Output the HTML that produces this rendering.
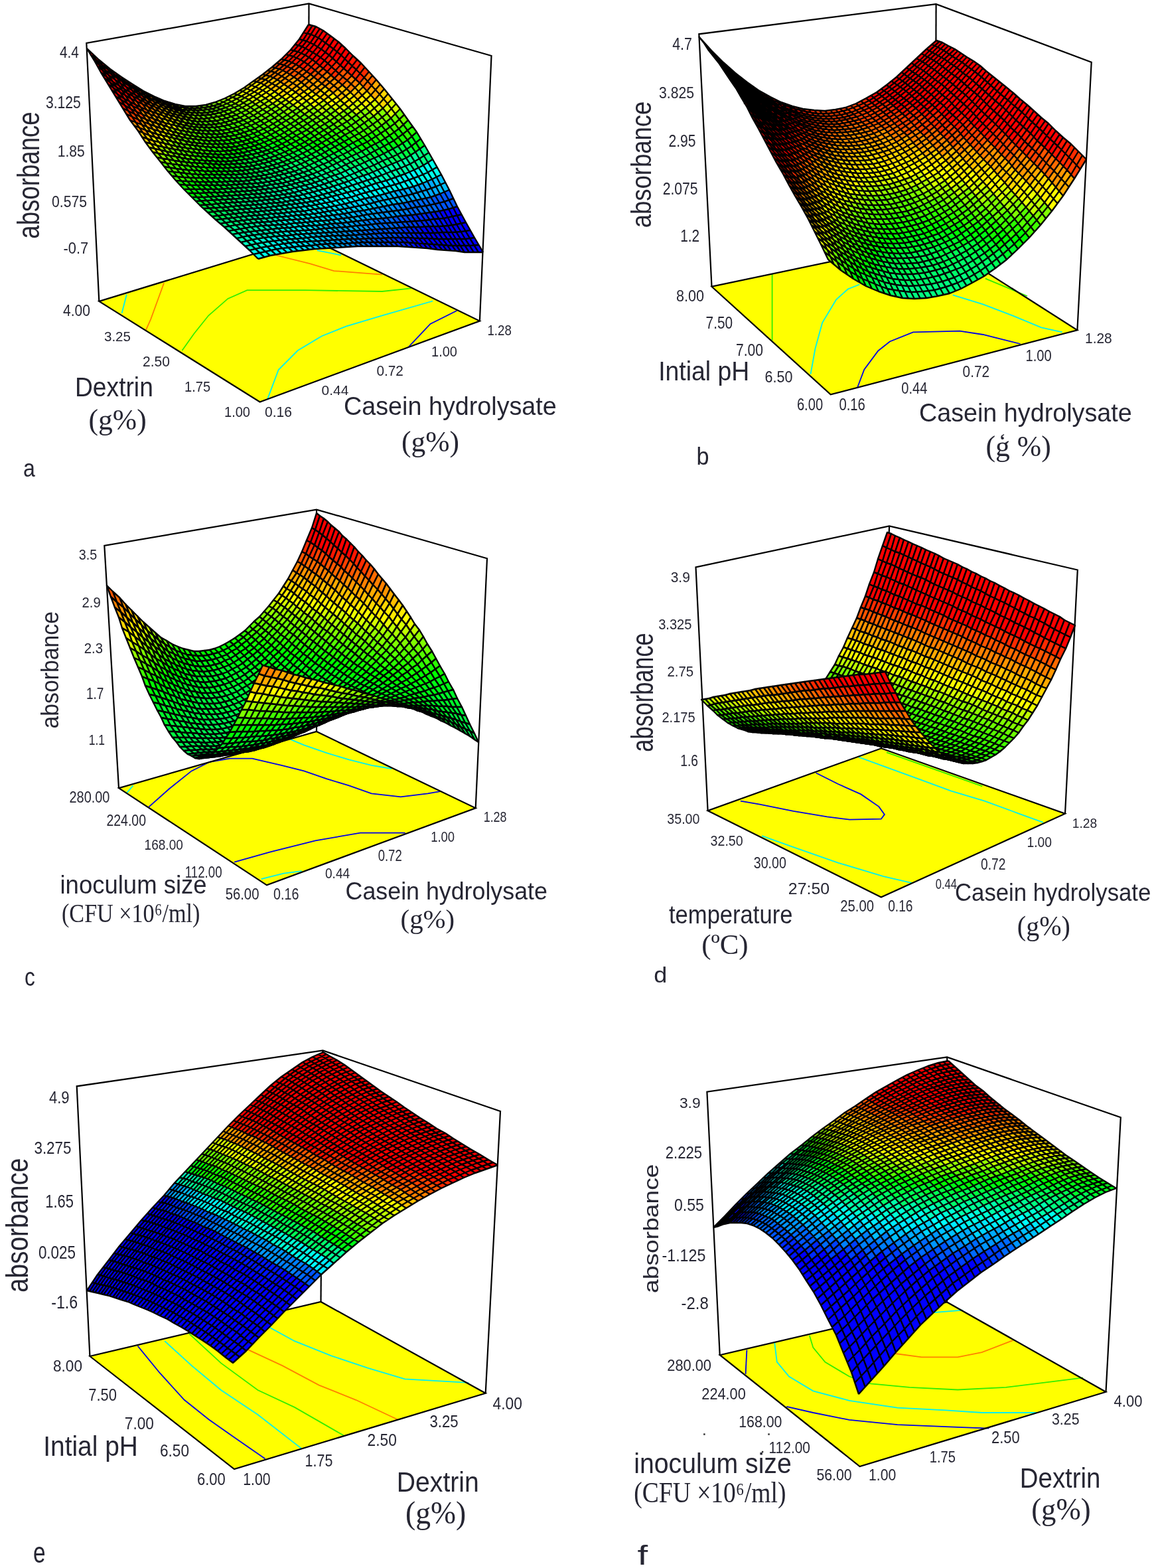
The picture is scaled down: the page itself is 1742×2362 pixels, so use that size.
<!DOCTYPE html>
<html><head><meta charset="utf-8"><title>Response surface plots</title>
<style>
html,body{margin:0;padding:0;background:#fff;}
body{width:1742px;height:2362px;overflow:hidden;}
svg{display:block;}
.ts{font-family:"Liberation Sans",Arial,sans-serif;fill:#262633;}
.tr{font-family:"Liberation Serif","Times New Roman",serif;fill:#262633;}
</style></head><body>
<svg xmlns="http://www.w3.org/2000/svg" width="1742" height="2362" viewBox="0 0 1742 2362">
<g id="pa">
<polyline fill="none" stroke="#000" stroke-width="2.2" points="149.3,453.9 130.3,65 465.5,5.5 740.5,84 722.9,483.5"/>
<line stroke="#000" stroke-width="2.2" x1="465.5" y1="5.5" x2="464.5" y2="357.5"/>
<polygon fill="#ff0" stroke="none" points="149.3,453.9 391.6,605.5 722.9,483.5 464.5,357.5"/>
<polyline fill="none" stroke="#00f0f0" stroke-width="1.8" points="190.8,443.7 183.6,471.7"/>
<polyline fill="none" stroke="#ff8000" stroke-width="1.8" points="247.1,426.3 227.2,480.8 219.9,497.1"/>
<polyline fill="none" stroke="#33ee00" stroke-width="1.8" points="274.4,528 292.5,502.5 314.3,475.3 343.4,449.9 372.4,437.2 459.6,437.2 575.8,439 619.4,434.3"/>
<polyline fill="none" stroke="#00f0f0" stroke-width="1.8" points="403.3,600.6 419.7,557 448.7,528 485,506.2 521.4,491.6 575.8,475.3 652.1,453.5"/>
<polyline fill="none" stroke="#0000e6" stroke-width="1.8" points="615.8,522.5 648.5,488 688.4,468"/>
<polyline fill="none" stroke="#ff8000" stroke-width="1.8" points="416,384.5 466.9,397.2 503.2,408.1 575.8,413.6"/>
<polyline fill="none" stroke="#00f0f0" stroke-width="1.8" points="477.8,377.2 514.1,384.5"/>
<polygon fill="none" stroke="#000" stroke-width="2.2" stroke-linejoin="miter" points="149.3,453.9 391.6,605.5 722.9,483.5 464.5,357.5"/>
<g stroke="none">
<path fill="#00ffea" d="M389 390l18 -5 -14 -12 -17 4zM407 385l17 -3 -13 -12 -18 3zM411 370l17 -3 -13 -11 -17 2zM428 367l17 -2 -14 -10 -16 1zM431 355l17 -2 -13 -10 -16 1zM435 343l17 -2 -13 -10 -17 1zM439 331l16 -1 -13 -11 -16 2zM455 330l16 -2 -13 -10 -16 1zM458 318l16 -3 -13 -10 -15 2zM474 315l16 -2 -13 -11 -16 3zM637 276l14 -6 -13 -21 -14 7zM651 270l14 -7 -13 -23 -14 9z"/>
<path fill="#00ffbf" d="M376 377l17 -4 -13 -12 -17 4zM380 361l18 -3 -13 -10 -17 2zM398 358l17 -2 -13 -10 -17 2zM402 346l17 -2 -13 -10 -17 1zM406 334l16 -2 -12 -10 -17 2zM410 322l16 -1 -12 -10 -17 2zM426 321l16 -2 -12 -10 -16 2zM430 309l16 -2 -13 -10 -16 3zM449 295l16 -4 -13 -10 -15 4zM465 291l15 -4 -12 -10 -16 4zM480 287l15 -4 -12 -11 -15 5zM567 276l15 -4 -13 -16 -14 6zM582 272l14 -5 -13 -17 -14 6z"/>
<path fill="#0fa" d="M363 365l17 -4 -12 -11 -18 3zM385 348l17 -2 -13 -11 -17 2zM389 335l17 -1 -13 -10 -16 1zM393 324l17 -2 -13 -9 -16 1zM397 313l17 -2 -13 -10 -16 2zM414 311l16 -2 -13 -9 -16 1zM417 300l16 -3 -12 -9 -16 2zM433 297l16 -2 -12 -10 -16 3zM495 283l15 -5 -12 -12 -15 6zM510 278l15 -5 -12 -12 -15 5zM525 273l15 -6 -12 -13 -15 7zM596 267l14 -5 -12 -18 -15 6zM610 262l14 -6 -12 -18 -14 6z"/>
<path fill="#00ff95" d="M350 353l18 -3 -13 -11 -17 3zM368 350l17 -2 -13 -11 -17 2zM372 337l17 -2 -12 -10 -17 2zM377 325l16 -1 -12 -10 -17 1zM381 314l16 -1 -12 -10 -16 1zM401 301l16 -1 -12 -10 -16 2zM405 290l16 -2 -12 -10 -16 3zM421 288l16 -3 -12 -9 -16 2zM437 285l15 -4 -12 -9 -15 4zM452 281l16 -4 -12 -10 -16 5zM468 277l15 -5 -12 -10 -15 5zM483 272l15 -6 -12 -10 -15 6zM540 267l15 -5 -13 -14 -14 6zM624 256l14 -7 -12 -20 -14 9z"/>
<path fill="#00ff80" d="M338 342l17 -3 -12 -10 -18 2zM355 339l17 -2 -12 -10 -17 2zM360 327l17 -2 -13 -10 -17 2zM364 315l17 -1 -12 -10 -17 1zM369 304l16 -1 -12 -10 -16 1zM385 303l16 -2 -12 -9 -16 1zM389 292l16 -2 -12 -9 -16 1zM393 281l16 -3 -12 -9 -16 2zM409 278l16 -2 -12 -10 -16 3zM425 276l15 -4 -12 -10 -15 4zM440 272l16 -5 -12 -9 -16 4zM456 267l15 -5 -12 -10 -15 6zM498 266l15 -5 -12 -12 -15 7zM513 261l15 -7 -13 -12 -14 7zM555 262l14 -6 -12 -15 -15 7zM569 256l14 -6 -12 -15 -14 6zM638 249l14 -9 -12 -21 -14 10z"/>
<path fill="#0f5" d="M325 331l18 -2 -13 -11 -17 2zM330 318l17 -1 -12 -11 -17 2zM335 306l17 -1 -12 -10 -17 1zM357 294l16 -1 -12 -10 -16 1zM361 283l16 -1 -12 -9 -16 0zM365 273l16 -2 -11 -9 -16 1zM381 271l16 -2 -12 -9 -15 2zM385 260l16 -3 -12 -9 -15 3zM401 257l15 -4 -11 -9 -16 4zM416 253l16 -5 -12 -9 -15 5zM459 252l15 -7 -12 -9 -15 6zM501 249l14 -7 -12 -11 -14 7zM542 248l15 -7 -12 -13 -15 7zM598 244l14 -6 -12 -18 -15 8z"/>
<path fill="#00ff40" d="M313 320l17 -2 -12 -10 -17 1zM318 308l17 -2 -12 -10 -17 1zM340 295l17 -1 -12 -10 -17 1zM345 284l16 -1 -12 -10 -16 1zM349 273l16 0 -11 -10 -17 0zM370 262l15 -2 -11 -9 -16 1zM374 251l15 -3 -11 -9 -16 2zM389 248l16 -4 -12 -9 -15 4zM405 244l15 -5 -12 -9 -15 5zM432 248l15 -6 -12 -9 -15 6zM447 242l15 -6 -12 -10 -15 7zM474 245l15 -7 -12 -10 -15 8zM515 242l15 -7 -12 -12 -15 8zM557 241l14 -6 -12 -15 -14 8zM612 238l14 -9 -12 -18 -14 9z"/>
<path fill="#00ff2b" d="M301 309l17 -1 -12 -11 -17 0zM323 296l17 -1 -12 -10 -17 0zM328 285l17 -1 -12 -10 -17 0zM333 274l16 -1 -12 -10 -16 0zM354 263l16 -1 -12 -10 -16 1zM358 252l16 -1 -12 -10 -16 2zM378 239l15 -4 -11 -9 -16 4zM393 235l15 -5 -11 -8 -15 4zM420 239l15 -6 -12 -9 -15 6zM462 236l15 -8 -12 -10 -15 8zM489 238l14 -7 -12 -11 -14 8zM530 235l15 -7 -13 -13 -14 8zM571 235l14 -7 -12 -15 -14 7z"/>
<path fill="#0f0" d="M289 297l17 0 -12 -12 -17 0zM294 285l17 0 -12 -11 -17 -1zM321 263l16 0 -11 -10 -17 -1zM326 253l16 0 -12 -10 -16 -1zM330 243l16 0 -11 -10 -16 -1zM351 232l15 -2 -11 -9 -16 1zM366 230l16 -4 -12 -9 -15 4zM382 226l15 -4 -12 -9 -15 4zM397 222l15 -7 -12 -8 -15 6zM423 224l15 -7 -11 -9 -15 7zM450 226l15 -8 -12 -9 -15 8zM477 228l14 -8 -12 -10 -14 8zM518 223l14 -8 -12 -12 -14 9zM545 228l14 -8 -12 -13 -15 8z"/>
<path fill="#15ff00" d="M277 285l17 0 -12 -12 -17 -1zM299 274l17 0 -12 -11 -16 -1zM304 263l17 0 -12 -11 -16 -1zM309 252l17 1 -12 -11 -16 -1zM314 242l16 1 -11 -11 -16 -1zM319 232l16 1 -11 -11 -16 -1zM335 233l16 -1 -12 -10 -15 0zM339 222l16 -1 -11 -10 -16 1zM355 221l15 -4 -11 -9 -15 3zM370 217l15 -4 -11 -9 -15 4zM385 213l15 -6 -11 -9 -15 6zM412 215l15 -7 -12 -9 -15 8zM438 217l15 -8 -12 -9 -14 8zM465 218l14 -8 -11 -10 -15 9zM491 220l15 -8 -12 -11 -15 9zM559 220l14 -7 -12 -14 -14 8zM600 220l14 -9 -13 -17 -14 10z"/>
<path fill="#40ff00" d="M265 272l17 1 -11 -13 -18 -2zM271 260l17 2 -12 -13 -17 -2zM276 249l17 2 -12 -12 -16 -3zM303 231l16 1 -11 -11 -16 -2zM308 221l16 1 -11 -10 -16 -2zM313 212l15 0 -11 -10 -15 -1zM317 202l16 0 -11 -10 -16 0zM333 202l15 -3 -11 -9 -15 2zM348 199l15 -4 -11 -9 -15 4zM363 195l15 -6 -11 -8 -15 5zM389 198l15 -7 -11 -9 -15 7zM415 199l15 -8 -11 -9 -15 9zM441 200l15 -9 -11 -9 -15 9zM468 200l14 -9 -11 -10 -15 10zM494 201l14 -9 -11 -10 -15 9zM520 203l15 -8 -12 -12 -15 9zM547 207l14 -8 -12 -14 -14 10zM587 204l14 -10 -12 -16 -14 11z"/>
<path fill="#5f0" d="M253 258l18 2 -12 -13 -17 -3zM281 239l17 2 -11 -12 -17 -3zM287 229l16 2 -11 -12 -17 -2zM292 219l16 2 -11 -11 -16 -2zM297 210l16 2 -11 -11 -16 -2zM302 201l15 1 -11 -10 -15 -1zM306 192l16 0 -11 -9 -15 0zM322 192l15 -2 -11 -8 -15 1zM337 190l15 -4 -11 -8 -15 4zM352 186l15 -5 -11 -8 -15 5zM378 189l15 -7 -11 -8 -15 7zM404 191l15 -9 -11 -9 -15 9zM430 191l15 -9 -12 -9 -14 9zM456 191l15 -10 -12 -9 -14 10zM535 195l14 -10 -12 -12 -14 10zM561 199l14 -10 -12 -14 -14 10z"/>
<path fill="#95ff00" d="M242 244l17 3 -11 -14 -18 -4zM248 233l17 3 -12 -13 -17 -4zM285 173l15 1 -10 -8 -16 -1zM290 166l15 0 -10 -6 -16 0zM335 159l14 -6 -10 -5 -15 6zM371 166l14 -9 -10 -7 -15 9zM433 173l15 -10 -12 -9 -14 10z"/>
<path fill="#eaff00" d="M230 229l18 4 -12 -14 -17 -5zM236 219l17 4 -11 -14 -17 -5zM264 176l16 4 -11 -10 -16 -5zM375 150l14 -9 -11 -5 -14 9zM364 145l14 -9 -10 -4 -15 9zM411 156l14 -10 -11 -8 -14 10zM448 163l14 -11 -11 -9 -15 11z"/>
<path fill="#ffd500" d="M219 214l17 5 -11 -15 -17 -7zM225 204l17 5 -11 -14 -17 -7zM242 178l17 5 -11 -12 -16 -6zM248 171l16 5 -11 -11 -16 -6zM425 146l15 -11 -12 -8 -14 11zM488 151l14 -11 -12 -10 -14 12zM577 163l14 -14 -12 -15 -14 16z"/>
<path fill="#ff9500" d="M208 197l17 7 -11 -16 -18 -7zM214 188l17 7 -11 -15 -17 -8zM220 180l17 6 -11 -14 -17 -8zM226 172l16 6 -10 -13 -17 -8zM232 165l16 6 -11 -12 -16 -7zM428 127l15 -11 -11 -7 -14 11zM465 133l14 -12 -11 -9 -14 12zM502 140l14 -12 -12 -10 -14 12z"/>
<path fill="#ff4000" d="M196 181l18 7 -11 -16 -18 -9zM203 172l17 8 -11 -16 -17 -8zM210 139l17 9 -11 -11 -16 -10zM432 109l14 -12 -11 -5 -14 12zM421 104l14 -12 -11 -3 -14 12z"/>
<path fill="#ff1500" d="M185 163l18 9 -11 -16 -18 -11zM192 156l17 8 -11 -15 -17 -10zM198 149l17 8 -11 -14 -17 -9zM204 143l17 9 -11 -13 -16 -10zM457 104l14 -14 -11 -7 -14 14zM446 97l14 -14 -11 -5 -14 14zM435 92l14 -14 -11 -3 -14 14zM493 108l14 -15 -11 -10 -14 16zM530 114l14 -19 -12 -11 -14 19z"/>
<path fill="#f00" d="M174 145l18 11 -11 -17 -18 -12zM163 127l18 12 -11 -16 -18 -14zM152 109l18 14 -11 -17 -17 -15zM142 91l17 15 -10 -16 -18 -17zM181 139l17 10 -11 -15 -17 -11zM170 123l17 11 -10 -16 -18 -12zM159 106l18 12 -11 -14 -17 -14zM187 134l17 9 -10 -14 -17 -11zM177 118l17 11 -11 -13 -17 -12zM194 129l16 10 -10 -12 -17 -11zM482 99l14 -16 -12 -9 -13 16zM471 90l13 -16 -11 -7 -13 16zM460 83l13 -16 -11 -5 -13 16zM449 78l13 -16 -11 -3 -13 16zM518 103l14 -19 -11 -11 -14 20zM507 93l14 -20 -11 -10 -14 20zM496 83l14 -20 -12 -9 -14 20zM484 74l14 -20 -11 -8 -14 21zM473 67l14 -21 -11 -6 -14 22zM462 62l14 -22 -11 -3 -14 22z"/>
<path fill="#00ffd4" d="M393 373l18 -3 -13 -12 -18 3zM415 356l16 -1 -12 -11 -17 2zM419 344l16 -1 -13 -11 -16 2zM422 332l17 -1 -13 -10 -16 1zM442 319l16 -1 -12 -11 -16 2zM446 307l15 -2 -12 -10 -16 2zM461 305l16 -3 -12 -11 -16 4zM477 302l15 -4 -12 -11 -15 4zM492 298l16 -4 -13 -11 -15 4zM508 294l15 -4 -13 -12 -15 5zM523 290l15 -4 -13 -13 -15 5zM538 286l14 -5 -12 -14 -15 6zM552 281l15 -5 -12 -14 -15 5z"/>
<path fill="#00ff6a" d="M343 329l17 -2 -13 -10 -17 1zM347 317l17 -2 -12 -10 -17 1zM352 305l17 -1 -12 -10 -17 1zM373 293l16 -1 -12 -10 -16 1zM377 282l16 -1 -12 -10 -16 2zM397 269l16 -3 -12 -9 -16 3zM413 266l15 -4 -12 -9 -15 4zM428 262l16 -4 -12 -10 -16 5zM444 258l15 -6 -12 -10 -15 6zM471 262l15 -6 -12 -11 -15 7zM486 256l15 -7 -12 -11 -15 7zM528 254l14 -6 -12 -13 -15 7zM583 250l15 -6 -13 -16 -14 7z"/>
<path fill="#00ff15" d="M306 297l17 -1 -12 -11 -17 0zM311 285l17 0 -12 -11 -17 0zM316 274l17 0 -12 -11 -17 0zM337 263l17 0 -12 -10 -16 0zM342 253l16 -1 -12 -9 -16 0zM346 243l16 -2 -11 -9 -16 1zM362 241l16 -2 -12 -9 -15 2zM408 230l15 -6 -11 -9 -15 7zM435 233l15 -7 -12 -9 -15 7zM503 231l15 -8 -12 -11 -15 8zM585 228l15 -8 -13 -16 -14 9zM626 229l14 -10 -12 -20 -14 12z"/>
<path fill="#2aff00" d="M282 273l17 1 -11 -12 -17 -2zM288 262l16 1 -11 -12 -17 -2zM293 251l16 1 -11 -11 -17 -2zM298 241l16 1 -11 -11 -16 -2zM324 222l15 0 -11 -10 -15 0zM328 212l16 -1 -11 -9 -16 0zM344 211l15 -3 -11 -9 -15 3zM359 208l15 -4 -11 -9 -15 4zM374 204l15 -6 -11 -9 -15 6zM400 207l15 -8 -11 -8 -15 7zM427 208l14 -8 -11 -9 -15 8zM453 209l15 -9 -12 -9 -15 9zM479 210l15 -9 -12 -10 -14 9zM506 212l14 -9 -12 -11 -14 9zM532 215l15 -8 -12 -12 -15 8zM573 213l14 -9 -12 -15 -14 10zM614 211l14 -12 -13 -18 -14 13z"/>
<path fill="#6aff00" d="M259 247l17 2 -11 -13 -17 -3zM265 236l16 3 -11 -13 -17 -3zM270 226l17 3 -12 -12 -16 -4zM275 217l17 2 -11 -11 -17 -4zM281 208l16 2 -11 -11 -16 -3zM286 199l16 2 -11 -10 -16 -3zM291 191l15 1 -10 -9 -16 -3zM311 183l15 -1 -10 -9 -16 1zM326 182l15 -4 -10 -8 -15 3zM316 173l15 -3 -11 -6 -15 2zM341 178l15 -5 -11 -8 -14 5zM331 170l14 -5 -10 -6 -15 5zM367 181l15 -7 -11 -8 -15 7zM356 173l15 -7 -11 -7 -15 6zM393 182l15 -9 -12 -8 -14 9zM419 182l14 -9 -11 -9 -14 9zM445 182l14 -10 -11 -9 -15 10zM482 191l15 -9 -12 -10 -14 9zM508 192l15 -9 -12 -11 -14 10zM601 194l14 -13 -12 -17 -14 14z"/>
<path fill="#0ff" d="M424 382l17 -3 -13 -12 -17 3zM445 365l16 -1 -13 -11 -17 2zM448 353l16 -1 -12 -11 -17 2zM452 341l16 -1 -13 -10 -16 1zM471 328l16 -2 -13 -11 -16 3zM490 313l15 -3 -13 -12 -15 4zM505 310l15 -3 -12 -13 -16 4zM520 307l15 -4 -12 -13 -15 4zM535 303l15 -4 -12 -13 -15 4zM550 299l15 -3 -13 -15 -14 5zM565 296l15 -4 -13 -16 -15 5zM580 292l14 -4 -12 -16 -15 4zM594 288l14 -3 -12 -18 -14 5zM608 285l15 -4 -13 -19 -14 5zM623 281l14 -5 -13 -20 -14 6z"/>
<path fill="#af0" d="M253 223l17 3 -11 -13 -17 -4zM259 213l16 4 -11 -13 -16 -4zM264 204l17 4 -11 -12 -17 -5zM270 196l16 3 -11 -11 -16 -5zM275 188l16 3 -11 -11 -16 -4zM280 180l16 3 -11 -10 -16 -3zM360 159l15 -9 -11 -5 -15 8zM396 165l15 -9 -11 -8 -15 9zM459 172l14 -10 -11 -10 -14 11z"/>
<path fill="#ff0" d="M242 209l17 4 -11 -13 -17 -5zM248 200l16 4 -11 -13 -16 -5zM253 191l17 5 -11 -13 -17 -5zM259 183l16 5 -11 -12 -16 -5zM259 161l15 4 -10 -8 -16 -5zM400 148l14 -10 -11 -7 -14 10zM436 154l15 -11 -11 -8 -15 11zM473 162l15 -11 -12 -9 -14 10zM499 161l14 -10 -11 -11 -14 11z"/>
<path fill="#ffbf00" d="M231 195l17 5 -11 -14 -17 -6zM237 186l16 5 -11 -13 -16 -6zM243 155l16 6 -11 -9 -16 -7zM414 138l14 -11 -10 -7 -15 11zM403 131l15 -11 -11 -5 -14 10zM451 143l14 -10 -11 -9 -14 11zM513 151l15 -12 -12 -11 -14 12zM539 150l14 -13 -11 -12 -14 14z"/>
<path fill="#f50" d="M209 164l17 8 -11 -15 -17 -8zM215 157l17 8 -11 -13 -17 -9zM443 116l14 -12 -11 -7 -14 12zM479 121l14 -13 -11 -9 -14 13zM516 128l14 -14 -12 -11 -14 15z"/>
<path fill="#00eaff" d="M441 379l17 -2 -13 -12 -17 2zM458 377l16 -2 -13 -11 -16 1zM461 364l17 -1 -14 -11 -16 1zM464 352l17 -1 -13 -11 -16 1zM468 340l16 -1 -13 -11 -16 2zM484 339l15 -2 -12 -11 -16 2zM487 326l15 -2 -12 -11 -16 2zM502 324l16 -2 -13 -12 -15 3z"/>
<path fill="#ff6a00" d="M221 152l16 7 -10 -11 -17 -9zM454 124l14 -12 -11 -8 -14 12zM553 137l14 -17 -11 -12 -14 17z"/>
<path fill="#00d4ff" d="M474 375l17 -1 -13 -11 -17 1zM478 363l16 -1 -13 -11 -17 1zM481 351l16 -1 -13 -11 -16 1zM499 337l16 -1 -13 -12 -15 2zM518 322l15 -3 -13 -12 -15 3zM533 319l15 -2 -13 -14 -15 4zM548 317l15 -3 -13 -15 -15 4z"/>
<path fill="#fa0" d="M237 159l16 6 -10 -10 -16 -7zM393 125l14 -10 -11 -3 -14 10zM440 135l14 -11 -11 -8 -15 11zM476 142l14 -12 -11 -9 -14 12zM565 150l14 -16 -12 -14 -14 17z"/>
<path fill="#ff8000" d="M227 148l16 7 -11 -10 -16 -8zM418 120l14 -11 -11 -5 -14 11zM407 115l14 -11 -11 -3 -14 11zM490 130l14 -12 -11 -10 -14 13zM528 139l14 -14 -12 -11 -14 14z"/>
<path fill="#00bfff" d="M491 374l16 -1 -13 -11 -16 1zM494 362l16 -1 -13 -11 -16 1zM497 350l15 -1 -13 -12 -15 2zM515 336l16 -2 -13 -12 -16 2zM531 334l15 -2 -13 -13 -15 3zM563 314l15 -3 -13 -15 -15 3zM578 311l14 -3 -12 -16 -15 4zM592 308l15 -2 -13 -18 -14 4zM663 292l14 -6 -12 -23 -14 7z"/>
<path fill="#ffea00" d="M253 165l16 5 -10 -9 -16 -6zM389 141l14 -10 -10 -6 -15 11zM378 136l15 -11 -11 -3 -14 10zM462 152l14 -10 -11 -9 -14 10zM525 162l14 -12 -11 -11 -15 12zM551 162l14 -12 -12 -13 -14 13z"/>
<path fill="#0af" d="M507 373l16 -1 -13 -11 -16 1zM510 361l16 -1 -14 -11 -15 1zM512 349l16 -1 -13 -12 -16 1zM528 348l16 -1 -13 -13 -16 2zM546 332l15 -2 -13 -13 -15 2zM561 330l15 -1 -13 -15 -15 3zM607 306l14 -3 -13 -18 -14 3zM621 303l14 -3 -12 -19 -15 4zM635 300l14 -3 -12 -21 -14 5zM649 297l14 -5 -12 -22 -14 6z"/>
<path fill="#d5ff00" d="M269 170l16 3 -11 -8 -15 -4zM385 157l15 -9 -11 -7 -14 9zM511 172l14 -10 -12 -11 -14 10zM537 173l14 -11 -12 -12 -14 12zM563 175l14 -12 -12 -13 -14 12zM589 178l14 -14 -12 -15 -14 14z"/>
<path fill="#0095ff" d="M523 372l16 -1 -13 -11 -16 1zM526 360l15 0 -13 -12 -16 1zM544 347l15 -1 -13 -14 -15 2zM576 329l15 -2 -13 -16 -15 3zM591 327l14 -2 -13 -17 -14 3z"/>
<path fill="#80ff00" d="M296 183l15 0 -11 -9 -15 -1zM300 174l16 -1 -11 -7 -15 0zM305 166l15 -2 -10 -6 -15 2zM320 164l15 -5 -11 -5 -14 4zM345 165l15 -6 -11 -6 -14 6zM382 174l14 -9 -11 -8 -14 9zM408 173l14 -9 -11 -8 -15 9zM471 181l14 -9 -12 -10 -14 10zM497 182l14 -10 -12 -11 -14 11zM523 183l14 -10 -12 -11 -14 10zM549 185l14 -10 -12 -13 -14 11zM575 189l14 -11 -12 -15 -14 12z"/>
<path fill="#bfff00" d="M274 165l16 1 -11 -6 -15 -3zM349 153l15 -8 -11 -4 -14 7zM422 164l14 -10 -11 -8 -14 10zM485 172l14 -11 -11 -10 -15 11z"/>
<path fill="#0080ff" d="M539 371l16 0 -14 -11 -15 0zM541 360l16 -1 -13 -12 -16 1zM559 346l15 -1 -13 -15 -15 2zM605 325l15 -1 -13 -18 -15 2z"/>
<path fill="#006aff" d="M555 371l15 0 -13 -12 -16 1zM557 359l15 0 -13 -13 -15 1zM574 345l15 -1 -13 -15 -15 1zM589 344l14 -1 -12 -16 -15 2zM620 324l14 -2 -13 -19 -14 3zM634 322l14 -2 -13 -20 -14 3zM648 320l14 -2 -13 -21 -14 3z"/>
<path fill="#05f" d="M570 371l15 0 -13 -12 -15 0zM572 359l15 -1 -13 -13 -15 1zM587 358l15 0 -13 -14 -15 1zM603 343l15 -1 -13 -17 -14 2zM662 318l14 -3 -13 -23 -14 5zM676 315l13 -4 -12 -25 -14 6z"/>
<path fill="#0040ff" d="M585 371l15 0 -13 -13 -15 1zM602 358l15 0 -14 -15 -14 1zM618 342l14 0 -12 -18 -15 1z"/>
<path fill="#002aff" d="M600 371l15 1 -13 -14 -15 0zM617 358l14 1 -13 -17 -15 1zM632 342l15 -1 -13 -19 -14 2zM647 341l14 0 -13 -21 -14 2z"/>
<path fill="#0015ff" d="M615 372l15 1 -13 -15 -15 0zM631 359l14 0 -13 -17 -14 0zM661 341l14 -1 -13 -22 -14 2z"/>
<path fill="#00f" d="M630 373l14 1 -13 -15 -14 -1zM644 374l15 2 -14 -17 -14 0zM659 376l14 1 -13 -17 -15 -1zM645 359l15 1 -13 -19 -15 1zM673 377l14 1 -13 -18 -14 0zM660 360l14 0 -13 -19 -14 0zM687 378l13 2 -13 -20 -13 0zM674 360l13 0 -12 -20 -14 1zM700 380l14 0 -13 -20 -14 0zM687 360l14 0 -13 -22 -13 2zM675 340l13 -2 -12 -23 -14 3zM714 380l14 0 -13 -22 -14 2zM701 360l14 -2 -13 -23 -14 3zM688 338l14 -3 -13 -24 -13 4z"/>
<path fill="#ff2a00" d="M468 112l14 -13 -11 -9 -14 14zM504 118l14 -15 -11 -10 -14 15zM542 125l14 -17 -12 -13 -14 19z"/>
</g>
<path fill="none" stroke="#000" stroke-width="2.40" stroke-linejoin="round" d="M389 390 376 377 363 365 350 353 338 342 325 331 313 320 301 309 289 297 277 285 265 272 253 258 242 244 230 229 219 214 208 197 196 181 185 163 174 145 163 127 152 109 142 91 131 73M398 387 385 375 372 363 359 351 346 341 334 330 322 319 309 308 297 297 286 285 274 273 262 260 251 246 239 232 228 217 216 201 205 185 194 168 183 151 172 134 161 116 150 99 140 82M407 385 393 373 380 361 368 350 355 339 343 329 330 318 318 308 306 297 294 285 282 273 271 260 259 247 248 233 236 219 225 204 214 188 203 172 192 156 181 139 170 123 159 106 149 90M415 383 402 371 389 360 376 349 364 338 351 328 339 317 327 307 315 296 303 285 291 273 279 261 268 248 256 235 245 221 234 207 222 192 211 176 200 160 189 144 179 128 168 112 157 97M424 382 411 370 398 358 385 348 372 337 360 327 347 317 335 306 323 296 311 285 299 274 288 262 276 249 265 236 253 223 242 209 231 195 220 180 209 164 198 149 187 134 177 118 166 104M432 380 419 368 406 357 393 347 381 336 368 326 356 316 344 306 331 295 320 285 308 274 296 262 285 250 273 238 262 225 250 211 239 197 228 183 217 168 206 153 196 139 185 124 175 110M441 379 428 367 415 356 402 346 389 335 377 325 364 315 352 305 340 295 328 285 316 274 304 263 293 251 281 239 270 226 259 213 248 200 237 186 226 172 215 157 204 143 194 129 183 116M449 378 436 366 423 355 410 345 397 335 385 324 373 315 360 305 348 295 336 284 324 274 313 263 301 252 290 240 278 228 267 215 256 202 245 189 234 175 223 161 213 148 202 134 191 122M458 377 445 365 431 355 419 344 406 334 393 324 381 314 369 304 357 294 345 284 333 274 321 263 309 252 298 241 287 229 275 217 264 204 253 191 242 178 232 165 221 152 210 139 200 127M466 376 453 365 440 354 427 343 414 333 402 323 389 313 377 303 365 294 353 284 341 274 329 263 318 252 306 241 295 230 284 218 272 206 261 193 251 181 240 168 229 156 218 143 208 132M474 375 461 364 448 353 435 343 422 332 410 322 397 313 385 303 373 293 361 283 349 273 337 263 326 253 314 242 303 231 292 219 281 208 270 196 259 183 248 171 237 159 227 148 216 137M483 374 469 363 456 353 443 342 431 332 418 322 406 312 393 302 381 292 369 283 357 273 346 263 334 253 322 242 311 232 300 221 289 209 278 197 267 186 256 174 245 162 235 151 224 141M491 374 478 363 464 352 452 341 439 331 426 321 414 311 401 301 389 292 377 282 365 273 354 263 342 253 330 243 319 232 308 221 297 210 286 199 275 188 264 176 253 165 243 155 232 145M499 373 486 362 473 352 460 341 447 330 434 320 422 310 409 301 397 291 385 282 373 272 362 262 350 253 338 243 327 233 316 222 305 211 294 200 283 189 272 179 261 168 251 158 240 149M507 373 494 362 481 351 468 340 455 330 442 319 430 309 417 300 405 290 393 281 381 271 370 262 358 252 346 243 335 233 324 222 313 212 302 201 291 191 280 180 269 170 259 161 248 152M515 372 502 361 489 350 476 340 463 329 450 318 438 308 425 299 413 289 401 280 389 270 377 261 366 252 354 242 343 232 332 222 321 212 309 202 299 192 288 182 277 172 267 163 256 155M523 372 510 361 497 350 484 339 471 328 458 318 446 307 433 297 421 288 409 278 397 269 385 260 374 251 362 241 351 232 339 222 328 212 317 202 306 192 296 183 285 173 274 165 264 157M531 372 518 361 505 349 492 338 479 327 466 316 454 306 441 296 429 287 417 277 405 268 393 259 381 250 370 240 359 231 347 222 336 212 325 202 314 193 303 183 293 174 282 166 272 159M539 371 526 360 512 349 499 337 487 326 474 315 461 305 449 295 437 285 425 276 413 266 401 257 389 248 378 239 366 230 355 221 344 211 333 202 322 192 311 183 300 174 290 166 279 160M547 371 533 360 520 348 507 337 494 325 482 314 469 303 457 293 445 283 432 274 420 264 409 255 397 246 385 237 374 228 363 219 351 210 340 201 329 192 319 183 308 174 297 167 287 160M555 371 541 360 528 348 515 336 502 324 490 313 477 302 465 291 452 281 440 272 428 262 416 253 405 244 393 235 382 226 370 217 359 208 348 199 337 190 326 182 316 173 305 166 295 160M562 371 549 359 536 347 523 335 510 323 497 311 485 300 472 289 460 279 448 270 436 260 424 251 412 242 401 233 389 224 378 215 367 206 356 197 345 189 334 180 323 172 313 165 302 160M570 371 557 359 544 347 531 334 518 322 505 310 492 298 480 287 468 277 456 267 444 258 432 248 420 239 408 230 397 222 385 213 374 204 363 195 352 186 341 178 331 170 320 164 310 158M578 371 564 359 551 346 538 333 525 321 513 308 500 296 488 285 475 275 463 264 451 255 439 245 427 236 416 228 404 219 393 210 382 201 371 192 360 184 349 176 338 168 327 162 317 157M585 371 572 359 559 346 546 332 533 319 520 307 508 294 495 283 483 272 471 262 459 252 447 242 435 233 423 224 412 215 400 207 389 198 378 189 367 181 356 173 345 165 335 159 324 154M593 371 579 358 566 345 553 331 541 318 528 305 515 292 503 281 490 269 478 259 466 249 454 239 442 230 431 221 419 212 408 203 397 194 385 186 374 177 364 170 353 162 342 156 332 152M600 371 587 358 574 345 561 330 548 317 535 303 523 290 510 278 498 266 486 256 474 245 462 236 450 226 438 217 427 208 415 199 404 191 393 182 382 174 371 166 360 159 349 153 339 148M608 372 594 358 581 344 568 330 556 315 543 301 530 288 518 275 505 264 493 252 481 242 469 232 457 222 446 213 434 204 423 195 411 186 400 178 389 170 378 162 367 155 357 149 346 145M615 372 602 358 589 344 576 329 563 314 550 299 538 286 525 273 513 261 501 249 489 238 477 228 465 218 453 209 441 200 430 191 419 182 408 173 396 165 385 157 375 150 364 145 353 141M623 373 609 358 596 343 583 328 570 312 558 298 545 283 533 270 520 257 508 246 496 235 484 224 472 214 460 205 449 195 437 186 426 178 415 169 404 161 393 153 382 146 371 140 361 136M630 373 617 358 603 343 591 327 578 311 565 296 552 281 540 267 528 254 515 242 503 231 491 220 479 210 468 200 456 191 445 182 433 173 422 164 411 156 400 148 389 141 378 136 368 132M637 374 624 359 611 342 598 326 585 310 572 294 560 279 547 264 535 251 523 239 511 227 499 216 487 206 475 196 463 186 452 177 441 168 429 159 418 151 407 143 396 136 385 131 375 127M644 374 631 359 618 342 605 325 592 308 580 292 567 276 555 262 542 248 530 235 518 223 506 212 494 201 482 191 471 181 459 172 448 163 436 154 425 146 414 138 403 131 393 125 382 122M651 375 638 359 625 342 612 324 600 307 587 290 574 274 562 259 550 245 537 231 525 219 513 208 501 197 489 186 478 177 466 167 455 158 444 149 432 140 421 132 410 126 400 120 389 117M659 376 645 359 632 342 620 324 607 306 594 288 582 272 569 256 557 241 545 228 532 215 520 203 508 192 497 182 485 172 473 162 462 152 451 143 440 135 428 127 418 120 407 115 396 112M666 376 653 360 640 341 627 323 614 304 601 286 589 269 576 253 564 238 552 224 540 211 528 199 516 188 504 177 492 167 481 157 469 147 458 138 447 129 436 122 425 115 414 109 403 106M673 377 660 360 647 341 634 322 621 303 608 285 596 267 583 250 571 235 559 220 547 207 535 195 523 183 511 172 499 161 488 151 476 142 465 133 454 124 443 116 432 109 421 104 410 101M680 378 667 360 654 341 641 321 628 302 616 283 603 264 591 247 578 231 566 217 554 203 542 190 530 178 518 167 506 156 495 146 483 136 472 127 461 118 450 110 439 103 428 98 417 95M687 378 674 360 661 341 648 320 635 300 623 281 610 262 598 244 585 228 573 213 561 199 549 185 537 173 525 162 513 151 502 140 490 130 479 121 468 112 457 104 446 97 435 92 424 89M694 379 681 360 668 340 655 319 642 299 630 278 617 259 605 241 592 224 580 208 568 194 556 181 544 168 532 156 521 145 509 134 497 124 486 115 475 106 464 97 453 90 442 85 431 82M700 380 687 360 675 340 662 318 649 297 637 276 624 256 612 238 600 220 587 204 575 189 563 175 551 162 539 150 528 139 516 128 504 118 493 108 482 99 471 90 460 83 449 78 438 75M707 380 694 360 681 339 669 317 656 295 644 273 631 253 619 234 607 216 594 199 582 184 570 170 558 156 546 144 535 132 523 121 511 111 500 101 489 91 478 83 466 76 455 70 445 67M714 380 701 360 688 338 676 315 663 292 651 270 638 249 626 229 614 211 601 194 589 178 577 163 565 150 553 137 542 125 530 114 518 103 507 93 496 83 484 74 473 67 462 62 451 59M721 380 708 359 695 337 683 313 670 290 658 267 645 245 633 225 621 206 608 188 596 172 584 156 572 142 560 129 549 117 537 105 525 94 514 83 503 74 491 65 480 57 469 52 458 49M728 380 715 358 702 335 689 311 677 286 665 263 652 240 640 219 628 199 615 181 603 164 591 149 579 134 567 120 556 108 544 95 532 84 521 73 510 63 498 54 487 46 476 40 465 37M389 390 407 385 424 382 441 379 458 377 474 375 491 374 507 373 523 372 539 371 555 371 570 371 585 371 600 371 615 372 630 373 644 374 659 376 673 377 687 378 700 380 714 380 728 380M382 383 400 379 417 375 434 373 451 371 468 370 484 368 500 367 516 367 532 366 548 365 563 365 579 365 594 365 609 365 623 366 638 367 652 368 666 369 680 370 694 370 708 370 721 369M376 377 393 373 411 370 428 367 445 365 461 364 478 363 494 362 510 361 526 360 541 360 557 359 572 359 587 358 602 358 617 358 631 359 645 359 660 360 674 360 687 360 701 360 715 358M369 371 387 367 404 364 421 362 438 360 455 359 471 357 487 356 503 355 519 355 535 354 550 353 565 352 580 351 595 351 610 351 625 351 639 351 653 351 667 350 681 350 695 349 708 347M363 365 380 361 398 358 415 356 431 355 448 353 464 352 481 351 497 350 512 349 528 348 544 347 559 346 574 345 589 344 603 343 618 342 632 342 647 341 661 341 675 340 688 338 702 335M357 359 374 355 391 353 408 351 425 349 442 348 458 347 474 346 490 344 506 343 522 342 537 340 552 339 567 337 582 336 597 335 612 334 626 333 640 332 654 330 668 329 682 326 696 323M350 353 368 350 385 348 402 346 419 344 435 343 452 341 468 340 484 339 499 337 515 336 531 334 546 332 561 330 576 329 591 327 605 325 620 324 634 322 648 320 662 318 676 315 689 311M344 348 361 345 378 342 395 340 412 339 429 338 445 336 461 335 477 333 493 332 509 330 524 328 539 326 554 323 569 321 584 319 599 317 613 315 627 312 642 310 656 307 669 304 683 299M338 342 355 339 372 337 389 335 406 334 422 332 439 331 455 330 471 328 487 326 502 324 518 322 533 319 548 317 563 314 578 311 592 308 607 306 621 303 635 300 649 297 663 292 677 286M331 337 349 334 366 332 383 330 400 329 416 327 432 326 449 324 465 323 480 321 496 318 511 316 527 313 542 310 557 307 571 303 586 300 600 297 615 294 629 290 643 286 657 281 671 275M325 331 343 329 360 327 377 325 393 324 410 322 426 321 442 319 458 318 474 315 490 313 505 310 520 307 535 303 550 299 565 296 580 292 594 288 608 285 623 281 637 276 651 270 665 263M319 326 336 324 353 322 370 320 387 319 404 317 420 316 436 314 452 312 468 310 483 307 499 304 514 300 529 297 544 292 559 288 573 284 588 280 602 276 616 271 630 266 644 260 658 252M313 320 330 318 347 317 364 315 381 314 397 313 414 311 430 309 446 307 461 305 477 302 492 298 508 294 523 290 538 286 552 281 567 276 582 272 596 267 610 262 624 256 638 249 652 240M307 314 324 313 341 312 358 310 375 309 391 308 407 306 424 305 439 302 455 300 471 297 486 293 501 289 516 284 531 279 546 274 561 269 575 264 590 258 604 253 618 247 632 239 646 230M301 309 318 308 335 306 352 305 369 304 385 303 401 301 417 300 433 297 449 295 465 291 480 287 495 283 510 278 525 273 540 267 555 262 569 256 583 250 598 244 612 238 626 229 640 219M295 303 312 302 329 301 346 300 363 299 379 298 395 297 411 295 427 293 443 290 458 286 474 282 489 277 504 272 519 267 534 261 548 255 563 249 577 242 592 236 606 229 620 220 634 209M289 297 306 297 323 296 340 295 357 294 373 293 389 292 405 290 421 288 437 285 452 281 468 277 483 272 498 266 513 261 528 254 542 248 557 241 571 235 585 228 600 220 614 211 628 199M283 291 300 291 317 290 334 290 351 289 367 288 383 287 399 285 415 283 431 280 446 276 462 272 477 267 492 261 507 255 521 248 536 241 551 235 565 227 579 220 593 212 607 202 622 190M277 285 294 285 311 285 328 285 345 284 361 283 377 282 393 281 409 278 425 276 440 272 456 267 471 262 486 256 501 249 515 242 530 235 545 228 559 220 573 213 587 204 601 194 615 181M271 278 288 279 305 279 322 279 339 279 355 278 371 277 387 276 403 274 419 271 434 267 450 262 465 257 480 250 495 244 509 236 524 229 538 221 553 214 567 205 581 196 595 186 609 173M265 272 282 273 299 274 316 274 333 274 349 273 365 273 381 271 397 269 413 266 428 262 444 258 459 252 474 245 489 238 503 231 518 223 532 215 547 207 561 199 575 189 589 178 603 164M259 265 276 267 293 268 310 268 327 268 343 268 359 268 375 267 391 265 407 262 422 258 438 253 453 247 468 240 483 233 497 225 512 217 526 209 541 201 555 192 569 182 583 171 597 156M253 258 271 260 288 262 304 263 321 263 337 263 354 263 370 262 385 260 401 257 416 253 432 248 447 242 462 236 477 228 491 220 506 212 520 203 535 195 549 185 563 175 577 163 591 149M248 251 265 254 282 256 299 257 315 258 332 258 348 258 364 257 379 255 395 253 410 249 426 244 441 238 456 231 471 223 485 215 500 206 514 198 529 189 543 179 557 169 571 157 585 141M242 244 259 247 276 249 293 251 309 252 326 253 342 253 358 252 374 251 389 248 405 244 420 239 435 233 450 226 465 218 479 210 494 201 508 192 523 183 537 173 551 162 565 150 579 134M236 237 253 240 270 243 287 245 304 246 320 247 336 248 352 247 368 246 383 244 399 240 414 235 429 229 444 222 459 214 474 205 488 196 503 187 517 177 531 167 545 156 559 143 573 127M230 229 248 233 265 236 281 239 298 241 314 242 330 243 346 243 362 241 378 239 393 235 408 230 423 224 438 217 453 209 468 200 482 191 497 182 511 172 525 162 539 150 553 137 567 120M225 222 242 226 259 230 276 233 292 235 309 236 325 237 341 238 356 237 372 234 387 231 403 226 418 220 432 213 447 204 462 196 476 186 491 177 505 167 519 156 533 145 547 131 561 114M219 214 236 219 253 223 270 226 287 229 303 231 319 232 335 233 351 232 366 230 382 226 397 222 412 215 427 208 441 200 456 191 471 181 485 172 499 161 513 151 528 139 542 125 556 108M213 206 231 212 248 216 264 220 281 223 297 225 313 227 329 228 345 227 361 225 376 222 391 217 406 211 421 204 436 195 450 186 465 177 479 167 493 156 508 146 522 134 536 119 550 101M208 197 225 204 242 209 259 213 275 217 292 219 308 221 324 222 339 222 355 221 370 217 385 213 400 207 415 199 430 191 445 182 459 172 473 162 488 151 502 140 516 128 530 114 544 95M202 189 219 196 236 202 253 206 270 210 286 214 302 216 318 217 334 217 349 216 365 213 380 208 395 202 410 195 424 186 439 177 453 167 468 157 482 147 496 135 510 123 524 108 538 90M196 181 214 188 231 195 248 200 264 204 281 208 297 210 313 212 328 212 344 211 359 208 374 204 389 198 404 191 419 182 433 173 448 163 462 152 476 142 490 130 504 118 518 103 532 84M191 172 208 180 225 187 242 193 259 198 275 202 291 205 307 207 323 207 338 206 354 204 369 199 384 194 398 186 413 178 428 168 442 158 456 148 471 137 485 126 499 113 513 98 527 78M185 163 203 172 220 180 237 186 253 191 270 196 286 199 302 201 317 202 333 202 348 199 363 195 378 189 393 182 408 173 422 164 436 154 451 143 465 133 479 121 493 108 507 93 521 73M180 154 197 164 214 172 231 179 248 185 264 189 280 193 296 196 312 197 327 197 343 195 358 191 373 185 387 178 402 169 416 160 431 150 445 139 459 128 473 116 487 103 501 88 515 68M174 145 192 156 209 164 226 172 242 178 259 183 275 188 291 191 306 192 322 192 337 190 352 186 367 181 382 174 396 165 411 156 425 146 440 135 454 124 468 112 482 99 496 83 510 63M169 136 186 148 203 157 220 165 237 171 253 177 269 182 285 186 301 188 316 188 332 186 347 182 362 177 376 170 391 161 405 152 420 142 434 131 448 120 462 108 476 94 490 79 504 58M163 127 181 139 198 149 215 157 232 165 248 171 264 176 280 180 296 183 311 183 326 182 341 178 356 173 371 166 385 157 400 148 414 138 428 127 443 116 457 104 471 90 484 74 498 54M158 118 175 131 193 141 210 150 226 158 243 165 259 171 275 175 290 178 306 179 321 177 336 174 351 169 365 162 380 154 394 144 409 134 423 123 437 112 451 100 465 87 479 70 493 50M152 109 170 123 187 134 204 143 221 152 237 159 253 165 269 170 285 173 300 174 316 173 331 170 345 165 360 159 375 150 389 141 403 131 418 120 432 109 446 97 460 83 473 67 487 46M147 100 165 114 182 126 199 136 216 145 232 153 248 160 264 165 280 169 295 170 310 170 325 167 340 162 355 156 369 147 384 138 398 128 412 117 426 106 440 94 454 80 468 64 482 43M142 91 159 106 177 118 194 129 210 139 227 148 243 155 259 161 274 165 290 166 305 166 320 164 335 159 349 153 364 145 378 136 393 125 407 115 421 104 435 92 449 78 462 62 476 40M136 82 154 98 171 111 188 123 205 133 221 142 238 150 253 156 269 161 285 163 300 163 315 161 330 157 344 150 359 142 373 133 387 123 401 113 415 102 429 90 443 76 457 60 471 38M131 73 149 90 166 104 183 116 200 127 216 137 232 145 248 152 264 157 279 160 295 160 310 158 324 154 339 148 353 141 368 132 382 122 396 112 410 101 424 89 438 75 451 59 465 37"/>
</g>
<g id="pb">
<polyline fill="none" stroke="#000" stroke-width="2.2" points="1072.5,431.7 1053.3,51.3 1410.6,6.1 1644.7,93.7 1623.4,497.2"/>
<line stroke="#000" stroke-width="2.2" x1="1410.6" y1="6.1" x2="1409.5" y2="361"/>
<polygon fill="#ff0" stroke="none" points="1072.5,431.7 1251.7,594.4 1623.4,497.2 1409.5,361"/>
<polyline fill="none" stroke="#33ee00" stroke-width="1.8" points="1163.6,412.7 1163.6,512.7"/>
<polyline fill="none" stroke="#00f0f0" stroke-width="1.8" points="1221.5,563.7 1228.5,525 1239.1,486.4 1260.1,451.3 1277.7,435.5 1295.3,428.5"/>
<polyline fill="none" stroke="#00f0f0" stroke-width="1.8" points="1435.7,444.3 1481.3,458.3 1527,475.9 1569.1,493.4 1600.7,500.4"/>
<polyline fill="none" stroke="#0000e6" stroke-width="1.8" points="1291.7,584.7 1302.3,556.6 1323.3,528.5 1340.9,514.5 1376,500.4 1446.2,498.7 1481.3,504 1537.5,518"/>
<polyline fill="none" stroke="#33ee00" stroke-width="1.8" points="1484.9,419.7 1548,446"/>
<polygon fill="none" stroke="#000" stroke-width="2.2" stroke-linejoin="miter" points="1072.5,431.7 1251.7,594.4 1623.4,497.2 1409.5,361"/>
<g stroke="none">
<path fill="#95ff00" d="M1248 391l19 16 -10 -22 -20 -17zM1256 361l19 12 -10 -17 -18 -12zM1264 334l19 8 -10 -16 -18 -8zM1273 326l18 6 -10 -15 -17 -6zM1281 317l18 4 -9 -15 -18 -4zM1331 294l17 -3 -9 -13 -17 2z"/>
<path fill="#eaff00" d="M1237 368l20 17 -10 -20 -20 -17zM1246 324l18 10 -9 -16 -18 -10zM1280 292l17 2 -9 -14 -17 -3zM1355 273l17 -6 -10 -13 -16 7zM1433 284l17 -13 -10 -12 -16 13zM1546 312l17 -20 -11 -13 -17 20z"/>
<path fill="#ffea00" d="M1227 348l20 17 -10 -18 -19 -17zM1237 308l18 10 -9 -16 -19 -10zM1246 302l18 9 -10 -16 -18 -8zM1271 277l17 3 -9 -14 -17 -3zM1279 266l17 2 -9 -13 -17 -2zM1304 255l16 -2 -9 -12 -16 1zM1320 253l17 -4 -9 -12 -17 4zM1346 261l16 -7 -9 -11 -16 6zM1362 254l16 -8 -9 -11 -16 8zM1388 258l16 -10 -9 -12 -17 10zM1414 260l16 -13 -10 -11 -16 12zM1450 271l16 -15 -10 -11 -16 14zM1487 280l16 -17 -10 -12 -17 17zM1535 299l17 -20 -11 -12 -17 20zM1574 305l17 -23 -11 -13 -17 23z"/>
<path fill="#ffbf00" d="M1218 330l19 17 -10 -17 -19 -18zM1218 313l19 15 -10 -17 -19 -15zM1227 292l19 10 -10 -15 -18 -11zM1245 257l17 6 -9 -14 -17 -6zM1253 249l17 4 -9 -13 -17 -4zM1278 242l17 0 -9 -11 -17 -1zM1302 229l16 -3 -8 -10 -17 3zM1328 237l16 -6 -9 -10 -17 5zM1344 231l16 -7 -9 -10 -16 7zM1369 235l16 -10 -9 -10 -16 9zM1430 247l16 -14 -10 -11 -16 14zM1466 256l16 -16 -10 -11 -16 16zM1514 275l16 -19 -10 -12 -17 19z"/>
<path fill="#ff9500" d="M1208 312l19 18 -9 -17 -20 -18zM1208 296l19 15 -9 -16 -19 -15zM1218 276l18 11 -9 -16 -18 -11zM1227 250l18 7 -9 -14 -18 -8zM1236 243l17 6 -9 -13 -17 -6zM1244 236l17 4 -9 -12 -17 -5zM1252 228l17 2 -9 -11 -16 -3zM1260 219l17 1 -9 -10 -16 -1zM1277 220l16 -1 -8 -10 -17 1zM1293 219l17 -3 -9 -10 -16 3zM1285 209l16 -3 -9 -9 -16 2zM1310 216l16 -5 -9 -10 -16 5zM1326 211l16 -7 -9 -10 -16 7zM1385 225l16 -11 -9 -10 -16 11zM1420 236l16 -14 -9 -11 -16 14zM1493 251l16 -18 -10 -11 -17 18zM1541 267l17 -21 -11 -11 -17 21zM1591 282l17 -26 -11 -11 -17 24z"/>
<path fill="#f50" d="M1198 295l20 18 -10 -17 -19 -17zM1199 280l19 15 -9 -16 -19 -16zM1200 262l18 14 -9 -16 -19 -14zM1218 235l18 8 -9 -13 -18 -8zM1227 212l17 4 -9 -10 -17 -5zM1235 206l17 3 -9 -10 -16 -3zM1243 199l17 1 -9 -9 -16 -1zM1251 191l17 0 -9 -8 -16 0zM1268 191l16 -3 -9 -8 -16 3zM1284 188l15 -4 -8 -8 -16 4zM1308 192l16 -6 -9 -8 -16 6zM1333 194l15 -8 -8 -9 -16 9zM1367 204l15 -10 -9 -10 -16 11zM1436 222l16 -15 -9 -11 -16 15zM1472 229l16 -18 -10 -11 -16 18zM1520 244l16 -20 -11 -11 -16 20zM1569 257l16 -24 -11 -11 -16 24z"/>
<path fill="#ff4000" d="M1189 279l19 17 -9 -16 -19 -18zM1200 244l18 11 -9 -15 -18 -12zM1209 240l18 10 -9 -15 -18 -10zM1209 222l18 8 -9 -13 -17 -8zM1218 217l17 6 -8 -11 -17 -7zM1218 201l17 5 -8 -10 -17 -6zM1227 196l16 3 -8 -9 -17 -4zM1235 190l16 1 -8 -8 -16 -2zM1227 181l16 2 -8 -8 -16 -2zM1243 183l16 0 -8 -8 -16 0zM1235 175l16 0 -8 -8 -16 -1zM1259 183l16 -3 -8 -7 -16 2zM1251 175l16 -2 -8 -8 -16 2zM1275 180l16 -4 -8 -7 -16 4zM1267 173l16 -4 -9 -7 -15 3zM1299 184l16 -6 -8 -8 -16 6zM1291 176l16 -6 -9 -7 -15 6zM1283 169l15 -6 -8 -7 -16 6zM1324 186l16 -9 -9 -8 -16 9zM1315 178l16 -9 -9 -7 -15 8zM1357 195l16 -11 -9 -9 -16 11zM1348 186l16 -11 -9 -8 -15 10zM1392 204l16 -13 -10 -10 -16 13zM1382 194l16 -13 -9 -9 -16 12zM1427 211l16 -15 -10 -10 -16 15zM1462 218l16 -18 -10 -10 -16 17zM1509 233l16 -20 -10 -11 -16 20zM1558 246l16 -24 -11 -10 -16 23zM1619 269l18 -29 -12 -12 -17 28z"/>
<path fill="#ff1500" d="M1180 262l19 18 -9 -17 -20 -18zM1181 247l19 15 -10 -16 -18 -16zM1191 228l18 12 -9 -15 -18 -12zM1192 211l17 11 -8 -13 -18 -11zM1201 194l17 7 -8 -11 -17 -7zM1202 181l16 5 -8 -9 -17 -5zM1202 169l17 4 -9 -9 -16 -4zM1322 162l16 -10 -9 -7 -15 10zM1364 175l16 -12 -9 -8 -16 12zM1398 181l16 -14 -9 -9 -16 14zM1443 196l16 -16 -10 -10 -16 16zM1488 211l17 -19 -10 -10 -17 18zM1536 224l17 -23 -11 -10 -17 22zM1597 245l17 -28 -12 -10 -17 26z"/>
<path fill="#f00" d="M1170 245l20 18 -9 -16 -20 -19zM1161 228l20 19 -9 -17 -20 -19zM1152 211l20 19 -9 -17 -20 -19zM1143 194l20 19 -9 -16 -20 -19zM1134 178l20 19 -9 -15 -19 -20zM1126 162l19 20 -9 -15 -19 -20zM1117 147l19 20 -8 -14 -19 -20zM1109 133l19 20 -9 -13 -19 -20zM1100 120l19 20 -8 -12 -19 -20zM1092 108l19 20 -8 -11 -19 -21zM1084 96l19 21 -8 -11 -19 -20zM1076 86l19 20 -8 -10 -19 -20zM1068 76l19 20 -7 -10 -19 -21zM1061 65l19 21 -8 -10 -19 -21zM1172 230l18 16 -9 -16 -18 -17zM1163 213l18 17 -8 -16 -19 -17zM1154 197l19 17 -9 -15 -19 -17zM1145 182l19 17 -9 -15 -19 -17zM1136 167l19 17 -8 -13 -19 -18zM1128 153l19 18 -9 -13 -19 -18zM1119 140l19 18 -8 -12 -19 -18zM1111 128l19 18 -8 -11 -19 -18zM1103 117l19 18 -8 -11 -19 -18zM1095 106l19 18 -8 -9 -19 -19zM1087 96l19 19 -8 -10 -18 -19zM1080 86l18 19 -8 -11 -18 -18zM1181 230l19 14 -9 -16 -18 -14zM1173 214l18 14 -9 -15 -18 -14zM1164 199l18 14 -8 -14 -19 -15zM1155 184l19 15 -9 -14 -18 -14zM1147 171l18 14 -8 -12 -19 -15zM1138 158l19 15 -9 -12 -18 -15zM1130 146l18 15 -8 -11 -18 -15zM1122 135l18 15 -8 -10 -18 -16zM1114 124l18 16 -8 -10 -18 -15zM1106 115l18 15 -8 -10 -18 -15zM1098 105l18 15 -8 -10 -18 -16zM1182 213l18 12 -8 -14 -18 -12zM1174 199l18 12 -9 -13 -18 -13zM1165 185l18 13 -8 -12 -18 -13zM1157 173l18 13 -9 -12 -18 -13zM1148 161l18 13 -8 -11 -18 -13zM1140 150l18 13 -8 -10 -18 -13zM1132 140l18 13 -8 -9 -18 -14zM1124 130l18 14 -8 -10 -18 -14zM1116 120l18 14 -8 -10 -18 -14zM1183 198l18 11 -9 -13 -17 -10zM1175 186l17 10 -8 -11 -18 -11zM1166 174l18 11 -8 -11 -18 -11zM1158 163l18 11 -9 -10 -17 -11zM1150 153l17 11 -8 -9 -17 -11zM1142 144l17 11 -8 -9 -17 -12zM1134 134l17 12 -8 -10 -17 -12zM1192 196l18 9 -9 -11 -17 -9zM1184 185l17 9 -8 -11 -17 -9zM1176 174l17 9 -8 -9 -18 -10zM1167 164l18 10 -8 -10 -18 -9zM1159 155l18 9 -9 -9 -17 -9zM1151 146l17 9 -7 -9 -18 -10zM1193 183l17 7 -8 -9 -17 -7zM1185 174l17 7 -9 -9 -16 -8zM1177 164l16 8 -8 -9 -17 -8zM1168 155l17 8 -8 -9 -16 -8zM1193 172l17 5 -8 -8 -17 -6zM1185 163l17 6 -8 -9 -17 -6zM1314 155l15 -10 -8 -6 -16 9zM1355 167l16 -12 -9 -7 -16 11zM1346 159l16 -11 -9 -7 -15 11zM1338 152l15 -11 -9 -7 -15 11zM1329 145l15 -11 -8 -6 -15 11zM1389 172l16 -14 -10 -8 -15 13zM1380 163l15 -13 -9 -8 -15 13zM1371 155l15 -13 -9 -7 -15 13zM1362 148l15 -13 -9 -7 -15 13zM1353 141l15 -13 -8 -6 -16 12zM1344 134l16 -12 -9 -6 -15 12zM1433 186l16 -16 -10 -9 -16 15zM1423 176l16 -15 -9 -10 -16 16zM1414 167l16 -16 -10 -8 -15 15zM1405 158l15 -15 -9 -8 -16 15zM1395 150l16 -15 -9 -8 -16 15zM1386 142l16 -15 -9 -7 -16 15zM1377 135l16 -15 -9 -6 -16 14zM1368 128l16 -14 -9 -6 -15 14zM1360 122l15 -14 -9 -6 -15 14zM1478 200l17 -18 -11 -10 -16 18zM1468 190l16 -18 -10 -10 -15 18zM1459 180l15 -18 -9 -9 -16 17zM1449 170l16 -17 -10 -10 -16 18zM1439 161l16 -18 -10 -8 -15 16zM1430 151l15 -16 -9 -8 -16 16zM1420 143l16 -16 -10 -8 -15 16zM1411 135l15 -16 -9 -7 -15 15zM1402 127l15 -15 -9 -7 -15 15zM1393 120l15 -15 -9 -6 -15 15zM1384 114l15 -15 -9 -6 -15 15zM1375 108l15 -15 -9 -5 -15 14zM1525 213l17 -22 -11 -10 -16 21zM1515 202l16 -21 -10 -10 -16 21zM1505 192l16 -21 -10 -10 -16 21zM1495 182l16 -21 -11 -9 -16 20zM1484 172l16 -20 -10 -9 -16 19zM1474 162l16 -19 -10 -9 -15 19zM1465 153l15 -19 -9 -8 -16 17zM1455 143l16 -17 -10 -9 -16 18zM1445 135l16 -18 -10 -7 -15 17zM1436 127l15 -17 -9 -8 -16 17zM1426 119l16 -17 -9 -6 -16 16zM1417 112l16 -16 -10 -7 -15 16zM1408 105l15 -16 -9 -5 -15 15zM1399 99l15 -15 -9 -5 -15 14zM1390 93l15 -14 -9 -5 -15 14zM1585 233l17 -26 -11 -10 -17 25zM1574 222l17 -25 -11 -11 -17 26zM1563 212l17 -26 -11 -9 -16 24zM1553 201l16 -24 -11 -10 -16 24zM1542 191l16 -24 -10 -9 -17 23zM1531 181l17 -23 -11 -9 -16 22zM1521 171l16 -22 -10 -9 -16 21zM1511 161l16 -21 -11 -9 -16 21zM1500 152l16 -21 -10 -8 -16 20zM1490 143l16 -20 -10 -8 -16 19zM1480 134l16 -19 -10 -8 -15 19zM1471 126l15 -19 -9 -8 -16 18zM1461 117l16 -18 -10 -7 -16 18zM1451 110l16 -18 -10 -6 -15 16zM1442 102l15 -16 -9 -6 -15 16zM1433 96l15 -16 -9 -6 -16 15zM1423 89l16 -15 -10 -5 -15 15zM1414 84l15 -15 -9 -5 -15 15zM1405 79l15 -15 -9 -3 -15 13z"/>
<path fill="#40ff00" d="M1267 407l19 13 -10 -22 -19 -13zM1284 366l18 7 -10 -16 -18 -7zM1292 357l18 6 -10 -16 -17 -5zM1300 347l18 4 -10 -15 -17 -4zM1326 338l17 -1 -10 -14 -17 0zM1377 331l17 -6 -10 -13 -17 6zM1394 325l16 -8 -10 -13 -16 8zM1420 330l17 -10 -10 -12 -17 9zM1447 333l17 -12 -10 -12 -17 11zM1512 346l17 -16 -11 -13 -17 16zM1551 358l17 -19 -11 -14 -17 19z"/>
<path fill="#6aff00" d="M1257 385l19 13 -10 -19 -19 -14zM1266 379l19 11 -10 -17 -19 -12zM1274 350l18 7 -9 -15 -19 -8zM1283 342l17 5 -9 -15 -18 -6zM1291 332l17 4 -9 -15 -18 -4zM1299 321l17 2 -9 -14 -17 -3zM1324 309l17 -1 -10 -14 -17 1zM1341 308l17 -4 -10 -13 -17 3zM1358 304l16 -5 -9 -13 -17 5zM1384 312l16 -8 -9 -12 -17 7zM1464 321l16 -13 -10 -13 -16 14zM1501 333l17 -16 -11 -13 -16 16z"/>
<path fill="#bfff00" d="M1247 365l19 14 -10 -18 -19 -14zM1297 294l17 1 -9 -14 -17 -1zM1365 286l16 -7 -9 -12 -17 6zM1443 296l17 -13 -10 -12 -17 13zM1557 325l17 -20 -11 -13 -17 20z"/>
<path fill="#ff0" d="M1237 347l19 14 -9 -17 -20 -14zM1237 328l19 12 -10 -16 -19 -13zM1254 295l18 7 -9 -15 -18 -7zM1263 287l17 5 -9 -15 -17 -5zM1288 280l17 1 -9 -13 -17 -2zM1296 268l17 -1 -9 -12 -17 0zM1313 267l16 -2 -9 -12 -16 2zM1329 265l17 -4 -9 -12 -17 4zM1372 267l16 -9 -10 -12 -16 8zM1397 270l17 -10 -10 -12 -16 10zM1424 272l16 -13 -10 -12 -16 13zM1460 283l16 -15 -10 -12 -16 15zM1497 292l17 -17 -11 -12 -16 17zM1585 318l17 -23 -11 -13 -17 23z"/>
<path fill="#ffd500" d="M1227 330l20 14 -10 -16 -19 -15zM1227 311l19 13 -9 -16 -19 -13zM1236 287l18 8 -9 -15 -18 -9zM1245 280l18 7 -9 -15 -18 -7zM1254 272l17 5 -9 -14 -17 -6zM1262 263l17 3 -9 -13 -17 -4zM1270 253l17 2 -9 -13 -17 -2zM1287 255l17 0 -9 -13 -17 0zM1295 242l16 -1 -9 -12 -16 2zM1311 241l17 -4 -10 -11 -16 3zM1337 249l16 -6 -9 -12 -16 6zM1353 243l16 -8 -9 -11 -16 7zM1378 246l17 -10 -10 -11 -16 10zM1404 248l16 -12 -9 -11 -16 11zM1440 259l16 -14 -10 -12 -16 14zM1476 268l17 -17 -11 -11 -16 16zM1524 287l17 -20 -11 -11 -16 19zM1563 292l17 -23 -11 -12 -17 22z"/>
<path fill="#ff2a00" d="M1190 263l19 16 -9 -17 -19 -15zM1190 246l19 14 -9 -16 -19 -14zM1200 225l18 10 -9 -13 -17 -11zM1201 209l17 8 -8 -12 -18 -9zM1210 205l17 7 -9 -11 -17 -7zM1210 190l17 6 -9 -10 -16 -5zM1218 186l17 4 -8 -9 -17 -4zM1210 177l17 4 -8 -8 -17 -4zM1219 173l16 2 -8 -9 -17 -2zM1307 170l15 -8 -8 -7 -16 8zM1298 163l16 -8 -9 -7 -15 8zM1340 177l15 -10 -9 -8 -15 10zM1331 169l15 -10 -8 -7 -16 10zM1373 184l16 -12 -9 -9 -16 12zM1417 201l16 -15 -10 -10 -15 15zM1408 191l15 -15 -9 -9 -16 14zM1452 207l16 -17 -9 -10 -16 16zM1499 222l16 -20 -10 -10 -17 19zM1547 235l16 -23 -10 -11 -17 23zM1608 256l17 -28 -11 -11 -17 28z"/>
<path fill="#0f0" d="M1286 420l19 11 -10 -21 -19 -12zM1295 410l19 8 -11 -18 -18 -10zM1303 400l19 6 -10 -17 -18 -7zM1312 389l18 5 -10 -16 -18 -5zM1320 378l18 3 -10 -15 -18 -3zM1328 366l17 1 -10 -15 -17 -1zM1345 367l18 -1 -10 -14 -18 0zM1397 358l17 -6 -10 -14 -17 7zM1414 352l16 -9 -10 -13 -16 8zM1441 357l16 -11 -10 -13 -17 10zM1468 360l17 -13 -11 -13 -17 12zM1506 375l17 -15 -11 -14 -17 15zM1534 375l17 -17 -11 -14 -17 16z"/>
<path fill="#2aff00" d="M1276 398l19 12 -10 -20 -19 -11zM1285 390l18 10 -9 -18 -19 -9zM1294 382l18 7 -10 -16 -18 -7zM1310 363l18 3 -10 -15 -18 -4zM1318 351l17 1 -9 -14 -18 -2zM1343 337l17 -2 -10 -14 -17 2zM1360 335l17 -4 -10 -13 -17 3zM1404 338l16 -8 -10 -13 -16 8zM1430 343l17 -10 -10 -13 -17 10zM1457 346l17 -12 -10 -13 -17 12zM1485 347l16 -14 -10 -13 -17 14zM1523 360l17 -16 -11 -14 -17 16z"/>
<path fill="#d5ff00" d="M1247 344l18 12 -9 -16 -19 -12zM1255 318l18 8 -9 -15 -18 -9zM1264 311l17 6 -9 -15 -18 -7zM1272 302l18 4 -10 -14 -17 -5zM1305 281l17 -1 -9 -13 -17 1zM1322 280l17 -2 -10 -13 -16 2zM1339 278l16 -5 -9 -12 -17 4zM1381 279l16 -9 -9 -12 -16 9zM1407 283l17 -11 -10 -12 -17 10zM1470 295l17 -15 -11 -12 -16 15zM1507 304l17 -17 -10 -12 -17 17z"/>
<path fill="#fa0" d="M1218 295l19 13 -10 -16 -18 -13zM1227 271l18 9 -9 -15 -18 -10zM1236 265l18 7 -9 -15 -18 -7zM1261 240l17 2 -9 -12 -17 -2zM1269 230l17 1 -9 -11 -17 -1zM1286 231l16 -2 -9 -10 -16 1zM1318 226l17 -5 -9 -10 -16 5zM1335 221l16 -7 -9 -10 -16 7zM1360 224l16 -9 -9 -11 -16 10zM1395 236l16 -11 -10 -11 -16 11zM1456 245l16 -16 -10 -11 -16 15zM1503 263l17 -19 -11 -11 -16 18zM1552 279l17 -22 -11 -11 -17 21zM1602 295l17 -26 -11 -13 -17 26z"/>
<path fill="#ff8000" d="M1209 279l18 13 -9 -16 -18 -14zM1218 255l18 10 -9 -15 -18 -10zM1268 210l17 -1 -9 -10 -16 1zM1301 206l16 -5 -9 -9 -16 5zM1351 214l16 -10 -10 -9 -15 9zM1376 215l16 -11 -10 -10 -15 10zM1411 225l16 -14 -10 -10 -16 13zM1446 233l16 -15 -10 -11 -16 15zM1482 240l17 -18 -11 -11 -16 18zM1530 256l17 -21 -11 -11 -16 20z"/>
<path fill="#00ff2b" d="M1305 431l19 8 -10 -21 -19 -8zM1314 418l18 7 -10 -19 -19 -6zM1322 406l18 5 -10 -17 -18 -5zM1330 394l18 3 -10 -16 -18 -3zM1355 382l17 -1 -9 -15 -18 1zM1372 381l18 -4 -10 -14 -17 3zM1390 377l17 -5 -10 -14 -17 5zM1407 372l17 -7 -10 -13 -17 6zM1434 379l17 -9 -10 -13 -17 8zM1489 388l17 -13 -11 -14 -17 13zM1517 391l17 -16 -11 -15 -17 15z"/>
<path fill="#5f0" d="M1275 373l19 9 -10 -16 -19 -10zM1308 336l18 2 -10 -15 -17 -2zM1316 323l17 0 -9 -14 -17 0zM1333 323l17 -2 -9 -13 -17 1zM1350 321l17 -3 -9 -14 -17 4zM1367 318l17 -6 -10 -13 -16 5zM1410 317l17 -9 -10 -13 -17 9zM1437 320l17 -11 -11 -13 -16 12zM1474 334l17 -14 -11 -12 -16 13zM1540 344l17 -19 -11 -13 -17 18z"/>
<path fill="#80ff00" d="M1265 356l19 10 -10 -16 -18 -10zM1307 309l17 0 -10 -14 -17 -1zM1374 299l17 -7 -10 -13 -16 7zM1400 304l17 -9 -10 -12 -16 9zM1427 308l16 -12 -10 -12 -16 11zM1454 309l16 -14 -10 -12 -17 13zM1491 320l16 -16 -10 -12 -17 16zM1529 330l17 -18 -11 -13 -17 18zM1568 339l17 -21 -11 -13 -17 20z"/>
<path fill="#af0" d="M1256 340l18 10 -10 -16 -18 -10zM1290 306l17 3 -10 -15 -17 -2zM1314 295l17 -1 -9 -14 -17 1zM1348 291l17 -5 -10 -13 -16 5zM1391 292l16 -9 -10 -13 -16 9zM1417 295l16 -11 -9 -12 -17 11zM1480 308l17 -16 -10 -12 -17 15zM1518 317l17 -18 -11 -12 -17 17z"/>
<path fill="#ff6a00" d="M1209 260l18 11 -9 -16 -18 -11zM1227 230l17 6 -9 -13 -17 -6zM1235 223l17 5 -8 -12 -17 -4zM1244 216l16 3 -8 -10 -17 -3zM1252 209l16 1 -8 -10 -17 -1zM1260 200l16 -1 -8 -8 -17 0zM1276 199l16 -2 -8 -9 -16 3zM1292 197l16 -5 -9 -8 -15 4zM1317 201l16 -7 -9 -8 -16 6zM1342 204l15 -9 -9 -9 -15 8zM1401 214l16 -13 -9 -10 -16 13zM1580 269l17 -24 -12 -12 -16 24z"/>
<path fill="#0f5" d="M1324 439l18 6 -10 -20 -18 -7zM1332 425l18 4 -10 -18 -18 -5zM1340 411l18 2 -10 -16 -18 -3zM1358 413l17 0 -10 -16 -17 0zM1375 413l18 -2 -10 -15 -18 1zM1365 397l18 -1 -11 -15 -17 1zM1383 396l17 -4 -10 -15 -18 4zM1410 407l17 -5 -10 -15 -17 5zM1400 392l17 -5 -10 -15 -17 5zM1427 402l17 -8 -10 -15 -17 8zM1444 394l17 -9 -10 -15 -17 9zM1472 400l17 -12 -11 -14 -17 11zM1500 404l17 -13 -11 -16 -17 13z"/>
<path fill="#00ff6a" d="M1342 445l18 4 -10 -20 -18 -4zM1350 429l18 2 -10 -18 -18 -2zM1368 431l17 -1 -10 -17 -17 0zM1385 430l18 -2 -10 -17 -18 2zM1403 428l17 -4 -10 -17 -17 4zM1393 411l17 -4 -10 -15 -17 4zM1420 424l18 -6 -11 -16 -17 5zM1438 418l17 -8 -11 -16 -17 8zM1465 426l18 -10 -11 -16 -17 10zM1455 410l17 -10 -11 -15 -17 9zM1483 416l17 -12 -11 -16 -17 12z"/>
<path fill="#15ff00" d="M1302 373l18 5 -10 -15 -18 -6zM1335 352l18 0 -10 -15 -17 1zM1353 352l17 -3 -10 -14 -17 2zM1370 349l17 -4 -10 -14 -17 4zM1387 345l17 -7 -10 -13 -17 6zM1495 361l17 -15 -11 -13 -16 14z"/>
<path fill="#00ff80" d="M1360 449l18 1 -10 -19 -18 -2zM1378 450l18 -1 -11 -19 -17 1zM1396 449l17 -3 -10 -18 -18 2zM1413 446l18 -4 -11 -18 -17 4zM1431 442l17 -7 -10 -17 -18 6zM1448 435l17 -9 -10 -16 -17 8z"/>
<path fill="#00ff40" d="M1348 397l17 0 -10 -15 -17 -1zM1417 387l17 -8 -10 -14 -17 7zM1461 385l17 -11 -10 -14 -17 10z"/>
<path fill="#00ff15" d="M1338 381l17 1 -10 -15 -17 -1zM1363 366l17 -3 -10 -14 -17 3zM1380 363l17 -5 -10 -13 -17 4zM1424 365l17 -8 -11 -14 -16 9zM1451 370l17 -10 -11 -14 -16 11zM1478 374l17 -13 -10 -14 -17 13z"/>
</g>
<path fill="none" stroke="#000" stroke-width="2.40" stroke-linejoin="round" d="M1248 391 1237 368 1227 348 1218 330 1208 312 1198 295 1189 279 1180 262 1170 245 1161 228 1152 211 1143 194 1134 178 1126 162 1117 147 1109 133 1100 120 1092 108 1084 96 1076 86 1068 76 1061 65 1053 55M1257 399 1247 377 1237 357 1227 339 1218 321 1208 304 1199 288 1189 271 1180 254 1171 238 1162 221 1153 204 1144 188 1135 172 1127 157 1118 143 1110 130 1102 118 1094 107 1086 96 1078 86 1070 76 1062 66M1267 407 1257 385 1247 365 1237 347 1227 330 1218 313 1208 296 1199 280 1190 263 1181 247 1172 230 1163 213 1154 197 1145 182 1136 167 1128 153 1119 140 1111 128 1103 117 1095 106 1087 96 1080 86 1072 76M1277 414 1267 392 1257 372 1247 354 1237 337 1227 321 1218 304 1209 288 1199 271 1190 255 1181 238 1172 222 1163 206 1154 191 1146 176 1137 162 1129 149 1121 137 1113 126 1105 116 1097 106 1089 96 1081 85M1286 420 1276 398 1266 379 1256 361 1247 344 1237 328 1227 311 1218 295 1209 279 1200 262 1190 246 1181 230 1173 214 1164 199 1155 184 1147 171 1138 158 1130 146 1122 135 1114 124 1106 115 1098 105 1090 94M1296 426 1286 404 1276 385 1266 367 1256 350 1246 334 1237 318 1227 302 1218 286 1209 269 1200 253 1191 237 1182 221 1173 206 1164 192 1156 178 1147 166 1139 154 1131 143 1123 132 1115 123 1107 113 1099 103M1305 431 1295 410 1285 390 1275 373 1265 356 1256 340 1246 324 1237 308 1227 292 1218 276 1209 260 1200 244 1191 228 1182 213 1174 199 1165 185 1157 173 1148 161 1140 150 1132 140 1124 130 1116 120 1108 110M1314 435 1304 414 1294 395 1284 378 1275 361 1265 345 1255 329 1246 313 1236 297 1227 281 1218 266 1209 250 1200 234 1191 220 1183 205 1174 192 1166 179 1157 168 1149 157 1141 147 1133 137 1125 128 1117 117M1324 439 1314 418 1303 400 1294 382 1284 366 1274 350 1264 334 1255 318 1246 302 1236 287 1227 271 1218 255 1209 240 1200 225 1192 211 1183 198 1175 186 1166 174 1158 163 1150 153 1142 144 1134 134 1126 124M1333 442 1323 422 1313 403 1303 386 1293 370 1283 354 1274 338 1264 323 1255 307 1245 291 1236 276 1227 260 1218 245 1209 231 1201 217 1192 204 1183 191 1175 180 1167 169 1159 159 1151 150 1143 140 1135 130M1342 445 1332 425 1322 406 1312 389 1302 373 1292 357 1283 342 1273 326 1264 311 1254 295 1245 280 1236 265 1227 250 1218 235 1209 222 1201 209 1192 196 1184 185 1176 174 1167 164 1159 155 1151 146 1143 136M1351 447 1341 427 1331 409 1321 392 1311 376 1301 360 1291 345 1282 330 1273 314 1263 299 1254 284 1245 269 1236 254 1227 240 1218 226 1210 213 1201 201 1193 190 1184 179 1176 169 1168 160 1160 151 1152 141M1360 449 1350 429 1340 411 1330 394 1320 378 1310 363 1300 347 1291 332 1281 317 1272 302 1263 287 1254 272 1245 257 1236 243 1227 230 1218 217 1210 205 1201 194 1193 183 1185 174 1177 164 1168 155 1161 146M1369 450 1359 430 1349 412 1339 396 1329 380 1319 365 1309 349 1300 334 1290 319 1281 304 1272 289 1262 275 1253 260 1244 246 1236 233 1227 220 1218 209 1210 197 1201 187 1193 178 1185 168 1177 159 1169 150M1378 450 1368 431 1358 413 1348 397 1338 381 1328 366 1318 351 1308 336 1299 321 1290 306 1280 292 1271 277 1262 263 1253 249 1244 236 1235 223 1227 212 1218 201 1210 190 1202 181 1193 172 1185 163 1177 154M1387 450 1377 431 1366 413 1356 397 1346 382 1336 367 1327 352 1317 337 1308 322 1298 308 1289 293 1280 279 1271 265 1262 251 1253 238 1244 226 1235 214 1227 203 1218 193 1210 184 1202 175 1194 166 1186 157M1396 449 1385 430 1375 413 1365 397 1355 382 1345 367 1335 352 1326 338 1316 323 1307 309 1297 294 1288 280 1279 266 1270 253 1261 240 1252 228 1244 216 1235 206 1227 196 1218 186 1210 177 1202 169 1194 160M1405 448 1394 429 1384 412 1374 397 1364 382 1354 367 1344 352 1334 338 1325 323 1315 309 1306 295 1297 281 1288 267 1279 254 1270 241 1261 229 1252 218 1244 207 1235 197 1227 188 1218 179 1210 171 1202 162M1413 446 1403 428 1393 411 1383 396 1372 381 1363 366 1353 352 1343 337 1333 323 1324 309 1314 295 1305 281 1296 268 1287 255 1278 242 1269 230 1260 219 1252 209 1243 199 1235 190 1227 181 1219 173 1210 164M1422 444 1412 426 1401 410 1391 394 1381 379 1371 365 1361 351 1351 337 1342 323 1332 309 1323 295 1314 281 1304 268 1295 255 1286 242 1278 231 1269 220 1260 209 1252 200 1243 191 1235 182 1227 174 1219 166M1431 442 1420 424 1410 407 1400 392 1390 377 1380 363 1370 349 1360 335 1350 321 1341 308 1331 294 1322 280 1313 267 1304 255 1295 242 1286 231 1277 220 1268 210 1260 200 1251 191 1243 183 1235 175 1227 166M1440 438 1429 421 1419 405 1408 390 1398 375 1388 361 1378 347 1368 333 1359 320 1349 306 1340 293 1330 279 1321 266 1312 254 1303 242 1294 230 1285 220 1277 209 1268 200 1259 191 1251 183 1243 175 1235 167M1448 435 1438 418 1427 402 1417 387 1407 372 1397 358 1387 345 1377 331 1367 318 1358 304 1348 291 1339 278 1329 265 1320 253 1311 241 1302 229 1293 219 1285 209 1276 199 1268 191 1259 183 1251 175 1243 167M1457 431 1446 414 1436 398 1425 383 1415 369 1405 355 1395 342 1385 328 1376 315 1366 302 1356 289 1347 276 1338 263 1328 251 1319 239 1310 228 1302 217 1293 208 1284 198 1276 190 1267 182 1259 174 1251 166M1465 426 1455 410 1444 394 1434 379 1424 365 1414 352 1404 338 1394 325 1384 312 1374 299 1365 286 1355 273 1346 261 1337 249 1328 237 1318 226 1310 216 1301 206 1292 197 1284 188 1275 180 1267 173 1259 165M1474 422 1463 405 1453 390 1442 375 1432 361 1422 348 1412 335 1402 321 1392 308 1382 295 1373 283 1363 270 1354 258 1345 246 1336 234 1327 224 1318 213 1309 204 1300 195 1292 186 1283 179 1275 171 1266 164M1483 416 1472 400 1461 385 1451 370 1441 357 1430 343 1420 330 1410 317 1400 304 1391 292 1381 279 1372 267 1362 254 1353 243 1344 231 1335 221 1326 211 1317 201 1308 192 1299 184 1291 176 1283 169 1274 162M1491 411 1480 394 1470 379 1459 365 1449 352 1439 339 1429 326 1419 313 1409 300 1399 287 1389 275 1380 263 1370 251 1361 239 1352 228 1343 217 1334 207 1325 198 1316 189 1307 181 1299 173 1290 166 1282 159M1500 404 1489 388 1478 374 1468 360 1457 346 1447 333 1437 320 1427 308 1417 295 1407 283 1397 270 1388 258 1378 246 1369 235 1360 224 1351 214 1342 204 1333 194 1324 186 1315 178 1307 170 1298 163 1290 156M1508 398 1497 382 1487 368 1476 354 1466 340 1455 327 1445 315 1435 302 1425 290 1415 277 1406 265 1396 253 1386 242 1377 230 1368 220 1359 209 1350 199 1341 190 1332 182 1323 174 1314 166 1306 159 1297 152M1517 391 1506 375 1495 361 1485 347 1474 334 1464 321 1454 309 1443 296 1433 284 1424 272 1414 260 1404 248 1395 236 1385 225 1376 215 1367 204 1357 195 1348 186 1340 177 1331 169 1322 162 1314 155 1305 148M1525 383 1514 368 1504 354 1493 340 1482 327 1472 315 1462 302 1452 290 1442 278 1432 266 1422 254 1412 242 1403 231 1393 220 1384 209 1375 199 1365 190 1356 181 1347 172 1339 165 1330 157 1321 151 1313 144M1534 375 1523 360 1512 346 1501 333 1491 320 1480 308 1470 295 1460 283 1450 271 1440 259 1430 247 1420 236 1411 225 1401 214 1392 204 1382 194 1373 184 1364 175 1355 167 1346 159 1338 152 1329 145 1321 139M1542 367 1531 352 1521 338 1510 325 1499 312 1489 300 1478 288 1468 276 1458 264 1448 252 1438 241 1428 229 1419 218 1409 208 1400 197 1390 188 1381 178 1372 170 1363 161 1354 154 1345 147 1337 140 1328 134M1551 358 1540 344 1529 330 1518 317 1507 304 1497 292 1487 280 1476 268 1466 256 1456 245 1446 233 1436 222 1427 211 1417 201 1408 191 1398 181 1389 172 1380 163 1371 155 1362 148 1353 141 1344 134 1336 128M1559 349 1548 335 1537 321 1527 308 1516 296 1505 284 1495 272 1484 260 1474 248 1464 237 1454 226 1444 215 1435 204 1425 194 1416 184 1406 174 1397 165 1388 157 1379 149 1370 141 1361 134 1352 128 1343 122M1568 339 1557 325 1546 312 1535 299 1524 287 1514 275 1503 263 1493 251 1482 240 1472 229 1462 218 1452 207 1443 196 1433 186 1423 176 1414 167 1405 158 1395 150 1386 142 1377 135 1368 128 1360 122 1351 116M1576 329 1565 315 1554 302 1543 289 1532 277 1522 265 1511 254 1501 242 1491 231 1480 220 1470 209 1460 199 1451 188 1441 178 1431 169 1422 159 1412 151 1403 142 1394 135 1385 127 1376 121 1367 115 1359 109M1585 318 1574 305 1563 292 1552 279 1541 267 1530 256 1520 244 1509 233 1499 222 1488 211 1478 200 1468 190 1459 180 1449 170 1439 161 1430 151 1420 143 1411 135 1402 127 1393 120 1384 114 1375 108 1366 102M1594 307 1582 293 1571 281 1560 269 1549 257 1538 245 1528 234 1517 223 1507 212 1497 202 1486 191 1476 181 1467 171 1457 161 1447 152 1437 143 1428 135 1419 127 1409 120 1400 113 1391 106 1382 101 1374 95M1602 295 1591 282 1580 269 1569 257 1558 246 1547 235 1536 224 1525 213 1515 202 1505 192 1495 182 1484 172 1474 162 1465 153 1455 143 1445 135 1436 127 1426 119 1417 112 1408 105 1399 99 1390 93 1381 88M1611 282 1599 269 1588 257 1577 246 1566 234 1555 223 1544 213 1534 202 1523 192 1513 181 1503 172 1492 162 1482 152 1473 143 1463 135 1453 126 1444 118 1434 111 1425 104 1416 97 1407 91 1398 86 1389 81M1619 269 1608 256 1597 245 1585 233 1574 222 1563 212 1553 201 1542 191 1531 181 1521 171 1511 161 1500 152 1490 143 1480 134 1471 126 1461 117 1451 110 1442 102 1433 96 1423 89 1414 84 1405 79 1396 74M1628 255 1617 243 1605 231 1594 220 1583 210 1572 199 1561 189 1550 179 1540 169 1529 160 1519 151 1508 142 1498 133 1488 124 1479 116 1469 108 1459 101 1450 94 1440 88 1431 82 1422 76 1413 71 1404 67M1637 240 1625 228 1614 217 1602 207 1591 197 1580 186 1569 177 1558 167 1548 158 1537 149 1527 140 1516 131 1506 123 1496 115 1486 107 1477 99 1467 92 1457 86 1448 80 1439 74 1429 69 1420 64 1411 61M1248 391 1267 407 1286 420 1305 431 1324 439 1342 445 1360 449 1378 450 1396 449 1413 446 1431 442 1448 435 1465 426 1483 416 1500 404 1517 391 1534 375 1551 358 1568 339 1585 318 1602 295 1619 269 1637 240M1242 379 1262 395 1281 409 1300 420 1319 428 1337 435 1355 438 1373 440 1391 439 1408 437 1426 432 1443 426 1460 418 1477 408 1494 396 1511 383 1528 368 1545 351 1562 332 1579 311 1596 288 1614 263 1631 234M1237 368 1257 385 1276 398 1295 410 1314 418 1332 425 1350 429 1368 431 1385 430 1403 428 1420 424 1438 418 1455 410 1472 400 1489 388 1506 375 1523 360 1540 344 1557 325 1574 305 1591 282 1608 256 1625 228M1232 358 1252 374 1271 388 1290 400 1308 409 1327 415 1345 420 1363 422 1380 422 1398 419 1415 415 1432 409 1450 402 1467 392 1484 381 1501 368 1517 353 1534 337 1551 318 1568 298 1585 276 1602 251 1619 223M1227 348 1247 365 1266 379 1285 390 1303 400 1322 406 1340 411 1358 413 1375 413 1393 411 1410 407 1427 402 1444 394 1461 385 1478 374 1495 361 1512 346 1529 330 1546 312 1563 292 1580 269 1597 245 1614 217M1223 339 1242 356 1261 370 1280 382 1298 391 1317 398 1335 402 1353 405 1370 405 1388 403 1405 400 1422 394 1439 387 1456 378 1473 367 1490 354 1507 340 1524 323 1540 305 1557 285 1574 263 1591 239 1608 212M1218 330 1237 347 1256 361 1275 373 1294 382 1312 389 1330 394 1348 397 1365 397 1383 396 1400 392 1417 387 1434 379 1451 370 1468 360 1485 347 1501 333 1518 317 1535 299 1552 279 1569 257 1585 233 1602 207M1213 321 1232 338 1251 352 1270 364 1289 374 1307 381 1325 386 1343 389 1360 389 1377 388 1395 385 1412 379 1429 372 1446 364 1463 353 1479 341 1496 326 1513 311 1530 293 1546 273 1563 252 1580 228 1597 202M1208 312 1227 330 1247 344 1265 356 1284 366 1302 373 1320 378 1338 381 1355 382 1372 381 1390 377 1407 372 1424 365 1441 357 1457 346 1474 334 1491 320 1507 304 1524 287 1541 267 1558 246 1574 222 1591 197M1203 304 1223 321 1242 336 1260 348 1279 358 1297 365 1315 370 1333 373 1350 374 1367 373 1385 370 1402 365 1419 359 1435 350 1452 340 1469 328 1486 314 1502 298 1519 281 1535 261 1552 240 1569 217 1586 191M1198 295 1218 313 1237 328 1256 340 1274 350 1292 357 1310 363 1328 366 1345 367 1363 366 1380 363 1397 358 1414 352 1430 343 1447 333 1464 321 1480 308 1497 292 1514 275 1530 256 1547 235 1563 212 1580 186M1194 287 1213 305 1232 319 1251 332 1269 342 1287 350 1305 355 1323 358 1340 360 1358 359 1375 356 1392 352 1409 345 1425 337 1442 327 1459 315 1475 301 1492 286 1508 269 1525 250 1541 229 1558 206 1575 182M1189 279 1208 296 1227 311 1246 324 1264 334 1283 342 1300 347 1318 351 1335 352 1353 352 1370 349 1387 345 1404 338 1420 330 1437 320 1454 309 1470 295 1487 280 1503 263 1520 244 1536 224 1553 201 1569 177M1184 270 1204 288 1223 303 1241 316 1260 326 1278 334 1296 340 1313 344 1331 345 1348 345 1365 342 1382 338 1399 332 1415 324 1432 314 1448 302 1465 289 1481 274 1498 257 1514 239 1531 218 1547 196 1564 172M1180 262 1199 280 1218 295 1237 308 1255 318 1273 326 1291 332 1308 336 1326 338 1343 337 1360 335 1377 331 1394 325 1410 317 1427 308 1443 296 1460 283 1476 268 1493 251 1509 233 1525 213 1542 191 1558 167M1175 253 1194 271 1213 287 1232 300 1250 310 1268 319 1286 325 1304 329 1321 330 1338 330 1355 328 1372 324 1389 318 1405 311 1422 301 1438 290 1455 277 1471 262 1488 246 1504 227 1520 207 1537 186 1553 162M1170 245 1190 263 1209 279 1227 292 1246 302 1264 311 1281 317 1299 321 1316 323 1333 323 1350 321 1367 318 1384 312 1400 304 1417 295 1433 284 1450 271 1466 256 1482 240 1499 222 1515 202 1531 181 1548 158M1166 237 1185 255 1204 271 1223 284 1241 295 1259 303 1277 309 1294 314 1311 316 1329 316 1346 314 1362 311 1379 305 1396 298 1412 289 1428 278 1445 265 1461 250 1477 234 1494 216 1510 197 1526 176 1542 153M1161 228 1181 247 1200 262 1218 276 1236 287 1254 295 1272 302 1290 306 1307 309 1324 309 1341 308 1358 304 1374 299 1391 292 1407 283 1424 272 1440 259 1456 245 1472 229 1488 211 1505 192 1521 171 1537 149M1157 220 1176 238 1195 254 1214 268 1232 279 1250 288 1267 294 1285 299 1302 301 1319 302 1336 301 1353 297 1369 292 1386 285 1402 276 1419 266 1435 253 1451 239 1467 223 1483 206 1500 187 1516 166 1532 144M1152 211 1172 230 1190 246 1209 260 1227 271 1245 280 1263 287 1280 292 1297 294 1314 295 1331 294 1348 291 1365 286 1381 279 1397 270 1414 260 1430 247 1446 233 1462 218 1478 200 1495 182 1511 161 1527 140M1148 203 1167 222 1186 238 1204 252 1223 263 1241 272 1258 279 1276 284 1293 287 1310 288 1327 287 1343 284 1360 279 1376 273 1393 264 1409 254 1425 242 1441 228 1457 212 1473 195 1489 177 1506 157 1522 135M1143 194 1163 213 1181 230 1200 244 1218 255 1236 265 1254 272 1271 277 1288 280 1305 281 1322 280 1339 278 1355 273 1372 267 1388 258 1404 248 1420 236 1436 222 1452 207 1468 190 1484 172 1500 152 1516 131M1139 186 1158 205 1177 222 1195 236 1214 248 1232 257 1249 265 1267 270 1284 273 1301 274 1317 274 1334 271 1351 267 1367 260 1383 252 1399 242 1415 230 1431 217 1447 202 1463 185 1479 167 1495 147 1511 127M1134 178 1154 197 1173 214 1191 228 1209 240 1227 250 1245 257 1262 263 1279 266 1296 268 1313 267 1329 265 1346 261 1362 254 1378 246 1395 236 1411 225 1427 211 1443 196 1459 180 1474 162 1490 143 1506 123M1130 170 1149 190 1168 206 1187 221 1205 233 1223 242 1240 250 1257 256 1275 259 1292 261 1308 261 1325 259 1341 255 1358 248 1374 241 1390 231 1406 219 1422 206 1438 191 1454 175 1470 157 1485 138 1501 119M1126 162 1145 182 1164 199 1182 213 1200 225 1218 235 1236 243 1253 249 1270 253 1287 255 1304 255 1320 253 1337 249 1353 243 1369 235 1385 225 1401 214 1417 201 1433 186 1449 170 1465 153 1480 134 1496 115M1121 155 1141 174 1159 191 1178 206 1196 218 1214 228 1231 236 1249 242 1266 246 1283 248 1299 248 1316 247 1332 243 1348 237 1364 229 1380 220 1396 209 1412 196 1428 181 1444 165 1460 148 1476 130 1491 111M1117 147 1136 167 1155 184 1174 199 1192 211 1209 222 1227 230 1244 236 1261 240 1278 242 1295 242 1311 241 1328 237 1344 231 1360 224 1376 215 1392 204 1408 191 1423 176 1439 161 1455 143 1471 126 1486 107M1113 140 1132 160 1151 177 1169 192 1187 205 1205 215 1223 223 1240 229 1257 234 1274 236 1290 236 1307 235 1323 231 1339 226 1355 219 1371 209 1387 199 1403 186 1419 172 1434 156 1450 139 1466 121 1481 103M1109 133 1128 153 1147 171 1165 185 1183 198 1201 209 1218 217 1235 223 1252 228 1269 230 1286 231 1302 229 1318 226 1335 221 1351 214 1367 204 1382 194 1398 181 1414 167 1430 151 1445 135 1461 117 1477 99M1105 126 1124 146 1142 164 1161 179 1179 192 1196 202 1214 211 1231 217 1248 222 1265 225 1281 225 1298 224 1314 221 1330 216 1346 209 1362 200 1378 189 1394 176 1409 162 1425 147 1441 131 1456 113 1472 96M1100 120 1119 140 1138 158 1157 173 1175 186 1192 196 1210 205 1227 212 1244 216 1260 219 1277 220 1293 219 1310 216 1326 211 1342 204 1357 195 1373 184 1389 172 1405 158 1420 143 1436 127 1451 110 1467 92M1096 114 1115 134 1134 152 1152 167 1170 180 1188 191 1205 199 1223 206 1239 211 1256 214 1273 215 1289 214 1305 211 1321 206 1337 199 1353 190 1369 180 1384 168 1400 154 1416 139 1431 123 1447 106 1462 89M1092 108 1111 128 1130 146 1148 161 1166 174 1184 185 1201 194 1218 201 1235 206 1252 209 1268 210 1285 209 1301 206 1317 201 1333 194 1348 186 1364 175 1380 163 1395 150 1411 135 1426 119 1442 102 1457 86M1088 102 1107 122 1126 140 1144 156 1162 169 1180 180 1197 188 1214 195 1231 201 1248 204 1264 205 1280 204 1296 201 1312 197 1328 190 1344 181 1360 171 1375 159 1391 146 1406 131 1422 115 1437 99 1453 83M1084 96 1103 117 1122 135 1140 150 1158 163 1176 174 1193 183 1210 190 1227 196 1243 199 1260 200 1276 199 1292 197 1308 192 1324 186 1340 177 1355 167 1371 155 1386 142 1402 127 1417 112 1433 96 1448 80M1080 91 1099 112 1118 130 1136 145 1154 158 1171 169 1189 178 1206 186 1223 191 1239 194 1256 196 1272 195 1288 193 1304 188 1320 182 1335 173 1351 163 1366 151 1382 138 1397 124 1413 108 1428 92 1443 77M1076 86 1095 106 1114 124 1132 140 1150 153 1167 164 1185 174 1202 181 1218 186 1235 190 1251 191 1268 191 1284 188 1299 184 1315 178 1331 169 1346 159 1362 148 1377 135 1393 120 1408 105 1423 89 1439 74M1072 81 1091 101 1110 119 1128 135 1146 148 1163 160 1181 169 1198 176 1214 182 1231 185 1247 187 1263 187 1279 184 1295 180 1311 174 1326 166 1342 156 1357 144 1373 131 1388 117 1403 102 1419 86 1434 71M1068 76 1087 96 1106 115 1124 130 1142 144 1159 155 1177 164 1193 172 1210 177 1227 181 1243 183 1259 183 1275 180 1291 176 1307 170 1322 162 1338 152 1353 141 1368 128 1384 114 1399 99 1414 84 1429 69M1065 71 1083 91 1102 110 1120 125 1138 139 1155 150 1172 160 1189 167 1206 173 1223 177 1239 179 1255 179 1271 177 1287 172 1302 166 1318 159 1333 149 1349 137 1364 125 1379 111 1394 96 1410 81 1425 66M1061 65 1080 86 1098 105 1116 120 1134 134 1151 146 1168 155 1185 163 1202 169 1219 173 1235 175 1251 175 1267 173 1283 169 1298 163 1314 155 1329 145 1344 134 1360 122 1375 108 1390 93 1405 79 1420 64M1057 60 1076 81 1094 100 1112 115 1130 129 1147 141 1165 151 1181 158 1198 164 1214 168 1231 171 1247 171 1263 169 1278 165 1294 159 1309 152 1325 142 1340 131 1355 119 1370 105 1386 91 1401 76 1416 62M1053 55 1072 76 1090 94 1108 110 1126 124 1143 136 1161 146 1177 154 1194 160 1210 164 1227 166 1243 167 1259 165 1274 162 1290 156 1305 148 1321 139 1336 128 1351 116 1366 102 1381 88 1396 74 1411 61"/>
</g>
<g id="pc">
<polyline fill="none" stroke="#000" stroke-width="2.2" points="179,1187.1 157.3,821.9 477,767.6 734,841.2 716.7,1217.3"/>
<line stroke="#000" stroke-width="2.2" x1="477" y1="767.6" x2="477" y2="1102"/>
<polygon fill="#ff0" stroke="none" points="179,1187.1 402,1333.3 716.7,1217.3 477,1102"/>
<polyline fill="none" stroke="#00f0f0" stroke-width="1.8" points="200.5,1183.4 190.3,1195.3"/>
<polyline fill="none" stroke="#0000e6" stroke-width="1.8" points="224.2,1215.6 254.7,1188.5 288.6,1161.4 315.8,1147.8 346.3,1142.7 380.2,1142.7 424.2,1152.9 458.1,1161.4 492,1173.2 525.9,1183.4 559.8,1195.3 603.9,1200.3 644.6,1195.3 664.9,1191.9"/>
<polyline fill="none" stroke="#00f0f0" stroke-width="1.8" points="437.8,1113.9 458.1,1122.4 492,1134.2 525.9,1144.4 559.8,1152.9 590.3,1158"/>
<polyline fill="none" stroke="#0000e6" stroke-width="1.8" points="353.1,1298.6 407.3,1283.4 475.1,1266.4 542.9,1254.6 610.7,1254.6"/>
<polyline fill="none" stroke="#00f0f0" stroke-width="1.8" points="393.7,1324.1 427.6,1315.6 454.7,1312.2"/>
<polygon fill="none" stroke="#000" stroke-width="2.2" stroke-linejoin="miter" points="179,1187.1 402,1333.3 716.7,1217.3 477,1102"/>
<g stroke="#000" stroke-width="2.40" stroke-linejoin="round">
<path fill="#f50" d="M454 849l7 -15 -6 -3 -7 15z"/>
<path fill="#ff2a00" d="M461 834l7 -17 -6 -3 -7 17z"/>
<path fill="#ff8000" d="M447 863l7 -14 -6 -3 -7 13z"/>
<path fill="#f00" d="M468 817l7 -19 -5 -3 -8 19z"/>
<path fill="#fa0" d="M439 875l8 -12 -6 -4 -7 13z"/>
<path fill="#f00" d="M475 798l7 -21 -5 -4 -7 22z"/>
<path fill="#ffd500" d="M432 887l7 -12 -5 -3 -7 11z"/>
<path fill="#ffea00" d="M425 897l7 -10 -5 -4 -7 11z"/>
<path fill="#f50" d="M459 853l7 -15 -5 -4 -7 15z"/>
<path fill="#ff2a00" d="M466 838l8 -17 -6 -4 -7 17z"/>
<path fill="#ff8000" d="M452 866l7 -13 -5 -4 -7 14z"/>
<path fill="#eaff00" d="M418 907l7 -10 -5 -3 -8 10z"/>
<path fill="#f00" d="M474 821l7 -19 -6 -4 -7 19z"/>
<path fill="#fa0" d="M445 879l7 -13 -5 -3 -8 12z"/>
<path fill="#f00" d="M481 802l7 -21 -6 -4 -7 21z"/>
<path fill="#ffd500" d="M438 890l7 -11 -6 -4 -7 12z"/>
<path fill="#bfff00" d="M411 916l7 -9 -6 -3 -7 9z"/>
<path fill="#ffea00" d="M431 901l7 -11 -6 -3 -7 10z"/>
<path fill="#95ff00" d="M403 925l8 -9 -6 -3 -7 8z"/>
<path fill="#ff6a00" d="M465 857l7 -15 -6 -4 -7 15z"/>
<path fill="#ff2a00" d="M472 842l7 -17 -5 -4 -8 17z"/>
<path fill="#ff9500" d="M458 870l7 -13 -6 -4 -7 13z"/>
<path fill="#eaff00" d="M423 911l8 -10 -6 -4 -7 10z"/>
<path fill="#f00" d="M479 825l7 -19 -5 -4 -7 19z"/>
<path fill="#ffbf00" d="M450 883l8 -13 -6 -4 -7 13z"/>
<path fill="#f00" d="M486 806l8 -20 -6 -5 -7 21z"/>
<path fill="#80ff00" d="M396 933l7 -8 -5 -4 -7 8z"/>
<path fill="#ffd500" d="M443 894l7 -11 -5 -4 -7 11z"/>
<path fill="#bfff00" d="M416 920l7 -9 -5 -4 -7 9z"/>
<path fill="#ff0" d="M436 905l7 -11 -5 -4 -7 11z"/>
<path fill="#6aff00" d="M389 941l7 -8 -5 -4 -8 7z"/>
<path fill="#95ff00" d="M409 929l7 -9 -5 -4 -8 9z"/>
<path fill="#ff4000" d="M478 846l7 -17 -6 -4 -7 17z"/>
<path fill="#ff6a00" d="M470 861l8 -15 -6 -4 -7 15z"/>
<path fill="#ff9500" d="M463 874l7 -13 -5 -4 -7 13z"/>
<path fill="#f00" d="M485 829l7 -18 -6 -5 -7 19z"/>
<path fill="#d5ff00" d="M429 915l7 -10 -5 -4 -8 10z"/>
<path fill="#ffbf00" d="M456 887l7 -13 -5 -4 -8 13z"/>
<path fill="#f00" d="M492 811l7 -20 -5 -5 -8 20z"/>
<path fill="#80ff00" d="M401 937l8 -8 -6 -4 -7 8z"/>
<path fill="#5f0" d="M381 948l8 -7 -6 -5 -7 7z"/>
<path fill="#ffd500" d="M449 899l7 -12 -6 -4 -7 11z"/>
<path fill="#af0" d="M422 925l7 -10 -6 -4 -7 9z"/>
<path fill="#ff0" d="M442 909l7 -10 -6 -5 -7 11z"/>
<path fill="#6aff00" d="M394 945l7 -8 -5 -4 -7 8z"/>
<path fill="#80ff00" d="M414 933l8 -8 -6 -5 -7 9z"/>
<path fill="#ff4000" d="M483 850l8 -16 -6 -5 -7 17z"/>
<path fill="#ff6a00" d="M476 865l7 -15 -5 -4 -8 15z"/>
<path fill="#40ff00" d="M374 954l7 -6 -5 -5 -7 7z"/>
<path fill="#f00" d="M491 834l7 -18 -6 -5 -7 18z"/>
<path fill="#ff9500" d="M469 879l7 -14 -6 -4 -7 13z"/>
<path fill="#d5ff00" d="M434 919l8 -10 -6 -4 -7 10z"/>
<path fill="#ffbf00" d="M462 891l7 -12 -6 -5 -7 13z"/>
<path fill="#f00" d="M498 816l7 -20 -6 -5 -7 20z"/>
<path fill="#6aff00" d="M407 942l7 -9 -5 -4 -8 8z"/>
<path fill="#5f0" d="M387 952l7 -7 -5 -4 -8 7z"/>
<path fill="#ffea00" d="M454 903l8 -12 -6 -4 -7 12z"/>
<path fill="#af0" d="M427 929l7 -10 -5 -4 -7 10z"/>
<path fill="#2aff00" d="M367 960l7 -6 -5 -4 -8 6z"/>
<path fill="#ff0" d="M447 914l7 -11 -5 -4 -7 10z"/>
<path fill="#5f0" d="M400 950l7 -8 -6 -5 -7 8z"/>
<path fill="#ff4000" d="M489 855l7 -16 -5 -5 -8 16z"/>
<path fill="#80ff00" d="M420 938l7 -9 -5 -4 -8 8z"/>
<path fill="#ff8000" d="M482 870l7 -15 -6 -5 -7 15z"/>
<path fill="#40ff00" d="M379 959l8 -7 -6 -4 -7 6z"/>
<path fill="#ff1500" d="M496 839l7 -18 -5 -5 -7 18z"/>
<path fill="#fa0" d="M475 883l7 -13 -6 -5 -7 14z"/>
<path fill="#bfff00" d="M440 924l7 -10 -5 -5 -8 10z"/>
<path fill="#f00" d="M503 821l8 -20 -6 -5 -7 20z"/>
<path fill="#ffd500" d="M467 896l8 -13 -6 -4 -7 12z"/>
<path fill="#15ff00" d="M359 966l8 -6 -6 -4 -7 5z"/>
<path fill="#6aff00" d="M412 946l8 -8 -6 -5 -7 9z"/>
<path fill="#40ff00" d="M392 957l8 -7 -6 -5 -7 7z"/>
<path fill="#ffea00" d="M460 907l7 -11 -5 -5 -8 12z"/>
<path fill="#95ff00" d="M433 933l7 -9 -6 -5 -7 10z"/>
<path fill="#2aff00" d="M372 965l7 -6 -5 -5 -7 6z"/>
<path fill="#eaff00" d="M453 918l7 -11 -6 -4 -7 11z"/>
<path fill="#5f0" d="M405 954l7 -8 -5 -4 -7 8z"/>
<path fill="#f50" d="M495 860l7 -16 -6 -5 -7 16z"/>
<path fill="#ff8000" d="M487 874l8 -14 -6 -5 -7 15z"/>
<path fill="#80ff00" d="M425 942l8 -9 -6 -4 -7 9z"/>
<path fill="#15ff00" d="M352 971l7 -5 -5 -5 -8 5z"/>
<path fill="#ff1500" d="M502 844l7 -18 -6 -5 -7 18z"/>
<path fill="#2aff00" d="M385 964l7 -7 -5 -5 -8 7z"/>
<path fill="#fa0" d="M480 888l7 -14 -5 -4 -7 13z"/>
<path fill="#f00" d="M509 826l7 -19 -5 -6 -8 20z"/>
<path fill="#bfff00" d="M445 928l8 -10 -6 -4 -7 10z"/>
<path fill="#15ff00" d="M364 971l8 -6 -5 -5 -8 6z"/>
<path fill="#ffd500" d="M473 900l7 -12 -5 -5 -8 13z"/>
<path fill="#5f0" d="M418 951l7 -9 -5 -4 -8 8z"/>
<path fill="#40ff00" d="M398 962l7 -8 -5 -4 -8 7z"/>
<path fill="#ff0" d="M466 912l7 -12 -6 -4 -7 11z"/>
<path fill="#95ff00" d="M438 938l7 -10 -5 -4 -7 9z"/>
<path fill="#15ff00" d="M377 971l8 -7 -6 -5 -7 6z"/>
<path fill="#0f0" d="M344 976l8 -5 -6 -5 -7 4z"/>
<path fill="#d5ff00" d="M458 923l8 -11 -6 -5 -7 11z"/>
<path fill="#f50" d="M500 865l8 -16 -6 -5 -7 16z"/>
<path fill="#40ff00" d="M410 959l8 -8 -6 -5 -7 8z"/>
<path fill="#ff2a00" d="M508 849l7 -17 -6 -6 -7 18z"/>
<path fill="#ff9500" d="M493 879l7 -14 -5 -5 -8 14z"/>
<path fill="#0f0" d="M357 977l7 -6 -5 -5 -7 5z"/>
<path fill="#6aff00" d="M431 947l7 -9 -5 -5 -8 9z"/>
<path fill="#2aff00" d="M390 969l8 -7 -6 -5 -7 7z"/>
<path fill="#ffbf00" d="M486 893l7 -14 -6 -5 -7 14z"/>
<path fill="#f00" d="M515 832l7 -20 -6 -5 -7 19z"/>
<path fill="#af0" d="M451 933l7 -10 -5 -5 -8 10z"/>
<path fill="#0f0" d="M370 977l7 -6 -5 -6 -8 6z"/>
<path fill="#ffd500" d="M479 905l7 -12 -6 -5 -7 12z"/>
<path fill="#5f0" d="M423 956l8 -9 -6 -5 -7 9z"/>
<path fill="#2aff00" d="M403 967l7 -8 -5 -5 -7 8z"/>
<path fill="#0f0" d="M336 980l8 -4 -5 -6 -8 4z"/>
<path fill="#ff0" d="M471 917l8 -12 -6 -5 -7 12z"/>
<path fill="#80ff00" d="M444 943l7 -10 -6 -5 -7 10z"/>
<path fill="#15ff00" d="M383 976l7 -7 -5 -5 -8 7z"/>
<path fill="#0f0" d="M349 981l8 -4 -5 -6 -8 5z"/>
<path fill="#d5ff00" d="M464 927l7 -10 -5 -5 -8 11z"/>
<path fill="#ff6a00" d="M506 870l8 -16 -6 -5 -8 16z"/>
<path fill="#ff2a00" d="M514 854l7 -17 -6 -5 -7 17z"/>
<path fill="#ff9500" d="M499 884l7 -14 -6 -5 -7 14z"/>
<path fill="#0f0" d="M362 982l8 -5 -6 -6 -7 6z"/>
<path fill="#40ff00" d="M416 964l7 -8 -5 -5 -8 8z"/>
<path fill="#6aff00" d="M436 952l8 -9 -6 -5 -7 9z"/>
<path fill="#15ff00" d="M396 974l7 -7 -5 -5 -8 7z"/>
<path fill="#f00" d="M521 837l7 -19 -6 -6 -7 20z"/>
<path fill="#ffbf00" d="M492 898l7 -14 -6 -5 -7 14z"/>
<path fill="#95ff00" d="M457 938l7 -11 -6 -4 -7 10z"/>
<path fill="#0f0" d="M375 982l8 -6 -6 -5 -7 6z"/>
<path fill="#ffea00" d="M484 910l8 -12 -6 -5 -7 12z"/>
<path fill="#0f0" d="M329 983l7 -3 -5 -6 -8 3zM342 986l7 -5 -5 -5 -8 4z"/>
<path fill="#5f0" d="M429 960l7 -8 -5 -5 -8 9z"/>
<path fill="#2aff00" d="M409 972l7 -8 -6 -5 -7 8z"/>
<path fill="#eaff00" d="M477 921l7 -11 -5 -5 -8 12z"/>
<path fill="#80ff00" d="M449 947l8 -9 -6 -5 -7 10z"/>
<path fill="#0f0" d="M388 981l8 -7 -6 -5 -7 7zM355 987l7 -5 -5 -5 -8 4z"/>
<path fill="#ff6a00" d="M512 875l7 -15 -5 -6 -8 16z"/>
<path fill="#ff4000" d="M519 860l8 -17 -6 -6 -7 17z"/>
<path fill="#bfff00" d="M470 932l7 -11 -6 -4 -7 10z"/>
<path fill="#fa0" d="M505 889l7 -14 -6 -5 -7 14z"/>
<path fill="#0f0" d="M368 988l7 -6 -5 -5 -8 5z"/>
<path fill="#f00" d="M527 843l7 -19 -6 -6 -7 19z"/>
<path fill="#2aff00" d="M422 969l7 -9 -6 -4 -7 8z"/>
<path fill="#15ff00" d="M401 979l8 -7 -6 -5 -7 7z"/>
<path fill="#5f0" d="M442 956l7 -9 -5 -4 -8 9z"/>
<path fill="#ffbf00" d="M497 903l8 -14 -6 -5 -7 14z"/>
<path fill="#0f0" d="M321 985l8 -2 -6 -6 -7 2z"/>
<path fill="#95ff00" d="M462 942l8 -10 -6 -5 -7 11z"/>
<path fill="#0f0" d="M381 987l7 -6 -5 -5 -8 6z"/>
<path fill="#00ff15" d="M334 989l8 -3 -6 -6 -7 3z"/>
<path fill="#ffea00" d="M490 915l7 -12 -5 -5 -8 12z"/>
<path fill="#00ff15" d="M347 992l8 -5 -6 -6 -7 5z"/>
<path fill="#15ff00" d="M414 977l8 -8 -6 -5 -7 8z"/>
<path fill="#40ff00" d="M435 965l7 -9 -6 -4 -7 8z"/>
<path fill="#eaff00" d="M483 926l7 -11 -6 -5 -7 11z"/>
<path fill="#00ff15" d="M360 993l8 -5 -6 -6 -7 5z"/>
<path fill="#0f0" d="M394 986l7 -7 -5 -5 -8 7z"/>
<path fill="#6aff00" d="M455 952l7 -10 -5 -4 -8 9z"/>
<path fill="#f50" d="M525 865l8 -16 -6 -6 -8 17z"/>
<path fill="#ff8000" d="M518 881l7 -16 -6 -5 -7 15z"/>
<path fill="#af0" d="M475 937l8 -11 -6 -5 -7 11z"/>
<path fill="#ff1500" d="M533 849l7 -18 -6 -7 -7 19z"/>
<path fill="#fa0" d="M511 895l7 -14 -6 -6 -7 14z"/>
<path fill="#00ff15" d="M373 993l8 -6 -6 -5 -7 6z"/>
<path fill="#2aff00" d="M427 974l8 -9 -6 -5 -7 9z"/>
<path fill="#0f0" d="M407 984l7 -7 -5 -5 -8 7z"/>
<path fill="#ffd500" d="M503 908l8 -13 -6 -6 -8 14z"/>
<path fill="#5f0" d="M448 961l7 -9 -6 -5 -7 9z"/>
<path fill="#00ff15" d="M326 992l8 -3 -5 -6 -8 2z"/>
<path fill="#0f0" d="M313 987l8 -2 -5 -6 -8 1z"/>
<path fill="#00ff15" d="M339 995l8 -3 -5 -6 -8 3zM386 993l8 -7 -6 -5 -7 6z"/>
<path fill="#80ff00" d="M468 947l7 -10 -5 -5 -8 10z"/>
<path fill="#ff0" d="M496 920l7 -12 -6 -5 -7 12z"/>
<path fill="#00ff15" d="M352 998l8 -5 -5 -6 -8 5z"/>
<path fill="#15ff00" d="M420 982l7 -8 -5 -5 -8 8z"/>
<path fill="#40ff00" d="M440 970l8 -9 -6 -5 -7 9z"/>
<path fill="#d5ff00" d="M489 931l7 -11 -6 -5 -7 11z"/>
<path fill="#00ff15" d="M366 999l7 -6 -5 -5 -8 5z"/>
<path fill="#0f0" d="M399 992l8 -8 -6 -5 -7 7z"/>
<path fill="#6aff00" d="M461 957l7 -10 -6 -5 -7 10z"/>
<path fill="#f50" d="M531 871l7 -16 -5 -6 -8 16z"/>
<path fill="#ff9500" d="M524 886l7 -15 -6 -6 -7 16z"/>
<path fill="#ff2a00" d="M538 855l8 -18 -6 -6 -7 18z"/>
<path fill="#ffbf00" d="M516 900l8 -14 -6 -5 -7 14z"/>
<path fill="#00ff15" d="M379 999l7 -6 -5 -6 -8 6z"/>
<path fill="#af0" d="M481 942l8 -11 -6 -5 -8 11z"/>
<path fill="#15ff00" d="M433 979l7 -9 -5 -5 -8 9z"/>
<path fill="#00ff15" d="M319 994l7 -2 -5 -7 -8 2zM332 999l7 -4 -5 -6 -8 3z"/>
<path fill="#ffd500" d="M509 913l7 -13 -5 -5 -8 13z"/>
<path fill="#0f0" d="M412 989l8 -7 -6 -5 -7 7z"/>
<path fill="#5f0" d="M453 966l8 -9 -6 -5 -7 9z"/>
<path fill="#0f0" d="M305 988l8 -1 -5 -7 -8 1z"/>
<path fill="#00ff15" d="M345 1002l7 -4 -5 -6 -8 3zM392 998l7 -6 -5 -6 -8 7z"/>
<path fill="#80ff00" d="M474 952l7 -10 -6 -5 -7 10z"/>
<path fill="#ff0" d="M502 925l7 -12 -6 -5 -7 12z"/>
<path fill="#00ff15" d="M358 1004l8 -5 -6 -6 -8 5z"/>
<path fill="#0f0" d="M425 987l8 -8 -6 -5 -7 8z"/>
<path fill="#2aff00" d="M446 975l7 -9 -5 -5 -8 9z"/>
<path fill="#00ff15" d="M371 1005l8 -6 -6 -6 -7 6z"/>
<path fill="#bfff00" d="M494 936l8 -11 -6 -5 -7 11z"/>
<path fill="#00ff15" d="M405 997l7 -8 -5 -5 -8 8z"/>
<path fill="#ff6a00" d="M537 877l7 -16 -6 -6 -7 16z"/>
<path fill="#6aff00" d="M466 962l8 -10 -6 -5 -7 10z"/>
<path fill="#ff2a00" d="M544 861l8 -17 -6 -7 -8 18z"/>
<path fill="#ff9500" d="M530 892l7 -15 -6 -6 -7 15z"/>
<path fill="#ffbf00" d="M522 905l8 -13 -6 -6 -8 14z"/>
<path fill="#00ff15" d="M384 1005l8 -7 -6 -5 -7 6zM324 1001l8 -2 -6 -7 -7 2z"/>
<path fill="#95ff00" d="M487 947l7 -11 -5 -5 -8 11z"/>
<path fill="#00ff15" d="M337 1005l8 -3 -6 -7 -7 4zM311 995l8 -1 -6 -7 -8 1z"/>
<path fill="#ffea00" d="M515 918l7 -13 -6 -5 -7 13z"/>
<path fill="#15ff00" d="M438 984l8 -9 -6 -5 -7 9z"/>
<path fill="#0f0" d="M418 995l7 -8 -5 -5 -8 7z"/>
<path fill="#00ff15" d="M350 1008l8 -4 -6 -6 -7 4z"/>
<path fill="#40ff00" d="M459 971l7 -9 -5 -5 -8 9z"/>
<path fill="#0f0" d="M297 988l8 0 -5 -7 -8 0z"/>
<path fill="#00ff15" d="M397 1004l8 -7 -6 -5 -7 6zM363 1010l8 -5 -5 -6 -8 5z"/>
<path fill="#eaff00" d="M508 930l7 -12 -6 -5 -7 12z"/>
<path fill="#6aff00" d="M480 957l7 -10 -6 -5 -7 10z"/>
<path fill="#00ff15" d="M377 1010l7 -5 -5 -6 -8 6z"/>
<path fill="#0f0" d="M431 992l7 -8 -5 -5 -8 8z"/>
<path fill="#2aff00" d="M452 980l7 -9 -6 -5 -7 9z"/>
<path fill="#ff8000" d="M543 883l7 -15 -6 -7 -7 16z"/>
<path fill="#bfff00" d="M500 941l8 -11 -6 -5 -8 11z"/>
<path fill="#ff4000" d="M550 868l8 -18 -6 -6 -8 17z"/>
<path fill="#00ff15" d="M410 1002l8 -7 -6 -6 -7 8z"/>
<path fill="#fa0" d="M536 898l7 -15 -6 -6 -7 15z"/>
<path fill="#5f0" d="M472 966l8 -9 -6 -5 -8 10z"/>
<path fill="#ffd500" d="M528 911l8 -13 -6 -6 -8 13z"/>
<path fill="#00ff15" d="M329 1008l8 -3 -5 -6 -8 2zM316 1003l8 -2 -5 -7 -8 1zM390 1010l7 -6 -5 -6 -8 7z"/>
<path fill="#00ff2b" d="M343 1012l7 -4 -5 -6 -8 3z"/>
<path fill="#95ff00" d="M493 951l7 -10 -6 -5 -7 11z"/>
<path fill="#00ff15" d="M303 996l8 -1 -6 -7 -8 0z"/>
<path fill="#ffea00" d="M521 923l7 -12 -6 -6 -7 13z"/>
<path fill="#00ff2b" d="M356 1014l7 -4 -5 -6 -8 4z"/>
<path fill="#15ff00" d="M444 988l8 -8 -6 -5 -8 9z"/>
<path fill="#00ff15" d="M423 1000l8 -8 -6 -5 -7 8z"/>
<path fill="#40ff00" d="M465 976l7 -10 -6 -4 -7 9z"/>
<path fill="#0f0" d="M289 987l8 1 -5 -7 -8 -2z"/>
<path fill="#00ff15" d="M403 1009l7 -7 -5 -5 -8 7z"/>
<path fill="#00ff2b" d="M369 1016l8 -6 -6 -5 -8 5z"/>
<path fill="#d5ff00" d="M514 935l7 -12 -6 -5 -7 12z"/>
<path fill="#6aff00" d="M485 961l8 -10 -6 -4 -7 10z"/>
<path fill="#f50" d="M556 874l8 -17 -6 -7 -8 18z"/>
<path fill="#ff8000" d="M549 889l7 -15 -6 -6 -7 15z"/>
<path fill="#00ff2b" d="M382 1016l8 -6 -6 -5 -7 5z"/>
<path fill="#0f0" d="M437 997l7 -9 -6 -4 -7 8z"/>
<path fill="#af0" d="M506 946l8 -11 -6 -5 -8 11z"/>
<path fill="#fa0" d="M542 903l7 -14 -6 -6 -7 15z"/>
<path fill="#15ff00" d="M457 985l8 -9 -6 -5 -7 9z"/>
<path fill="#00ff15" d="M416 1007l7 -7 -5 -5 -8 7z"/>
<path fill="#5f0" d="M478 971l7 -10 -5 -4 -8 9z"/>
<path fill="#00ff2b" d="M335 1015l8 -3 -6 -7 -8 3z"/>
<path fill="#00ff15" d="M321 1010l8 -2 -5 -7 -8 2z"/>
<path fill="#ffd500" d="M534 916l8 -13 -6 -5 -8 13z"/>
<path fill="#00ff2b" d="M348 1018l8 -4 -6 -6 -7 4z"/>
<path fill="#00ff15" d="M308 1004l8 -1 -5 -8 -8 1z"/>
<path fill="#00ff2b" d="M395 1016l8 -7 -6 -5 -7 6z"/>
<path fill="#80ff00" d="M499 956l7 -10 -6 -5 -7 10z"/>
<path fill="#00ff2b" d="M361 1021l8 -5 -6 -6 -7 4z"/>
<path fill="#ff0" d="M527 929l7 -13 -6 -5 -7 12z"/>
<path fill="#0f0" d="M295 996l8 0 -6 -8 -8 -1zM450 993l7 -8 -5 -5 -8 8z"/>
<path fill="#00ff15" d="M429 1005l8 -8 -6 -5 -8 8z"/>
<path fill="#2aff00" d="M471 980l7 -9 -6 -5 -7 10z"/>
<path fill="#00ff2b" d="M374 1022l8 -6 -5 -6 -8 6z"/>
<path fill="#00ff15" d="M408 1014l8 -7 -6 -5 -7 7z"/>
<path fill="#d5ff00" d="M519 940l8 -11 -6 -6 -7 12z"/>
<path fill="#6aff00" d="M491 966l8 -10 -6 -5 -8 10z"/>
<path fill="#15ff00" d="M281 986l8 1 -5 -8 -8 -2z"/>
<path fill="#ff6a00" d="M562 881l8 -16 -6 -8 -8 17z"/>
<path fill="#ff9500" d="M555 896l7 -15 -6 -7 -7 15z"/>
<path fill="#00ff2b" d="M388 1022l7 -6 -5 -6 -8 6z"/>
<path fill="#ffbf00" d="M548 909l7 -13 -6 -7 -7 14z"/>
<path fill="#0f0" d="M442 1002l8 -9 -6 -5 -7 9z"/>
<path fill="#95ff00" d="M512 951l7 -11 -5 -5 -8 11z"/>
<path fill="#00ff2b" d="M327 1017l8 -2 -6 -7 -8 2z"/>
<path fill="#15ff00" d="M463 989l8 -9 -6 -4 -8 9z"/>
<path fill="#00ff2b" d="M340 1022l8 -4 -5 -6 -8 3z"/>
<path fill="#00ff15" d="M422 1012l7 -7 -6 -5 -7 7zM314 1011l7 -1 -5 -7 -8 1z"/>
<path fill="#ffea00" d="M540 922l8 -13 -6 -6 -8 13z"/>
<path fill="#00ff2b" d="M353 1025l8 -4 -5 -7 -8 4z"/>
<path fill="#40ff00" d="M484 976l7 -10 -6 -5 -7 10z"/>
<path fill="#00ff2b" d="M401 1021l7 -7 -5 -5 -8 7z"/>
<path fill="#00ff15" d="M300 1004l8 0 -5 -8 -8 0z"/>
<path fill="#00ff2b" d="M367 1027l7 -5 -5 -6 -8 5z"/>
<path fill="#eaff00" d="M533 934l7 -12 -6 -6 -7 13z"/>
<path fill="#80ff00" d="M505 961l7 -10 -6 -5 -7 10z"/>
<path fill="#0f0" d="M456 998l7 -9 -6 -4 -7 8z"/>
<path fill="#00ff15" d="M435 1010l7 -8 -5 -5 -8 8z"/>
<path fill="#0f0" d="M287 994l8 2 -6 -9 -8 -1z"/>
<path fill="#00ff2b" d="M380 1028l8 -6 -6 -6 -8 6z"/>
<path fill="#2aff00" d="M476 985l8 -9 -6 -5 -7 9z"/>
<path fill="#00ff2b" d="M414 1020l8 -8 -6 -5 -8 7z"/>
<path fill="#ff8000" d="M569 888l7 -16 -6 -7 -8 16z"/>
<path fill="#bfff00" d="M525 945l8 -11 -6 -5 -8 11z"/>
<path fill="#fa0" d="M561 902l8 -14 -7 -7 -7 15z"/>
<path fill="#5f0" d="M497 971l8 -10 -6 -5 -8 10z"/>
<path fill="#ffd500" d="M554 915l7 -13 -6 -6 -7 13z"/>
<path fill="#00ff2b" d="M393 1027l8 -6 -6 -5 -7 6zM332 1024l8 -2 -5 -7 -8 2z"/>
<path fill="#15ff00" d="M273 983l8 3 -5 -9 -8 -3z"/>
<path fill="#00ff2b" d="M346 1028l7 -3 -5 -7 -8 4zM319 1019l8 -2 -6 -7 -7 1z"/>
<path fill="#95ff00" d="M518 956l7 -11 -6 -5 -7 11z"/>
<path fill="#00ff15" d="M448 1006l8 -8 -6 -5 -8 9z"/>
<path fill="#ffea00" d="M546 928l8 -13 -6 -6 -8 13z"/>
<path fill="#15ff00" d="M469 994l7 -9 -5 -5 -8 9z"/>
<path fill="#00ff15" d="M427 1017l8 -7 -6 -5 -7 7z"/>
<path fill="#00ff2b" d="M359 1031l8 -4 -6 -6 -8 4z"/>
<path fill="#00ff15" d="M306 1012l8 -1 -6 -7 -8 0z"/>
<path fill="#40ff00" d="M490 981l7 -10 -6 -5 -7 10z"/>
<path fill="#00ff2b" d="M406 1026l8 -6 -6 -6 -7 7zM372 1033l8 -5 -6 -6 -7 5z"/>
<path fill="#eaff00" d="M539 939l7 -11 -6 -6 -7 12z"/>
<path fill="#00ff15" d="M292 1003l8 1 -5 -8 -8 -2z"/>
<path fill="#6aff00" d="M511 966l7 -10 -6 -5 -7 10z"/>
<path fill="#ff8000" d="M575 895l7 -16 -6 -7 -7 16z"/>
<path fill="#00ff2b" d="M386 1033l7 -6 -5 -5 -8 6z"/>
<path fill="#00ff15" d="M441 1014l7 -8 -6 -4 -7 8z"/>
<path fill="#0f0" d="M461 1003l8 -9 -6 -5 -7 9z"/>
<path fill="#fa0" d="M567 909l8 -14 -6 -7 -8 14z"/>
<path fill="#15ff00" d="M482 990l8 -9 -6 -5 -8 9z"/>
<path fill="#af0" d="M531 950l8 -11 -6 -5 -8 11z"/>
<path fill="#00ff2b" d="M420 1025l7 -8 -5 -5 -8 8z"/>
<path fill="#0f0" d="M278 992l9 2 -6 -8 -8 -3z"/>
<path fill="#ffd500" d="M560 922l7 -13 -6 -7 -7 13z"/>
<path fill="#5f0" d="M503 976l8 -10 -6 -5 -8 10z"/>
<path fill="#00ff2b" d="M338 1031l8 -3 -6 -6 -8 2zM324 1026l8 -2 -5 -7 -8 2zM399 1033l7 -7 -5 -5 -8 6zM351 1035l8 -4 -6 -6 -7 3zM311 1019l8 0 -5 -8 -8 1z"/>
<path fill="#80ff00" d="M524 961l7 -11 -6 -5 -7 11z"/>
<path fill="#ff0" d="M552 934l8 -12 -6 -7 -8 13z"/>
<path fill="#00ff2b" d="M365 1037l7 -4 -5 -6 -8 4z"/>
<path fill="#00ff15" d="M454 1011l7 -8 -5 -5 -8 8z"/>
<path fill="#00ff2b" d="M433 1022l8 -8 -6 -4 -8 7z"/>
<path fill="#0f0" d="M475 999l7 -9 -6 -5 -7 9z"/>
<path fill="#00ff15" d="M298 1011l8 1 -6 -8 -8 -1z"/>
<path fill="#2aff00" d="M265 980l8 3 -5 -9 -9 -4zM496 985l7 -9 -6 -5 -7 10z"/>
<path fill="#00ff2b" d="M378 1039l8 -6 -6 -5 -8 5zM412 1032l8 -7 -6 -5 -8 6z"/>
<path fill="#d5ff00" d="M545 945l7 -11 -6 -6 -7 11z"/>
<path fill="#ff9500" d="M581 902l7 -15 -6 -8 -7 16z"/>
<path fill="#6aff00" d="M517 971l7 -10 -6 -5 -7 10z"/>
<path fill="#ffbf00" d="M573 915l8 -13 -6 -7 -8 14z"/>
<path fill="#0f0" d="M284 1001l8 2 -5 -9 -9 -2z"/>
<path fill="#00ff2b" d="M391 1039l8 -6 -6 -6 -7 6z"/>
<path fill="#00ff15" d="M446 1019l8 -8 -6 -5 -7 8z"/>
<path fill="#0f0" d="M467 1007l8 -8 -6 -5 -8 9z"/>
<path fill="#95ff00" d="M537 956l8 -11 -6 -6 -8 11z"/>
<path fill="#00ff2b" d="M425 1030l8 -8 -6 -5 -7 8z"/>
<path fill="#15ff00" d="M488 994l8 -9 -6 -4 -8 9z"/>
<path fill="#ffea00" d="M566 928l7 -13 -6 -6 -7 13z"/>
<path fill="#00ff2b" d="M330 1033l8 -2 -6 -7 -8 2zM343 1038l8 -3 -5 -7 -8 3zM316 1027l8 -1 -5 -7 -8 0z"/>
<path fill="#00ff40" d="M357 1042l8 -5 -6 -6 -8 4z"/>
<path fill="#40ff00" d="M509 980l8 -9 -6 -5 -8 10z"/>
<path fill="#00ff2b" d="M404 1038l8 -6 -6 -6 -7 7z"/>
<path fill="#15ff00" d="M270 989l8 3 -5 -9 -8 -3z"/>
<path fill="#eaff00" d="M558 940l8 -12 -6 -6 -8 12z"/>
<path fill="#00ff40" d="M370 1044l8 -5 -6 -6 -7 4z"/>
<path fill="#00ff2b" d="M303 1019l8 0 -5 -7 -8 -1z"/>
<path fill="#80ff00" d="M530 966l7 -10 -6 -6 -7 11z"/>
<path fill="#00ff15" d="M460 1015l7 -8 -6 -4 -7 8z"/>
<path fill="#00ff2b" d="M439 1027l7 -8 -5 -5 -8 8z"/>
<path fill="#0f0" d="M481 1003l7 -9 -6 -4 -7 9z"/>
<path fill="#fa0" d="M587 909l7 -14 -6 -8 -7 15z"/>
<path fill="#00ff40" d="M383 1045l8 -6 -5 -6 -8 6z"/>
<path fill="#bfff00" d="M551 951l7 -11 -6 -6 -7 11z"/>
<path fill="#2aff00" d="M502 990l7 -10 -6 -4 -7 9z"/>
<path fill="#00ff2b" d="M418 1037l7 -7 -5 -5 -8 7z"/>
<path fill="#00ff15" d="M289 1010l9 1 -6 -8 -8 -2z"/>
<path fill="#ffd500" d="M579 922l8 -13 -6 -7 -8 13z"/>
<path fill="#5f0" d="M523 976l7 -10 -6 -5 -7 10z"/>
<path fill="#40ff00" d="M256 975l9 5 -6 -10 -8 -5z"/>
<path fill="#00ff40" d="M397 1044l7 -6 -5 -5 -8 6z"/>
<path fill="#ffea00" d="M572 934l7 -12 -6 -7 -7 13z"/>
<path fill="#00ff2b" d="M335 1041l8 -3 -5 -7 -8 2z"/>
<path fill="#95ff00" d="M544 961l7 -10 -6 -6 -8 11z"/>
<path fill="#00ff40" d="M349 1045l8 -3 -6 -7 -8 3z"/>
<path fill="#00ff15" d="M452 1024l8 -9 -6 -4 -8 8zM473 1012l8 -9 -6 -4 -8 8z"/>
<path fill="#00ff2b" d="M322 1035l8 -2 -6 -7 -8 1z"/>
<path fill="#0f0" d="M276 999l8 2 -6 -9 -8 -3z"/>
<path fill="#00ff2b" d="M431 1034l8 -7 -6 -5 -8 8z"/>
<path fill="#15ff00" d="M494 999l8 -9 -6 -5 -8 9z"/>
<path fill="#00ff40" d="M362 1048l8 -4 -5 -7 -8 5z"/>
<path fill="#00ff2b" d="M308 1028l8 -1 -5 -8 -8 0z"/>
<path fill="#40ff00" d="M515 985l8 -9 -6 -5 -8 9z"/>
<path fill="#d5ff00" d="M565 946l7 -12 -6 -6 -8 12z"/>
<path fill="#00ff2b" d="M410 1043l8 -6 -6 -5 -8 6z"/>
<path fill="#00ff40" d="M376 1050l7 -5 -5 -6 -8 5z"/>
<path fill="#ffbf00" d="M593 917l8 -13 -7 -9 -7 14z"/>
<path fill="#6aff00" d="M536 971l8 -10 -7 -5 -7 10z"/>
<path fill="#00ff15" d="M295 1019l8 0 -5 -8 -9 -1zM466 1020l7 -8 -6 -5 -7 8z"/>
<path fill="#00ff2b" d="M445 1031l7 -7 -6 -5 -7 8z"/>
<path fill="#00ff40" d="M389 1050l8 -6 -6 -5 -8 6z"/>
<path fill="#ffea00" d="M586 929l7 -12 -6 -8 -8 13z"/>
<path fill="#0f0" d="M487 1007l7 -8 -6 -5 -7 9z"/>
<path fill="#af0" d="M557 956l8 -10 -7 -6 -7 11z"/>
<path fill="#2aff00" d="M262 985l8 4 -5 -9 -9 -5zM508 994l7 -9 -6 -5 -7 10z"/>
<path fill="#00ff2b" d="M424 1041l7 -7 -6 -4 -7 7z"/>
<path fill="#5f0" d="M529 980l7 -9 -6 -5 -7 10z"/>
<path fill="#00ff15" d="M281 1008l8 2 -5 -9 -8 -2z"/>
<path fill="#ff0" d="M578 941l8 -12 -7 -7 -7 12z"/>
<path fill="#00ff40" d="M341 1048l8 -3 -6 -7 -8 3z"/>
<path fill="#00ff2b" d="M328 1043l7 -2 -5 -8 -8 2z"/>
<path fill="#00ff40" d="M402 1050l8 -7 -6 -5 -7 6zM354 1052l8 -4 -5 -6 -8 3z"/>
<path fill="#80ff00" d="M550 966l7 -10 -6 -5 -7 10z"/>
<path fill="#00ff2b" d="M314 1036l8 -1 -6 -8 -8 1z"/>
<path fill="#00ff40" d="M368 1054l8 -4 -6 -6 -8 4z"/>
<path fill="#00ff2b" d="M458 1028l8 -8 -6 -5 -8 9z"/>
<path fill="#00ff15" d="M479 1016l8 -9 -6 -4 -8 9z"/>
<path fill="#00ff2b" d="M437 1039l8 -8 -6 -4 -8 7z"/>
<path fill="#0f0" d="M500 1003l8 -9 -6 -4 -8 9z"/>
<path fill="#bfff00" d="M571 952l7 -11 -6 -7 -7 12z"/>
<path fill="#ffd500" d="M599 925l8 -13 -6 -8 -8 13z"/>
<path fill="#6aff00" d="M248 970l8 5 -5 -10 -9 -5z"/>
<path fill="#40ff00" d="M521 990l8 -10 -6 -4 -8 9z"/>
<path fill="#00ff2b" d="M300 1027l8 1 -5 -9 -8 0z"/>
<path fill="#00ff40" d="M416 1048l8 -7 -6 -4 -8 6zM381 1055l8 -5 -6 -5 -7 5z"/>
<path fill="#15ff00" d="M267 995l9 4 -6 -10 -8 -4z"/>
<path fill="#6aff00" d="M542 976l8 -10 -6 -5 -8 10z"/>
<path fill="#ffea00" d="M592 937l7 -12 -6 -8 -7 12z"/>
<path fill="#95ff00" d="M563 962l8 -10 -6 -6 -8 10z"/>
<path fill="#00ff40" d="M395 1055l7 -5 -5 -6 -8 6z"/>
<path fill="#00ff15" d="M287 1017l8 2 -6 -9 -8 -2zM471 1024l8 -8 -6 -4 -7 8z"/>
<path fill="#00ff2b" d="M450 1036l8 -8 -6 -4 -7 7z"/>
<path fill="#0f0" d="M493 1011l7 -8 -6 -4 -7 8z"/>
<path fill="#15ff00" d="M514 999l7 -9 -6 -5 -7 9z"/>
<path fill="#00ff2b" d="M429 1046l8 -7 -6 -5 -7 7z"/>
<path fill="#eaff00" d="M584 948l8 -11 -6 -8 -8 12z"/>
<path fill="#00ff40" d="M347 1055l7 -3 -5 -7 -8 3zM333 1050l8 -2 -6 -7 -7 2z"/>
<path fill="#40ff00" d="M535 985l7 -9 -6 -5 -7 9z"/>
<path fill="#00ff40" d="M360 1058l8 -4 -6 -6 -8 4z"/>
<path fill="#00ff2b" d="M319 1044l9 -1 -6 -8 -8 1z"/>
<path fill="#40ff00" d="M253 981l9 4 -6 -10 -8 -5z"/>
<path fill="#00ff40" d="M408 1055l8 -7 -6 -5 -8 7z"/>
<path fill="#80ff00" d="M556 972l7 -10 -6 -6 -7 10z"/>
<path fill="#ffea00" d="M605 933l8 -12 -6 -9 -8 13z"/>
<path fill="#00ff40" d="M374 1060l7 -5 -5 -5 -8 4z"/>
<path fill="#0f0" d="M273 1005l8 3 -5 -9 -9 -4z"/>
<path fill="#00ff2b" d="M306 1036l8 0 -6 -8 -8 -1z"/>
<path fill="#af0" d="M577 958l7 -10 -6 -7 -7 11z"/>
<path fill="#00ff2b" d="M464 1032l7 -8 -5 -4 -8 8z"/>
<path fill="#00ff15" d="M485 1020l8 -9 -6 -4 -8 9z"/>
<path fill="#00ff2b" d="M443 1043l7 -7 -5 -5 -8 8z"/>
<path fill="#0f0" d="M506 1007l8 -8 -6 -5 -8 9z"/>
<path fill="#ff0" d="M598 944l7 -11 -6 -8 -7 12z"/>
<path fill="#2aff00" d="M527 994l8 -9 -6 -5 -8 10z"/>
<path fill="#00ff40" d="M387 1061l8 -6 -6 -5 -8 5zM422 1053l7 -7 -5 -5 -8 7z"/>
<path fill="#5f0" d="M548 981l8 -9 -6 -6 -8 10z"/>
<path fill="#00ff2b" d="M292 1026l8 1 -5 -8 -8 -2z"/>
<path fill="#80ff00" d="M569 968l8 -10 -6 -6 -8 10z"/>
<path fill="#00ff40" d="M400 1061l8 -6 -6 -5 -7 5z"/>
<path fill="#bfff00" d="M591 955l7 -11 -6 -7 -8 11z"/>
<path fill="#2aff00" d="M259 991l8 4 -5 -10 -9 -4z"/>
<path fill="#80ff00" d="M239 964l9 6 -6 -10 -8 -7z"/>
<path fill="#00ff40" d="M339 1057l8 -2 -6 -7 -8 2z"/>
<path fill="#00ff15" d="M477 1028l8 -8 -6 -4 -8 8z"/>
<path fill="#00ff2b" d="M456 1040l8 -8 -6 -4 -8 8z"/>
<path fill="#00ff40" d="M352 1061l8 -3 -6 -6 -7 3z"/>
<path fill="#00ff15" d="M499 1016l7 -9 -6 -4 -7 8z"/>
<path fill="#00ff40" d="M325 1051l8 -1 -5 -7 -9 1z"/>
<path fill="#ff0" d="M612 941l7 -11 -6 -9 -8 12z"/>
<path fill="#15ff00" d="M520 1003l7 -9 -6 -4 -7 9z"/>
<path fill="#00ff40" d="M435 1050l8 -7 -6 -4 -8 7z"/>
<path fill="#00ff15" d="M278 1015l9 2 -6 -9 -8 -3z"/>
<path fill="#00ff40" d="M366 1064l8 -4 -6 -6 -8 4z"/>
<path fill="#40ff00" d="M541 990l7 -9 -6 -5 -7 9z"/>
<path fill="#00ff2b" d="M311 1044l8 0 -5 -8 -8 0z"/>
<path fill="#6aff00" d="M562 977l7 -9 -6 -6 -7 10z"/>
<path fill="#00ff40" d="M414 1059l8 -6 -6 -5 -8 7z"/>
<path fill="#95ff00" d="M583 965l8 -10 -7 -7 -7 10z"/>
<path fill="#00ff40" d="M379 1066l8 -5 -6 -6 -7 5z"/>
<path fill="#d5ff00" d="M604 952l8 -11 -7 -8 -7 11z"/>
<path fill="#00ff2b" d="M298 1035l8 1 -6 -9 -8 -1zM470 1036l7 -8 -6 -4 -7 8z"/>
<path fill="#00ff15" d="M491 1024l8 -8 -6 -5 -8 9z"/>
<path fill="#00ff2b" d="M449 1047l7 -7 -6 -4 -7 7z"/>
<path fill="#0f0" d="M512 1011l8 -8 -6 -4 -8 8z"/>
<path fill="#00ff40" d="M393 1066l7 -5 -5 -6 -8 6z"/>
<path fill="#6aff00" d="M245 975l8 6 -5 -11 -9 -6z"/>
<path fill="#15ff00" d="M264 1001l9 4 -6 -10 -8 -4z"/>
<path fill="#2aff00" d="M533 999l8 -9 -6 -5 -8 9z"/>
<path fill="#5f0" d="M554 986l8 -9 -6 -5 -8 9z"/>
<path fill="#00ff40" d="M427 1057l8 -7 -6 -4 -7 7z"/>
<path fill="#80ff00" d="M576 974l7 -9 -6 -7 -8 10z"/>
<path fill="#af0" d="M597 962l7 -10 -6 -8 -7 11z"/>
<path fill="#eaff00" d="M618 950l7 -10 -6 -10 -7 11z"/>
<path fill="#00ff15" d="M284 1024l8 2 -5 -9 -9 -2z"/>
<path fill="#00ff40" d="M344 1064l8 -3 -5 -6 -8 2zM331 1059l8 -2 -6 -7 -8 1zM406 1065l8 -6 -6 -4 -8 6zM358 1068l8 -4 -6 -6 -8 3zM317 1052l8 -1 -6 -7 -8 0z"/>
<path fill="#00ff2b" d="M483 1032l8 -8 -6 -4 -8 8zM462 1044l8 -8 -6 -4 -8 8z"/>
<path fill="#00ff40" d="M371 1070l8 -4 -5 -6 -8 4z"/>
<path fill="#00ff15" d="M505 1019l7 -8 -6 -4 -7 9z"/>
<path fill="#15ff00" d="M526 1007l7 -8 -6 -5 -7 9z"/>
<path fill="#40ff00" d="M547 995l7 -9 -6 -5 -7 9z"/>
<path fill="#00ff40" d="M441 1054l8 -7 -6 -4 -8 7z"/>
<path fill="#6aff00" d="M568 983l8 -9 -7 -6 -7 9z"/>
<path fill="#80ff00" d="M589 971l8 -9 -6 -7 -8 10z"/>
<path fill="#bfff00" d="M611 960l7 -10 -6 -9 -8 11z"/>
<path fill="#00ff2b" d="M303 1044l8 0 -5 -8 -8 -1z"/>
<path fill="#40ff00" d="M250 986l9 5 -6 -10 -8 -6z"/>
<path fill="#00ff40" d="M385 1071l8 -5 -6 -5 -8 5zM420 1064l7 -7 -5 -4 -8 6z"/>
<path fill="#0f0" d="M270 1011l8 4 -5 -10 -9 -4z"/>
<path fill="#af0" d="M231 957l8 7 -5 -11 -9 -8z"/>
<path fill="#bfff00" d="M624 959l8 -10 -7 -9 -7 10z"/>
<path fill="#00ff2b" d="M289 1033l9 2 -6 -9 -8 -2z"/>
<path fill="#95ff00" d="M603 969l8 -9 -7 -8 -7 10z"/>
<path fill="#00ff40" d="M398 1071l8 -6 -6 -4 -7 5z"/>
<path fill="#00ff2b" d="M476 1040l7 -8 -6 -4 -7 8z"/>
<path fill="#00ff15" d="M497 1027l8 -8 -6 -3 -8 8z"/>
<path fill="#0f0" d="M518 1015l8 -8 -6 -4 -8 8z"/>
<path fill="#6aff00" d="M582 980l7 -9 -6 -6 -7 9z"/>
<path fill="#00ff2b" d="M454 1051l8 -7 -6 -4 -7 7z"/>
<path fill="#15ff00" d="M539 1003l8 -8 -6 -5 -8 9z"/>
<path fill="#40ff00" d="M561 991l7 -8 -6 -6 -8 9z"/>
<path fill="#00ff40" d="M433 1061l8 -7 -6 -4 -8 7zM336 1066l8 -2 -5 -7 -8 2zM350 1071l8 -3 -6 -7 -8 3zM322 1060l9 -1 -6 -8 -8 1z"/>
<path fill="#0f5" d="M363 1074l8 -4 -5 -6 -8 4z"/>
<path fill="#2aff00" d="M256 997l8 4 -5 -10 -9 -5z"/>
<path fill="#00ff40" d="M412 1070l8 -6 -6 -5 -8 6z"/>
<path fill="#95ff00" d="M617 968l7 -9 -6 -9 -7 10z"/>
<path fill="#80ff00" d="M236 969l9 6 -6 -11 -8 -7z"/>
<path fill="#00ff15" d="M275 1021l9 3 -6 -9 -8 -4z"/>
<path fill="#00ff40" d="M309 1052l8 0 -6 -8 -8 0z"/>
<path fill="#0f5" d="M377 1076l8 -5 -6 -5 -8 4z"/>
<path fill="#80ff00" d="M596 978l7 -9 -6 -7 -8 9z"/>
<path fill="#5f0" d="M574 988l8 -8 -6 -6 -8 9z"/>
<path fill="#00ff2b" d="M489 1035l8 -8 -6 -3 -8 8z"/>
<path fill="#2aff00" d="M553 999l8 -8 -7 -5 -7 9z"/>
<path fill="#00ff15" d="M511 1023l7 -8 -6 -4 -7 8z"/>
<path fill="#0f0" d="M532 1011l7 -8 -6 -4 -7 8z"/>
<path fill="#00ff2b" d="M468 1047l8 -7 -6 -4 -8 8z"/>
<path fill="#00ff40" d="M447 1058l7 -7 -5 -4 -8 7z"/>
<path fill="#95ff00" d="M631 968l7 -9 -6 -10 -8 10z"/>
<path fill="#0f5" d="M391 1076l7 -5 -5 -5 -8 5z"/>
<path fill="#00ff2b" d="M295 1042l8 2 -5 -9 -9 -2z"/>
<path fill="#00ff40" d="M425 1068l8 -7 -6 -4 -7 7z"/>
<path fill="#80ff00" d="M609 977l8 -9 -6 -8 -8 9z"/>
<path fill="#5f0" d="M588 986l8 -8 -7 -7 -7 9z"/>
<path fill="#0f0" d="M261 1007l9 4 -6 -10 -8 -4z"/>
<path fill="#5f0" d="M242 980l8 6 -5 -11 -9 -6z"/>
<path fill="#40ff00" d="M567 996l7 -8 -6 -5 -7 8z"/>
<path fill="#00ff40" d="M404 1076l8 -6 -6 -5 -8 6zM342 1073l8 -2 -6 -7 -8 2z"/>
<path fill="#15ff00" d="M546 1007l7 -8 -6 -4 -8 8z"/>
<path fill="#0f0" d="M524 1019l8 -8 -6 -4 -8 8z"/>
<path fill="#00ff15" d="M503 1031l8 -8 -6 -4 -8 8z"/>
<path fill="#00ff2b" d="M482 1043l7 -8 -6 -3 -7 8z"/>
<path fill="#0f5" d="M355 1077l8 -3 -5 -6 -8 3z"/>
<path fill="#00ff40" d="M328 1068l8 -2 -5 -7 -9 1z"/>
<path fill="#80ff00" d="M623 977l8 -9 -7 -9 -7 9z"/>
<path fill="#00ff2b" d="M460 1054l8 -7 -6 -3 -8 7z"/>
<path fill="#00ff15" d="M281 1031l8 2 -5 -9 -9 -3z"/>
<path fill="#00ff40" d="M439 1065l8 -7 -6 -4 -8 7z"/>
<path fill="#0f5" d="M369 1080l8 -4 -6 -6 -8 4z"/>
<path fill="#00ff40" d="M314 1060l8 0 -5 -8 -8 0z"/>
<path fill="#d5ff00" d="M222 950l9 7 -6 -12 -9 -8z"/>
<path fill="#6aff00" d="M602 985l7 -8 -6 -8 -7 9z"/>
<path fill="#80ff00" d="M637 978l7 -8 -6 -11 -7 9z"/>
<path fill="#00ff40" d="M418 1074l7 -6 -5 -4 -8 6z"/>
<path fill="#0f5" d="M383 1081l8 -5 -6 -5 -8 5z"/>
<path fill="#40ff00" d="M581 994l7 -8 -6 -6 -8 8z"/>
<path fill="#00ff2b" d="M301 1051l8 1 -6 -8 -8 -2z"/>
<path fill="#2aff00" d="M559 1004l8 -8 -6 -5 -8 8z"/>
<path fill="#0f0" d="M538 1015l8 -8 -7 -4 -7 8z"/>
<path fill="#00ff15" d="M517 1027l7 -8 -6 -4 -7 8z"/>
<path fill="#6aff00" d="M616 984l7 -7 -6 -9 -8 9z"/>
<path fill="#00ff2b" d="M495 1039l8 -8 -6 -4 -8 8z"/>
<path fill="#40ff00" d="M247 992l9 5 -6 -11 -8 -6z"/>
<path fill="#0f0" d="M267 1018l8 3 -5 -10 -9 -4z"/>
<path fill="#00ff2b" d="M474 1050l8 -7 -6 -3 -8 7z"/>
<path fill="#00ff40" d="M453 1062l7 -8 -6 -3 -7 7z"/>
<path fill="#0f5" d="M396 1081l8 -5 -6 -5 -7 5z"/>
<path fill="#95ff00" d="M227 962l9 7 -5 -12 -9 -7z"/>
<path fill="#5f0" d="M595 992l7 -7 -6 -7 -8 8z"/>
<path fill="#00ff40" d="M431 1072l8 -7 -6 -4 -8 7z"/>
<path fill="#00ff2b" d="M287 1041l8 1 -6 -9 -8 -2z"/>
<path fill="#6aff00" d="M630 985l7 -7 -6 -10 -8 9z"/>
<path fill="#0f5" d="M347 1080l8 -3 -5 -6 -8 2z"/>
<path fill="#00ff40" d="M334 1075l8 -2 -6 -7 -8 2z"/>
<path fill="#2aff00" d="M573 1002l8 -8 -7 -6 -7 8z"/>
<path fill="#6aff00" d="M643 988l8 -7 -7 -11 -7 8z"/>
<path fill="#0f5" d="M361 1083l8 -3 -6 -6 -8 3zM410 1080l8 -6 -6 -4 -8 6z"/>
<path fill="#00ff40" d="M320 1068l8 0 -6 -8 -8 0z"/>
<path fill="#15ff00" d="M552 1012l7 -8 -6 -5 -7 8z"/>
<path fill="#0f0" d="M531 1023l7 -8 -6 -4 -8 8z"/>
<path fill="#5f0" d="M608 992l8 -8 -7 -7 -7 8z"/>
<path fill="#00ff15" d="M509 1034l8 -7 -6 -4 -8 8z"/>
<path fill="#00ff2b" d="M488 1046l7 -7 -6 -4 -7 8z"/>
<path fill="#0f5" d="M375 1085l8 -4 -6 -5 -8 4z"/>
<path fill="#00ff2b" d="M466 1058l8 -8 -6 -3 -8 7z"/>
<path fill="#15ff00" d="M253 1003l8 4 -5 -10 -9 -5z"/>
<path fill="#00ff40" d="M306 1060l8 0 -5 -8 -8 -1zM445 1068l8 -6 -6 -4 -8 7z"/>
<path fill="#00ff15" d="M273 1028l8 3 -6 -10 -8 -3z"/>
<path fill="#40ff00" d="M587 1000l8 -8 -7 -6 -7 8z"/>
<path fill="#80ff00" d="M233 974l9 6 -6 -11 -9 -7z"/>
<path fill="#5f0" d="M622 992l8 -7 -7 -8 -7 7z"/>
<path fill="#0f5" d="M388 1086l8 -5 -5 -5 -8 5z"/>
<path fill="#00ff40" d="M424 1078l7 -6 -6 -4 -7 6z"/>
<path fill="#15ff00" d="M566 1009l7 -7 -6 -6 -8 8z"/>
<path fill="#5f0" d="M636 994l7 -6 -6 -10 -7 7z"/>
<path fill="#00ff2b" d="M292 1050l9 1 -6 -9 -8 -1z"/>
<path fill="#0f0" d="M544 1019l8 -7 -6 -5 -8 8z"/>
<path fill="#40ff00" d="M650 998l7 -6 -6 -11 -8 7z"/>
<path fill="#00ff15" d="M523 1030l8 -7 -7 -4 -7 8z"/>
<path fill="#40ff00" d="M601 999l7 -7 -6 -7 -7 7z"/>
<path fill="#00ff2b" d="M502 1042l7 -8 -6 -3 -8 8zM480 1053l8 -7 -6 -3 -8 7z"/>
<path fill="#0f5" d="M402 1085l8 -5 -6 -4 -8 5z"/>
<path fill="#ff0" d="M213 941l9 9 -6 -13 -9 -9z"/>
<path fill="#00ff40" d="M459 1065l7 -7 -6 -4 -7 8z"/>
<path fill="#0f5" d="M339 1082l8 -2 -5 -7 -8 2zM353 1086l8 -3 -6 -6 -8 3z"/>
<path fill="#0f0" d="M258 1014l9 4 -6 -11 -8 -4z"/>
<path fill="#00ff40" d="M326 1076l8 -1 -6 -7 -8 0zM437 1075l8 -7 -6 -3 -8 7z"/>
<path fill="#2aff00" d="M580 1007l7 -7 -6 -6 -8 8z"/>
<path fill="#5f0" d="M239 986l8 6 -5 -12 -9 -6z"/>
<path fill="#0f5" d="M367 1089l8 -4 -6 -5 -8 3z"/>
<path fill="#40ff00" d="M615 999l7 -7 -6 -8 -8 8z"/>
<path fill="#00ff2b" d="M278 1038l9 3 -6 -10 -8 -3z"/>
<path fill="#00ff40" d="M312 1068l8 0 -6 -8 -8 0z"/>
<path fill="#0f0" d="M558 1016l8 -7 -7 -5 -7 8z"/>
<path fill="#0f5" d="M416 1084l8 -6 -6 -4 -8 6zM380 1090l8 -4 -5 -5 -8 4z"/>
<path fill="#40ff00" d="M629 1001l7 -7 -6 -9 -8 7z"/>
<path fill="#00ff15" d="M537 1026l7 -7 -6 -4 -7 8zM515 1037l8 -7 -6 -3 -8 7z"/>
<path fill="#d5ff00" d="M218 954l9 8 -5 -12 -9 -9z"/>
<path fill="#00ff2b" d="M494 1049l8 -7 -7 -3 -7 7z"/>
<path fill="#2aff00" d="M593 1006l8 -7 -6 -7 -8 8z"/>
<path fill="#40ff00" d="M642 1004l8 -6 -7 -10 -7 6z"/>
<path fill="#2aff00" d="M656 1008l7 -5 -6 -11 -7 6z"/>
<path fill="#00ff2b" d="M472 1060l8 -7 -6 -3 -8 8z"/>
<path fill="#00ff40" d="M298 1059l8 1 -5 -9 -9 -1zM451 1071l8 -6 -6 -3 -8 6z"/>
<path fill="#0f5" d="M394 1090l8 -5 -6 -4 -8 5z"/>
<path fill="#15ff00" d="M572 1014l8 -7 -7 -5 -7 7z"/>
<path fill="#00ff15" d="M264 1024l9 4 -6 -10 -9 -4z"/>
<path fill="#00ff40" d="M429 1081l8 -6 -6 -3 -7 6z"/>
<path fill="#40ff00" d="M244 997l9 6 -6 -11 -8 -6z"/>
<path fill="#2aff00" d="M607 1005l8 -6 -7 -7 -7 7z"/>
<path fill="#0f0" d="M551 1023l7 -7 -6 -4 -8 7z"/>
<path fill="#00ff2b" d="M284 1048l8 2 -5 -9 -9 -3z"/>
<path fill="#0f5" d="M345 1088l8 -2 -6 -6 -8 2z"/>
<path fill="#00ff15" d="M529 1033l8 -7 -6 -3 -8 7z"/>
<path fill="#0f5" d="M331 1083l8 -1 -5 -7 -8 1zM408 1089l8 -5 -6 -4 -8 5zM359 1092l8 -3 -6 -6 -8 3z"/>
<path fill="#2aff00" d="M621 1006l8 -5 -7 -9 -7 7z"/>
<path fill="#95ff00" d="M224 967l9 7 -6 -12 -9 -8z"/>
<path fill="#00ff2b" d="M508 1045l7 -8 -6 -3 -7 8zM486 1056l8 -7 -6 -3 -8 7z"/>
<path fill="#15ff00" d="M586 1012l7 -6 -6 -6 -7 7z"/>
<path fill="#00ff40" d="M317 1076l9 0 -6 -8 -8 0zM465 1067l7 -7 -6 -2 -7 7z"/>
<path fill="#15ff00" d="M663 1019l7 -4 -7 -12 -7 5z"/>
<path fill="#2aff00" d="M635 1009l7 -5 -6 -10 -7 7z"/>
<path fill="#0f5" d="M372 1094l8 -4 -5 -5 -8 4z"/>
<path fill="#15ff00" d="M649 1013l7 -5 -6 -10 -8 6z"/>
<path fill="#00ff40" d="M443 1078l8 -7 -6 -3 -8 7z"/>
<path fill="#0f0" d="M565 1020l7 -6 -6 -5 -8 7z"/>
<path fill="#00ff40" d="M303 1068l9 0 -6 -8 -8 -1z"/>
<path fill="#15ff00" d="M250 1009l8 5 -5 -11 -9 -6z"/>
<path fill="#0f5" d="M386 1095l8 -5 -6 -4 -8 4z"/>
<path fill="#2aff00" d="M600 1011l7 -6 -6 -6 -8 7z"/>
<path fill="#0f5" d="M422 1087l7 -6 -5 -3 -8 6z"/>
<path fill="#00ff15" d="M270 1035l8 3 -5 -10 -9 -4zM543 1030l8 -7 -7 -4 -7 7z"/>
<path fill="#ffd500" d="M204 933l9 8 -6 -13 -9 -9z"/>
<path fill="#00ff15" d="M521 1040l8 -7 -6 -3 -8 7z"/>
<path fill="#80ff00" d="M230 979l9 7 -6 -12 -9 -7z"/>
<path fill="#00ff2b" d="M500 1052l8 -7 -6 -3 -8 7z"/>
<path fill="#2aff00" d="M614 1012l7 -6 -6 -7 -8 6z"/>
<path fill="#00ff2b" d="M478 1063l8 -7 -6 -3 -8 7zM289 1057l9 2 -6 -9 -8 -2z"/>
<path fill="#0f0" d="M578 1018l8 -6 -6 -5 -8 7z"/>
<path fill="#0f5" d="M400 1094l8 -5 -6 -4 -8 5z"/>
<path fill="#00ff40" d="M457 1074l8 -7 -6 -2 -8 6z"/>
<path fill="#0f0" d="M669 1030l7 -3 -6 -12 -7 4z"/>
<path fill="#15ff00" d="M628 1014l7 -5 -6 -8 -8 5z"/>
<path fill="#0f5" d="M337 1090l8 -2 -6 -6 -8 1z"/>
<path fill="#00ff40" d="M435 1084l8 -6 -6 -3 -8 6z"/>
<path fill="#0f5" d="M351 1094l8 -2 -6 -6 -8 2z"/>
<path fill="#0f0" d="M655 1023l8 -4 -7 -11 -7 5z"/>
<path fill="#15ff00" d="M641 1018l8 -5 -7 -9 -7 5z"/>
<path fill="#0f0" d="M557 1027l8 -7 -7 -4 -7 7z"/>
<path fill="#0f5" d="M323 1084l8 -1 -5 -7 -9 0z"/>
<path fill="#ff0" d="M209 946l9 8 -5 -13 -9 -8z"/>
<path fill="#0f5" d="M364 1097l8 -3 -5 -5 -8 3z"/>
<path fill="#0f0" d="M255 1020l9 4 -6 -10 -8 -5z"/>
<path fill="#15ff00" d="M592 1017l8 -6 -7 -5 -7 6z"/>
<path fill="#00ff15" d="M535 1036l8 -6 -6 -4 -8 7z"/>
<path fill="#0f5" d="M414 1092l8 -5 -6 -3 -8 5z"/>
<path fill="#00ff2b" d="M275 1045l9 3 -6 -10 -8 -3z"/>
<path fill="#00ff40" d="M309 1076l8 0 -5 -8 -9 0z"/>
<path fill="#5f0" d="M235 992l9 5 -5 -11 -9 -7z"/>
<path fill="#00ff2b" d="M514 1047l7 -7 -6 -3 -7 8z"/>
<path fill="#0f5" d="M378 1099l8 -4 -6 -5 -8 4z"/>
<path fill="#00ff2b" d="M492 1058l8 -6 -6 -3 -8 7z"/>
<path fill="#00ff40" d="M471 1070l7 -7 -6 -3 -7 7z"/>
<path fill="#15ff00" d="M606 1017l8 -5 -7 -7 -7 6z"/>
<path fill="#0f0" d="M571 1024l7 -6 -6 -4 -7 6z"/>
<path fill="#00ff15" d="M675 1041l8 -2 -7 -12 -7 3z"/>
<path fill="#00ff40" d="M449 1080l8 -6 -6 -3 -8 7zM295 1067l8 1 -5 -9 -9 -2z"/>
<path fill="#d5ff00" d="M215 960l9 7 -6 -13 -9 -8z"/>
<path fill="#0f5" d="M392 1099l8 -5 -6 -4 -8 5z"/>
<path fill="#15ff00" d="M620 1019l8 -5 -7 -8 -7 6z"/>
<path fill="#0f5" d="M427 1090l8 -6 -6 -3 -7 6z"/>
<path fill="#00ff15" d="M549 1033l8 -6 -6 -4 -8 7zM662 1033l7 -3 -6 -11 -8 4z"/>
<path fill="#0f0" d="M634 1022l7 -4 -6 -9 -7 5zM648 1027l7 -4 -6 -10 -8 5z"/>
<path fill="#00ff15" d="M261 1031l9 4 -6 -11 -9 -4zM528 1043l7 -7 -6 -3 -8 7z"/>
<path fill="#0f0" d="M585 1023l7 -6 -6 -5 -8 6z"/>
<path fill="#2aff00" d="M241 1004l9 5 -6 -12 -9 -5z"/>
<path fill="#00ff2b" d="M506 1054l8 -7 -6 -2 -8 7z"/>
<path fill="#0f5" d="M343 1096l8 -2 -6 -6 -8 2zM406 1098l8 -6 -6 -3 -8 5z"/>
<path fill="#00ff2b" d="M281 1055l8 2 -5 -9 -9 -3z"/>
<path fill="#0f5" d="M329 1091l8 -1 -6 -7 -8 1z"/>
<path fill="#00ff2b" d="M484 1065l8 -7 -6 -2 -8 7z"/>
<path fill="#0f5" d="M356 1100l8 -3 -5 -5 -8 2z"/>
<path fill="#00ff40" d="M463 1076l8 -6 -6 -3 -8 7z"/>
<path fill="#00ff2b" d="M682 1053l7 -1 -6 -13 -8 2z"/>
<path fill="#00ff40" d="M315 1084l8 0 -6 -8 -8 0z"/>
<path fill="#0f0" d="M563 1030l8 -6 -6 -4 -8 7z"/>
<path fill="#95ff00" d="M221 973l9 6 -6 -12 -9 -7z"/>
<path fill="#ffbf00" d="M195 924l9 9 -6 -14 -9 -9z"/>
<path fill="#0f5" d="M370 1102l8 -3 -6 -5 -8 3z"/>
<path fill="#0f0" d="M599 1023l7 -6 -6 -6 -8 6z"/>
<path fill="#00ff40" d="M441 1086l8 -6 -6 -2 -8 6z"/>
<path fill="#00ff15" d="M542 1039l7 -6 -6 -3 -8 6z"/>
<path fill="#00ff40" d="M301 1075l8 1 -6 -8 -8 -1z"/>
<path fill="#00ff15" d="M668 1043l7 -2 -6 -11 -7 3z"/>
<path fill="#0f5" d="M420 1095l7 -5 -5 -3 -8 5z"/>
<path fill="#0f0" d="M613 1024l7 -5 -6 -7 -8 5z"/>
<path fill="#0f5" d="M384 1103l8 -4 -6 -4 -8 4z"/>
<path fill="#00ff2b" d="M520 1050l8 -7 -7 -3 -7 7z"/>
<path fill="#15ff00" d="M247 1016l8 4 -5 -11 -9 -5z"/>
<path fill="#00ff15" d="M267 1042l8 3 -5 -10 -9 -4z"/>
<path fill="#0f0" d="M577 1029l8 -6 -7 -5 -7 6z"/>
<path fill="#00ff2b" d="M498 1060l8 -6 -6 -2 -8 6z"/>
<path fill="#0f0" d="M627 1026l7 -4 -6 -8 -8 5z"/>
<path fill="#00ff15" d="M654 1036l8 -3 -7 -10 -7 4z"/>
<path fill="#0f0" d="M641 1030l7 -3 -7 -9 -7 4z"/>
<path fill="#00ff40" d="M477 1072l7 -7 -6 -2 -7 7z"/>
<path fill="#ffd500" d="M200 938l9 8 -5 -13 -9 -9z"/>
<path fill="#00ff2b" d="M688 1065l8 0 -7 -13 -7 1z"/>
<path fill="#6aff00" d="M227 986l8 6 -5 -13 -9 -6z"/>
<path fill="#00ff40" d="M455 1082l8 -6 -6 -2 -8 6z"/>
<path fill="#00ff2b" d="M287 1065l8 2 -6 -10 -8 -2z"/>
<path fill="#0f5" d="M398 1102l8 -4 -6 -4 -8 5z"/>
<path fill="#00ff15" d="M556 1036l7 -6 -6 -3 -8 6z"/>
<path fill="#0f5" d="M433 1092l8 -6 -6 -2 -8 6z"/>
<path fill="#0f0" d="M591 1028l8 -5 -7 -6 -7 6z"/>
<path fill="#0f5" d="M334 1098l9 -2 -6 -6 -8 1zM348 1102l8 -2 -5 -6 -8 2z"/>
<path fill="#00ff15" d="M534 1046l8 -7 -7 -3 -7 7z"/>
<path fill="#0f5" d="M320 1092l9 -1 -6 -7 -8 0zM362 1105l8 -3 -6 -5 -8 3z"/>
<path fill="#00ff2b" d="M675 1054l7 -1 -7 -12 -7 2zM512 1056l8 -6 -6 -3 -8 7z"/>
<path fill="#ff0" d="M206 952l9 8 -6 -14 -9 -8z"/>
<path fill="#0f0" d="M252 1027l9 4 -6 -11 -8 -4z"/>
<path fill="#0f5" d="M412 1100l8 -5 -6 -3 -8 6z"/>
<path fill="#0f0" d="M605 1028l8 -4 -7 -7 -7 6z"/>
<path fill="#00ff2b" d="M272 1053l9 2 -6 -10 -8 -3zM491 1067l7 -7 -6 -2 -8 7z"/>
<path fill="#00ff40" d="M306 1084l9 0 -6 -8 -8 -1z"/>
<path fill="#0f5" d="M376 1106l8 -3 -6 -4 -8 3z"/>
<path fill="#00ff15" d="M570 1034l7 -5 -6 -5 -8 6z"/>
<path fill="#00ff40" d="M695 1077l7 1 -6 -13 -8 0z"/>
<path fill="#5f0" d="M232 998l9 6 -6 -12 -8 -6z"/>
<path fill="#00ff40" d="M469 1078l8 -6 -6 -2 -8 6z"/>
<path fill="#00ff15" d="M661 1045l7 -2 -6 -10 -8 3z"/>
<path fill="#0f0" d="M619 1030l8 -4 -7 -7 -7 5z"/>
<path fill="#00ff40" d="M447 1088l8 -6 -6 -2 -8 6z"/>
<path fill="#00ff15" d="M647 1038l7 -2 -6 -9 -7 3z"/>
<path fill="#0f0" d="M633 1033l8 -3 -7 -8 -7 4z"/>
<path fill="#00ff15" d="M548 1042l8 -6 -7 -3 -7 6z"/>
<path fill="#00ff40" d="M292 1074l9 1 -6 -8 -8 -2z"/>
<path fill="#0f5" d="M390 1106l8 -4 -6 -3 -8 4zM425 1098l8 -6 -6 -2 -7 5z"/>
<path fill="#0f0" d="M584 1033l7 -5 -6 -5 -8 6z"/>
<path fill="#bfff00" d="M212 966l9 7 -6 -13 -9 -8z"/>
<path fill="#00ff2b" d="M526 1052l8 -6 -6 -3 -8 7zM681 1065l7 0 -6 -12 -7 1z"/>
<path fill="#ff9500" d="M186 915l9 9 -6 -14 -9 -10z"/>
<path fill="#00ff2b" d="M505 1062l7 -6 -6 -2 -8 6z"/>
<path fill="#00ff15" d="M258 1038l9 4 -6 -11 -9 -4z"/>
<path fill="#00ff40" d="M701 1089l7 2 -6 -13 -7 -1z"/>
<path fill="#2aff00" d="M238 1011l9 5 -6 -12 -9 -6z"/>
<path fill="#00ff40" d="M483 1073l8 -6 -7 -2 -7 7z"/>
<path fill="#0f5" d="M340 1104l8 -2 -5 -6 -9 2zM404 1105l8 -5 -6 -2 -8 4z"/>
<path fill="#0f0" d="M598 1033l7 -5 -6 -5 -8 5z"/>
<path fill="#0f5" d="M326 1099l8 -1 -5 -7 -9 1z"/>
<path fill="#00ff2b" d="M278 1063l9 2 -6 -10 -9 -2z"/>
<path fill="#0f5" d="M354 1108l8 -3 -6 -5 -8 2z"/>
<path fill="#00ff15" d="M562 1039l8 -5 -7 -4 -7 6z"/>
<path fill="#00ff40" d="M461 1084l8 -6 -6 -2 -8 6z"/>
<path fill="#00ff2b" d="M668 1055l7 -1 -7 -11 -7 2z"/>
<path fill="#0f5" d="M312 1092l8 0 -5 -8 -9 0zM439 1094l8 -6 -6 -2 -8 6zM368 1110l8 -4 -6 -4 -8 3z"/>
<path fill="#0f0" d="M612 1034l7 -4 -6 -6 -8 4z"/>
<path fill="#95ff00" d="M218 979l9 7 -6 -13 -9 -7z"/>
<path fill="#ffbf00" d="M191 930l9 8 -5 -14 -9 -9z"/>
<path fill="#00ff15" d="M540 1048l8 -6 -6 -3 -8 7zM654 1047l7 -2 -7 -9 -7 2zM626 1036l7 -3 -6 -7 -8 4zM640 1041l7 -3 -6 -8 -8 3z"/>
<path fill="#00ff40" d="M298 1083l8 1 -5 -9 -9 -1z"/>
<path fill="#0f5" d="M417 1103l8 -5 -5 -3 -8 5z"/>
<path fill="#00ff2b" d="M519 1058l7 -6 -6 -2 -8 6z"/>
<path fill="#00ff15" d="M576 1038l8 -5 -7 -4 -7 5z"/>
<path fill="#0f5" d="M382 1110l8 -4 -6 -3 -8 3z"/>
<path fill="#00ff40" d="M688 1075l7 2 -7 -12 -7 0z"/>
<path fill="#0f5" d="M708 1101l7 4 -7 -14 -7 -2z"/>
<path fill="#00ff2b" d="M497 1068l8 -6 -7 -2 -7 7zM264 1049l8 4 -5 -11 -9 -4z"/>
<path fill="#0f0" d="M244 1023l8 4 -5 -11 -9 -5z"/>
<path fill="#00ff40" d="M475 1079l8 -6 -6 -1 -8 6z"/>
<path fill="#ffea00" d="M197 945l9 7 -6 -14 -9 -8z"/>
<path fill="#00ff40" d="M453 1090l8 -6 -6 -2 -8 6z"/>
<path fill="#00ff15" d="M554 1045l8 -6 -6 -3 -8 6z"/>
<path fill="#6aff00" d="M223 992l9 6 -5 -12 -9 -7z"/>
<path fill="#00ff15" d="M590 1037l8 -4 -7 -5 -7 5z"/>
<path fill="#00ff40" d="M284 1072l8 2 -5 -9 -9 -2z"/>
<path fill="#0f5" d="M396 1109l8 -4 -6 -3 -8 4z"/>
<path fill="#00ff2b" d="M674 1064l7 1 -6 -11 -7 1z"/>
<path fill="#0f5" d="M431 1099l8 -5 -6 -2 -8 6zM332 1105l8 -1 -6 -6 -8 1z"/>
<path fill="#00ff2b" d="M533 1054l7 -6 -6 -2 -8 6z"/>
<path fill="#0f5" d="M346 1109l8 -1 -6 -6 -8 2z"/>
<path fill="#00ff15" d="M604 1037l8 -3 -7 -6 -7 5z"/>
<path fill="#0f5" d="M715 1114l6 4 -6 -13 -7 -4zM318 1099l8 0 -6 -7 -8 0zM360 1112l8 -2 -6 -5 -8 3z"/>
<path fill="#00ff40" d="M694 1087l7 2 -6 -12 -7 -2z"/>
<path fill="#00ff2b" d="M511 1064l8 -6 -7 -2 -7 6zM660 1055l8 0 -7 -10 -7 2z"/>
<path fill="#0f0" d="M249 1035l9 3 -6 -11 -8 -4z"/>
<path fill="#00ff15" d="M569 1043l7 -5 -6 -4 -8 5z"/>
<path fill="#0f5" d="M409 1107l8 -4 -5 -3 -8 5z"/>
<path fill="#ff0" d="M203 959l9 7 -6 -14 -9 -7z"/>
<path fill="#00ff15" d="M618 1039l8 -3 -7 -6 -7 4z"/>
<path fill="#00ff40" d="M489 1074l8 -6 -6 -1 -8 6z"/>
<path fill="#00ff2b" d="M269 1060l9 3 -6 -10 -8 -4z"/>
<path fill="#00ff40" d="M304 1091l8 1 -6 -8 -8 -1z"/>
<path fill="#00ff15" d="M646 1048l8 -1 -7 -9 -7 3zM632 1043l8 -2 -7 -8 -7 3z"/>
<path fill="#0f5" d="M374 1113l8 -3 -6 -4 -8 4z"/>
<path fill="#00ff40" d="M467 1085l8 -6 -6 -1 -8 6z"/>
<path fill="#40ff00" d="M229 1005l9 6 -6 -13 -9 -6z"/>
<path fill="#ff6a00" d="M176 907l10 8 -6 -15 -10 -9z"/>
<path fill="#0f5" d="M445 1095l8 -5 -6 -2 -8 6z"/>
<path fill="#00ff15" d="M547 1050l7 -5 -6 -3 -8 6zM583 1041l7 -4 -6 -4 -8 5z"/>
<path fill="#00ff40" d="M289 1081l9 2 -6 -9 -8 -2z"/>
<path fill="#00ff2b" d="M681 1074l7 1 -7 -10 -7 -1z"/>
<path fill="#0f5" d="M387 1113l9 -4 -6 -3 -8 4zM423 1105l8 -6 -6 -1 -8 5z"/>
<path fill="#00ff2b" d="M525 1059l8 -5 -7 -2 -7 6z"/>
<path fill="#bfff00" d="M209 973l9 6 -6 -13 -9 -7z"/>
<path fill="#0f5" d="M701 1098l7 3 -7 -12 -7 -2z"/>
<path fill="#00ff2b" d="M503 1069l8 -5 -6 -2 -8 6z"/>
<path fill="#ff9500" d="M182 922l9 8 -5 -15 -10 -8z"/>
<path fill="#00ff15" d="M255 1046l9 3 -6 -11 -9 -3zM597 1041l7 -4 -6 -4 -8 4z"/>
<path fill="#2aff00" d="M235 1018l9 5 -6 -12 -9 -6z"/>
<path fill="#00ff40" d="M481 1080l8 -6 -6 -1 -8 6z"/>
<path fill="#00ff2b" d="M667 1064l7 0 -6 -9 -8 0z"/>
<path fill="#00ff15" d="M561 1047l8 -4 -7 -4 -8 6z"/>
<path fill="#0f5" d="M337 1111l9 -2 -6 -5 -8 1z"/>
<path fill="#00ff2b" d="M275 1070l9 2 -6 -9 -9 -3z"/>
<path fill="#0f5" d="M401 1112l8 -5 -5 -2 -8 4zM323 1106l9 -1 -6 -6 -8 0z"/>
<path fill="#00ff40" d="M459 1091l8 -6 -6 -1 -8 6z"/>
<path fill="#0f5" d="M351 1114l9 -2 -6 -4 -8 1z"/>
<path fill="#00ff15" d="M611 1042l7 -3 -6 -5 -8 3z"/>
<path fill="#00ff2b" d="M653 1056l7 -1 -6 -8 -8 1z"/>
<path fill="#0f5" d="M309 1099l9 0 -6 -7 -8 -1zM437 1101l8 -6 -6 -1 -8 5z"/>
<path fill="#00ff15" d="M625 1045l7 -2 -6 -7 -8 3z"/>
<path fill="#80ff00" d="M214 987l9 5 -5 -13 -9 -6z"/>
<path fill="#00ff2b" d="M539 1055l8 -5 -7 -2 -7 6z"/>
<path fill="#0f5" d="M365 1116l9 -3 -6 -3 -8 2z"/>
<path fill="#00ff15" d="M639 1050l7 -2 -6 -7 -8 2z"/>
<path fill="#ffbf00" d="M188 937l9 8 -6 -15 -9 -8z"/>
<path fill="#00ff40" d="M687 1084l7 3 -6 -12 -7 -1z"/>
<path fill="#00ff15" d="M575 1045l8 -4 -7 -3 -7 5z"/>
<path fill="#0f5" d="M708 1109l7 5 -7 -13 -7 -3z"/>
<path fill="#00ff2b" d="M517 1065l8 -6 -6 -1 -8 6z"/>
<path fill="#00ff40" d="M295 1090l9 1 -6 -8 -9 -2z"/>
<path fill="#0f5" d="M415 1109l8 -4 -6 -2 -8 4zM379 1117l8 -4 -5 -3 -8 3z"/>
<path fill="#0f0" d="M240 1030l9 5 -5 -12 -9 -5z"/>
<path fill="#00ff2b" d="M261 1057l8 3 -5 -11 -9 -3z"/>
<path fill="#00ff40" d="M495 1075l8 -6 -6 -1 -8 6zM473 1086l8 -6 -6 -1 -8 6z"/>
<path fill="#00ff15" d="M589 1045l8 -4 -7 -4 -7 4z"/>
<path fill="#ffea00" d="M194 952l9 7 -6 -14 -9 -8z"/>
<path fill="#00ff15" d="M553 1052l8 -5 -7 -2 -7 5z"/>
<path fill="#00ff2b" d="M674 1073l7 1 -7 -10 -7 0z"/>
<path fill="#6aff00" d="M220 1000l9 5 -6 -13 -9 -5z"/>
<path fill="#00ff40" d="M281 1080l8 1 -5 -9 -9 -2zM451 1096l8 -5 -6 -1 -8 5z"/>
<path fill="#0f5" d="M393 1116l8 -4 -5 -3 -9 4z"/>
<path fill="#00ff15" d="M603 1045l8 -3 -7 -5 -7 4z"/>
<path fill="#00ff2b" d="M531 1060l8 -5 -6 -1 -8 5z"/>
<path fill="#0f5" d="M429 1106l8 -5 -6 -2 -8 6z"/>
<path fill="#f50" d="M167 899l9 8 -6 -16 -9 -9z"/>
<path fill="#00ff2b" d="M660 1064l7 0 -7 -9 -7 1z"/>
<path fill="#0f5" d="M329 1112l8 -1 -5 -6 -9 1z"/>
<path fill="#00ff40" d="M694 1095l7 3 -7 -11 -7 -3z"/>
<path fill="#0f5" d="M343 1116l8 -2 -5 -5 -9 2zM315 1106l8 0 -5 -7 -9 0z"/>
<path fill="#00ff15" d="M618 1047l7 -2 -7 -6 -7 3z"/>
<path fill="#00ff2b" d="M509 1070l8 -5 -6 -1 -8 5z"/>
<path fill="#00ff15" d="M246 1042l9 4 -6 -11 -9 -5zM567 1050l8 -5 -6 -2 -8 4z"/>
<path fill="#00ff2b" d="M646 1056l7 0 -7 -8 -7 2z"/>
<path fill="#eaff00" d="M199 967l10 6 -6 -14 -9 -7z"/>
<path fill="#0f5" d="M357 1119l8 -3 -5 -4 -9 2z"/>
<path fill="#00ff15" d="M632 1051l7 -1 -7 -7 -7 2z"/>
<path fill="#00ff2b" d="M266 1068l9 2 -6 -10 -8 -3z"/>
<path fill="#00ff40" d="M487 1081l8 -6 -6 -1 -8 6z"/>
<path fill="#0f5" d="M407 1113l8 -4 -6 -2 -8 5zM301 1098l8 1 -5 -8 -9 -1z"/>
<path fill="#40ff00" d="M226 1014l9 4 -6 -13 -9 -5z"/>
<path fill="#ff8000" d="M173 915l9 7 -6 -15 -9 -8z"/>
<path fill="#00ff40" d="M465 1091l8 -5 -6 -1 -8 6z"/>
<path fill="#00ff6a" d="M371 1120l8 -3 -5 -4 -9 3z"/>
<path fill="#00ff2b" d="M545 1057l8 -5 -6 -2 -8 5z"/>
<path fill="#00ff40" d="M680 1082l7 2 -6 -10 -7 -1z"/>
<path fill="#00ff15" d="M582 1048l7 -3 -6 -4 -8 4z"/>
<path fill="#0f5" d="M443 1101l8 -5 -6 -1 -8 6z"/>
<path fill="#00ff40" d="M286 1089l9 1 -6 -9 -8 -1z"/>
<path fill="#af0" d="M205 981l9 6 -5 -14 -10 -6z"/>
<path fill="#0f5" d="M385 1119l8 -3 -6 -3 -8 4z"/>
<path fill="#00ff2b" d="M523 1066l8 -6 -6 -1 -8 6z"/>
<path fill="#0f5" d="M701 1105l7 4 -7 -11 -7 -3z"/>
<path fill="#fa0" d="M179 930l9 7 -6 -15 -9 -7z"/>
<path fill="#0f5" d="M421 1110l8 -4 -6 -1 -8 4z"/>
<path fill="#00ff15" d="M252 1054l9 3 -6 -11 -9 -4zM596 1048l7 -3 -6 -4 -8 4z"/>
<path fill="#00ff2b" d="M666 1072l8 1 -7 -9 -7 0z"/>
<path fill="#15ff00" d="M232 1026l8 4 -5 -12 -9 -4z"/>
<path fill="#00ff2b" d="M501 1075l8 -5 -6 -1 -8 6z"/>
<path fill="#00ff15" d="M560 1054l7 -4 -6 -3 -8 5z"/>
<path fill="#00ff2b" d="M272 1078l9 2 -6 -10 -9 -2z"/>
<path fill="#00ff40" d="M479 1086l8 -5 -6 -1 -8 6z"/>
<path fill="#00ff15" d="M610 1050l8 -3 -7 -5 -8 3z"/>
<path fill="#0f5" d="M335 1117l8 -1 -6 -5 -8 1zM321 1112l8 0 -6 -6 -8 0z"/>
<path fill="#00ff2b" d="M652 1063l8 1 -7 -8 -7 0z"/>
<path fill="#0f5" d="M399 1117l8 -4 -6 -1 -8 4zM349 1120l8 -1 -6 -5 -8 2z"/>
<path fill="#00ff40" d="M457 1096l8 -5 -6 0 -8 5z"/>
<path fill="#80ff00" d="M211 995l9 5 -6 -13 -9 -6z"/>
<path fill="#00ff15" d="M624 1052l8 -1 -7 -6 -7 2z"/>
<path fill="#ffd500" d="M184 946l10 6 -6 -15 -9 -7z"/>
<path fill="#00ff15" d="M638 1057l8 -1 -7 -6 -7 1z"/>
<path fill="#0f5" d="M306 1106l9 0 -6 -7 -8 -1z"/>
<path fill="#00ff2b" d="M538 1061l7 -4 -6 -2 -8 5z"/>
<path fill="#00ff40" d="M687 1091l7 4 -7 -11 -7 -2z"/>
<path fill="#0f5" d="M435 1106l8 -5 -6 0 -8 5z"/>
<path fill="#00ff6a" d="M363 1122l8 -2 -6 -4 -8 3z"/>
<path fill="#00ff15" d="M574 1052l8 -4 -7 -3 -8 5z"/>
<path fill="#00ff40" d="M292 1097l9 1 -6 -8 -9 -1z"/>
<path fill="#0f0" d="M237 1039l9 3 -6 -12 -8 -4z"/>
<path fill="#00ff2b" d="M516 1070l7 -4 -6 -1 -8 5zM258 1065l8 3 -5 -11 -9 -3z"/>
<path fill="#0f5" d="M413 1115l8 -5 -6 -1 -8 4z"/>
<path fill="#ff0" d="M190 961l9 6 -5 -15 -10 -6z"/>
<path fill="#00ff6a" d="M377 1122l8 -3 -6 -2 -8 3z"/>
<path fill="#00ff40" d="M494 1081l7 -6 -6 0 -8 6z"/>
<path fill="#5f0" d="M217 1009l9 5 -6 -14 -9 -5z"/>
<path fill="#00ff2b" d="M673 1080l7 2 -6 -9 -8 -1z"/>
<path fill="#00ff15" d="M588 1051l8 -3 -7 -3 -7 3z"/>
<path fill="#00ff40" d="M472 1091l7 -5 -6 0 -8 5z"/>
<path fill="#00ff15" d="M552 1058l8 -4 -7 -2 -8 5z"/>
<path fill="#00ff40" d="M278 1087l8 2 -5 -9 -9 -2z"/>
<path fill="#0f5" d="M449 1101l8 -5 -6 0 -8 5z"/>
<path fill="#00ff15" d="M602 1052l8 -2 -7 -5 -7 3z"/>
<path fill="#0f5" d="M391 1121l8 -4 -6 -1 -8 3z"/>
<path fill="#00ff2b" d="M659 1071l7 1 -6 -8 -8 -1zM530 1066l8 -5 -7 -1 -8 6z"/>
<path fill="#d5ff00" d="M196 976l9 5 -6 -14 -9 -6z"/>
<path fill="#00ff40" d="M694 1101l7 4 -7 -10 -7 -4z"/>
<path fill="#0f5" d="M326 1118l9 -1 -6 -5 -8 0z"/>
<path fill="#00ff15" d="M243 1051l9 3 -6 -12 -9 -3z"/>
<path fill="#0f5" d="M427 1111l8 -5 -6 0 -8 4z"/>
<path fill="#00ff15" d="M617 1054l7 -2 -6 -5 -8 3z"/>
<path fill="#0f5" d="M341 1122l8 -2 -6 -4 -8 1zM312 1112l9 0 -6 -6 -9 0z"/>
<path fill="#00ff2b" d="M645 1063l7 0 -6 -7 -8 1z"/>
<path fill="#00ff15" d="M631 1058l7 -1 -6 -6 -8 1z"/>
<path fill="#2aff00" d="M223 1023l9 3 -6 -12 -9 -5z"/>
<path fill="#00ff15" d="M566 1056l8 -4 -7 -2 -7 4z"/>
<path fill="#00ff2b" d="M263 1076l9 2 -6 -10 -8 -3zM508 1075l8 -5 -7 0 -8 5z"/>
<path fill="#00ff6a" d="M355 1124l8 -2 -6 -3 -8 1z"/>
<path fill="#0f5" d="M298 1105l8 1 -5 -8 -9 -1z"/>
<path fill="#00ff40" d="M486 1086l8 -5 -7 0 -8 5z"/>
<path fill="#0f5" d="M405 1118l8 -3 -6 -2 -8 4z"/>
<path fill="#95ff00" d="M202 991l9 4 -6 -14 -9 -5z"/>
<path fill="#00ff40" d="M464 1096l8 -5 -7 0 -8 5z"/>
<path fill="#00ff6a" d="M369 1125l8 -3 -6 -2 -8 2z"/>
<path fill="#00ff40" d="M680 1088l7 3 -7 -9 -7 -2z"/>
<path fill="#00ff2b" d="M544 1062l8 -4 -7 -1 -7 4z"/>
<path fill="#00ff15" d="M581 1054l7 -3 -6 -3 -8 4z"/>
<path fill="#00ff40" d="M284 1096l8 1 -6 -8 -8 -2z"/>
<path fill="#0f5" d="M441 1106l8 -5 -6 0 -8 5z"/>
<path fill="#00ff2b" d="M249 1063l9 2 -6 -11 -9 -3z"/>
<path fill="#0f0" d="M228 1036l9 3 -5 -13 -9 -3z"/>
<path fill="#00ff2b" d="M522 1071l8 -5 -7 0 -7 4z"/>
<path fill="#0f5" d="M383 1124l8 -3 -6 -2 -8 3z"/>
<path fill="#00ff15" d="M595 1054l7 -2 -6 -4 -8 3z"/>
<path fill="#00ff2b" d="M666 1078l7 2 -7 -8 -7 -1z"/>
<path fill="#0f5" d="M419 1115l8 -4 -6 -1 -8 5z"/>
<path fill="#00ff40" d="M269 1086l9 1 -6 -9 -9 -2z"/>
<path fill="#6aff00" d="M208 1005l9 4 -6 -14 -9 -4z"/>
<path fill="#00ff2b" d="M500 1080l8 -5 -7 0 -7 6z"/>
<path fill="#00ff15" d="M558 1059l8 -3 -6 -2 -8 4zM609 1055l8 -1 -7 -4 -8 2z"/>
<path fill="#00ff2b" d="M652 1069l7 2 -7 -8 -7 0z"/>
<path fill="#0f5" d="M318 1118l8 0 -5 -6 -9 0z"/>
<path fill="#00ff40" d="M478 1090l8 -4 -7 0 -7 5z"/>
<path fill="#0f5" d="M332 1123l9 -1 -6 -5 -9 1z"/>
<path fill="#00ff15" d="M623 1058l8 0 -7 -6 -7 2z"/>
<path fill="#00ff2b" d="M638 1063l7 0 -7 -6 -7 1z"/>
<path fill="#0f5" d="M304 1112l8 0 -6 -6 -8 -1zM346 1126l9 -2 -6 -4 -8 2zM397 1122l8 -4 -6 -1 -8 4z"/>
<path fill="#00ff40" d="M456 1101l8 -5 -7 0 -8 5z"/>
<path fill="#00ff15" d="M234 1048l9 3 -6 -12 -9 -3z"/>
<path fill="#00ff40" d="M687 1097l7 4 -7 -10 -7 -3z"/>
<path fill="#00ff2b" d="M536 1066l8 -4 -6 -1 -8 5zM255 1074l8 2 -5 -11 -9 -2z"/>
<path fill="#00ff15" d="M573 1057l8 -3 -7 -2 -8 4z"/>
<path fill="#00ff40" d="M289 1104l9 1 -6 -8 -8 -1z"/>
<path fill="#00ff6a" d="M360 1127l9 -2 -6 -3 -8 2z"/>
<path fill="#0f5" d="M433 1110l8 -4 -6 0 -8 5z"/>
<path fill="#40ff00" d="M214 1019l9 4 -6 -14 -9 -4z"/>
<path fill="#00ff2b" d="M514 1075l8 -4 -6 -1 -8 5z"/>
<path fill="#0f5" d="M411 1119l8 -4 -6 0 -8 3z"/>
<path fill="#00ff40" d="M275 1095l9 1 -6 -9 -9 -1z"/>
<path fill="#0f5" d="M375 1127l8 -3 -6 -2 -8 3z"/>
<path fill="#00ff40" d="M673 1085l7 3 -7 -8 -7 -2zM492 1085l8 -5 -6 1 -8 5z"/>
<path fill="#00ff15" d="M587 1056l8 -2 -7 -3 -7 3zM551 1063l7 -4 -6 -1 -8 4z"/>
<path fill="#00ff40" d="M470 1095l8 -5 -6 1 -8 5z"/>
<path fill="#00ff15" d="M240 1060l9 3 -6 -12 -9 -3z"/>
<path fill="#15ff00" d="M219 1033l9 3 -5 -13 -9 -4z"/>
<path fill="#00ff15" d="M602 1057l7 -2 -7 -3 -7 2z"/>
<path fill="#00ff2b" d="M659 1076l7 2 -7 -7 -7 -2z"/>
<path fill="#00ff40" d="M447 1105l9 -4 -7 0 -8 5z"/>
<path fill="#0f5" d="M389 1125l8 -3 -6 -1 -8 3z"/>
<path fill="#00ff2b" d="M260 1084l9 2 -6 -10 -8 -2zM529 1070l7 -4 -6 0 -8 5z"/>
<path fill="#0f5" d="M324 1124l8 -1 -6 -5 -8 0z"/>
<path fill="#00ff15" d="M616 1059l7 -1 -6 -4 -8 1z"/>
<path fill="#0f5" d="M309 1119l9 -1 -6 -6 -8 0z"/>
<path fill="#00ff2b" d="M644 1068l8 1 -7 -6 -7 0z"/>
<path fill="#0f5" d="M338 1127l8 -1 -5 -4 -9 1z"/>
<path fill="#00ff15" d="M630 1063l8 0 -7 -5 -8 0z"/>
<path fill="#0f5" d="M425 1114l8 -4 -6 1 -8 4z"/>
<path fill="#00ff15" d="M565 1060l8 -3 -7 -1 -8 3z"/>
<path fill="#0f5" d="M295 1112l9 0 -6 -7 -9 -1z"/>
<path fill="#00ff2b" d="M506 1079l8 -4 -6 0 -8 5z"/>
<path fill="#0f5" d="M352 1129l8 -2 -5 -3 -9 2z"/>
<path fill="#00ff40" d="M484 1089l8 -4 -6 1 -8 4zM281 1104l8 0 -5 -8 -9 -1z"/>
<path fill="#0f0" d="M225 1046l9 2 -6 -12 -9 -3z"/>
<path fill="#0f5" d="M403 1122l8 -3 -6 -1 -8 4z"/>
<path fill="#00ff2b" d="M246 1072l9 2 -6 -11 -9 -3z"/>
<path fill="#00ff40" d="M679 1093l8 4 -7 -9 -7 -3z"/>
<path fill="#0f5" d="M366 1129l9 -2 -6 -2 -9 2z"/>
<path fill="#00ff15" d="M579 1059l8 -3 -6 -2 -8 3z"/>
<path fill="#00ff40" d="M462 1100l8 -5 -6 1 -8 5z"/>
<path fill="#00ff2b" d="M543 1066l8 -3 -7 -1 -8 4z"/>
<path fill="#0f5" d="M439 1109l8 -4 -6 1 -8 4z"/>
<path fill="#00ff40" d="M266 1094l9 1 -6 -9 -9 -2z"/>
<path fill="#00ff2b" d="M521 1074l8 -4 -7 1 -8 4z"/>
<path fill="#00ff15" d="M594 1058l8 -1 -7 -3 -8 2z"/>
<path fill="#00ff2b" d="M665 1082l8 3 -7 -7 -7 -2z"/>
<path fill="#0f5" d="M380 1128l9 -3 -6 -1 -8 3zM417 1118l8 -4 -6 1 -8 4z"/>
<path fill="#00ff15" d="M557 1063l8 -3 -7 -1 -7 4z"/>
<path fill="#00ff2b" d="M498 1084l8 -5 -6 1 -8 5z"/>
<path fill="#00ff15" d="M231 1058l9 2 -6 -12 -9 -2zM608 1060l8 -1 -7 -4 -7 2z"/>
<path fill="#00ff2b" d="M651 1074l8 2 -7 -7 -8 -1z"/>
<path fill="#0f5" d="M315 1124l9 0 -6 -6 -9 1zM329 1128l9 -1 -6 -4 -8 1zM301 1118l8 1 -5 -7 -9 0z"/>
<path fill="#00ff15" d="M623 1063l7 0 -7 -5 -7 1z"/>
<path fill="#00ff2b" d="M637 1067l7 1 -6 -5 -8 0zM252 1083l8 1 -5 -10 -9 -2z"/>
<path fill="#00ff40" d="M476 1094l8 -5 -6 1 -8 5z"/>
<path fill="#0f5" d="M344 1130l8 -1 -6 -3 -8 1zM286 1111l9 1 -6 -8 -8 0zM395 1125l8 -3 -6 0 -8 3z"/>
<path fill="#00ff40" d="M454 1104l8 -4 -6 1 -9 4z"/>
<path fill="#00ff2b" d="M535 1070l8 -4 -7 0 -7 4z"/>
<path fill="#00ff15" d="M572 1061l7 -2 -6 -2 -8 3z"/>
<path fill="#0f5" d="M358 1131l8 -2 -6 -2 -8 2zM431 1113l8 -4 -6 1 -8 4z"/>
<path fill="#00ff40" d="M272 1103l9 1 -6 -9 -9 -1z"/>
<path fill="#00ff2b" d="M513 1078l8 -4 -7 1 -8 4zM237 1070l9 2 -6 -12 -9 -2zM672 1089l7 4 -6 -8 -8 -3z"/>
<path fill="#00ff15" d="M586 1060l8 -2 -7 -2 -8 3z"/>
<path fill="#0f5" d="M372 1130l8 -2 -5 -1 -9 2zM409 1121l8 -3 -6 1 -8 3z"/>
<path fill="#00ff2b" d="M490 1088l8 -4 -6 1 -8 4z"/>
<path fill="#00ff15" d="M549 1066l8 -3 -6 0 -8 3z"/>
<path fill="#00ff40" d="M257 1093l9 1 -6 -10 -8 -1zM468 1098l8 -4 -6 1 -8 5z"/>
<path fill="#00ff15" d="M601 1061l7 -1 -6 -3 -8 1z"/>
<path fill="#00ff2b" d="M658 1080l7 2 -6 -6 -8 -2z"/>
<path fill="#0f5" d="M306 1124l9 0 -6 -5 -8 -1zM321 1129l8 -1 -5 -4 -9 0z"/>
<path fill="#00ff40" d="M445 1108l9 -4 -7 1 -8 4z"/>
<path fill="#00ff15" d="M615 1063l8 0 -7 -4 -8 1z"/>
<path fill="#00ff2b" d="M644 1072l7 2 -7 -6 -7 -1z"/>
<path fill="#0f5" d="M386 1128l9 -3 -6 0 -9 3z"/>
<path fill="#00ff2b" d="M527 1073l8 -3 -6 0 -8 4z"/>
<path fill="#0f5" d="M292 1118l9 0 -6 -6 -9 -1zM335 1131l9 -1 -6 -3 -9 1z"/>
<path fill="#00ff15" d="M629 1066l8 1 -7 -4 -7 0z"/>
<path fill="#00ff2b" d="M243 1081l9 2 -6 -11 -9 -2z"/>
<path fill="#00ff15" d="M564 1063l8 -2 -7 -1 -8 3z"/>
<path fill="#0f5" d="M423 1117l8 -4 -6 1 -8 4z"/>
<path fill="#00ff40" d="M278 1111l8 0 -5 -7 -9 -1z"/>
<path fill="#0f5" d="M349 1132l9 -1 -6 -2 -8 1z"/>
<path fill="#00ff2b" d="M505 1082l8 -4 -7 1 -8 5z"/>
<path fill="#00ff40" d="M482 1092l8 -4 -6 1 -8 5zM263 1102l9 1 -6 -9 -9 -1z"/>
<path fill="#0f5" d="M401 1125l8 -4 -6 1 -8 3z"/>
<path fill="#00ff15" d="M578 1062l8 -2 -7 -1 -7 2z"/>
<path fill="#0f5" d="M364 1132l8 -2 -6 -1 -8 2z"/>
<path fill="#00ff15" d="M542 1069l7 -3 -6 0 -8 4z"/>
<path fill="#00ff40" d="M460 1102l8 -4 -6 2 -8 4zM437 1111l8 -3 -6 1 -8 4z"/>
<path fill="#00ff15" d="M593 1061l8 0 -7 -3 -8 2z"/>
<path fill="#00ff2b" d="M665 1086l7 3 -7 -7 -7 -2zM248 1092l9 1 -5 -10 -9 -2zM519 1076l8 -3 -6 1 -8 4z"/>
<path fill="#0f5" d="M378 1130l8 -2 -6 0 -8 2zM312 1129l9 0 -6 -5 -9 0zM298 1124l8 0 -5 -6 -9 0z"/>
<path fill="#00ff15" d="M607 1063l8 0 -7 -3 -7 1z"/>
<path fill="#00ff2b" d="M651 1077l7 3 -7 -6 -7 -2z"/>
<path fill="#0f5" d="M415 1120l8 -3 -6 1 -8 3z"/>
<path fill="#00ff15" d="M556 1065l8 -2 -7 0 -8 3z"/>
<path fill="#0f5" d="M327 1132l8 -1 -6 -3 -8 1z"/>
<path fill="#00ff2b" d="M497 1085l8 -3 -7 2 -8 4z"/>
<path fill="#0f5" d="M283 1118l9 0 -6 -7 -8 0z"/>
<path fill="#00ff15" d="M622 1066l7 0 -6 -3 -8 0zM636 1070l8 2 -7 -5 -8 -1z"/>
<path fill="#0f5" d="M341 1134l8 -2 -5 -2 -9 1z"/>
<path fill="#00ff40" d="M474 1095l8 -3 -6 2 -8 4zM269 1111l9 0 -6 -8 -9 -1z"/>
<path fill="#0f5" d="M392 1127l9 -2 -6 0 -9 3z"/>
<path fill="#00ff2b" d="M534 1072l8 -3 -7 1 -8 3z"/>
<path fill="#00ff40" d="M452 1105l8 -3 -6 2 -9 4z"/>
<path fill="#00ff15" d="M571 1063l7 -1 -6 -1 -8 2z"/>
<path fill="#0f5" d="M355 1134l9 -2 -6 -1 -9 1z"/>
<path fill="#00ff40" d="M254 1102l9 0 -6 -9 -9 -1zM429 1115l8 -4 -6 2 -8 4z"/>
<path fill="#00ff2b" d="M511 1080l8 -4 -6 2 -8 4z"/>
<path fill="#00ff15" d="M585 1062l8 -1 -7 -1 -8 2z"/>
<path fill="#0f5" d="M370 1132l8 -2 -6 0 -8 2z"/>
<path fill="#00ff2b" d="M489 1089l8 -4 -7 3 -8 4z"/>
<path fill="#0f5" d="M407 1123l8 -3 -6 1 -8 4z"/>
<path fill="#00ff15" d="M548 1068l8 -3 -7 1 -7 3z"/>
<path fill="#0f5" d="M304 1129l8 0 -6 -5 -8 0z"/>
<path fill="#00ff15" d="M600 1063l7 0 -6 -2 -8 0z"/>
<path fill="#00ff2b" d="M658 1082l7 4 -7 -6 -7 -3z"/>
<path fill="#0f5" d="M289 1124l9 0 -6 -6 -9 0z"/>
<path fill="#00ff40" d="M466 1099l8 -4 -6 3 -8 4z"/>
<path fill="#0f5" d="M318 1133l9 -1 -6 -3 -9 0z"/>
<path fill="#00ff40" d="M275 1118l8 0 -5 -7 -9 0z"/>
<path fill="#00ff15" d="M614 1065l8 1 -7 -3 -8 0z"/>
<path fill="#00ff2b" d="M643 1074l8 3 -7 -5 -8 -2z"/>
<path fill="#0f5" d="M332 1135l9 -1 -6 -3 -8 1z"/>
<path fill="#00ff40" d="M443 1109l9 -4 -7 3 -8 3z"/>
<path fill="#00ff15" d="M629 1069l7 1 -7 -4 -7 0z"/>
<path fill="#00ff2b" d="M526 1074l8 -2 -7 1 -8 3z"/>
<path fill="#0f5" d="M384 1130l8 -3 -6 1 -8 2z"/>
<path fill="#00ff40" d="M260 1111l9 0 -6 -9 -9 0z"/>
<path fill="#00ff15" d="M563 1065l8 -2 -7 0 -8 2z"/>
<path fill="#0f5" d="M347 1135l8 -1 -6 -2 -8 2zM421 1118l8 -3 -6 2 -8 3z"/>
<path fill="#00ff2b" d="M503 1083l8 -3 -6 2 -8 3zM481 1092l8 -3 -7 3 -8 3z"/>
<path fill="#00ff15" d="M577 1063l8 -1 -7 0 -7 1z"/>
<path fill="#0f5" d="M398 1126l9 -3 -6 2 -9 2zM361 1134l9 -2 -6 0 -9 2z"/>
<path fill="#00ff15" d="M540 1070l8 -2 -6 1 -8 3z"/>
<path fill="#00ff40" d="M458 1102l8 -3 -6 3 -8 3z"/>
<path fill="#00ff15" d="M592 1063l8 0 -7 -2 -8 1z"/>
<path fill="#0f5" d="M295 1130l9 -1 -6 -5 -9 0zM309 1133l9 0 -6 -4 -8 0z"/>
<path fill="#00ff40" d="M435 1112l8 -3 -6 2 -8 4z"/>
<path fill="#0f5" d="M280 1125l9 -1 -6 -6 -8 0z"/>
<path fill="#00ff2b" d="M518 1077l8 -3 -7 2 -8 4z"/>
<path fill="#0f5" d="M375 1132l9 -2 -6 0 -8 2zM324 1136l8 -1 -5 -3 -9 1z"/>
<path fill="#00ff40" d="M266 1118l9 0 -6 -7 -9 0z"/>
<path fill="#00ff15" d="M607 1064l7 1 -7 -2 -7 0z"/>
<path fill="#00ff2b" d="M650 1079l8 3 -7 -5 -8 -3z"/>
<path fill="#00ff15" d="M555 1066l8 -1 -7 0 -8 3z"/>
<path fill="#0f5" d="M413 1121l8 -3 -6 2 -8 3z"/>
<path fill="#00ff15" d="M621 1067l8 2 -7 -3 -8 -1zM636 1072l7 2 -7 -4 -7 -1z"/>
<path fill="#00ff2b" d="M495 1086l8 -3 -6 2 -8 4z"/>
<path fill="#0f5" d="M338 1136l9 -1 -6 -1 -9 1z"/>
<path fill="#00ff2b" d="M472 1095l9 -3 -7 3 -8 4z"/>
<path fill="#0f5" d="M390 1128l8 -2 -6 1 -8 3z"/>
<path fill="#00ff15" d="M532 1072l8 -2 -6 2 -8 2zM570 1064l7 -1 -6 0 -8 2z"/>
<path fill="#0f5" d="M353 1136l8 -2 -6 0 -8 1z"/>
<path fill="#00ff40" d="M450 1105l8 -3 -6 3 -9 4zM427 1115l8 -3 -6 3 -8 3z"/>
<path fill="#00ff2b" d="M510 1080l8 -3 -7 3 -8 3z"/>
<path fill="#00ff15" d="M584 1063l8 0 -7 -1 -8 1z"/>
<path fill="#0f5" d="M286 1130l9 0 -6 -6 -9 1zM301 1134l8 -1 -5 -4 -9 1zM271 1125l9 0 -5 -7 -9 0zM367 1133l8 -1 -5 0 -9 2z"/>
<path fill="#00ff15" d="M547 1068l8 -2 -7 2 -8 2z"/>
<path fill="#0f5" d="M315 1136l9 0 -6 -3 -9 0z"/>
<path fill="#00ff2b" d="M487 1089l8 -3 -6 3 -8 3z"/>
<path fill="#0f5" d="M404 1123l9 -2 -6 2 -9 3z"/>
<path fill="#00ff15" d="M599 1064l8 0 -7 -1 -8 0z"/>
<path fill="#00ff2b" d="M464 1098l8 -3 -6 4 -8 3z"/>
<path fill="#0f5" d="M329 1137l9 -1 -6 -1 -8 1z"/>
<path fill="#00ff15" d="M614 1066l7 1 -7 -2 -7 -1zM643 1076l7 3 -7 -5 -7 -2zM628 1070l8 2 -7 -3 -8 -2zM524 1074l8 -2 -6 2 -8 3z"/>
<path fill="#0f5" d="M381 1130l9 -2 -6 2 -9 2z"/>
<path fill="#00ff40" d="M441 1108l9 -3 -7 4 -8 3z"/>
<path fill="#00ff15" d="M562 1065l8 -1 -7 1 -8 1z"/>
<path fill="#0f5" d="M344 1137l9 -1 -6 -1 -9 1z"/>
<path fill="#00ff40" d="M419 1117l8 -2 -6 3 -8 3z"/>
<path fill="#00ff2b" d="M502 1082l8 -2 -7 3 -8 3z"/>
<path fill="#0f0" d="M576 1063l8 0 -7 0 -7 1z"/>
<path fill="#0f5" d="M358 1135l9 -2 -6 1 -8 2z"/>
<path fill="#00ff2b" d="M479 1092l8 -3 -6 3 -9 3z"/>
<path fill="#0f5" d="M277 1131l9 -1 -6 -5 -9 0zM292 1135l9 -1 -6 -4 -9 0zM396 1125l8 -2 -6 3 -8 2z"/>
<path fill="#00ff15" d="M539 1070l8 -2 -7 2 -8 2z"/>
<path fill="#0f5" d="M306 1137l9 -1 -6 -3 -8 1z"/>
<path fill="#00ff2b" d="M456 1101l8 -3 -6 4 -8 3z"/>
<path fill="#0f0" d="M591 1063l8 1 -7 -1 -8 0z"/>
<path fill="#0f5" d="M321 1138l8 -1 -5 -1 -9 0z"/>
<path fill="#00ff40" d="M433 1111l8 -3 -6 4 -8 3z"/>
<path fill="#00ff15" d="M516 1076l8 -2 -6 3 -8 3z"/>
<path fill="#0f5" d="M373 1132l8 -2 -6 2 -8 1z"/>
<path fill="#0f0" d="M606 1064l8 2 -7 -2 -8 0z"/>
<path fill="#00ff15" d="M554 1066l8 -1 -7 1 -8 2zM621 1067l7 3 -7 -3 -7 -1zM635 1072l8 4 -7 -4 -8 -2z"/>
<path fill="#0f5" d="M335 1138l9 -1 -6 -1 -9 1z"/>
<path fill="#00ff40" d="M410 1120l9 -3 -6 4 -9 2z"/>
<path fill="#00ff2b" d="M493 1085l9 -3 -7 4 -8 3zM471 1094l8 -2 -7 3 -8 3z"/>
<path fill="#0f0" d="M569 1063l7 0 -6 1 -8 1z"/>
<path fill="#0f5" d="M350 1136l8 -1 -5 1 -9 1zM387 1127l9 -2 -6 3 -9 2z"/>
<path fill="#00ff15" d="M531 1071l8 -1 -7 2 -8 2z"/>
<path fill="#0f5" d="M283 1136l9 -1 -6 -5 -9 1z"/>
<path fill="#00ff40" d="M448 1104l8 -3 -6 4 -9 3z"/>
<path fill="#0f5" d="M297 1138l9 -1 -5 -3 -9 1z"/>
<path fill="#00ff40" d="M425 1113l8 -2 -6 4 -8 2z"/>
<path fill="#0f0" d="M583 1062l8 1 -7 0 -8 0z"/>
<path fill="#00ff15" d="M508 1078l8 -2 -6 4 -8 2z"/>
<path fill="#0f5" d="M312 1139l9 -1 -6 -2 -9 1zM364 1133l9 -1 -6 1 -9 2z"/>
<path fill="#0f0" d="M546 1067l8 -1 -7 2 -8 2z"/>
<path fill="#00ff40" d="M402 1122l8 -2 -6 3 -8 2z"/>
<path fill="#0f0" d="M598 1063l8 1 -7 0 -8 -1z"/>
<path fill="#00ff2b" d="M485 1087l8 -2 -6 4 -8 3z"/>
<path fill="#0f5" d="M327 1139l8 -1 -6 -1 -8 1z"/>
<path fill="#0f0" d="M613 1065l8 2 -7 -1 -8 -2z"/>
<path fill="#00ff15" d="M628 1069l7 3 -7 -2 -7 -3z"/>
<path fill="#00ff2b" d="M462 1097l9 -3 -7 4 -8 3z"/>
<path fill="#0f5" d="M379 1129l8 -2 -6 3 -8 2z"/>
<path fill="#00ff15" d="M523 1073l8 -2 -7 3 -8 2z"/>
<path fill="#0f5" d="M341 1137l9 -1 -6 1 -9 1z"/>
<path fill="#00ff40" d="M439 1106l9 -2 -7 4 -8 3z"/>
<path fill="#0f0" d="M561 1064l8 -1 -7 2 -8 1z"/>
<path fill="#0f5" d="M289 1139l8 -1 -5 -3 -9 1z"/>
<path fill="#00ff40" d="M416 1115l9 -2 -6 4 -9 3z"/>
<path fill="#00ff15" d="M500 1080l8 -2 -6 4 -9 3z"/>
<path fill="#0f5" d="M303 1140l9 -1 -6 -2 -9 1z"/>
<path fill="#0f0" d="M575 1062l8 0 -7 1 -7 0z"/>
<path fill="#0f5" d="M356 1135l8 -2 -6 2 -8 1z"/>
<path fill="#00ff2b" d="M477 1089l8 -2 -6 5 -8 2z"/>
<path fill="#0f0" d="M538 1068l8 -1 -7 3 -8 1z"/>
<path fill="#00ff40" d="M393 1124l9 -2 -6 3 -9 2z"/>
<path fill="#0f5" d="M318 1140l9 -1 -6 -1 -9 1z"/>
<path fill="#0f0" d="M590 1062l8 1 -7 0 -8 -1z"/>
<path fill="#00ff2b" d="M454 1099l8 -2 -6 4 -8 3z"/>
<path fill="#0f0" d="M605 1063l8 2 -7 -1 -8 -1z"/>
<path fill="#00ff15" d="M515 1074l8 -1 -7 3 -8 2z"/>
<path fill="#00ff40" d="M370 1130l9 -1 -6 3 -9 1zM431 1108l8 -2 -6 5 -8 2z"/>
<path fill="#0f5" d="M332 1139l9 -2 -6 1 -8 1z"/>
<path fill="#0f0" d="M620 1066l8 3 -7 -2 -8 -2zM553 1064l8 0 -7 2 -8 1z"/>
<path fill="#00ff40" d="M408 1117l8 -2 -6 5 -8 2z"/>
<path fill="#00ff15" d="M492 1082l8 -2 -7 5 -8 2z"/>
<path fill="#0f5" d="M294 1142l9 -2 -6 -2 -8 1zM347 1136l9 -1 -6 1 -9 1z"/>
<path fill="#00ff2b" d="M469 1091l8 -2 -6 5 -9 3z"/>
<path fill="#0f0" d="M567 1062l8 0 -6 1 -8 1z"/>
<path fill="#00ff40" d="M385 1125l8 -1 -6 3 -8 2z"/>
<path fill="#0f0" d="M530 1069l8 -1 -7 3 -8 2z"/>
<path fill="#00ff2b" d="M446 1101l8 -2 -6 5 -9 2z"/>
<path fill="#0f5" d="M309 1141l9 -1 -6 -1 -9 1z"/>
<path fill="#15ff00" d="M582 1061l8 1 -7 0 -8 0z"/>
<path fill="#00ff40" d="M422 1110l9 -2 -6 5 -9 2z"/>
<path fill="#00ff15" d="M507 1075l8 -1 -7 4 -8 2z"/>
<path fill="#00ff40" d="M361 1132l9 -2 -6 3 -8 2z"/>
<path fill="#0f5" d="M324 1140l8 -1 -5 0 -9 1z"/>
<path fill="#0f0" d="M545 1064l8 0 -7 3 -8 1z"/>
<path fill="#15ff00" d="M597 1061l8 2 -7 0 -8 -1z"/>
<path fill="#00ff40" d="M399 1119l9 -2 -6 5 -9 2z"/>
<path fill="#00ff15" d="M483 1084l9 -2 -7 5 -8 2z"/>
<path fill="#0f0" d="M612 1064l8 2 -7 -1 -8 -2z"/>
<path fill="#00ff2b" d="M460 1093l9 -2 -7 6 -8 2z"/>
<path fill="#0f5" d="M338 1137l9 -1 -6 1 -9 2z"/>
<path fill="#00ff40" d="M376 1127l9 -2 -6 4 -9 1z"/>
<path fill="#0f0" d="M521 1070l9 -1 -7 4 -8 1z"/>
<path fill="#15ff00" d="M559 1061l8 1 -6 2 -8 0z"/>
<path fill="#00ff2b" d="M437 1103l9 -2 -7 5 -8 2z"/>
<path fill="#0f5" d="M300 1143l9 -2 -6 -1 -9 2z"/>
<path fill="#00ff2b" d="M414 1112l8 -2 -6 5 -8 2z"/>
<path fill="#00ff15" d="M498 1077l9 -2 -7 5 -8 2z"/>
<path fill="#15ff00" d="M574 1059l8 2 -7 1 -8 0z"/>
<path fill="#00ff40" d="M353 1133l8 -1 -5 3 -9 1z"/>
<path fill="#0f5" d="M315 1141l9 -1 -6 0 -9 1z"/>
<path fill="#0f0" d="M536 1065l9 -1 -7 4 -8 1z"/>
<path fill="#00ff15" d="M475 1085l8 -1 -6 5 -8 2z"/>
<path fill="#00ff40" d="M391 1120l8 -1 -6 5 -8 1z"/>
<path fill="#15ff00" d="M589 1059l8 2 -7 1 -8 -1z"/>
<path fill="#00ff2b" d="M452 1095l8 -2 -6 6 -8 2z"/>
<path fill="#15ff00" d="M604 1061l8 3 -7 -1 -8 -2z"/>
<path fill="#0f5" d="M329 1138l9 -1 -6 2 -8 1z"/>
<path fill="#00ff40" d="M367 1128l9 -1 -6 3 -9 2z"/>
<path fill="#0f0" d="M513 1070l8 0 -6 4 -8 1z"/>
<path fill="#00ff2b" d="M429 1104l8 -1 -6 5 -9 2z"/>
<path fill="#15ff00" d="M551 1061l8 0 -6 3 -8 0z"/>
<path fill="#00ff2b" d="M405 1113l9 -1 -6 5 -9 2z"/>
<path fill="#00ff15" d="M490 1078l8 -1 -6 5 -9 2z"/>
<path fill="#00ff40" d="M344 1134l9 -1 -6 3 -9 1z"/>
<path fill="#0f5" d="M306 1142l9 -1 -6 0 -9 2z"/>
<path fill="#2aff00" d="M566 1058l8 1 -7 3 -8 -1z"/>
<path fill="#00ff15" d="M467 1087l8 -2 -6 6 -9 2z"/>
<path fill="#00ff40" d="M382 1122l9 -2 -6 5 -9 2z"/>
<path fill="#15ff00" d="M528 1065l8 0 -6 4 -9 1z"/>
<path fill="#00ff2b" d="M443 1096l9 -1 -6 6 -9 2z"/>
<path fill="#2aff00" d="M581 1057l8 2 -7 2 -8 -2z"/>
<path fill="#00ff40" d="M320 1139l9 -1 -5 2 -9 1zM359 1129l8 -1 -6 4 -8 1z"/>
<path fill="#0f0" d="M505 1071l8 -1 -6 5 -9 2z"/>
<path fill="#00ff2b" d="M420 1106l9 -2 -7 6 -8 2z"/>
<path fill="#2aff00" d="M596 1058l8 3 -7 0 -8 -2z"/>
<path fill="#15ff00" d="M543 1060l8 1 -6 3 -9 1z"/>
<path fill="#00ff2b" d="M397 1115l8 -2 -6 6 -8 1z"/>
<path fill="#00ff15" d="M482 1079l8 -1 -7 6 -8 1z"/>
<path fill="#00ff40" d="M335 1135l9 -1 -6 3 -9 1z"/>
<path fill="#00ff15" d="M458 1088l9 -1 -7 6 -8 2z"/>
<path fill="#00ff40" d="M373 1123l9 -1 -6 5 -9 1z"/>
<path fill="#2aff00" d="M558 1057l8 1 -7 3 -8 0z"/>
<path fill="#15ff00" d="M520 1065l8 0 -7 5 -8 0z"/>
<path fill="#00ff2b" d="M435 1098l8 -2 -6 7 -8 1z"/>
<path fill="#00ff40" d="M312 1141l8 -2 -5 2 -9 1zM350 1130l9 -1 -6 4 -9 1z"/>
<path fill="#40ff00" d="M573 1056l8 1 -7 2 -8 -1z"/>
<path fill="#00ff2b" d="M412 1107l8 -1 -6 6 -9 1z"/>
<path fill="#0f0" d="M497 1072l8 -1 -7 6 -8 1z"/>
<path fill="#2aff00" d="M535 1060l8 0 -7 5 -8 0z"/>
<path fill="#00ff2b" d="M388 1116l9 -1 -6 5 -9 2z"/>
<path fill="#0f0" d="M473 1080l9 -1 -7 6 -8 2z"/>
<path fill="#40ff00" d="M589 1056l7 2 -7 1 -8 -2z"/>
<path fill="#00ff40" d="M326 1136l9 -1 -6 3 -9 1z"/>
<path fill="#00ff15" d="M450 1089l8 -1 -6 7 -9 1z"/>
<path fill="#00ff40" d="M365 1124l8 -1 -6 5 -8 1z"/>
<path fill="#15ff00" d="M512 1065l8 0 -7 5 -8 1z"/>
<path fill="#40ff00" d="M550 1056l8 1 -7 4 -8 -1z"/>
<path fill="#00ff2b" d="M426 1099l9 -1 -6 6 -9 2zM403 1108l9 -1 -7 6 -8 2z"/>
<path fill="#00ff40" d="M341 1131l9 -1 -6 4 -9 1z"/>
<path fill="#0f0" d="M488 1072l9 0 -7 6 -8 1z"/>
<path fill="#40ff00" d="M565 1054l8 2 -7 2 -8 -1z"/>
<path fill="#2aff00" d="M527 1059l8 1 -7 5 -8 0z"/>
<path fill="#00ff2b" d="M379 1117l9 -1 -6 6 -9 1z"/>
<path fill="#0f0" d="M465 1081l8 -1 -6 7 -9 1z"/>
<path fill="#00ff40" d="M317 1138l9 -2 -6 3 -8 2z"/>
<path fill="#40ff00" d="M580 1053l9 3 -8 1 -8 -1z"/>
<path fill="#00ff15" d="M441 1090l9 -1 -7 7 -8 2z"/>
<path fill="#00ff40" d="M356 1125l9 -1 -6 5 -9 1z"/>
<path fill="#2aff00" d="M503 1065l9 0 -7 6 -8 1z"/>
<path fill="#00ff15" d="M418 1100l8 -1 -6 7 -8 1z"/>
<path fill="#40ff00" d="M542 1055l8 1 -7 4 -8 0z"/>
<path fill="#00ff2b" d="M394 1109l9 -1 -6 7 -9 1z"/>
<path fill="#00ff40" d="M332 1132l9 -1 -6 4 -9 1z"/>
<path fill="#15ff00" d="M480 1073l8 -1 -6 7 -9 1z"/>
<path fill="#5f0" d="M557 1052l8 2 -7 3 -8 -1z"/>
<path fill="#0f0" d="M456 1081l9 0 -7 7 -8 1z"/>
<path fill="#00ff2b" d="M371 1117l8 0 -6 6 -8 1z"/>
<path fill="#40ff00" d="M519 1059l8 0 -7 6 -8 0z"/>
<path fill="#00ff15" d="M433 1091l8 -1 -6 8 -9 1z"/>
<path fill="#00ff2b" d="M347 1125l9 0 -6 5 -9 1z"/>
<path fill="#5f0" d="M572 1051l8 2 -7 3 -8 -2z"/>
<path fill="#2aff00" d="M495 1065l8 0 -6 7 -9 0z"/>
<path fill="#00ff15" d="M409 1100l9 0 -6 7 -9 1z"/>
<path fill="#5f0" d="M534 1054l8 1 -7 5 -8 -1z"/>
<path fill="#00ff40" d="M323 1133l9 -1 -6 4 -9 2z"/>
<path fill="#00ff2b" d="M385 1109l9 0 -6 7 -9 1z"/>
<path fill="#15ff00" d="M471 1073l9 0 -7 7 -8 1z"/>
<path fill="#0f0" d="M448 1082l8 -1 -6 8 -9 1z"/>
<path fill="#00ff2b" d="M362 1118l9 -1 -6 7 -9 1z"/>
<path fill="#40ff00" d="M510 1058l9 1 -7 6 -9 0z"/>
<path fill="#5f0" d="M549 1050l8 2 -7 4 -8 -1z"/>
<path fill="#00ff15" d="M424 1091l9 0 -7 8 -8 1z"/>
<path fill="#00ff2b" d="M338 1126l9 -1 -6 6 -9 1z"/>
<path fill="#00ff15" d="M400 1101l9 -1 -6 8 -9 1z"/>
<path fill="#2aff00" d="M487 1065l8 0 -7 7 -8 1z"/>
<path fill="#6aff00" d="M564 1048l8 3 -7 3 -8 -2z"/>
<path fill="#5f0" d="M525 1053l9 1 -7 5 -8 0z"/>
<path fill="#00ff2b" d="M377 1110l8 -1 -6 8 -8 0z"/>
<path fill="#15ff00" d="M463 1073l8 0 -6 8 -9 0z"/>
<path fill="#0f0" d="M439 1082l9 0 -7 8 -8 1z"/>
<path fill="#00ff2b" d="M353 1119l9 -1 -6 7 -9 0z"/>
<path fill="#40ff00" d="M502 1058l8 0 -7 7 -8 0z"/>
<path fill="#6aff00" d="M541 1049l8 1 -7 5 -8 -1z"/>
<path fill="#00ff15" d="M415 1092l9 -1 -6 9 -9 0z"/>
<path fill="#00ff2b" d="M329 1127l9 -1 -6 6 -9 1z"/>
<path fill="#00ff15" d="M391 1101l9 0 -6 8 -9 0z"/>
<path fill="#40ff00" d="M478 1065l9 0 -7 8 -9 0z"/>
<path fill="#6aff00" d="M556 1046l8 2 -7 4 -8 -2z"/>
<path fill="#00ff2b" d="M368 1111l9 -1 -6 7 -9 1z"/>
<path fill="#6aff00" d="M517 1052l8 1 -6 6 -9 -1z"/>
<path fill="#15ff00" d="M454 1073l9 0 -7 8 -8 1z"/>
<path fill="#00ff2b" d="M344 1120l9 -1 -6 6 -9 1z"/>
<path fill="#0f0" d="M430 1083l9 -1 -6 9 -9 0z"/>
<path fill="#5f0" d="M493 1057l9 1 -7 7 -8 0z"/>
<path fill="#0f0" d="M407 1092l8 0 -6 8 -9 1z"/>
<path fill="#6aff00" d="M532 1047l9 2 -7 5 -9 -1z"/>
<path fill="#00ff15" d="M383 1102l8 -1 -6 8 -8 1z"/>
<path fill="#40ff00" d="M469 1065l9 0 -7 8 -8 0z"/>
<path fill="#00ff15" d="M359 1111l9 0 -6 7 -9 1z"/>
<path fill="#80ff00" d="M548 1044l8 2 -7 4 -8 -1z"/>
<path fill="#2aff00" d="M446 1073l8 0 -6 9 -9 0z"/>
<path fill="#6aff00" d="M509 1051l8 1 -7 6 -8 0z"/>
<path fill="#00ff2b" d="M335 1120l9 0 -6 6 -9 1z"/>
<path fill="#15ff00" d="M422 1083l8 0 -6 8 -9 1z"/>
<path fill="#5f0" d="M485 1057l8 0 -6 8 -9 0z"/>
<path fill="#0f0" d="M398 1092l9 0 -7 9 -9 0z"/>
<path fill="#80ff00" d="M524 1045l8 2 -7 6 -8 -1z"/>
<path fill="#00ff15" d="M374 1102l9 0 -6 8 -9 1z"/>
<path fill="#40ff00" d="M461 1064l8 1 -6 8 -9 0z"/>
<path fill="#00ff15" d="M350 1112l9 -1 -6 8 -9 1z"/>
<path fill="#2aff00" d="M437 1073l9 0 -7 9 -9 1z"/>
<path fill="#80ff00" d="M500 1049l9 2 -7 7 -9 -1z"/>
<path fill="#95ff00" d="M539 1041l9 3 -7 5 -9 -2z"/>
<path fill="#15ff00" d="M413 1083l9 0 -7 9 -8 0z"/>
<path fill="#0f0" d="M389 1092l9 0 -7 9 -8 1z"/>
<path fill="#6aff00" d="M476 1056l9 1 -7 8 -9 0z"/>
<path fill="#00ff15" d="M365 1102l9 0 -6 9 -9 0z"/>
<path fill="#95ff00" d="M516 1044l8 1 -7 7 -8 -1z"/>
<path fill="#5f0" d="M452 1064l9 0 -7 9 -8 0z"/>
<path fill="#00ff15" d="M340 1112l10 0 -6 8 -9 0z"/>
<path fill="#40ff00" d="M428 1073l9 0 -7 10 -8 0z"/>
<path fill="#80ff00" d="M492 1048l8 1 -7 8 -8 0z"/>
<path fill="#95ff00" d="M531 1039l8 2 -7 6 -8 -2z"/>
<path fill="#15ff00" d="M404 1082l9 1 -6 9 -9 0z"/>
<path fill="#0f0" d="M380 1092l9 0 -6 10 -9 0z"/>
<path fill="#6aff00" d="M467 1055l9 1 -7 9 -8 -1z"/>
<path fill="#00ff15" d="M356 1102l9 0 -6 9 -9 1z"/>
<path fill="#95ff00" d="M507 1042l9 2 -7 7 -9 -2z"/>
<path fill="#5f0" d="M443 1063l9 1 -6 9 -9 0z"/>
<path fill="#40ff00" d="M419 1072l9 1 -6 10 -9 0z"/>
<path fill="#95ff00" d="M483 1047l9 1 -7 9 -9 -1z"/>
<path fill="#2aff00" d="M395 1082l9 0 -6 10 -9 0z"/>
<path fill="#af0" d="M523 1037l8 2 -7 6 -8 -1z"/>
<path fill="#0f0" d="M371 1092l9 0 -6 10 -9 0z"/>
<path fill="#80ff00" d="M459 1054l8 1 -6 9 -9 0z"/>
<path fill="#0f0" d="M346 1103l10 -1 -6 10 -10 0z"/>
<path fill="#6aff00" d="M434 1063l9 0 -6 10 -9 0z"/>
<path fill="#af0" d="M498 1040l9 2 -7 7 -8 -1z"/>
<path fill="#40ff00" d="M410 1072l9 0 -6 11 -9 -1z"/>
<path fill="#95ff00" d="M474 1046l9 1 -7 9 -9 -1z"/>
<path fill="#2aff00" d="M386 1082l9 0 -6 10 -9 0z"/>
<path fill="#bfff00" d="M514 1034l9 3 -7 7 -9 -2z"/>
<path fill="#15ff00" d="M362 1092l9 0 -6 10 -9 0z"/>
<path fill="#80ff00" d="M450 1053l9 1 -7 10 -9 -1z"/>
<path fill="#6aff00" d="M426 1062l8 1 -6 10 -9 -1z"/>
<path fill="#bfff00" d="M490 1038l8 2 -6 8 -9 -1z"/>
<path fill="#5f0" d="M401 1071l9 1 -6 10 -9 0z"/>
<path fill="#40ff00" d="M377 1082l9 0 -6 10 -9 0z"/>
<path fill="#af0" d="M465 1044l9 2 -7 9 -8 -1z"/>
<path fill="#15ff00" d="M352 1092l10 0 -6 10 -10 1z"/>
<path fill="#d5ff00" d="M505 1032l9 2 -7 8 -9 -2z"/>
<path fill="#95ff00" d="M441 1052l9 1 -7 10 -9 0z"/>
<path fill="#80ff00" d="M417 1061l9 1 -7 10 -9 0z"/>
<path fill="#d5ff00" d="M481 1036l9 2 -7 9 -9 -1z"/>
<path fill="#5f0" d="M392 1071l9 0 -6 11 -9 0z"/>
<path fill="#40ff00" d="M368 1081l9 1 -6 10 -9 0z"/>
<path fill="#bfff00" d="M457 1043l8 1 -6 10 -9 -1z"/>
<path fill="#eaff00" d="M497 1030l8 2 -7 8 -8 -2z"/>
<path fill="#95ff00" d="M432 1051l9 1 -7 11 -8 -1z"/>
<path fill="#80ff00" d="M408 1060l9 1 -7 11 -9 -1z"/>
<path fill="#eaff00" d="M472 1035l9 1 -7 10 -9 -2z"/>
<path fill="#6aff00" d="M383 1070l9 1 -6 11 -9 0z"/>
<path fill="#40ff00" d="M358 1081l10 0 -6 11 -10 0z"/>
<path fill="#bfff00" d="M448 1041l9 2 -7 10 -9 -1z"/>
<path fill="#ff0" d="M488 1028l9 2 -7 8 -9 -2z"/>
<path fill="#af0" d="M423 1050l9 1 -6 11 -9 -1z"/>
<path fill="#80ff00" d="M398 1059l10 1 -7 11 -9 0z"/>
<path fill="#eaff00" d="M463 1033l9 2 -7 9 -8 -1z"/>
<path fill="#6aff00" d="M374 1069l9 1 -6 12 -9 -1z"/>
<path fill="#d5ff00" d="M439 1040l9 1 -7 11 -9 -1z"/>
<path fill="#bfff00" d="M414 1048l9 2 -6 11 -9 -1z"/>
<path fill="#ffea00" d="M479 1025l9 3 -7 8 -9 -1z"/>
<path fill="#95ff00" d="M389 1058l9 1 -6 12 -9 -1z"/>
<path fill="#80ff00" d="M364 1069l10 0 -6 12 -10 0z"/>
<path fill="#ff0" d="M454 1031l9 2 -6 10 -9 -2z"/>
<path fill="#eaff00" d="M430 1038l9 2 -7 11 -9 -1z"/>
<path fill="#bfff00" d="M405 1047l9 1 -6 12 -10 -1z"/>
<path fill="#ffea00" d="M470 1023l9 2 -7 10 -9 -2z"/>
<path fill="#af0" d="M380 1057l9 1 -6 12 -9 -1z"/>
<path fill="#ffea00" d="M445 1029l9 2 -6 10 -9 -1z"/>
<path fill="#ff0" d="M421 1036l9 2 -7 12 -9 -2z"/>
<path fill="#d5ff00" d="M396 1045l9 2 -7 12 -9 -1z"/>
<path fill="#ffd500" d="M461 1021l9 2 -7 10 -9 -2z"/>
<path fill="#af0" d="M371 1056l9 1 -6 12 -10 0z"/>
<path fill="#ffea00" d="M436 1027l9 2 -6 11 -9 -2z"/>
<path fill="#ff0" d="M411 1034l10 2 -7 12 -9 -1z"/>
<path fill="#eaff00" d="M386 1044l10 1 -7 13 -9 -1z"/>
<path fill="#ffd500" d="M452 1018l9 3 -7 10 -9 -2zM427 1024l9 3 -6 11 -9 -2z"/>
<path fill="#ffea00" d="M402 1033l9 1 -6 13 -9 -2z"/>
<path fill="#ff0" d="M377 1042l9 2 -6 13 -9 -1z"/>
<path fill="#ffbf00" d="M443 1016l9 2 -7 11 -9 -2z"/>
<path fill="#ffd500" d="M418 1022l9 2 -6 12 -10 -2zM393 1031l9 2 -6 12 -10 -1z"/>
<path fill="#fa0" d="M434 1013l9 3 -7 11 -9 -3z"/>
<path fill="#ffbf00" d="M409 1020l9 2 -7 12 -9 -1z"/>
<path fill="#ffd500" d="M383 1029l10 2 -7 13 -9 -2z"/>
<path fill="#fa0" d="M425 1010l9 3 -7 11 -9 -2zM399 1018l10 2 -7 13 -9 -2z"/>
<path fill="#ff9500" d="M415 1008l10 2 -7 12 -9 -2z"/>
<path fill="#fa0" d="M390 1015l9 3 -6 13 -10 -2z"/>
<path fill="#ff8000" d="M406 1005l9 3 -6 12 -10 -2zM396 1002l10 3 -7 13 -9 -3z"/>
</g>
</g>
<g id="pd">
<polyline fill="none" stroke="#000" stroke-width="2.2" points="1066.6,1221.2 1048.5,854.4 1340.1,792.5 1623.8,858.5 1605,1225.7"/>
<line stroke="#000" stroke-width="2.2" x1="1340.1" y1="792.5" x2="1328" y2="1127.3"/>
<polygon fill="#ff0" stroke="none" points="1066.6,1221.2 1327.8,1351.6 1605,1225.7 1328,1127.3"/>
<polyline fill="none" stroke="#0000e6" stroke-width="1.8" points="1115.9,1206.6 1144.7,1211.7 1195.6,1221.9 1246.4,1230.3 1280.3,1234.7 1327.8,1233.7 1332.9,1226.9 1324.4,1215.1 1297.3,1196.4 1263.4,1181.2 1229.5,1164.2"/>
<polyline fill="none" stroke="#00f0f0" stroke-width="1.8" points="1293.9,1140.5 1331.2,1154.1 1382,1172.7 1432.9,1191.4 1483.7,1206.6 1534.6,1225.3 1571.9,1238.8"/>
<polyline fill="none" stroke="#33ee00" stroke-width="1.8" points="1336,1133.3 1382,1149.6 1432.9,1167.7 1480.3,1184.4"/>
<polyline fill="none" stroke="#00f0f0" stroke-width="1.8" points="1148.1,1259.2 1195.6,1276.1 1263.4,1299.8 1331.2,1320.2 1375.3,1330.3"/>
<polygon fill="none" stroke="#000" stroke-width="2.2" stroke-linejoin="miter" points="1066.6,1221.2 1327.8,1351.6 1605,1225.7 1328,1127.3"/>
<g stroke="#000" stroke-width="2.40" stroke-linejoin="round">
<path fill="#ff2a00" d="M1303 917l7 -17 -6 -2 -7 17z"/>
<path fill="#f00" d="M1310 900l7 -17 -7 -3 -6 18z"/>
<path fill="#f50" d="M1297 933l6 -16 -6 -2 -6 16z"/>
<path fill="#f00" d="M1317 883l6 -19 -6 -2 -7 18z"/>
<path fill="#ff9500" d="M1290 948l7 -15 -6 -2 -7 15z"/>
<path fill="#f00" d="M1323 864l7 -19 -7 -3 -6 20z"/>
<path fill="#ffbf00" d="M1284 963l6 -15 -6 -2 -7 15z"/>
<path fill="#f00" d="M1330 845l6 -20 -6 -3 -7 20z"/>
<path fill="#ffea00" d="M1277 977l7 -14 -7 -2 -6 14z"/>
<path fill="#f00" d="M1336 825l7 -21 -6 -2 -7 20z"/>
<path fill="#ff0" d="M1270 990l7 -13 -6 -2 -7 13z"/>
<path fill="#bfff00" d="M1264 1003l6 -13 -6 -2 -6 13z"/>
<path fill="#ff2a00" d="M1310 919l6 -16 -6 -3 -7 17z"/>
<path fill="#f00" d="M1316 903l7 -18 -6 -2 -7 17z"/>
<path fill="#f50" d="M1303 935l7 -16 -7 -2 -6 16z"/>
<path fill="#f00" d="M1323 885l6 -18 -6 -3 -6 19z"/>
<path fill="#ff9500" d="M1296 951l7 -16 -6 -2 -7 15z"/>
<path fill="#80ff00" d="M1257 1014l7 -11 -6 -2 -7 11z"/>
<path fill="#f00" d="M1329 867l7 -19 -6 -3 -7 19z"/>
<path fill="#ffbf00" d="M1290 965l6 -14 -6 -3 -6 15z"/>
<path fill="#f00" d="M1336 848l7 -20 -7 -3 -6 20z"/>
<path fill="#ffea00" d="M1283 979l7 -14 -6 -2 -7 14z"/>
<path fill="#5f0" d="M1250 1025l7 -11 -6 -2 -7 11z"/>
<path fill="#f00" d="M1343 828l6 -21 -6 -3 -7 21z"/>
<path fill="#ff0" d="M1277 992l6 -13 -6 -2 -7 13z"/>
<path fill="#bfff00" d="M1270 1004l7 -12 -7 -2 -6 13z"/>
<path fill="#40ff00" d="M1244 1035l6 -10 -6 -2 -6 11z"/>
<path fill="#ff2a00" d="M1316 922l7 -17 -7 -2 -6 16z"/>
<path fill="#f00" d="M1323 905l6 -17 -6 -3 -7 18z"/>
<path fill="#f50" d="M1309 938l7 -16 -6 -3 -7 16z"/>
<path fill="#f00" d="M1329 888l7 -19 -7 -2 -6 18z"/>
<path fill="#ff9500" d="M1303 953l6 -15 -6 -3 -7 16z"/>
<path fill="#f00" d="M1336 869l7 -19 -7 -2 -7 19z"/>
<path fill="#80ff00" d="M1263 1016l7 -12 -6 -1 -7 11z"/>
<path fill="#ffbf00" d="M1296 967l7 -14 -7 -2 -6 14z"/>
<path fill="#f00" d="M1343 850l6 -19 -6 -3 -7 20z"/>
<path fill="#2aff00" d="M1237 1045l7 -10 -6 -1 -7 9z"/>
<path fill="#ffea00" d="M1289 981l7 -14 -6 -2 -7 14z"/>
<path fill="#f00" d="M1349 831l7 -21 -7 -3 -6 21z"/>
<path fill="#5f0" d="M1257 1027l6 -11 -6 -2 -7 11z"/>
<path fill="#ff0" d="M1283 994l6 -13 -6 -2 -6 13z"/>
<path fill="#15ff00" d="M1230 1054l7 -9 -6 -2 -7 9z"/>
<path fill="#bfff00" d="M1276 1006l7 -12 -6 -2 -7 12z"/>
<path fill="#40ff00" d="M1250 1037l7 -10 -7 -2 -6 10z"/>
<path fill="#f00" d="M1329 908l7 -18 -7 -2 -6 17z"/>
<path fill="#ff2a00" d="M1322 924l7 -16 -6 -3 -7 17z"/>
<path fill="#f00" d="M1336 890l6 -18 -6 -3 -7 19z"/>
<path fill="#f50" d="M1316 940l6 -16 -6 -2 -7 16z"/>
<path fill="#f00" d="M1342 872l7 -19 -6 -3 -7 19z"/>
<path fill="#ff9500" d="M1309 955l7 -15 -7 -2 -6 15z"/>
<path fill="#80ff00" d="M1269 1018l7 -12 -6 -2 -7 12z"/>
<path fill="#f00" d="M1349 853l7 -20 -7 -2 -6 19z"/>
<path fill="#ffbf00" d="M1302 970l7 -15 -6 -2 -7 14z"/>
<path fill="#15ff00" d="M1224 1062l6 -8 -6 -2 -6 9z"/>
<path fill="#2aff00" d="M1243 1047l7 -10 -6 -2 -7 10z"/>
<path fill="#f00" d="M1356 833l6 -20 -6 -3 -7 21z"/>
<path fill="#ffea00" d="M1296 983l6 -13 -6 -3 -7 14z"/>
<path fill="#5f0" d="M1263 1029l6 -11 -6 -2 -6 11z"/>
<path fill="#ff0" d="M1289 996l7 -13 -7 -2 -6 13z"/>
<path fill="#15ff00" d="M1237 1055l6 -8 -6 -2 -7 9z"/>
<path fill="#0f0" d="M1217 1069l7 -7 -6 -1 -7 7z"/>
<path fill="#bfff00" d="M1282 1008l7 -12 -6 -2 -7 12z"/>
<path fill="#f00" d="M1335 910l7 -17 -6 -3 -7 18z"/>
<path fill="#ff2a00" d="M1329 927l6 -17 -6 -2 -7 16z"/>
<path fill="#f00" d="M1342 893l7 -18 -7 -3 -6 18z"/>
<path fill="#40ff00" d="M1256 1039l7 -10 -6 -2 -7 10z"/>
<path fill="#ff6a00" d="M1322 943l7 -16 -7 -3 -6 16z"/>
<path fill="#f00" d="M1349 875l6 -19 -6 -3 -7 19z"/>
<path fill="#ff9500" d="M1315 958l7 -15 -6 -3 -7 15z"/>
<path fill="#f00" d="M1355 856l7 -20 -6 -3 -7 20z"/>
<path fill="#ffbf00" d="M1309 972l6 -14 -6 -3 -7 15z"/>
<path fill="#80ff00" d="M1276 1020l6 -12 -6 -2 -7 12z"/>
<path fill="#f00" d="M1362 836l7 -20 -7 -3 -6 20z"/>
<path fill="#15ff00" d="M1230 1063l7 -8 -7 -1 -6 8z"/>
<path fill="#2aff00" d="M1249 1048l7 -9 -6 -2 -7 10z"/>
<path fill="#ffea00" d="M1302 986l7 -14 -7 -2 -6 13z"/>
<path fill="#0f0" d="M1210 1076l7 -7 -6 -1 -7 7z"/>
<path fill="#5f0" d="M1269 1031l7 -11 -7 -2 -6 11z"/>
<path fill="#ff0" d="M1295 998l7 -12 -6 -3 -7 13z"/>
<path fill="#f00" d="M1342 913l6 -17 -6 -3 -7 17z"/>
<path fill="#ff2a00" d="M1335 929l7 -16 -7 -3 -6 17z"/>
<path fill="#2aff00" d="M1243 1057l6 -9 -6 -1 -6 8z"/>
<path fill="#f00" d="M1348 896l7 -18 -6 -3 -7 18z"/>
<path fill="#bfff00" d="M1289 1011l6 -13 -6 -2 -7 12z"/>
<path fill="#0f0" d="M1223 1071l7 -8 -6 -1 -7 7z"/>
<path fill="#ff6a00" d="M1328 945l7 -16 -6 -2 -7 16z"/>
<path fill="#f00" d="M1355 878l7 -19 -7 -3 -6 19z"/>
<path fill="#40ff00" d="M1262 1041l7 -10 -6 -2 -7 10z"/>
<path fill="#ff9500" d="M1322 960l6 -15 -6 -2 -7 15z"/>
<path fill="#f00" d="M1362 859l7 -20 -7 -3 -7 20z"/>
<path fill="#0f0" d="M1203 1082l7 -6 -6 -1 -7 6z"/>
<path fill="#ffbf00" d="M1315 974l7 -14 -7 -2 -6 14z"/>
<path fill="#80ff00" d="M1282 1022l7 -11 -7 -3 -6 12z"/>
<path fill="#f00" d="M1369 839l6 -20 -6 -3 -7 20z"/>
<path fill="#ffea00" d="M1308 988l7 -14 -6 -2 -7 14z"/>
<path fill="#15ff00" d="M1236 1065l7 -8 -6 -2 -7 8z"/>
<path fill="#2aff00" d="M1256 1050l6 -9 -6 -2 -7 9z"/>
<path fill="#0f0" d="M1216 1077l7 -6 -6 -2 -7 7z"/>
<path fill="#5f0" d="M1275 1033l7 -11 -6 -2 -7 11z"/>
<path fill="#ff0" d="M1302 1001l6 -13 -6 -2 -7 12z"/>
<path fill="#f00" d="M1348 916l7 -18 -7 -2 -6 17z"/>
<path fill="#0f0" d="M1197 1087l6 -5 -6 -1 -6 5z"/>
<path fill="#ff2a00" d="M1341 932l7 -16 -6 -3 -7 16z"/>
<path fill="#f00" d="M1355 898l7 -18 -7 -2 -7 18z"/>
<path fill="#ff6a00" d="M1335 948l6 -16 -6 -3 -7 16z"/>
<path fill="#bfff00" d="M1295 1013l7 -12 -7 -3 -6 13z"/>
<path fill="#f00" d="M1362 880l6 -18 -6 -3 -7 19z"/>
<path fill="#2aff00" d="M1249 1059l7 -9 -7 -2 -6 9z"/>
<path fill="#0f0" d="M1229 1072l7 -7 -6 -2 -7 8z"/>
<path fill="#40ff00" d="M1269 1043l6 -10 -6 -2 -7 10z"/>
<path fill="#ff9500" d="M1328 963l7 -15 -7 -3 -6 15z"/>
<path fill="#f00" d="M1368 862l7 -20 -6 -3 -7 20z"/>
<path fill="#ffbf00" d="M1321 977l7 -14 -6 -3 -7 14z"/>
<path fill="#f00" d="M1375 842l7 -20 -7 -3 -6 20z"/>
<path fill="#0f0" d="M1209 1083l7 -6 -6 -1 -7 6z"/>
<path fill="#80ff00" d="M1288 1024l7 -11 -6 -2 -7 11z"/>
<path fill="#ffea00" d="M1315 990l6 -13 -6 -3 -7 14z"/>
<path fill="#2aff00" d="M1262 1052l7 -9 -7 -2 -6 9z"/>
<path fill="#15ff00" d="M1242 1066l7 -7 -6 -2 -7 8z"/>
<path fill="#0f0" d="M1190 1092l7 -5 -6 -1 -7 5z"/>
<path fill="#5f0" d="M1282 1034l6 -10 -6 -2 -7 11z"/>
<path fill="#0f0" d="M1222 1079l7 -7 -6 -1 -7 6z"/>
<path fill="#ff0" d="M1308 1003l7 -13 -7 -2 -6 13z"/>
<path fill="#f00" d="M1355 918l6 -17 -6 -3 -7 18zM1361 901l7 -18 -6 -3 -7 18z"/>
<path fill="#ff4000" d="M1348 935l7 -17 -7 -2 -7 16z"/>
<path fill="#f00" d="M1368 883l7 -18 -7 -3 -6 18z"/>
<path fill="#ff6a00" d="M1341 950l7 -15 -7 -3 -6 16z"/>
<path fill="#bfff00" d="M1301 1015l7 -12 -6 -2 -7 12z"/>
<path fill="#0f0" d="M1203 1088l6 -5 -6 -1 -6 5z"/>
<path fill="#f00" d="M1375 865l7 -20 -7 -3 -7 20z"/>
<path fill="#2aff00" d="M1255 1060l7 -8 -6 -2 -7 9z"/>
<path fill="#ff9500" d="M1335 965l6 -15 -6 -2 -7 15z"/>
<path fill="#40ff00" d="M1275 1044l7 -10 -7 -1 -6 10z"/>
<path fill="#15ff00" d="M1235 1074l7 -8 -6 -1 -7 7z"/>
<path fill="#f00" d="M1382 845l7 -20 -7 -3 -7 20z"/>
<path fill="#ffbf00" d="M1328 979l7 -14 -7 -2 -7 14z"/>
<path fill="#80ff00" d="M1295 1026l6 -11 -6 -2 -7 11z"/>
<path fill="#0f0" d="M1216 1084l6 -5 -6 -2 -7 6z"/>
<path fill="#ffea00" d="M1321 992l7 -13 -7 -2 -6 13z"/>
<path fill="#0f0" d="M1183 1096l7 -4 -6 -1 -7 4z"/>
<path fill="#2aff00" d="M1268 1053l7 -9 -6 -1 -7 9z"/>
<path fill="#15ff00" d="M1248 1068l7 -8 -6 -1 -7 7z"/>
<path fill="#ff0" d="M1314 1005l7 -13 -6 -2 -7 13z"/>
<path fill="#5f0" d="M1288 1036l7 -10 -7 -2 -6 10z"/>
<path fill="#0f0" d="M1196 1093l7 -5 -6 -1 -7 5zM1229 1080l6 -6 -6 -2 -7 7z"/>
<path fill="#f00" d="M1361 921l7 -17 -7 -3 -6 17zM1368 904l7 -18 -7 -3 -7 18z"/>
<path fill="#ff4000" d="M1354 937l7 -16 -6 -3 -7 17z"/>
<path fill="#f00" d="M1375 886l7 -18 -7 -3 -7 18z"/>
<path fill="#ff6a00" d="M1348 953l6 -16 -6 -2 -7 15z"/>
<path fill="#f00" d="M1382 868l6 -20 -6 -3 -7 20z"/>
<path fill="#bfff00" d="M1308 1017l6 -12 -6 -2 -7 12z"/>
<path fill="#ff9500" d="M1341 967l7 -14 -7 -3 -6 15z"/>
<path fill="#0f0" d="M1209 1089l7 -5 -7 -1 -6 5z"/>
<path fill="#2aff00" d="M1261 1062l7 -9 -6 -1 -7 8z"/>
<path fill="#f00" d="M1388 848l7 -20 -6 -3 -7 20z"/>
<path fill="#40ff00" d="M1281 1046l7 -10 -6 -2 -7 10z"/>
<path fill="#15ff00" d="M1242 1075l6 -7 -6 -2 -7 8z"/>
<path fill="#ffbf00" d="M1334 981l7 -14 -6 -2 -7 14z"/>
<path fill="#0f0" d="M1176 1099l7 -3 -6 -1 -7 3z"/>
<path fill="#80ff00" d="M1301 1028l7 -11 -7 -2 -6 11z"/>
<path fill="#ffea00" d="M1328 995l6 -14 -6 -2 -7 13z"/>
<path fill="#0f0" d="M1222 1086l7 -6 -7 -1 -6 5zM1189 1097l7 -4 -6 -1 -7 4z"/>
<path fill="#2aff00" d="M1274 1055l7 -9 -6 -2 -7 9z"/>
<path fill="#15ff00" d="M1255 1070l6 -8 -6 -2 -7 8z"/>
<path fill="#ff0" d="M1321 1007l7 -12 -7 -3 -7 13z"/>
<path fill="#5f0" d="M1294 1038l7 -10 -6 -2 -7 10z"/>
<path fill="#f00" d="M1368 924l7 -17 -7 -3 -7 17zM1375 907l6 -18 -6 -3 -7 18z"/>
<path fill="#ff4000" d="M1361 940l7 -16 -7 -3 -7 16z"/>
<path fill="#f00" d="M1381 889l7 -19 -6 -2 -7 18z"/>
<path fill="#0f0" d="M1235 1081l7 -6 -7 -1 -6 6zM1202 1094l7 -5 -6 -1 -7 5z"/>
<path fill="#ff6a00" d="M1354 955l7 -15 -7 -3 -6 16z"/>
<path fill="#f00" d="M1388 870l7 -19 -7 -3 -6 20z"/>
<path fill="#bfff00" d="M1314 1019l7 -12 -7 -2 -6 12z"/>
<path fill="#ff9500" d="M1348 970l6 -15 -6 -2 -7 14z"/>
<path fill="#f00" d="M1395 851l7 -20 -7 -3 -7 20z"/>
<path fill="#2aff00" d="M1268 1064l6 -9 -6 -2 -7 9z"/>
<path fill="#0f0" d="M1215 1091l7 -5 -6 -2 -7 5z"/>
<path fill="#40ff00" d="M1288 1048l6 -10 -6 -2 -7 10z"/>
<path fill="#0f0" d="M1169 1101l7 -2 -6 -1 -7 2z"/>
<path fill="#ffbf00" d="M1341 984l7 -14 -7 -3 -7 14z"/>
<path fill="#15ff00" d="M1248 1076l7 -6 -7 -2 -6 7z"/>
<path fill="#80ff00" d="M1307 1030l7 -11 -6 -2 -7 11z"/>
<path fill="#0f0" d="M1182 1099l7 -2 -6 -1 -7 3z"/>
<path fill="#ffea00" d="M1334 997l7 -13 -7 -3 -6 14z"/>
<path fill="#0f0" d="M1228 1087l7 -6 -6 -1 -7 6zM1195 1097l7 -3 -6 -1 -7 4z"/>
<path fill="#2aff00" d="M1281 1057l7 -9 -7 -2 -7 9z"/>
<path fill="#eaff00" d="M1327 1010l7 -13 -6 -2 -7 12z"/>
<path fill="#15ff00" d="M1261 1071l7 -7 -7 -2 -6 8z"/>
<path fill="#f00" d="M1381 910l7 -18 -7 -3 -6 18zM1374 926l7 -16 -6 -3 -7 17zM1388 892l7 -19 -7 -3 -7 19z"/>
<path fill="#6aff00" d="M1301 1040l6 -10 -6 -2 -7 10z"/>
<path fill="#ff4000" d="M1368 943l6 -17 -6 -2 -7 16z"/>
<path fill="#f00" d="M1395 873l7 -19 -7 -3 -7 19z"/>
<path fill="#ff6a00" d="M1361 958l7 -15 -7 -3 -7 15z"/>
<path fill="#0f0" d="M1241 1083l7 -7 -6 -1 -7 6zM1208 1095l7 -4 -6 -2 -7 5z"/>
<path fill="#f00" d="M1402 854l7 -20 -7 -3 -7 20z"/>
<path fill="#ff9500" d="M1354 973l7 -15 -7 -3 -6 15z"/>
<path fill="#bfff00" d="M1321 1021l6 -11 -6 -3 -7 12z"/>
<path fill="#0f0" d="M1162 1103l7 -2 -6 -1 -7 2z"/>
<path fill="#2aff00" d="M1274 1065l7 -8 -7 -2 -6 9z"/>
<path fill="#ffbf00" d="M1347 986l7 -13 -6 -3 -7 14z"/>
<path fill="#40ff00" d="M1294 1050l7 -10 -7 -2 -6 10z"/>
<path fill="#0f0" d="M1221 1092l7 -5 -6 -1 -7 5zM1175 1102l7 -3 -6 0 -7 2z"/>
<path fill="#15ff00" d="M1254 1078l7 -7 -6 -1 -7 6z"/>
<path fill="#80ff00" d="M1314 1032l7 -11 -7 -2 -7 11z"/>
<path fill="#ffea00" d="M1341 1000l6 -14 -6 -2 -7 13z"/>
<path fill="#0f0" d="M1188 1100l7 -3 -6 0 -7 2zM1234 1088l7 -5 -6 -2 -7 6z"/>
<path fill="#f00" d="M1388 912l7 -17 -7 -3 -7 18zM1381 929l7 -17 -7 -2 -7 16z"/>
<path fill="#2aff00" d="M1287 1059l7 -9 -6 -2 -7 9z"/>
<path fill="#f00" d="M1395 895l7 -18 -7 -4 -7 19z"/>
<path fill="#eaff00" d="M1334 1012l7 -12 -7 -3 -7 13z"/>
<path fill="#ff4000" d="M1374 945l7 -16 -7 -3 -6 17z"/>
<path fill="#0f0" d="M1201 1098l7 -3 -6 -1 -7 3z"/>
<path fill="#15ff00" d="M1267 1073l7 -8 -6 -1 -7 7z"/>
<path fill="#f00" d="M1402 877l6 -20 -6 -3 -7 19z"/>
<path fill="#6aff00" d="M1307 1042l7 -10 -7 -2 -6 10z"/>
<path fill="#ff6a00" d="M1368 961l6 -16 -6 -2 -7 15z"/>
<path fill="#f00" d="M1408 857l7 -20 -6 -3 -7 20z"/>
<path fill="#0f0" d="M1247 1084l7 -6 -6 -2 -7 7z"/>
<path fill="#fa0" d="M1361 975l7 -14 -7 -3 -7 15z"/>
<path fill="#bfff00" d="M1327 1024l7 -12 -7 -2 -6 11z"/>
<path fill="#0f0" d="M1214 1096l7 -4 -6 -1 -7 4zM1155 1104l7 -1 -6 -1 -7 1z"/>
<path fill="#ffd500" d="M1354 989l7 -14 -7 -2 -7 13z"/>
<path fill="#2aff00" d="M1280 1067l7 -8 -6 -2 -7 8z"/>
<path fill="#0f0" d="M1168 1103l7 -1 -6 -1 -7 2z"/>
<path fill="#40ff00" d="M1300 1052l7 -10 -6 -2 -7 10z"/>
<path fill="#0f0" d="M1227 1093l7 -5 -6 -1 -7 5z"/>
<path fill="#15ff00" d="M1260 1079l7 -6 -6 -2 -7 7z"/>
<path fill="#80ff00" d="M1320 1034l7 -10 -6 -3 -7 11z"/>
<path fill="#0f0" d="M1181 1102l7 -2 -6 -1 -7 3z"/>
<path fill="#ffea00" d="M1347 1002l7 -13 -7 -3 -6 14z"/>
<path fill="#f00" d="M1395 915l6 -17 -6 -3 -7 17z"/>
<path fill="#0f0" d="M1194 1101l7 -3 -6 -1 -7 3z"/>
<path fill="#ff1500" d="M1388 932l7 -17 -7 -3 -7 17z"/>
<path fill="#f00" d="M1401 898l7 -18 -6 -3 -7 18z"/>
<path fill="#0f0" d="M1240 1089l7 -5 -6 -1 -7 5z"/>
<path fill="#ff4000" d="M1381 948l7 -16 -7 -3 -7 16z"/>
<path fill="#eaff00" d="M1340 1014l7 -12 -6 -2 -7 12z"/>
<path fill="#f00" d="M1408 880l7 -19 -7 -4 -6 20z"/>
<path fill="#2aff00" d="M1294 1061l6 -9 -6 -2 -7 9z"/>
<path fill="#6aff00" d="M1314 1045l6 -11 -6 -2 -7 10z"/>
<path fill="#ff8000" d="M1374 963l7 -15 -7 -3 -6 16z"/>
<path fill="#15ff00" d="M1274 1074l6 -7 -6 -2 -7 8z"/>
<path fill="#f00" d="M1415 861l7 -20 -7 -4 -7 20z"/>
<path fill="#0f0" d="M1207 1099l7 -3 -6 -1 -7 3z"/>
<path fill="#fa0" d="M1367 978l7 -15 -6 -2 -7 14z"/>
<path fill="#bfff00" d="M1334 1026l6 -12 -6 -2 -7 12z"/>
<path fill="#0f0" d="M1254 1086l6 -7 -6 -1 -7 6zM1147 1104l8 0 -6 -1 -8 0zM1220 1097l7 -4 -6 -1 -7 4z"/>
<path fill="#ffd500" d="M1361 991l6 -13 -6 -3 -7 14z"/>
<path fill="#0f0" d="M1161 1104l7 -1 -6 0 -7 1z"/>
<path fill="#40ff00" d="M1307 1054l7 -9 -7 -3 -7 10z"/>
<path fill="#2aff00" d="M1287 1069l7 -8 -7 -2 -7 8z"/>
<path fill="#0f0" d="M1174 1104l7 -2 -6 0 -7 1z"/>
<path fill="#80ff00" d="M1327 1037l7 -11 -7 -2 -7 10z"/>
<path fill="#ffea00" d="M1354 1004l7 -13 -7 -2 -7 13z"/>
<path fill="#0f0" d="M1233 1094l7 -5 -6 -1 -7 5z"/>
<path fill="#15ff00" d="M1267 1081l7 -7 -7 -1 -7 6z"/>
<path fill="#0f0" d="M1187 1103l7 -2 -6 -1 -7 2z"/>
<path fill="#f00" d="M1401 918l7 -17 -7 -3 -6 17zM1408 901l7 -18 -7 -3 -7 18z"/>
<path fill="#ff1500" d="M1395 935l6 -17 -6 -3 -7 17z"/>
<path fill="#f00" d="M1415 883l7 -19 -7 -3 -7 19z"/>
<path fill="#ff4000" d="M1388 951l7 -16 -7 -3 -7 16z"/>
<path fill="#eaff00" d="M1347 1017l7 -13 -7 -2 -7 12z"/>
<path fill="#0f0" d="M1200 1102l7 -3 -6 -1 -7 3zM1247 1091l7 -5 -7 -2 -7 5z"/>
<path fill="#f00" d="M1422 864l7 -20 -7 -3 -7 20z"/>
<path fill="#2aff00" d="M1300 1063l7 -9 -7 -2 -6 9z"/>
<path fill="#ff8000" d="M1381 966l7 -15 -7 -3 -7 15z"/>
<path fill="#6aff00" d="M1320 1047l7 -10 -7 -3 -6 11z"/>
<path fill="#15ff00" d="M1280 1076l7 -7 -7 -2 -6 7z"/>
<path fill="#fa0" d="M1374 980l7 -14 -7 -3 -7 15z"/>
<path fill="#0f0" d="M1213 1100l7 -3 -6 -1 -7 3z"/>
<path fill="#bfff00" d="M1340 1028l7 -11 -7 -3 -6 12z"/>
<path fill="#15ff00" d="M1260 1087l7 -6 -7 -2 -6 7z"/>
<path fill="#ffd500" d="M1367 994l7 -14 -7 -2 -6 13z"/>
<path fill="#0f0" d="M1140 1103l7 1 -6 -1 -7 0zM1227 1098l6 -4 -6 -1 -7 4zM1153 1104l8 0 -6 0 -8 0z"/>
<path fill="#40ff00" d="M1313 1056l7 -9 -6 -2 -7 9z"/>
<path fill="#2aff00" d="M1293 1071l7 -8 -6 -2 -7 8z"/>
<path fill="#0f0" d="M1167 1104l7 0 -6 -1 -7 1z"/>
<path fill="#ffea00" d="M1361 1007l6 -13 -6 -3 -7 13z"/>
<path fill="#80ff00" d="M1334 1039l6 -11 -6 -2 -7 11z"/>
<path fill="#0f0" d="M1180 1104l7 -1 -6 -1 -7 2z"/>
<path fill="#15ff00" d="M1273 1083l7 -7 -6 -2 -7 7z"/>
<path fill="#0f0" d="M1240 1095l7 -4 -7 -2 -7 5z"/>
<path fill="#f00" d="M1408 921l7 -17 -7 -3 -7 17zM1415 904l7 -18 -7 -3 -7 18z"/>
<path fill="#ff1500" d="M1401 938l7 -17 -7 -3 -6 17z"/>
<path fill="#f00" d="M1422 886l7 -19 -7 -3 -7 19z"/>
<path fill="#f50" d="M1394 954l7 -16 -6 -3 -7 16z"/>
<path fill="#0f0" d="M1193 1104l7 -2 -6 -1 -7 2z"/>
<path fill="#f00" d="M1429 867l7 -20 -7 -3 -7 20z"/>
<path fill="#eaff00" d="M1354 1019l7 -12 -7 -3 -7 13z"/>
<path fill="#ff8000" d="M1388 969l6 -15 -6 -3 -7 15z"/>
<path fill="#2aff00" d="M1307 1065l6 -9 -6 -2 -7 9z"/>
<path fill="#0f0" d="M1253 1092l7 -5 -6 -1 -7 5zM1206 1103l7 -3 -6 -1 -7 3z"/>
<path fill="#6aff00" d="M1327 1049l7 -10 -7 -2 -7 10z"/>
<path fill="#fa0" d="M1381 983l7 -14 -7 -3 -7 14z"/>
<path fill="#15ff00" d="M1286 1078l7 -7 -6 -2 -7 7z"/>
<path fill="#bfff00" d="M1347 1030l7 -11 -7 -2 -7 11z"/>
<path fill="#0f0" d="M1220 1101l7 -3 -7 -1 -7 3z"/>
<path fill="#ffd500" d="M1374 997l7 -14 -7 -3 -7 14z"/>
<path fill="#15ff00" d="M1266 1088l7 -5 -6 -2 -7 6z"/>
<path fill="#0f0" d="M1133 1102l7 1 -6 0 -7 -1zM1233 1099l7 -4 -7 -1 -6 4zM1146 1103l7 1 -6 0 -7 -1z"/>
<path fill="#40ff00" d="M1320 1058l7 -9 -7 -2 -7 9z"/>
<path fill="#2aff00" d="M1300 1072l7 -7 -7 -2 -7 8z"/>
<path fill="#0f0" d="M1159 1104l8 0 -6 0 -8 0z"/>
<path fill="#ffea00" d="M1367 1009l7 -12 -7 -3 -6 13z"/>
<path fill="#80ff00" d="M1340 1041l7 -11 -7 -2 -6 11z"/>
<path fill="#f00" d="M1415 924l7 -17 -7 -3 -7 17zM1422 907l7 -18 -7 -3 -7 18z"/>
<path fill="#0f0" d="M1173 1105l7 -1 -6 0 -7 0z"/>
<path fill="#ff1500" d="M1408 941l7 -17 -7 -3 -7 17z"/>
<path fill="#f00" d="M1429 889l7 -19 -7 -3 -7 19z"/>
<path fill="#15ff00" d="M1280 1084l6 -6 -6 -2 -7 7z"/>
<path fill="#f50" d="M1401 957l7 -16 -7 -3 -7 16z"/>
<path fill="#0f0" d="M1246 1097l7 -5 -6 -1 -7 4zM1186 1105l7 -1 -6 -1 -7 1z"/>
<path fill="#f00" d="M1436 870l7 -20 -7 -3 -7 20z"/>
<path fill="#eaff00" d="M1360 1021l7 -12 -6 -2 -7 12z"/>
<path fill="#ff8000" d="M1394 972l7 -15 -7 -3 -6 15z"/>
<path fill="#0f0" d="M1199 1105l7 -2 -6 -1 -7 2z"/>
<path fill="#40ff00" d="M1313 1066l7 -8 -7 -2 -6 9z"/>
<path fill="#6aff00" d="M1333 1051l7 -10 -6 -2 -7 10z"/>
<path fill="#fa0" d="M1388 986l6 -14 -6 -3 -7 14z"/>
<path fill="#0f0" d="M1259 1094l7 -6 -6 -1 -7 5zM1213 1104l7 -3 -7 -1 -7 3z"/>
<path fill="#15ff00" d="M1293 1079l7 -7 -7 -1 -7 7z"/>
<path fill="#af0" d="M1354 1033l6 -12 -6 -2 -7 11z"/>
<path fill="#ffd500" d="M1381 999l7 -13 -7 -3 -7 14z"/>
<path fill="#0f0" d="M1226 1102l7 -3 -6 -1 -7 3z"/>
<path fill="#15ff00" d="M1273 1090l7 -6 -7 -1 -7 5z"/>
<path fill="#40ff00" d="M1327 1060l6 -9 -6 -2 -7 9z"/>
<path fill="#ffea00" d="M1374 1012l7 -13 -7 -2 -7 12z"/>
<path fill="#f00" d="M1429 910l7 -18 -7 -3 -7 18z"/>
<path fill="#0f0" d="M1239 1100l7 -3 -6 -2 -7 4z"/>
<path fill="#f00" d="M1422 927l7 -17 -7 -3 -7 17z"/>
<path fill="#2aff00" d="M1306 1074l7 -8 -6 -1 -7 7z"/>
<path fill="#f00" d="M1436 892l7 -19 -7 -3 -7 19z"/>
<path fill="#0f0" d="M1139 1102l7 1 -6 0 -7 -1z"/>
<path fill="#80ff00" d="M1347 1043l7 -10 -7 -3 -7 11z"/>
<path fill="#ff2a00" d="M1415 944l7 -17 -7 -3 -7 17z"/>
<path fill="#0f0" d="M1125 1099l8 3 -6 0 -8 -3zM1152 1103l7 1 -6 0 -7 -1zM1165 1105l8 0 -6 -1 -8 0z"/>
<path fill="#f00" d="M1443 873l7 -19 -7 -4 -7 20z"/>
<path fill="#f50" d="M1408 960l7 -16 -7 -3 -7 16z"/>
<path fill="#0f0" d="M1179 1105l7 0 -6 -1 -7 1z"/>
<path fill="#15ff00" d="M1286 1086l7 -7 -7 -1 -6 6z"/>
<path fill="#0f0" d="M1252 1098l7 -4 -6 -2 -7 5z"/>
<path fill="#ff8000" d="M1401 975l7 -15 -7 -3 -7 15z"/>
<path fill="#eaff00" d="M1367 1024l7 -12 -7 -3 -7 12z"/>
<path fill="#0f0" d="M1192 1106l7 -1 -6 -1 -7 1z"/>
<path fill="#fa0" d="M1394 989l7 -14 -7 -3 -6 14z"/>
<path fill="#0f0" d="M1205 1105l8 -1 -7 -1 -7 2z"/>
<path fill="#40ff00" d="M1320 1068l7 -8 -7 -2 -7 8z"/>
<path fill="#6aff00" d="M1340 1053l7 -10 -7 -2 -7 10z"/>
<path fill="#0f0" d="M1266 1095l7 -5 -7 -2 -7 6z"/>
<path fill="#2aff00" d="M1300 1081l6 -7 -6 -2 -7 7z"/>
<path fill="#0f0" d="M1219 1105l7 -3 -6 -1 -7 3z"/>
<path fill="#af0" d="M1360 1035l7 -11 -7 -3 -6 12z"/>
<path fill="#ffd500" d="M1388 1002l6 -13 -6 -3 -7 13z"/>
<path fill="#0f0" d="M1232 1103l7 -3 -6 -1 -7 3z"/>
<path fill="#15ff00" d="M1279 1092l7 -6 -6 -2 -7 6z"/>
<path fill="#f00" d="M1436 913l7 -17 -7 -4 -7 18zM1429 931l7 -18 -7 -3 -7 17z"/>
<path fill="#ffea00" d="M1381 1015l7 -13 -7 -3 -7 13z"/>
<path fill="#f00" d="M1443 896l7 -19 -7 -4 -7 19z"/>
<path fill="#40ff00" d="M1333 1062l7 -9 -7 -2 -6 9z"/>
<path fill="#ff2a00" d="M1422 947l7 -16 -7 -4 -7 17z"/>
<path fill="#2aff00" d="M1313 1076l7 -8 -7 -2 -7 8z"/>
<path fill="#f00" d="M1450 877l7 -20 -7 -3 -7 19z"/>
<path fill="#80ff00" d="M1354 1046l6 -11 -6 -2 -7 10z"/>
<path fill="#0f0" d="M1246 1102l6 -4 -6 -1 -7 3z"/>
<path fill="#f50" d="M1415 963l7 -16 -7 -3 -7 16z"/>
<path fill="#0f0" d="M1145 1102l7 1 -6 0 -7 -1zM1131 1099l8 3 -6 0 -8 -3zM1158 1104l7 1 -6 -1 -7 -1z"/>
<path fill="#ff8000" d="M1408 977l7 -14 -7 -3 -7 15z"/>
<path fill="#0f0" d="M1118 1096l7 3 -6 0 -7 -2zM1172 1105l7 0 -6 0 -8 0z"/>
<path fill="#15ff00" d="M1293 1088l7 -7 -7 -2 -7 7z"/>
<path fill="#eaff00" d="M1374 1027l7 -12 -7 -3 -7 12z"/>
<path fill="#0f0" d="M1185 1106l7 0 -6 -1 -7 0zM1259 1099l7 -4 -7 -1 -7 4z"/>
<path fill="#fa0" d="M1401 991l7 -14 -7 -2 -7 14z"/>
<path fill="#0f0" d="M1198 1106l7 -1 -6 0 -7 1z"/>
<path fill="#6aff00" d="M1347 1055l7 -9 -7 -3 -7 10z"/>
<path fill="#40ff00" d="M1326 1070l7 -8 -6 -2 -7 8z"/>
<path fill="#0f0" d="M1212 1106l7 -1 -6 -1 -8 1z"/>
<path fill="#15ff00" d="M1272 1096l7 -4 -6 -2 -7 5z"/>
<path fill="#af0" d="M1367 1038l7 -11 -7 -3 -7 11z"/>
<path fill="#2aff00" d="M1306 1083l7 -7 -7 -2 -6 7z"/>
<path fill="#ffd500" d="M1394 1005l7 -14 -7 -2 -6 13z"/>
<path fill="#0f0" d="M1225 1106l7 -3 -6 -1 -7 3z"/>
<path fill="#f00" d="M1443 917l7 -18 -7 -3 -7 17zM1436 934l7 -17 -7 -4 -7 18zM1450 899l7 -19 -7 -3 -7 19z"/>
<path fill="#0f0" d="M1239 1104l7 -2 -7 -2 -7 3z"/>
<path fill="#ff2a00" d="M1429 950l7 -16 -7 -3 -7 16z"/>
<path fill="#ffea00" d="M1388 1017l6 -12 -6 -3 -7 13z"/>
<path fill="#15ff00" d="M1286 1093l7 -5 -7 -2 -7 6z"/>
<path fill="#f00" d="M1457 880l7 -19 -7 -4 -7 20z"/>
<path fill="#40ff00" d="M1340 1064l7 -9 -7 -2 -7 9z"/>
<path fill="#f50" d="M1422 966l7 -16 -7 -3 -7 16z"/>
<path fill="#80ff00" d="M1360 1048l7 -10 -7 -3 -6 11z"/>
<path fill="#2aff00" d="M1320 1078l6 -8 -6 -2 -7 8z"/>
<path fill="#0f0" d="M1252 1103l7 -4 -7 -1 -6 4z"/>
<path fill="#ff8000" d="M1415 980l7 -14 -7 -3 -7 14z"/>
<path fill="#eaff00" d="M1381 1029l7 -12 -7 -2 -7 12z"/>
<path fill="#15ff00" d="M1299 1089l7 -6 -6 -2 -7 7z"/>
<path fill="#0f0" d="M1151 1102l7 2 -6 -1 -7 -1zM1164 1104l8 1 -7 0 -7 -1zM1137 1099l8 3 -6 0 -8 -3zM1178 1105l7 1 -6 -1 -7 0z"/>
<path fill="#fa0" d="M1408 994l7 -14 -7 -3 -7 14z"/>
<path fill="#0f0" d="M1124 1096l7 3 -6 0 -7 -3zM1265 1101l7 -5 -6 -1 -7 4zM1191 1106l7 0 -6 0 -7 0z"/>
<path fill="#15ff00" d="M1110 1093l8 3 -6 1 -8 -4z"/>
<path fill="#6aff00" d="M1354 1058l6 -10 -6 -2 -7 9z"/>
<path fill="#40ff00" d="M1333 1073l7 -9 -7 -2 -7 8z"/>
<path fill="#0f0" d="M1205 1107l7 -1 -7 -1 -7 1z"/>
<path fill="#ffd500" d="M1401 1007l7 -13 -7 -3 -7 14z"/>
<path fill="#af0" d="M1374 1040l7 -11 -7 -2 -7 11z"/>
<path fill="#0f0" d="M1218 1107l7 -1 -6 -1 -7 1z"/>
<path fill="#2aff00" d="M1313 1085l7 -7 -7 -2 -7 7z"/>
<path fill="#15ff00" d="M1279 1098l7 -5 -7 -1 -7 4z"/>
<path fill="#f00" d="M1450 920l7 -18 -7 -3 -7 18zM1457 902l7 -18 -7 -4 -7 19zM1443 937l7 -17 -7 -3 -7 17z"/>
<path fill="#0f0" d="M1231 1106l8 -2 -7 -1 -7 3z"/>
<path fill="#f00" d="M1464 884l7 -20 -7 -3 -7 19z"/>
<path fill="#ff2a00" d="M1436 953l7 -16 -7 -3 -7 16z"/>
<path fill="#ffea00" d="M1394 1020l7 -13 -7 -2 -6 12z"/>
<path fill="#f50" d="M1429 969l7 -16 -7 -3 -7 16z"/>
<path fill="#40ff00" d="M1347 1066l7 -8 -7 -3 -7 9z"/>
<path fill="#15ff00" d="M1292 1095l7 -6 -6 -1 -7 5z"/>
<path fill="#0f0" d="M1245 1105l7 -2 -6 -1 -7 2z"/>
<path fill="#80ff00" d="M1367 1050l7 -10 -7 -2 -7 10z"/>
<path fill="#2aff00" d="M1326 1080l7 -7 -7 -3 -6 8z"/>
<path fill="#ff9500" d="M1422 983l7 -14 -7 -3 -7 14z"/>
<path fill="#0f0" d="M1258 1104l7 -3 -6 -2 -7 4z"/>
<path fill="#eaff00" d="M1388 1032l6 -12 -6 -3 -7 12z"/>
<path fill="#fa0" d="M1415 997l7 -14 -7 -3 -7 14z"/>
<path fill="#15ff00" d="M1306 1091l7 -6 -7 -2 -7 6z"/>
<path fill="#0f0" d="M1157 1102l7 2 -6 0 -7 -2zM1170 1104l8 1 -6 0 -8 -1zM1272 1102l7 -4 -7 -2 -7 5zM1143 1099l8 3 -6 0 -8 -3zM1184 1106l7 0 -6 0 -7 -1z"/>
<path fill="#6aff00" d="M1360 1060l7 -10 -7 -2 -6 10z"/>
<path fill="#40ff00" d="M1340 1075l7 -9 -7 -2 -7 9z"/>
<path fill="#15ff00" d="M1130 1096l7 3 -6 0 -7 -3z"/>
<path fill="#0f0" d="M1197 1107l8 0 -7 -1 -7 0z"/>
<path fill="#ffd500" d="M1408 1010l7 -13 -7 -3 -7 13z"/>
<path fill="#af0" d="M1381 1043l7 -11 -7 -3 -7 11z"/>
<path fill="#15ff00" d="M1116 1092l8 4 -6 0 -8 -3z"/>
<path fill="#0f0" d="M1211 1108l7 -1 -6 -1 -7 1z"/>
<path fill="#f00" d="M1457 923l7 -17 -7 -4 -7 18zM1464 906l7 -19 -7 -3 -7 18z"/>
<path fill="#2aff00" d="M1319 1087l7 -7 -6 -2 -7 7z"/>
<path fill="#f00" d="M1450 940l7 -17 -7 -3 -7 17z"/>
<path fill="#15ff00" d="M1285 1099l7 -4 -6 -2 -7 5zM1103 1088l7 5 -6 0 -7 -4z"/>
<path fill="#0f0" d="M1224 1108l7 -2 -6 0 -7 1z"/>
<path fill="#f00" d="M1471 887l7 -19 -7 -4 -7 20z"/>
<path fill="#ff2a00" d="M1443 956l7 -16 -7 -3 -7 16z"/>
<path fill="#ffea00" d="M1401 1023l7 -13 -7 -3 -7 13z"/>
<path fill="#0f0" d="M1238 1107l7 -2 -6 -1 -8 2z"/>
<path fill="#ff6a00" d="M1436 972l7 -16 -7 -3 -7 16z"/>
<path fill="#40ff00" d="M1353 1069l7 -9 -6 -2 -7 8z"/>
<path fill="#80ff00" d="M1374 1053l7 -10 -7 -3 -7 10z"/>
<path fill="#15ff00" d="M1299 1096l7 -5 -7 -2 -7 6z"/>
<path fill="#ff9500" d="M1429 986l7 -14 -7 -3 -7 14z"/>
<path fill="#0f0" d="M1251 1107l7 -3 -6 -1 -7 2z"/>
<path fill="#2aff00" d="M1333 1082l7 -7 -7 -2 -7 7z"/>
<path fill="#eaff00" d="M1395 1034l6 -11 -7 -3 -6 12z"/>
<path fill="#0f0" d="M1265 1105l7 -3 -7 -1 -7 3z"/>
<path fill="#ffbf00" d="M1422 1000l7 -14 -7 -3 -7 14z"/>
<path fill="#15ff00" d="M1313 1093l6 -6 -6 -2 -7 6z"/>
<path fill="#6aff00" d="M1367 1062l7 -9 -7 -3 -7 10z"/>
<path fill="#0f0" d="M1278 1103l7 -4 -6 -1 -7 4z"/>
<path fill="#40ff00" d="M1347 1077l6 -8 -6 -3 -7 9z"/>
<path fill="#ffd500" d="M1415 1013l7 -13 -7 -3 -7 13z"/>
<path fill="#0f0" d="M1177 1104l7 2 -6 -1 -8 -1zM1163 1102l7 2 -6 0 -7 -2z"/>
<path fill="#af0" d="M1388 1045l7 -11 -7 -2 -7 11z"/>
<path fill="#0f0" d="M1190 1106l7 1 -6 -1 -7 0z"/>
<path fill="#f00" d="M1464 927l7 -18 -7 -3 -7 17zM1471 909l7 -19 -7 -3 -7 19z"/>
<path fill="#15ff00" d="M1150 1099l7 3 -6 0 -8 -3z"/>
<path fill="#f00" d="M1457 943l7 -16 -7 -4 -7 17z"/>
<path fill="#0f0" d="M1204 1108l7 0 -6 -1 -8 0z"/>
<path fill="#f00" d="M1478 890l7 -19 -7 -3 -7 19z"/>
<path fill="#15ff00" d="M1136 1096l7 3 -6 0 -7 -3z"/>
<path fill="#ff4000" d="M1450 959l7 -16 -7 -3 -7 16z"/>
<path fill="#0f0" d="M1217 1108l7 0 -6 -1 -7 1z"/>
<path fill="#2aff00" d="M1326 1089l7 -7 -7 -2 -7 7z"/>
<path fill="#15ff00" d="M1122 1092l8 4 -6 0 -8 -4zM1292 1101l7 -5 -7 -1 -7 4z"/>
<path fill="#ff0" d="M1408 1025l7 -12 -7 -3 -7 13z"/>
<path fill="#0f0" d="M1231 1109l7 -2 -7 -1 -7 2z"/>
<path fill="#ff6a00" d="M1443 975l7 -16 -7 -3 -7 16z"/>
<path fill="#15ff00" d="M1109 1088l7 4 -6 1 -7 -5z"/>
<path fill="#0f0" d="M1244 1108l7 -1 -6 -2 -7 2z"/>
<path fill="#40ff00" d="M1360 1071l7 -9 -7 -2 -7 9z"/>
<path fill="#80ff00" d="M1381 1055l7 -10 -7 -2 -7 10z"/>
<path fill="#ff9500" d="M1436 989l7 -14 -7 -3 -7 14z"/>
<path fill="#2aff00" d="M1095 1083l8 5 -6 1 -8 -6z"/>
<path fill="#15ff00" d="M1306 1098l7 -5 -7 -2 -7 5z"/>
<path fill="#2aff00" d="M1340 1084l7 -7 -7 -2 -7 7z"/>
<path fill="#0f0" d="M1258 1108l7 -3 -7 -1 -7 3z"/>
<path fill="#d5ff00" d="M1401 1037l7 -12 -7 -2 -6 11z"/>
<path fill="#ffbf00" d="M1429 1003l7 -14 -7 -3 -7 14z"/>
<path fill="#0f0" d="M1271 1106l7 -3 -6 -1 -7 3z"/>
<path fill="#15ff00" d="M1319 1095l7 -6 -7 -2 -6 6z"/>
<path fill="#6aff00" d="M1374 1065l7 -10 -7 -2 -7 9z"/>
<path fill="#ffd500" d="M1422 1016l7 -13 -7 -3 -7 13z"/>
<path fill="#f00" d="M1478 912l7 -18 -7 -4 -7 19zM1471 930l7 -18 -7 -3 -7 18z"/>
<path fill="#40ff00" d="M1353 1079l7 -8 -7 -2 -6 8z"/>
<path fill="#f00" d="M1485 894l7 -19 -7 -4 -7 19zM1464 947l7 -17 -7 -3 -7 16z"/>
<path fill="#af0" d="M1395 1048l6 -11 -6 -3 -7 11z"/>
<path fill="#15ff00" d="M1285 1105l7 -4 -7 -2 -7 4z"/>
<path fill="#ff4000" d="M1457 963l7 -16 -7 -4 -7 16z"/>
<path fill="#0f0" d="M1183 1105l7 1 -6 0 -7 -2zM1196 1107l8 1 -7 -1 -7 -1z"/>
<path fill="#15ff00" d="M1169 1102l8 2 -7 0 -7 -2z"/>
<path fill="#0f0" d="M1210 1108l7 0 -6 0 -7 0z"/>
<path fill="#15ff00" d="M1156 1099l7 3 -6 0 -7 -3z"/>
<path fill="#2aff00" d="M1333 1091l7 -7 -7 -2 -7 7z"/>
<path fill="#ff6a00" d="M1450 978l7 -15 -7 -4 -7 16z"/>
<path fill="#ff0" d="M1415 1028l7 -12 -7 -3 -7 12z"/>
<path fill="#0f0" d="M1224 1109l7 0 -7 -1 -7 0z"/>
<path fill="#15ff00" d="M1142 1096l8 3 -7 0 -7 -3zM1299 1102l7 -4 -7 -2 -7 5z"/>
<path fill="#0f0" d="M1237 1110l7 -2 -6 -1 -7 2z"/>
<path fill="#15ff00" d="M1128 1092l8 4 -6 0 -8 -4z"/>
<path fill="#ff9500" d="M1443 992l7 -14 -7 -3 -7 14z"/>
<path fill="#40ff00" d="M1367 1073l7 -8 -7 -3 -7 9z"/>
<path fill="#80ff00" d="M1388 1058l7 -10 -7 -3 -7 10z"/>
<path fill="#0f0" d="M1251 1109l7 -1 -7 -1 -7 1z"/>
<path fill="#2aff00" d="M1115 1087l7 5 -6 0 -7 -4z"/>
<path fill="#15ff00" d="M1312 1100l7 -5 -6 -2 -7 5z"/>
<path fill="#2aff00" d="M1347 1086l6 -7 -6 -2 -7 7z"/>
<path fill="#d5ff00" d="M1408 1040l7 -12 -7 -3 -7 12z"/>
<path fill="#ffbf00" d="M1436 1006l7 -14 -7 -3 -7 14z"/>
<path fill="#0f0" d="M1264 1109l7 -3 -6 -1 -7 3z"/>
<path fill="#2aff00" d="M1101 1082l8 6 -6 0 -8 -5z"/>
<path fill="#0f0" d="M1278 1108l7 -3 -7 -2 -7 3z"/>
<path fill="#f00" d="M1485 916l7 -18 -7 -4 -7 18z"/>
<path fill="#40ff00" d="M1087 1077l8 6 -6 0 -8 -6z"/>
<path fill="#f00" d="M1478 933l7 -17 -7 -4 -7 18z"/>
<path fill="#15ff00" d="M1326 1096l7 -5 -7 -2 -7 6z"/>
<path fill="#ffd500" d="M1429 1019l7 -13 -7 -3 -7 13z"/>
<path fill="#f00" d="M1492 898l7 -20 -7 -3 -7 19z"/>
<path fill="#6aff00" d="M1381 1067l7 -9 -7 -3 -7 10z"/>
<path fill="#f00" d="M1471 950l7 -17 -7 -3 -7 17z"/>
<path fill="#af0" d="M1402 1050l6 -10 -7 -3 -6 11z"/>
<path fill="#40ff00" d="M1360 1081l7 -8 -7 -2 -7 8z"/>
<path fill="#ff4000" d="M1464 966l7 -16 -7 -3 -7 16z"/>
<path fill="#15ff00" d="M1292 1106l7 -4 -7 -1 -7 4z"/>
<path fill="#ff6a00" d="M1457 981l7 -15 -7 -3 -7 15z"/>
<path fill="#ff0" d="M1422 1031l7 -12 -7 -3 -7 12z"/>
<path fill="#2aff00" d="M1340 1092l7 -6 -7 -2 -7 7z"/>
<path fill="#15ff00" d="M1189 1105l7 2 -6 -1 -7 -1z"/>
<path fill="#0f0" d="M1203 1107l7 1 -6 0 -8 -1z"/>
<path fill="#15ff00" d="M1176 1102l7 3 -6 -1 -8 -2z"/>
<path fill="#0f0" d="M1216 1109l8 0 -7 -1 -7 0z"/>
<path fill="#15ff00" d="M1305 1104l7 -4 -6 -2 -7 4zM1162 1099l7 3 -6 0 -7 -3z"/>
<path fill="#ff9500" d="M1450 995l7 -14 -7 -3 -7 14z"/>
<path fill="#0f0" d="M1230 1110l7 0 -6 -1 -7 0z"/>
<path fill="#15ff00" d="M1148 1096l8 3 -6 0 -8 -3z"/>
<path fill="#80ff00" d="M1395 1060l7 -10 -7 -2 -7 10z"/>
<path fill="#40ff00" d="M1374 1075l7 -8 -7 -2 -7 8z"/>
<path fill="#0f0" d="M1244 1110l7 -1 -7 -1 -7 2z"/>
<path fill="#2aff00" d="M1134 1091l8 5 -6 0 -8 -4z"/>
<path fill="#d5ff00" d="M1415 1042l7 -11 -7 -3 -7 12z"/>
<path fill="#ffbf00" d="M1443 1009l7 -14 -7 -3 -7 14z"/>
<path fill="#0f0" d="M1257 1111l7 -2 -6 -1 -7 1z"/>
<path fill="#2aff00" d="M1353 1088l7 -7 -7 -2 -6 7z"/>
<path fill="#15ff00" d="M1319 1101l7 -5 -7 -1 -7 5z"/>
<path fill="#2aff00" d="M1121 1087l7 5 -6 0 -7 -5z"/>
<path fill="#0f0" d="M1271 1110l7 -2 -7 -2 -7 3z"/>
<path fill="#f00" d="M1492 919l7 -18 -7 -3 -7 18zM1485 937l7 -18 -7 -3 -7 17zM1499 901l7 -19 -7 -4 -7 20z"/>
<path fill="#ff1500" d="M1478 953l7 -16 -7 -4 -7 17z"/>
<path fill="#2aff00" d="M1107 1082l8 5 -6 1 -8 -6z"/>
<path fill="#ffd500" d="M1436 1022l7 -13 -7 -3 -7 13z"/>
<path fill="#15ff00" d="M1333 1098l7 -6 -7 -1 -7 5z"/>
<path fill="#6aff00" d="M1388 1069l7 -9 -7 -2 -7 9z"/>
<path fill="#15ff00" d="M1285 1109l7 -3 -7 -1 -7 3z"/>
<path fill="#ff4000" d="M1471 969l7 -16 -7 -3 -7 16z"/>
<path fill="#af0" d="M1409 1053l6 -11 -7 -2 -6 10z"/>
<path fill="#40ff00" d="M1367 1083l7 -8 -7 -2 -7 8zM1093 1076l8 6 -6 1 -8 -6z"/>
<path fill="#ff6a00" d="M1464 984l7 -15 -7 -3 -7 15z"/>
<path fill="#15ff00" d="M1298 1108l7 -4 -6 -2 -7 4z"/>
<path fill="#ff0" d="M1429 1034l7 -12 -7 -3 -7 12z"/>
<path fill="#2aff00" d="M1347 1094l6 -6 -6 -2 -7 6z"/>
<path fill="#5f0" d="M1079 1069l8 8 -6 0 -7 -7z"/>
<path fill="#ff9500" d="M1457 999l7 -15 -7 -3 -7 14z"/>
<path fill="#15ff00" d="M1312 1106l7 -5 -7 -1 -7 4zM1209 1108l7 1 -6 -1 -7 -1zM1196 1105l7 2 -7 0 -7 -2zM1223 1109l7 1 -6 -1 -8 0zM1182 1103l7 2 -6 0 -7 -3z"/>
<path fill="#80ff00" d="M1402 1063l7 -10 -7 -3 -7 10z"/>
<path fill="#40ff00" d="M1381 1078l7 -9 -7 -2 -7 8z"/>
<path fill="#0f0" d="M1237 1111l7 -1 -7 0 -7 0z"/>
<path fill="#15ff00" d="M1168 1099l8 3 -7 0 -7 -3z"/>
<path fill="#ffbf00" d="M1450 1012l7 -13 -7 -4 -7 14z"/>
<path fill="#d5ff00" d="M1423 1045l6 -11 -7 -3 -7 11z"/>
<path fill="#0f0" d="M1250 1111l7 0 -6 -2 -7 1z"/>
<path fill="#15ff00" d="M1154 1096l8 3 -6 0 -8 -3z"/>
<path fill="#2aff00" d="M1360 1090l7 -7 -7 -2 -7 7z"/>
<path fill="#15ff00" d="M1326 1103l7 -5 -7 -2 -7 5z"/>
<path fill="#0f0" d="M1264 1112l7 -2 -7 -1 -7 2z"/>
<path fill="#f00" d="M1500 923l7 -18 -8 -4 -7 18z"/>
<path fill="#2aff00" d="M1141 1091l7 5 -6 0 -8 -5z"/>
<path fill="#f00" d="M1492 940l8 -17 -8 -4 -7 18zM1507 905l7 -19 -8 -4 -7 19z"/>
<path fill="#ff1500" d="M1485 957l7 -17 -7 -3 -7 16z"/>
<path fill="#15ff00" d="M1278 1111l7 -2 -7 -1 -7 2z"/>
<path fill="#ffea00" d="M1443 1025l7 -13 -7 -3 -7 13z"/>
<path fill="#2aff00" d="M1127 1086l7 5 -6 1 -7 -5z"/>
<path fill="#ff4000" d="M1478 973l7 -16 -7 -4 -7 16z"/>
<path fill="#6aff00" d="M1395 1072l7 -9 -7 -3 -7 9z"/>
<path fill="#2aff00" d="M1340 1100l7 -6 -7 -2 -7 6z"/>
<path fill="#af0" d="M1416 1056l7 -11 -8 -3 -6 11z"/>
<path fill="#15ff00" d="M1291 1110l7 -2 -6 -2 -7 3z"/>
<path fill="#40ff00" d="M1113 1081l8 6 -6 0 -8 -5zM1374 1085l7 -7 -7 -3 -7 8z"/>
<path fill="#ff6a00" d="M1471 988l7 -15 -7 -4 -7 15z"/>
<path fill="#ff0" d="M1437 1037l6 -12 -7 -3 -7 12z"/>
<path fill="#15ff00" d="M1305 1109l7 -3 -7 -2 -7 4z"/>
<path fill="#40ff00" d="M1099 1075l8 7 -6 0 -8 -6z"/>
<path fill="#ff9500" d="M1464 1002l7 -14 -7 -4 -7 15z"/>
<path fill="#2aff00" d="M1353 1096l7 -6 -7 -2 -6 6z"/>
<path fill="#80ff00" d="M1409 1065l7 -9 -7 -3 -7 10z"/>
<path fill="#15ff00" d="M1319 1107l7 -4 -7 -2 -7 5z"/>
<path fill="#40ff00" d="M1388 1080l7 -8 -7 -3 -7 9z"/>
<path fill="#5f0" d="M1085 1069l8 7 -6 1 -8 -8z"/>
<path fill="#ffbf00" d="M1458 1015l6 -13 -7 -3 -7 13z"/>
<path fill="#15ff00" d="M1216 1108l7 1 -7 0 -7 -1zM1202 1106l7 2 -6 -1 -7 -2zM1229 1110l8 1 -7 -1 -7 -1z"/>
<path fill="#d5ff00" d="M1430 1048l7 -11 -8 -3 -6 11z"/>
<path fill="#15ff00" d="M1188 1103l8 2 -7 0 -7 -2zM1243 1112l7 -1 -6 -1 -7 1z"/>
<path fill="#f00" d="M1507 927l7 -19 -7 -3 -7 18zM1514 908l7 -18 -7 -4 -7 19z"/>
<path fill="#15ff00" d="M1174 1099l8 4 -6 -1 -8 -3z"/>
<path fill="#f00" d="M1500 944l7 -17 -7 -4 -8 17z"/>
<path fill="#15ff00" d="M1257 1112l7 0 -7 -1 -7 0z"/>
<path fill="#2aff00" d="M1367 1092l7 -7 -7 -2 -7 7z"/>
<path fill="#15ff00" d="M1333 1105l7 -5 -7 -2 -7 5z"/>
<path fill="#ff1500" d="M1493 960l7 -16 -8 -4 -7 17z"/>
<path fill="#2aff00" d="M1161 1095l7 4 -6 0 -8 -3z"/>
<path fill="#6aff00" d="M1071 1062l8 7 -5 1 -8 -7z"/>
<path fill="#15ff00" d="M1271 1113l7 -2 -7 -1 -7 2z"/>
<path fill="#ffea00" d="M1451 1028l7 -13 -8 -3 -7 13z"/>
<path fill="#f50" d="M1486 976l7 -16 -8 -3 -7 16z"/>
<path fill="#2aff00" d="M1147 1091l7 5 -6 0 -7 -5z"/>
<path fill="#15ff00" d="M1284 1113l7 -3 -6 -1 -7 2z"/>
<path fill="#6aff00" d="M1402 1074l7 -9 -7 -2 -7 9z"/>
<path fill="#af0" d="M1423 1058l7 -10 -7 -3 -7 11z"/>
<path fill="#ff8000" d="M1479 991l7 -15 -8 -3 -7 15z"/>
<path fill="#2aff00" d="M1346 1102l7 -6 -6 -2 -7 6zM1133 1086l8 5 -7 0 -7 -5z"/>
<path fill="#40ff00" d="M1381 1088l7 -8 -7 -2 -7 7z"/>
<path fill="#15ff00" d="M1298 1112l7 -3 -7 -1 -7 2z"/>
<path fill="#ff0" d="M1444 1040l7 -12 -8 -3 -6 12z"/>
<path fill="#fa0" d="M1472 1005l7 -14 -8 -3 -7 14z"/>
<path fill="#40ff00" d="M1119 1080l8 6 -6 1 -8 -6z"/>
<path fill="#15ff00" d="M1312 1111l7 -4 -7 -1 -7 3z"/>
<path fill="#2aff00" d="M1360 1099l7 -7 -7 -2 -7 6z"/>
<path fill="#80ff00" d="M1416 1068l7 -10 -7 -2 -7 9z"/>
<path fill="#5f0" d="M1105 1074l8 7 -6 1 -8 -7z"/>
<path fill="#ffbf00" d="M1465 1018l7 -13 -8 -3 -6 13z"/>
<path fill="#40ff00" d="M1395 1083l7 -9 -7 -2 -7 8z"/>
<path fill="#15ff00" d="M1326 1109l7 -4 -7 -2 -7 4z"/>
<path fill="#d5ff00" d="M1437 1051l7 -11 -7 -3 -7 11z"/>
<path fill="#f00" d="M1514 930l7 -18 -7 -4 -7 19zM1521 912l7 -19 -7 -3 -7 18zM1507 947l7 -17 -7 -3 -7 17z"/>
<path fill="#15ff00" d="M1222 1109l7 1 -6 -1 -7 -1z"/>
<path fill="#ff2a00" d="M1500 964l7 -17 -7 -3 -7 16z"/>
<path fill="#15ff00" d="M1236 1111l7 1 -6 -1 -8 -1zM1208 1106l8 2 -7 0 -7 -2z"/>
<path fill="#6aff00" d="M1091 1068l8 7 -6 1 -8 -7z"/>
<path fill="#2aff00" d="M1374 1095l7 -7 -7 -3 -7 7z"/>
<path fill="#15ff00" d="M1250 1112l7 0 -7 -1 -7 1zM1195 1103l7 3 -6 -1 -8 -2z"/>
<path fill="#ffea00" d="M1458 1031l7 -13 -7 -3 -7 13z"/>
<path fill="#15ff00" d="M1264 1113l7 0 -7 -1 -7 0zM1340 1107l6 -5 -6 -2 -7 5z"/>
<path fill="#f50" d="M1493 979l7 -15 -7 -4 -7 16z"/>
<path fill="#2aff00" d="M1181 1100l7 3 -6 0 -8 -4z"/>
<path fill="#15ff00" d="M1277 1114l7 -1 -6 -2 -7 2z"/>
<path fill="#2aff00" d="M1167 1095l7 4 -6 0 -7 -4z"/>
<path fill="#5f0" d="M1409 1077l7 -9 -7 -3 -7 9z"/>
<path fill="#ff8000" d="M1486 994l7 -15 -7 -3 -7 15z"/>
<path fill="#af0" d="M1430 1061l7 -10 -7 -3 -7 10z"/>
<path fill="#80ff00" d="M1077 1060l8 9 -6 0 -8 -7z"/>
<path fill="#15ff00" d="M1291 1114l7 -2 -7 -2 -7 3z"/>
<path fill="#2aff00" d="M1153 1091l8 4 -7 1 -7 -5zM1353 1104l7 -5 -7 -3 -7 6z"/>
<path fill="#40ff00" d="M1388 1090l7 -7 -7 -3 -7 8z"/>
<path fill="#ff0" d="M1451 1043l7 -12 -7 -3 -7 12z"/>
<path fill="#15ff00" d="M1305 1113l7 -2 -7 -2 -7 3z"/>
<path fill="#fa0" d="M1479 1008l7 -14 -7 -3 -7 14z"/>
<path fill="#40ff00" d="M1139 1086l8 5 -6 0 -8 -5z"/>
<path fill="#af0" d="M1063 1053l8 9 -5 1 -9 -9z"/>
<path fill="#15ff00" d="M1319 1112l7 -3 -7 -2 -7 4z"/>
<path fill="#2aff00" d="M1367 1101l7 -6 -7 -3 -7 7z"/>
<path fill="#40ff00" d="M1125 1080l8 6 -6 0 -8 -6z"/>
<path fill="#80ff00" d="M1423 1071l7 -10 -7 -3 -7 10z"/>
<path fill="#ffd500" d="M1472 1021l7 -13 -7 -3 -7 13z"/>
<path fill="#f00" d="M1522 934l7 -18 -8 -4 -7 18zM1529 916l7 -19 -8 -4 -7 19zM1514 951l8 -17 -8 -4 -7 17z"/>
<path fill="#40ff00" d="M1402 1085l7 -8 -7 -3 -7 9z"/>
<path fill="#d5ff00" d="M1444 1054l7 -11 -7 -3 -7 11z"/>
<path fill="#15ff00" d="M1333 1111l7 -4 -7 -2 -7 4z"/>
<path fill="#ff2a00" d="M1507 967l7 -16 -7 -4 -7 17z"/>
<path fill="#5f0" d="M1111 1074l8 6 -6 1 -8 -7z"/>
<path fill="#f50" d="M1500 983l7 -16 -7 -3 -7 15z"/>
<path fill="#2aff00" d="M1381 1097l7 -7 -7 -2 -7 7z"/>
<path fill="#ffea00" d="M1465 1034l7 -13 -7 -3 -7 13z"/>
<path fill="#15ff00" d="M1229 1109l7 2 -7 -1 -7 -1zM1243 1112l7 0 -7 0 -7 -1zM1215 1107l7 2 -6 -1 -8 -2zM1256 1113l8 0 -7 -1 -7 0zM1346 1109l7 -5 -7 -2 -6 5z"/>
<path fill="#2aff00" d="M1201 1103l7 3 -6 0 -7 -3z"/>
<path fill="#15ff00" d="M1270 1114l7 0 -6 -1 -7 0z"/>
<path fill="#ff8000" d="M1493 998l7 -15 -7 -4 -7 15z"/>
<path fill="#6aff00" d="M1097 1067l8 7 -6 1 -8 -7z"/>
<path fill="#95ff00" d="M1437 1064l7 -10 -7 -3 -7 10z"/>
<path fill="#2aff00" d="M1187 1100l8 3 -7 0 -7 -3z"/>
<path fill="#5f0" d="M1416 1079l7 -8 -7 -3 -7 9z"/>
<path fill="#15ff00" d="M1284 1115l7 -1 -7 -1 -7 1z"/>
<path fill="#2aff00" d="M1173 1095l8 5 -7 -1 -7 -4z"/>
<path fill="#15ff00" d="M1298 1115l7 -2 -7 -1 -7 2z"/>
<path fill="#ff0" d="M1458 1046l7 -12 -7 -3 -7 12z"/>
<path fill="#2aff00" d="M1360 1106l7 -5 -7 -2 -7 5z"/>
<path fill="#40ff00" d="M1395 1092l7 -7 -7 -2 -7 7z"/>
<path fill="#fa0" d="M1486 1012l7 -14 -7 -4 -7 14z"/>
<path fill="#95ff00" d="M1083 1059l8 9 -6 1 -8 -9z"/>
<path fill="#2aff00" d="M1159 1090l8 5 -6 0 -8 -4z"/>
<path fill="#15ff00" d="M1312 1115l7 -3 -7 -1 -7 2z"/>
<path fill="#f00" d="M1536 920l7 -19 -7 -4 -7 19zM1529 938l7 -18 -7 -4 -7 18z"/>
<path fill="#40ff00" d="M1145 1085l8 6 -6 0 -8 -5z"/>
<path fill="#ffd500" d="M1479 1025l7 -13 -7 -4 -7 13z"/>
<path fill="#2aff00" d="M1374 1103l7 -6 -7 -2 -7 6z"/>
<path fill="#f00" d="M1522 955l7 -17 -7 -4 -8 17z"/>
<path fill="#15ff00" d="M1326 1114l7 -3 -7 -2 -7 3z"/>
<path fill="#80ff00" d="M1430 1073l7 -9 -7 -3 -7 10z"/>
<path fill="#bfff00" d="M1451 1057l7 -11 -7 -3 -7 11zM1069 1052l8 8 -6 2 -8 -9z"/>
<path fill="#ff2a00" d="M1515 971l7 -16 -8 -4 -7 16z"/>
<path fill="#40ff00" d="M1409 1088l7 -9 -7 -2 -7 8z"/>
<path fill="#5f0" d="M1131 1079l8 7 -6 0 -8 -6z"/>
<path fill="#15ff00" d="M1340 1112l6 -3 -6 -2 -7 4z"/>
<path fill="#f50" d="M1508 986l7 -15 -8 -4 -7 16z"/>
<path fill="#ffea00" d="M1472 1037l7 -12 -7 -4 -7 13z"/>
<path fill="#2aff00" d="M1388 1099l7 -7 -7 -2 -7 7z"/>
<path fill="#6aff00" d="M1117 1073l8 7 -6 0 -8 -6z"/>
<path fill="#ff8000" d="M1501 1001l7 -15 -8 -3 -7 15z"/>
<path fill="#15ff00" d="M1353 1110l7 -4 -7 -2 -7 5zM1249 1112l7 1 -6 -1 -7 0zM1235 1110l8 2 -7 -1 -7 -2zM1263 1114l7 0 -6 -1 -8 0zM1221 1107l8 2 -7 0 -7 -2z"/>
<path fill="#95ff00" d="M1444 1067l7 -10 -7 -3 -7 10z"/>
<path fill="#5f0" d="M1423 1082l7 -9 -7 -2 -7 8z"/>
<path fill="#15ff00" d="M1277 1115l7 0 -7 -1 -7 0z"/>
<path fill="#2aff00" d="M1207 1104l8 3 -7 -1 -7 -3z"/>
<path fill="#15ff00" d="M1291 1116l7 -1 -7 -1 -7 1z"/>
<path fill="#ff0" d="M1465 1049l7 -12 -7 -3 -7 12z"/>
<path fill="#fa0" d="M1494 1015l7 -14 -8 -3 -7 14z"/>
<path fill="#2aff00" d="M1194 1100l7 3 -6 0 -8 -3z"/>
<path fill="#80ff00" d="M1103 1066l8 8 -6 0 -8 -7z"/>
<path fill="#40ff00" d="M1402 1095l7 -7 -7 -3 -7 7z"/>
<path fill="#2aff00" d="M1367 1108l7 -5 -7 -2 -7 5z"/>
<path fill="#15ff00" d="M1305 1117l7 -2 -7 -2 -7 2z"/>
<path fill="#2aff00" d="M1180 1095l7 5 -6 0 -8 -5z"/>
<path fill="#f00" d="M1544 924l7 -19 -8 -4 -7 19zM1536 941l8 -17 -8 -4 -7 18z"/>
<path fill="#15ff00" d="M1319 1116l7 -2 -7 -2 -7 3z"/>
<path fill="#f00" d="M1529 958l7 -17 -7 -3 -7 17z"/>
<path fill="#ffd500" d="M1487 1028l7 -13 -8 -3 -7 13z"/>
<path fill="#40ff00" d="M1166 1090l7 5 -6 0 -8 -5z"/>
<path fill="#af0" d="M1089 1058l8 9 -6 1 -8 -9z"/>
<path fill="#80ff00" d="M1437 1076l7 -9 -7 -3 -7 9z"/>
<path fill="#ff2a00" d="M1522 975l7 -17 -7 -3 -7 16z"/>
<path fill="#2aff00" d="M1381 1105l7 -6 -7 -2 -7 6z"/>
<path fill="#bfff00" d="M1459 1059l6 -10 -7 -3 -7 11z"/>
<path fill="#15ff00" d="M1333 1115l7 -3 -7 -1 -7 3z"/>
<path fill="#40ff00" d="M1416 1090l7 -8 -7 -3 -7 9zM1152 1085l7 5 -6 1 -8 -6z"/>
<path fill="#f50" d="M1515 990l7 -15 -7 -4 -7 15z"/>
<path fill="#ffea00" d="M1480 1040l7 -12 -8 -3 -7 12z"/>
<path fill="#15ff00" d="M1347 1114l6 -4 -7 -1 -6 3z"/>
<path fill="#d5ff00" d="M1075 1050l8 9 -6 1 -8 -8z"/>
<path fill="#5f0" d="M1138 1079l7 6 -6 1 -8 -7z"/>
<path fill="#ff8000" d="M1508 1004l7 -14 -7 -4 -7 15z"/>
<path fill="#2aff00" d="M1395 1101l7 -6 -7 -3 -7 7z"/>
<path fill="#95ff00" d="M1452 1070l7 -11 -8 -2 -7 10z"/>
<path fill="#15ff00" d="M1360 1112l7 -4 -7 -2 -7 4z"/>
<path fill="#5f0" d="M1431 1085l6 -9 -7 -3 -7 9z"/>
<path fill="#15ff00" d="M1256 1113l7 1 -7 -1 -7 -1z"/>
<path fill="#fa0" d="M1501 1018l7 -14 -7 -3 -7 14z"/>
<path fill="#6aff00" d="M1124 1072l7 7 -6 1 -8 -7z"/>
<path fill="#15ff00" d="M1242 1111l7 1 -6 0 -8 -2zM1270 1115l7 0 -7 -1 -7 0z"/>
<path fill="#eaff00" d="M1473 1052l7 -12 -8 -3 -7 12z"/>
<path fill="#2aff00" d="M1228 1108l7 2 -6 -1 -8 -2z"/>
<path fill="#15ff00" d="M1284 1117l7 -1 -7 -1 -7 0z"/>
<path fill="#2aff00" d="M1214 1104l7 3 -6 0 -8 -3z"/>
<path fill="#40ff00" d="M1410 1097l6 -7 -7 -2 -7 7z"/>
<path fill="#15ff00" d="M1298 1117l7 0 -7 -2 -7 1z"/>
<path fill="#f00" d="M1551 928l7 -19 -7 -4 -7 19z"/>
<path fill="#2aff00" d="M1374 1110l7 -5 -7 -2 -7 5z"/>
<path fill="#f00" d="M1544 945l7 -17 -7 -4 -8 17z"/>
<path fill="#2aff00" d="M1200 1100l7 4 -6 -1 -7 -3z"/>
<path fill="#15ff00" d="M1312 1118l7 -2 -7 -1 -7 2z"/>
<path fill="#f00" d="M1537 962l7 -17 -8 -4 -7 17z"/>
<path fill="#95ff00" d="M1110 1065l7 8 -6 1 -8 -8z"/>
<path fill="#ffd500" d="M1494 1031l7 -13 -7 -3 -7 13z"/>
<path fill="#ff2a00" d="M1530 978l7 -16 -8 -4 -7 17z"/>
<path fill="#40ff00" d="M1186 1095l8 5 -7 0 -7 -5z"/>
<path fill="#15ff00" d="M1326 1118l7 -3 -7 -1 -7 2z"/>
<path fill="#80ff00" d="M1445 1079l7 -9 -8 -3 -7 9z"/>
<path fill="#bfff00" d="M1466 1062l7 -10 -8 -3 -6 10z"/>
<path fill="#2aff00" d="M1389 1107l6 -6 -7 -2 -7 6z"/>
<path fill="#ff6a00" d="M1523 993l7 -15 -8 -3 -7 15z"/>
<path fill="#40ff00" d="M1424 1093l7 -8 -8 -3 -7 8zM1172 1090l8 5 -7 0 -7 -5z"/>
<path fill="#15ff00" d="M1340 1117l7 -3 -7 -2 -7 3z"/>
<path fill="#bfff00" d="M1095 1057l8 9 -6 1 -8 -9z"/>
<path fill="#ffea00" d="M1487 1043l7 -12 -7 -3 -7 12z"/>
<path fill="#ff9500" d="M1516 1008l7 -15 -8 -3 -7 14z"/>
<path fill="#5f0" d="M1158 1084l8 6 -7 0 -7 -5z"/>
<path fill="#15ff00" d="M1354 1116l6 -4 -7 -2 -6 4z"/>
<path fill="#2aff00" d="M1403 1104l7 -7 -8 -2 -7 6z"/>
<path fill="#95ff00" d="M1459 1072l7 -10 -7 -3 -7 11z"/>
<path fill="#eaff00" d="M1081 1049l8 9 -6 1 -8 -9z"/>
<path fill="#6aff00" d="M1144 1078l8 7 -7 0 -7 -6z"/>
<path fill="#5f0" d="M1438 1087l7 -8 -8 -3 -6 9z"/>
<path fill="#ffbf00" d="M1509 1022l7 -14 -8 -4 -7 14z"/>
<path fill="#2aff00" d="M1368 1114l6 -4 -7 -2 -7 4z"/>
<path fill="#eaff00" d="M1480 1055l7 -12 -7 -3 -7 12z"/>
<path fill="#f00" d="M1559 931l7 -18 -8 -4 -7 19zM1552 949l7 -18 -8 -3 -7 17z"/>
<path fill="#15ff00" d="M1263 1114l7 1 -7 -1 -7 -1zM1277 1116l7 1 -7 -2 -7 0z"/>
<path fill="#2aff00" d="M1249 1111l7 2 -7 -1 -7 -1z"/>
<path fill="#40ff00" d="M1417 1100l7 -7 -8 -3 -6 7z"/>
<path fill="#15ff00" d="M1290 1118l8 -1 -7 -1 -7 1z"/>
<path fill="#f00" d="M1544 966l8 -17 -8 -4 -7 17z"/>
<path fill="#2aff00" d="M1235 1108l7 3 -7 -1 -7 -2z"/>
<path fill="#80ff00" d="M1130 1071l8 8 -7 0 -7 -7z"/>
<path fill="#2aff00" d="M1382 1112l7 -5 -8 -2 -7 5z"/>
<path fill="#15ff00" d="M1304 1119l8 -1 -7 -1 -7 0z"/>
<path fill="#ffd500" d="M1502 1035l7 -13 -8 -4 -7 13z"/>
<path fill="#2aff00" d="M1221 1104l7 4 -7 -1 -7 -3z"/>
<path fill="#ff4000" d="M1537 982l7 -16 -7 -4 -7 16z"/>
<path fill="#15ff00" d="M1318 1119l8 -1 -7 -2 -7 2z"/>
<path fill="#2aff00" d="M1207 1100l7 4 -7 0 -7 -4z"/>
<path fill="#80ff00" d="M1452 1082l7 -10 -7 -2 -7 9z"/>
<path fill="#bfff00" d="M1473 1065l7 -10 -7 -3 -7 10z"/>
<path fill="#ff6a00" d="M1530 997l7 -15 -7 -4 -7 15z"/>
<path fill="#15ff00" d="M1332 1119l8 -2 -7 -2 -7 3z"/>
<path fill="#af0" d="M1116 1064l8 8 -7 1 -7 -8z"/>
<path fill="#2aff00" d="M1396 1109l7 -5 -8 -3 -6 6z"/>
<path fill="#40ff00" d="M1192 1095l8 5 -6 0 -8 -5zM1431 1095l7 -8 -7 -2 -7 8z"/>
<path fill="#ffea00" d="M1495 1047l7 -12 -8 -4 -7 12z"/>
<path fill="#15ff00" d="M1347 1119l7 -3 -7 -2 -7 3z"/>
<path fill="#ff9500" d="M1523 1011l7 -14 -7 -4 -7 15z"/>
<path fill="#40ff00" d="M1178 1090l8 5 -6 0 -8 -5z"/>
<path fill="#bfff00" d="M1101 1056l9 9 -7 1 -8 -9z"/>
<path fill="#15ff00" d="M1361 1118l7 -4 -8 -2 -6 4z"/>
<path fill="#2aff00" d="M1410 1106l7 -6 -7 -3 -7 7z"/>
<path fill="#95ff00" d="M1466 1075l7 -10 -7 -3 -7 10z"/>
<path fill="#5f0" d="M1164 1084l8 6 -6 0 -8 -6z"/>
<path fill="#ffbf00" d="M1516 1025l7 -14 -7 -3 -7 14z"/>
<path fill="#5f0" d="M1445 1090l7 -8 -7 -3 -7 8z"/>
<path fill="#eaff00" d="M1488 1058l7 -11 -8 -4 -7 12z"/>
<path fill="#f00" d="M1566 935l8 -18 -8 -4 -7 18zM1559 953l7 -18 -7 -4 -7 18z"/>
<path fill="#2aff00" d="M1375 1116l7 -4 -8 -2 -6 4z"/>
<path fill="#f00" d="M1552 970l7 -17 -7 -4 -8 17z"/>
<path fill="#6aff00" d="M1150 1078l8 6 -6 1 -8 -7z"/>
<path fill="#eaff00" d="M1087 1048l8 9 -6 1 -8 -9z"/>
<path fill="#40ff00" d="M1424 1102l7 -7 -7 -2 -7 7z"/>
<path fill="#ffd500" d="M1509 1038l7 -13 -7 -3 -7 13z"/>
<path fill="#ff4000" d="M1545 986l7 -16 -8 -4 -7 16z"/>
<path fill="#15ff00" d="M1283 1117l7 1 -6 -1 -7 -1z"/>
<path fill="#2aff00" d="M1269 1115l8 1 -7 -1 -7 -1z"/>
<path fill="#15ff00" d="M1297 1119l7 0 -6 -2 -8 1z"/>
<path fill="#2aff00" d="M1255 1112l8 2 -7 -1 -7 -2zM1389 1114l7 -5 -7 -2 -7 5z"/>
<path fill="#15ff00" d="M1311 1120l7 -1 -6 -1 -8 1z"/>
<path fill="#2aff00" d="M1241 1109l8 2 -7 0 -7 -3z"/>
<path fill="#ff6a00" d="M1538 1001l7 -15 -8 -4 -7 15z"/>
<path fill="#95ff00" d="M1136 1071l8 7 -6 1 -8 -8z"/>
<path fill="#80ff00" d="M1459 1084l7 -9 -7 -3 -7 10z"/>
<path fill="#bfff00" d="M1481 1069l7 -11 -8 -3 -7 10z"/>
<path fill="#15ff00" d="M1325 1121l7 -2 -6 -1 -8 1z"/>
<path fill="#2aff00" d="M1227 1105l8 3 -7 0 -7 -4z"/>
<path fill="#15ff00" d="M1340 1121l7 -2 -7 -2 -8 2z"/>
<path fill="#40ff00" d="M1213 1100l8 4 -7 0 -7 -4z"/>
<path fill="#2aff00" d="M1403 1111l7 -5 -7 -2 -7 5z"/>
<path fill="#40ff00" d="M1438 1098l7 -8 -7 -3 -7 8z"/>
<path fill="#ffea00" d="M1502 1050l7 -12 -7 -3 -7 12z"/>
<path fill="#ff9500" d="M1531 1015l7 -14 -8 -4 -7 14z"/>
<path fill="#15ff00" d="M1354 1120l7 -2 -7 -2 -7 3z"/>
<path fill="#40ff00" d="M1199 1095l8 5 -7 0 -8 -5z"/>
<path fill="#af0" d="M1122 1063l8 8 -6 1 -8 -8z"/>
<path fill="#2aff00" d="M1417 1108l7 -6 -7 -2 -7 6z"/>
<path fill="#15ff00" d="M1368 1120l7 -4 -7 -2 -7 4z"/>
<path fill="#ffbf00" d="M1524 1029l7 -14 -8 -4 -7 14z"/>
<path fill="#5f0" d="M1185 1090l7 5 -6 0 -8 -5z"/>
<path fill="#95ff00" d="M1474 1078l7 -9 -8 -4 -7 10z"/>
<path fill="#f00" d="M1574 939l7 -18 -7 -4 -8 18zM1567 957l7 -18 -8 -4 -7 18z"/>
<path fill="#eaff00" d="M1495 1061l7 -11 -7 -3 -7 11z"/>
<path fill="#5f0" d="M1453 1093l6 -9 -7 -2 -7 8z"/>
<path fill="#d5ff00" d="M1108 1055l8 9 -6 1 -9 -9z"/>
<path fill="#ff1500" d="M1560 974l7 -17 -8 -4 -7 17z"/>
<path fill="#2aff00" d="M1382 1118l7 -4 -7 -2 -7 4z"/>
<path fill="#6aff00" d="M1171 1084l7 6 -6 0 -8 -6z"/>
<path fill="#ff4000" d="M1552 989l8 -15 -8 -4 -7 16z"/>
<path fill="#ffd500" d="M1517 1041l7 -12 -8 -4 -7 13z"/>
<path fill="#40ff00" d="M1431 1105l7 -7 -7 -3 -7 7z"/>
<path fill="#2aff00" d="M1396 1116l7 -5 -7 -2 -7 5z"/>
<path fill="#80ff00" d="M1157 1077l7 7 -6 0 -8 -6z"/>
<path fill="#ff6a00" d="M1545 1004l7 -15 -7 -3 -7 15z"/>
<path fill="#2aff00" d="M1290 1118l7 1 -7 -1 -7 -1zM1276 1116l7 1 -6 -1 -8 -1z"/>
<path fill="#15ff00" d="M1304 1120l7 0 -7 -1 -7 0z"/>
<path fill="#ff0" d="M1093 1047l8 9 -6 1 -8 -9z"/>
<path fill="#bfff00" d="M1488 1072l7 -11 -7 -3 -7 11z"/>
<path fill="#2aff00" d="M1262 1113l7 2 -6 -1 -8 -2z"/>
<path fill="#6aff00" d="M1467 1087l7 -9 -8 -3 -7 9z"/>
<path fill="#15ff00" d="M1318 1121l7 0 -7 -2 -7 1z"/>
<path fill="#2aff00" d="M1248 1109l7 3 -6 -1 -8 -2z"/>
<path fill="#15ff00" d="M1332 1122l8 -1 -8 -2 -7 2z"/>
<path fill="#ff0" d="M1510 1053l7 -12 -8 -3 -7 12z"/>
<path fill="#ff9500" d="M1538 1019l7 -15 -7 -3 -7 14z"/>
<path fill="#2aff00" d="M1234 1105l7 4 -6 -1 -8 -3z"/>
<path fill="#40ff00" d="M1446 1100l7 -7 -8 -3 -7 8z"/>
<path fill="#2aff00" d="M1410 1114l7 -6 -7 -2 -7 5z"/>
<path fill="#95ff00" d="M1142 1070l8 8 -6 0 -8 -7z"/>
<path fill="#15ff00" d="M1347 1122l7 -2 -7 -1 -7 2z"/>
<path fill="#40ff00" d="M1220 1100l7 5 -6 -1 -8 -4z"/>
<path fill="#15ff00" d="M1361 1122l7 -2 -7 -2 -7 2z"/>
<path fill="#f00" d="M1582 944l7 -19 -8 -4 -7 18z"/>
<path fill="#ffbf00" d="M1531 1032l7 -13 -7 -4 -7 14z"/>
<path fill="#f00" d="M1574 961l8 -17 -8 -5 -7 18z"/>
<path fill="#40ff00" d="M1206 1095l7 5 -6 0 -8 -5z"/>
<path fill="#95ff00" d="M1481 1081l7 -9 -7 -3 -7 9z"/>
<path fill="#2aff00" d="M1424 1111l7 -6 -7 -3 -7 6z"/>
<path fill="#bfff00" d="M1128 1062l8 9 -6 0 -8 -8z"/>
<path fill="#eaff00" d="M1503 1064l7 -11 -8 -3 -7 11z"/>
<path fill="#2aff00" d="M1375 1121l7 -3 -7 -2 -7 4z"/>
<path fill="#ff1500" d="M1567 977l7 -16 -7 -4 -7 17z"/>
<path fill="#5f0" d="M1460 1096l7 -9 -8 -3 -6 9zM1191 1090l8 5 -7 0 -7 -5z"/>
<path fill="#ff4000" d="M1560 993l7 -16 -7 -3 -8 15z"/>
<path fill="#2aff00" d="M1389 1120l7 -4 -7 -2 -7 4z"/>
<path fill="#ffd500" d="M1524 1045l7 -13 -7 -3 -7 12z"/>
<path fill="#40ff00" d="M1439 1107l7 -7 -8 -2 -7 7z"/>
<path fill="#eaff00" d="M1114 1054l8 9 -6 1 -8 -9z"/>
<path fill="#6aff00" d="M1177 1083l8 7 -7 0 -7 -6z"/>
<path fill="#ff8000" d="M1553 1008l7 -15 -8 -4 -7 15z"/>
<path fill="#2aff00" d="M1403 1118l7 -4 -7 -3 -7 5z"/>
<path fill="#af0" d="M1496 1075l7 -11 -8 -3 -7 11z"/>
<path fill="#6aff00" d="M1474 1090l7 -9 -7 -3 -7 9z"/>
<path fill="#2aff00" d="M1297 1119l7 1 -7 -1 -7 -1zM1311 1121l7 0 -7 -1 -7 0zM1283 1116l7 2 -7 -1 -7 -1z"/>
<path fill="#fa0" d="M1546 1022l7 -14 -8 -4 -7 15z"/>
<path fill="#ff0" d="M1517 1057l7 -12 -7 -4 -7 12z"/>
<path fill="#95ff00" d="M1163 1077l8 7 -7 0 -7 -7z"/>
<path fill="#15ff00" d="M1325 1123l7 -1 -7 -1 -7 0z"/>
<path fill="#2aff00" d="M1269 1113l7 3 -7 -1 -7 -2z"/>
<path fill="#40ff00" d="M1453 1103l7 -7 -7 -3 -7 7z"/>
<path fill="#15ff00" d="M1340 1124l7 -2 -7 -1 -8 1z"/>
<path fill="#ffea00" d="M1100 1045l8 10 -7 1 -8 -9z"/>
<path fill="#2aff00" d="M1255 1110l7 3 -7 -1 -7 -3zM1417 1116l7 -5 -7 -3 -7 6z"/>
<path fill="#15ff00" d="M1354 1124l7 -2 -7 -2 -7 2z"/>
<path fill="#f00" d="M1589 948l8 -19 -8 -4 -7 19z"/>
<path fill="#40ff00" d="M1241 1105l7 4 -7 0 -7 -4z"/>
<path fill="#f00" d="M1582 965l7 -17 -7 -4 -8 17z"/>
<path fill="#ffbf00" d="M1539 1036l7 -14 -8 -3 -7 13z"/>
<path fill="#af0" d="M1149 1069l8 8 -7 1 -8 -8z"/>
<path fill="#15ff00" d="M1368 1124l7 -3 -7 -1 -7 2z"/>
<path fill="#40ff00" d="M1226 1101l8 4 -7 0 -7 -5z"/>
<path fill="#ff2a00" d="M1575 981l7 -16 -8 -4 -7 16z"/>
<path fill="#95ff00" d="M1489 1084l7 -9 -8 -3 -7 9z"/>
<path fill="#d5ff00" d="M1510 1068l7 -11 -7 -4 -7 11z"/>
<path fill="#2aff00" d="M1432 1113l7 -6 -8 -2 -7 6z"/>
<path fill="#5f0" d="M1467 1098l7 -8 -7 -3 -7 9z"/>
<path fill="#2aff00" d="M1382 1123l7 -3 -7 -2 -7 3z"/>
<path fill="#f50" d="M1568 997l7 -16 -8 -4 -7 16z"/>
<path fill="#5f0" d="M1212 1095l8 5 -7 0 -7 -5z"/>
<path fill="#ffea00" d="M1532 1048l7 -12 -8 -4 -7 13z"/>
<path fill="#d5ff00" d="M1134 1062l8 8 -6 1 -8 -9z"/>
<path fill="#2aff00" d="M1396 1122l7 -4 -7 -2 -7 4z"/>
<path fill="#ff8000" d="M1561 1012l7 -15 -8 -4 -7 15z"/>
<path fill="#6aff00" d="M1198 1090l8 5 -7 0 -8 -5z"/>
<path fill="#40ff00" d="M1446 1110l7 -7 -7 -3 -7 7z"/>
<path fill="#af0" d="M1503 1078l7 -10 -7 -4 -7 11z"/>
<path fill="#6aff00" d="M1482 1093l7 -9 -8 -3 -7 9z"/>
<path fill="#2aff00" d="M1411 1121l6 -5 -7 -2 -7 4z"/>
<path fill="#80ff00" d="M1184 1083l7 7 -6 0 -8 -7z"/>
<path fill="#fa0" d="M1554 1026l7 -14 -8 -4 -7 14z"/>
<path fill="#ff0" d="M1120 1053l8 9 -6 1 -8 -9zM1525 1060l7 -12 -8 -3 -7 12z"/>
<path fill="#2aff00" d="M1304 1120l7 1 -7 -1 -7 -1zM1318 1122l7 1 -7 -2 -7 0zM1290 1117l7 2 -7 -1 -7 -2z"/>
<path fill="#40ff00" d="M1460 1106l7 -8 -7 -2 -7 7z"/>
<path fill="#2aff00" d="M1332 1124l8 0 -8 -2 -7 1z"/>
<path fill="#f00" d="M1597 952l7 -18 -7 -5 -8 19z"/>
<path fill="#2aff00" d="M1276 1114l7 2 -7 0 -7 -3zM1425 1118l7 -5 -8 -2 -7 5zM1347 1125l7 -1 -7 -2 -7 2z"/>
<path fill="#f00" d="M1590 969l7 -17 -8 -4 -7 17z"/>
<path fill="#95ff00" d="M1169 1076l8 7 -6 1 -8 -7z"/>
<path fill="#ffbf00" d="M1547 1039l7 -13 -8 -4 -7 14z"/>
<path fill="#2aff00" d="M1262 1110l7 3 -7 0 -7 -3zM1361 1126l7 -2 -7 -2 -7 2z"/>
<path fill="#ff2a00" d="M1583 985l7 -16 -8 -4 -7 16z"/>
<path fill="#ffea00" d="M1106 1044l8 10 -6 1 -8 -10z"/>
<path fill="#40ff00" d="M1247 1106l8 4 -7 -1 -7 -4z"/>
<path fill="#95ff00" d="M1496 1087l7 -9 -7 -3 -7 9z"/>
<path fill="#d5ff00" d="M1518 1071l7 -11 -8 -3 -7 11z"/>
<path fill="#2aff00" d="M1375 1126l7 -3 -7 -2 -7 3z"/>
<path fill="#f50" d="M1576 1001l7 -16 -8 -4 -7 16z"/>
<path fill="#2aff00" d="M1439 1116l7 -6 -7 -3 -7 6z"/>
<path fill="#5f0" d="M1475 1101l7 -8 -8 -3 -7 8z"/>
<path fill="#bfff00" d="M1155 1069l8 8 -6 0 -8 -8z"/>
<path fill="#40ff00" d="M1233 1101l8 4 -7 0 -8 -4z"/>
<path fill="#2aff00" d="M1389 1125l7 -3 -7 -2 -7 3z"/>
<path fill="#ffea00" d="M1540 1052l7 -13 -8 -3 -7 12z"/>
<path fill="#ff8000" d="M1568 1016l8 -15 -8 -4 -7 15z"/>
<path fill="#5f0" d="M1219 1095l7 6 -6 -1 -8 -5z"/>
<path fill="#2aff00" d="M1404 1124l7 -3 -8 -3 -7 4z"/>
<path fill="#40ff00" d="M1454 1112l6 -6 -7 -3 -7 7z"/>
<path fill="#eaff00" d="M1141 1061l8 8 -7 1 -8 -8z"/>
<path fill="#af0" d="M1511 1081l7 -10 -8 -3 -7 10z"/>
<path fill="#6aff00" d="M1205 1090l7 5 -6 0 -8 -5z"/>
<path fill="#fa0" d="M1561 1030l7 -14 -7 -4 -7 14z"/>
<path fill="#6aff00" d="M1489 1096l7 -9 -7 -3 -7 9z"/>
<path fill="#ff0" d="M1533 1063l7 -11 -8 -4 -7 12z"/>
<path fill="#2aff00" d="M1418 1123l7 -5 -8 -2 -6 5z"/>
<path fill="#f00" d="M1605 956l7 -18 -8 -4 -7 18zM1598 973l7 -17 -8 -4 -7 17z"/>
<path fill="#40ff00" d="M1468 1109l7 -8 -8 -3 -7 8z"/>
<path fill="#80ff00" d="M1190 1083l8 7 -7 0 -7 -7z"/>
<path fill="#ff0" d="M1126 1052l8 10 -6 0 -8 -9z"/>
<path fill="#ffd500" d="M1554 1043l7 -13 -7 -4 -7 13z"/>
<path fill="#2aff00" d="M1325 1124l7 0 -7 -1 -7 -1zM1311 1121l7 1 -7 -1 -7 -1zM1432 1121l7 -5 -7 -3 -7 5zM1340 1125l7 0 -7 -1 -8 0z"/>
<path fill="#ff2a00" d="M1591 989l7 -16 -8 -4 -7 16z"/>
<path fill="#2aff00" d="M1297 1118l7 2 -7 -1 -7 -2zM1354 1127l7 -1 -7 -2 -7 1zM1283 1115l7 2 -7 -1 -7 -2z"/>
<path fill="#80ff00" d="M1504 1091l7 -10 -8 -3 -7 9z"/>
<path fill="#2aff00" d="M1368 1127l7 -1 -7 -2 -7 2z"/>
<path fill="#d5ff00" d="M1526 1074l7 -11 -8 -3 -7 11z"/>
<path fill="#f50" d="M1583 1005l8 -16 -8 -4 -7 16z"/>
<path fill="#40ff00" d="M1268 1111l8 3 -7 -1 -7 -3z"/>
<path fill="#af0" d="M1176 1076l8 7 -7 0 -8 -7z"/>
<path fill="#2aff00" d="M1382 1128l7 -3 -7 -2 -7 3zM1447 1118l7 -6 -8 -2 -7 6z"/>
<path fill="#5f0" d="M1482 1104l7 -8 -7 -3 -7 8z"/>
<path fill="#40ff00" d="M1254 1106l8 4 -7 0 -8 -4z"/>
<path fill="#ffea00" d="M1547 1055l7 -12 -7 -4 -7 13zM1112 1043l8 10 -6 1 -8 -10z"/>
<path fill="#ff8000" d="M1576 1020l7 -15 -7 -4 -8 15z"/>
<path fill="#2aff00" d="M1397 1127l7 -3 -8 -2 -7 3z"/>
<path fill="#5f0" d="M1240 1101l7 5 -6 -1 -8 -4z"/>
<path fill="#d5ff00" d="M1162 1068l7 8 -6 1 -8 -8z"/>
<path fill="#40ff00" d="M1461 1115l7 -6 -8 -3 -6 6z"/>
<path fill="#2aff00" d="M1411 1127l7 -4 -7 -2 -7 3z"/>
<path fill="#af0" d="M1519 1084l7 -10 -8 -3 -7 10z"/>
<path fill="#fa0" d="M1569 1034l7 -14 -8 -4 -7 14z"/>
<path fill="#6aff00" d="M1226 1096l7 5 -7 0 -7 -6zM1497 1099l7 -8 -8 -4 -7 9z"/>
<path fill="#ff0" d="M1540 1067l7 -12 -7 -3 -7 11z"/>
<path fill="#f00" d="M1613 960l7 -18 -8 -4 -7 18z"/>
<path fill="#2aff00" d="M1425 1125l7 -4 -7 -3 -7 5z"/>
<path fill="#f00" d="M1606 977l7 -17 -8 -4 -7 17z"/>
<path fill="#ff0" d="M1147 1060l8 9 -6 0 -8 -8z"/>
<path fill="#80ff00" d="M1211 1089l8 6 -7 0 -7 -5z"/>
<path fill="#40ff00" d="M1476 1111l6 -7 -7 -3 -7 8z"/>
<path fill="#ff2a00" d="M1598 993l8 -16 -8 -4 -7 16z"/>
<path fill="#ffd500" d="M1562 1047l7 -13 -8 -4 -7 13z"/>
<path fill="#2aff00" d="M1440 1123l7 -5 -8 -2 -7 5zM1332 1125l8 0 -8 -1 -7 0zM1318 1122l7 2 -7 -2 -7 -1z"/>
<path fill="#ff6a00" d="M1591 1009l7 -16 -7 -4 -8 16z"/>
<path fill="#95ff00" d="M1197 1083l8 7 -7 0 -8 -7z"/>
<path fill="#2aff00" d="M1347 1127l7 0 -7 -2 -7 0z"/>
<path fill="#d5ff00" d="M1533 1078l7 -11 -7 -4 -7 11z"/>
<path fill="#2aff00" d="M1304 1119l7 2 -7 -1 -7 -2z"/>
<path fill="#80ff00" d="M1512 1094l7 -10 -8 -3 -7 10z"/>
<path fill="#2aff00" d="M1361 1128l7 -1 -7 -1 -7 1z"/>
<path fill="#ffea00" d="M1133 1051l8 10 -7 1 -8 -10z"/>
<path fill="#40ff00" d="M1290 1116l7 2 -7 -1 -7 -2z"/>
<path fill="#2aff00" d="M1375 1129l7 -1 -7 -2 -7 1z"/>
<path fill="#ffea00" d="M1555 1059l7 -12 -8 -4 -7 12z"/>
<path fill="#5f0" d="M1490 1107l7 -8 -8 -3 -7 8z"/>
<path fill="#40ff00" d="M1275 1111l8 4 -7 -1 -8 -3z"/>
<path fill="#2aff00" d="M1454 1121l7 -6 -7 -3 -7 6z"/>
<path fill="#ff9500" d="M1584 1024l7 -15 -8 -4 -7 15z"/>
<path fill="#2aff00" d="M1390 1130l7 -3 -8 -2 -7 3z"/>
<path fill="#bfff00" d="M1183 1075l7 8 -6 0 -8 -7z"/>
<path fill="#40ff00" d="M1261 1107l7 4 -6 -1 -8 -4z"/>
<path fill="#2aff00" d="M1404 1129l7 -2 -7 -3 -7 3z"/>
<path fill="#ffd500" d="M1118 1042l8 10 -6 1 -8 -10z"/>
<path fill="#fa0" d="M1577 1037l7 -13 -8 -4 -7 14z"/>
<path fill="#af0" d="M1526 1088l7 -10 -7 -4 -7 10z"/>
<path fill="#5f0" d="M1247 1102l7 4 -7 0 -7 -5z"/>
<path fill="#40ff00" d="M1469 1118l7 -7 -8 -2 -7 6z"/>
<path fill="#2aff00" d="M1418 1129l7 -4 -7 -2 -7 4z"/>
<path fill="#ff0" d="M1548 1070l7 -11 -8 -4 -7 12z"/>
<path fill="#d5ff00" d="M1168 1068l8 8 -7 0 -7 -8z"/>
<path fill="#6aff00" d="M1505 1102l7 -8 -8 -3 -7 8zM1232 1096l8 5 -7 0 -7 -5z"/>
<path fill="#2aff00" d="M1433 1127l7 -4 -8 -2 -7 4z"/>
<path fill="#ffd500" d="M1570 1050l7 -13 -8 -3 -7 13z"/>
<path fill="#40ff00" d="M1483 1114l7 -7 -8 -3 -6 7z"/>
<path fill="#ff0" d="M1154 1059l8 9 -7 1 -8 -9z"/>
<path fill="#80ff00" d="M1218 1089l8 7 -7 -1 -8 -6z"/>
<path fill="#2aff00" d="M1447 1126l7 -5 -7 -3 -7 5z"/>
<path fill="#bfff00" d="M1541 1081l7 -11 -8 -3 -7 11z"/>
<path fill="#80ff00" d="M1519 1097l7 -9 -7 -4 -7 10z"/>
<path fill="#2aff00" d="M1340 1126l7 1 -7 -2 -8 0zM1354 1128l7 0 -7 -1 -7 0zM1325 1123l7 2 -7 -1 -7 -2z"/>
<path fill="#ffea00" d="M1563 1063l7 -13 -8 -3 -7 12z"/>
<path fill="#2aff00" d="M1368 1130l7 -1 -7 -2 -7 1zM1311 1120l7 2 -7 -1 -7 -2z"/>
<path fill="#af0" d="M1204 1082l7 7 -6 1 -8 -7z"/>
<path fill="#5f0" d="M1498 1110l7 -8 -8 -3 -7 8z"/>
<path fill="#2aff00" d="M1383 1131l7 -1 -8 -2 -7 1z"/>
<path fill="#40ff00" d="M1297 1116l7 3 -7 -1 -7 -2z"/>
<path fill="#2aff00" d="M1462 1123l7 -5 -8 -3 -7 6z"/>
<path fill="#ffea00" d="M1139 1050l8 10 -6 1 -8 -10z"/>
<path fill="#2aff00" d="M1397 1131l7 -2 -7 -2 -7 3z"/>
<path fill="#40ff00" d="M1282 1112l8 4 -7 -1 -8 -4z"/>
<path fill="#2aff00" d="M1411 1131l7 -2 -7 -2 -7 2z"/>
<path fill="#bfff00" d="M1189 1075l8 8 -7 0 -7 -8z"/>
<path fill="#95ff00" d="M1534 1091l7 -10 -8 -3 -7 10z"/>
<path fill="#5f0" d="M1268 1107l7 4 -7 0 -7 -4z"/>
<path fill="#eaff00" d="M1556 1074l7 -11 -8 -4 -7 11z"/>
<path fill="#40ff00" d="M1476 1120l7 -6 -7 -3 -7 7z"/>
<path fill="#6aff00" d="M1512 1105l7 -8 -7 -3 -7 8z"/>
<path fill="#2aff00" d="M1426 1131l7 -4 -8 -2 -7 4z"/>
<path fill="#6aff00" d="M1254 1102l7 5 -7 -1 -7 -4z"/>
<path fill="#ffd500" d="M1125 1041l8 10 -7 1 -8 -10z"/>
<path fill="#eaff00" d="M1175 1067l8 8 -7 1 -8 -8z"/>
<path fill="#2aff00" d="M1440 1130l7 -4 -7 -3 -7 4z"/>
<path fill="#40ff00" d="M1491 1117l7 -7 -8 -3 -7 7z"/>
<path fill="#80ff00" d="M1239 1096l8 6 -7 -1 -8 -5z"/>
<path fill="#bfff00" d="M1549 1085l7 -11 -8 -4 -7 11z"/>
<path fill="#80ff00" d="M1527 1100l7 -9 -8 -3 -7 9z"/>
<path fill="#2aff00" d="M1455 1128l7 -5 -8 -2 -7 5z"/>
<path fill="#95ff00" d="M1225 1089l7 7 -6 0 -8 -7z"/>
<path fill="#ffea00" d="M1160 1058l8 10 -6 0 -8 -9z"/>
<path fill="#2aff00" d="M1347 1127l7 1 -7 -1 -7 -1zM1361 1130l7 0 -7 -2 -7 0z"/>
<path fill="#5f0" d="M1505 1113l7 -8 -7 -3 -7 8z"/>
<path fill="#2aff00" d="M1332 1125l8 1 -8 -1 -7 -2zM1376 1131l7 0 -8 -2 -7 1zM1469 1126l7 -6 -7 -2 -7 5z"/>
<path fill="#40ff00" d="M1318 1121l7 2 -7 -1 -7 -2z"/>
<path fill="#2aff00" d="M1390 1133l7 -2 -7 -1 -7 1z"/>
<path fill="#af0" d="M1210 1082l8 7 -7 0 -7 -7z"/>
<path fill="#40ff00" d="M1304 1117l7 3 -7 -1 -7 -3z"/>
<path fill="#2aff00" d="M1404 1133l7 -2 -7 -2 -7 2z"/>
<path fill="#95ff00" d="M1542 1094l7 -9 -8 -4 -7 10z"/>
<path fill="#40ff00" d="M1289 1113l8 3 -7 0 -8 -4z"/>
<path fill="#ffd500" d="M1146 1049l8 10 -7 1 -8 -10z"/>
<path fill="#2aff00" d="M1419 1134l7 -3 -8 -2 -7 2z"/>
<path fill="#40ff00" d="M1484 1123l7 -6 -8 -3 -7 6z"/>
<path fill="#6aff00" d="M1520 1109l7 -9 -8 -3 -7 8z"/>
<path fill="#5f0" d="M1275 1108l7 4 -7 -1 -7 -4z"/>
<path fill="#d5ff00" d="M1196 1075l8 7 -7 1 -8 -8z"/>
<path fill="#2aff00" d="M1433 1133l7 -3 -7 -3 -7 4z"/>
<path fill="#6aff00" d="M1260 1102l8 5 -7 0 -7 -5z"/>
<path fill="#2aff00" d="M1448 1132l7 -4 -8 -2 -7 4z"/>
<path fill="#40ff00" d="M1499 1120l6 -7 -7 -3 -7 7z"/>
<path fill="#ffbf00" d="M1131 1040l8 10 -6 1 -8 -10z"/>
<path fill="#ff0" d="M1181 1066l8 9 -6 0 -8 -8z"/>
<path fill="#80ff00" d="M1535 1104l7 -10 -8 -3 -7 9zM1246 1096l8 6 -7 0 -8 -6z"/>
<path fill="#2aff00" d="M1462 1131l7 -5 -7 -3 -7 5z"/>
<path fill="#5f0" d="M1513 1116l7 -7 -8 -4 -7 8z"/>
<path fill="#95ff00" d="M1232 1089l7 7 -7 0 -7 -7z"/>
<path fill="#2aff00" d="M1369 1131l7 0 -8 -1 -7 0zM1354 1129l7 1 -7 -2 -7 -1zM1477 1129l7 -6 -8 -3 -7 6zM1383 1133l7 0 -7 -2 -7 0zM1340 1126l7 1 -7 -1 -8 -1z"/>
<path fill="#ffea00" d="M1167 1058l8 9 -7 1 -8 -10z"/>
<path fill="#2aff00" d="M1397 1135l7 -2 -7 -2 -7 2z"/>
<path fill="#40ff00" d="M1325 1122l7 3 -7 -2 -7 -2z"/>
<path fill="#2aff00" d="M1412 1135l7 -1 -8 -3 -7 2z"/>
<path fill="#40ff00" d="M1311 1118l7 3 -7 -1 -7 -3z"/>
<path fill="#bfff00" d="M1217 1082l8 7 -7 0 -8 -7z"/>
<path fill="#2aff00" d="M1426 1136l7 -3 -7 -2 -7 3z"/>
<path fill="#40ff00" d="M1492 1126l7 -6 -8 -3 -7 6z"/>
<path fill="#6aff00" d="M1528 1112l7 -8 -8 -4 -7 9z"/>
<path fill="#5f0" d="M1296 1113l8 4 -7 -1 -8 -3z"/>
<path fill="#2aff00" d="M1441 1135l7 -3 -8 -2 -7 3z"/>
<path fill="#ffd500" d="M1152 1048l8 10 -6 1 -8 -10z"/>
<path fill="#5f0" d="M1282 1108l7 5 -7 -1 -7 -4z"/>
<path fill="#eaff00" d="M1203 1074l7 8 -6 0 -8 -7z"/>
<path fill="#40ff00" d="M1506 1123l7 -7 -8 -3 -6 7z"/>
<path fill="#2aff00" d="M1455 1135l7 -4 -7 -3 -7 4z"/>
<path fill="#6aff00" d="M1267 1103l8 5 -7 -1 -8 -5z"/>
<path fill="#2aff00" d="M1470 1133l7 -4 -8 -3 -7 5z"/>
<path fill="#ffbf00" d="M1138 1038l8 11 -7 1 -8 -10z"/>
<path fill="#ff0" d="M1188 1066l8 9 -7 0 -8 -9z"/>
<path fill="#95ff00" d="M1253 1096l7 6 -6 0 -8 -6z"/>
<path fill="#5f0" d="M1521 1119l7 -7 -8 -3 -7 7z"/>
<path fill="#2aff00" d="M1485 1131l7 -5 -8 -3 -7 6zM1376 1133l7 0 -7 -2 -7 0zM1361 1130l8 1 -8 -1 -7 -1zM1390 1135l7 0 -7 -2 -7 0z"/>
<path fill="#af0" d="M1238 1089l8 7 -7 0 -7 -7z"/>
<path fill="#40ff00" d="M1347 1127l7 2 -7 -2 -7 -1z"/>
<path fill="#2aff00" d="M1405 1136l7 -1 -8 -2 -7 2z"/>
<path fill="#40ff00" d="M1332 1123l8 3 -8 -1 -7 -3z"/>
<path fill="#2aff00" d="M1419 1137l7 -1 -7 -2 -7 1z"/>
<path fill="#ffea00" d="M1173 1057l8 9 -6 1 -8 -9z"/>
<path fill="#40ff00" d="M1499 1129l7 -6 -7 -3 -7 6zM1318 1119l7 3 -7 -1 -7 -3z"/>
<path fill="#2aff00" d="M1434 1138l7 -3 -8 -2 -7 3z"/>
<path fill="#d5ff00" d="M1224 1082l8 7 -7 0 -8 -7z"/>
<path fill="#5f0" d="M1304 1114l7 4 -7 -1 -8 -4z"/>
<path fill="#2aff00" d="M1449 1138l6 -3 -7 -3 -7 3z"/>
<path fill="#40ff00" d="M1514 1126l7 -7 -8 -3 -7 7z"/>
<path fill="#6aff00" d="M1289 1109l7 4 -7 0 -7 -5z"/>
<path fill="#ffd500" d="M1159 1047l8 11 -7 0 -8 -10z"/>
<path fill="#2aff00" d="M1463 1137l7 -4 -8 -2 -7 4z"/>
<path fill="#ff0" d="M1209 1074l8 8 -7 0 -7 -8z"/>
<path fill="#80ff00" d="M1274 1103l8 5 -7 0 -8 -5z"/>
<path fill="#2aff00" d="M1478 1136l7 -5 -8 -2 -7 4z"/>
<path fill="#95ff00" d="M1260 1096l7 7 -7 -1 -7 -6z"/>
<path fill="#fa0" d="M1144 1037l8 11 -6 1 -8 -11z"/>
<path fill="#2aff00" d="M1492 1134l7 -5 -7 -3 -7 5z"/>
<path fill="#ffea00" d="M1195 1065l8 9 -7 1 -8 -9z"/>
<path fill="#2aff00" d="M1383 1134l7 1 -7 -2 -7 0zM1398 1137l7 -1 -8 -1 -7 0zM1369 1132l7 1 -7 -2 -8 -1zM1412 1138l7 -1 -7 -2 -7 1z"/>
<path fill="#40ff00" d="M1354 1128l7 2 -7 -1 -7 -2z"/>
<path fill="#2aff00" d="M1427 1139l7 -1 -8 -2 -7 1z"/>
<path fill="#bfff00" d="M1245 1089l8 7 -7 0 -8 -7z"/>
<path fill="#40ff00" d="M1507 1132l7 -6 -8 -3 -7 6zM1340 1124l7 3 -7 -1 -8 -3z"/>
<path fill="#2aff00" d="M1442 1140l7 -2 -8 -3 -7 3z"/>
<path fill="#ffd500" d="M1180 1056l8 10 -7 0 -8 -9z"/>
<path fill="#5f0" d="M1325 1120l7 3 -7 -1 -7 -3z"/>
<path fill="#2aff00" d="M1456 1140l7 -3 -8 -2 -6 3z"/>
<path fill="#5f0" d="M1311 1115l7 4 -7 -1 -7 -4z"/>
<path fill="#d5ff00" d="M1231 1082l7 7 -6 0 -8 -7z"/>
<path fill="#2aff00" d="M1471 1140l7 -4 -8 -3 -7 4z"/>
<path fill="#6aff00" d="M1296 1109l8 5 -8 -1 -7 -4z"/>
<path fill="#ffbf00" d="M1165 1047l8 10 -6 1 -8 -11z"/>
<path fill="#2aff00" d="M1486 1138l6 -4 -7 -3 -7 5z"/>
<path fill="#ff0" d="M1216 1074l8 8 -7 0 -8 -8z"/>
<path fill="#80ff00" d="M1282 1103l7 6 -7 -1 -8 -5z"/>
<path fill="#2aff00" d="M1500 1137l7 -5 -8 -3 -7 5z"/>
<path fill="#af0" d="M1267 1097l7 6 -7 0 -7 -7z"/>
<path fill="#ffea00" d="M1202 1065l7 9 -6 0 -8 -9z"/>
<path fill="#2aff00" d="M1405 1138l7 0 -7 -2 -7 1zM1391 1136l7 1 -8 -2 -7 -1z"/>
<path fill="#fa0" d="M1151 1036l8 11 -7 1 -8 -11z"/>
<path fill="#2aff00" d="M1420 1140l7 -1 -8 -2 -7 1z"/>
<path fill="#40ff00" d="M1376 1133l7 1 -7 -1 -7 -1z"/>
<path fill="#2aff00" d="M1435 1141l7 -1 -8 -2 -7 1z"/>
<path fill="#40ff00" d="M1362 1130l7 2 -8 -2 -7 -2z"/>
<path fill="#2aff00" d="M1449 1142l7 -2 -7 -2 -7 2z"/>
<path fill="#40ff00" d="M1347 1125l7 3 -7 -1 -7 -3z"/>
<path fill="#bfff00" d="M1252 1089l8 7 -7 0 -8 -7z"/>
<path fill="#2aff00" d="M1464 1142l7 -2 -8 -3 -7 3z"/>
<path fill="#5f0" d="M1333 1121l7 3 -8 -1 -7 -3z"/>
<path fill="#ffd500" d="M1187 1056l8 9 -7 1 -8 -10z"/>
<path fill="#2aff00" d="M1479 1142l7 -4 -8 -2 -7 4z"/>
<path fill="#6aff00" d="M1318 1116l7 4 -7 -1 -7 -4z"/>
<path fill="#eaff00" d="M1238 1082l7 7 -7 0 -7 -7z"/>
<path fill="#2aff00" d="M1493 1141l7 -4 -8 -3 -6 4z"/>
<path fill="#80ff00" d="M1303 1110l8 5 -7 -1 -8 -5z"/>
<path fill="#ffbf00" d="M1172 1046l8 10 -7 1 -8 -10z"/>
<path fill="#ff0" d="M1223 1073l8 9 -7 0 -8 -8z"/>
<path fill="#95ff00" d="M1289 1104l7 5 -7 0 -7 -6z"/>
<path fill="#2aff00" d="M1413 1140l7 0 -8 -2 -7 0zM1398 1138l7 0 -7 -1 -7 -1z"/>
<path fill="#af0" d="M1274 1097l8 6 -8 0 -7 -6z"/>
<path fill="#2aff00" d="M1428 1142l7 -1 -8 -2 -7 1z"/>
<path fill="#40ff00" d="M1384 1134l7 2 -8 -2 -7 -1z"/>
<path fill="#2aff00" d="M1442 1144l7 -2 -7 -2 -7 1z"/>
<path fill="#ffea00" d="M1208 1064l8 10 -7 0 -7 -9z"/>
<path fill="#40ff00" d="M1369 1131l7 2 -7 -1 -7 -2z"/>
<path fill="#ff9500" d="M1157 1035l8 12 -6 0 -8 -11z"/>
<path fill="#2aff00" d="M1457 1144l7 -2 -8 -2 -7 2z"/>
<path fill="#40ff00" d="M1354 1127l8 3 -8 -2 -7 -3z"/>
<path fill="#2aff00" d="M1472 1145l7 -3 -8 -2 -7 2z"/>
<path fill="#d5ff00" d="M1259 1090l8 7 -7 -1 -8 -7z"/>
<path fill="#5f0" d="M1340 1122l7 3 -7 -1 -7 -3z"/>
<path fill="#2aff00" d="M1486 1145l7 -4 -7 -3 -7 4z"/>
<path fill="#ffd500" d="M1194 1055l8 10 -7 0 -8 -9z"/>
<path fill="#6aff00" d="M1325 1117l8 4 -8 -1 -7 -4z"/>
<path fill="#ff0" d="M1245 1082l7 7 -7 0 -7 -7z"/>
<path fill="#80ff00" d="M1311 1111l7 5 -7 -1 -8 -5z"/>
<path fill="#fa0" d="M1179 1045l8 11 -7 0 -8 -10z"/>
<path fill="#95ff00" d="M1296 1104l7 6 -7 -1 -7 -5z"/>
<path fill="#ffea00" d="M1230 1073l8 9 -7 0 -8 -9z"/>
<path fill="#2aff00" d="M1421 1142l7 0 -8 -2 -7 0zM1435 1144l7 0 -7 -3 -7 1z"/>
<path fill="#40ff00" d="M1406 1139l7 1 -8 -2 -7 0z"/>
<path fill="#2aff00" d="M1450 1146l7 -2 -8 -2 -7 2z"/>
<path fill="#40ff00" d="M1391 1136l7 2 -7 -2 -7 -2z"/>
<path fill="#bfff00" d="M1281 1097l8 7 -7 -1 -8 -6z"/>
<path fill="#2aff00" d="M1465 1147l7 -2 -8 -3 -7 2z"/>
<path fill="#40ff00" d="M1377 1132l7 2 -8 -1 -7 -2z"/>
<path fill="#ffd500" d="M1215 1064l8 9 -7 1 -8 -10z"/>
<path fill="#2aff00" d="M1480 1147l6 -2 -7 -3 -7 3z"/>
<path fill="#5f0" d="M1362 1128l7 3 -7 -1 -8 -3z"/>
<path fill="#ff9500" d="M1164 1034l8 12 -7 1 -8 -12z"/>
<path fill="#d5ff00" d="M1267 1090l7 7 -7 0 -8 -7z"/>
<path fill="#5f0" d="M1347 1123l7 4 -7 -2 -7 -3z"/>
<path fill="#6aff00" d="M1333 1117l7 5 -7 -1 -8 -4z"/>
<path fill="#ffbf00" d="M1200 1054l8 10 -6 1 -8 -10z"/>
<path fill="#ff0" d="M1252 1081l7 9 -7 -1 -7 -7z"/>
<path fill="#80ff00" d="M1318 1111l7 6 -7 -1 -7 -5z"/>
<path fill="#af0" d="M1303 1105l8 6 -8 -1 -7 -6z"/>
<path fill="#ffea00" d="M1237 1073l8 9 -7 0 -8 -9z"/>
<path fill="#fa0" d="M1186 1044l8 11 -7 1 -8 -11z"/>
<path fill="#2aff00" d="M1428 1144l7 0 -7 -2 -7 0zM1443 1146l7 0 -8 -2 -7 0z"/>
<path fill="#40ff00" d="M1414 1141l7 1 -8 -2 -7 -1z"/>
<path fill="#2aff00" d="M1458 1148l7 -1 -8 -3 -7 2z"/>
<path fill="#40ff00" d="M1399 1138l7 1 -8 -1 -7 -2z"/>
<path fill="#2aff00" d="M1473 1149l7 -2 -8 -2 -7 2z"/>
<path fill="#40ff00" d="M1384 1134l7 2 -7 -2 -7 -2z"/>
<path fill="#bfff00" d="M1288 1097l8 7 -7 0 -8 -7z"/>
<path fill="#5f0" d="M1369 1129l8 3 -8 -1 -7 -3z"/>
<path fill="#ffd500" d="M1222 1063l8 10 -7 0 -8 -9z"/>
<path fill="#ff8000" d="M1171 1033l8 12 -7 1 -8 -12z"/>
<path fill="#6aff00" d="M1355 1124l7 4 -8 -1 -7 -4z"/>
<path fill="#eaff00" d="M1274 1090l7 7 -7 0 -7 -7z"/>
<path fill="#80ff00" d="M1340 1118l7 5 -7 -1 -7 -5z"/>
<path fill="#ffbf00" d="M1207 1053l8 11 -7 0 -8 -10z"/>
<path fill="#ff0" d="M1259 1081l8 9 -8 0 -7 -9z"/>
<path fill="#95ff00" d="M1325 1112l8 5 -8 0 -7 -6z"/>
<path fill="#af0" d="M1310 1105l8 6 -7 0 -8 -6z"/>
<path fill="#2aff00" d="M1451 1148l7 0 -8 -2 -7 0z"/>
<path fill="#40ff00" d="M1436 1146l7 0 -8 -2 -7 0z"/>
<path fill="#2aff00" d="M1466 1150l7 -1 -8 -2 -7 1z"/>
<path fill="#40ff00" d="M1421 1143l7 1 -7 -2 -7 -1z"/>
<path fill="#ffea00" d="M1244 1072l8 9 -7 1 -8 -9z"/>
<path fill="#ff9500" d="M1192 1043l8 11 -6 1 -8 -11z"/>
<path fill="#40ff00" d="M1406 1139l8 2 -8 -2 -7 -1z"/>
<path fill="#5f0" d="M1392 1135l7 3 -8 -2 -7 -2z"/>
<path fill="#d5ff00" d="M1296 1098l7 7 -7 -1 -8 -7z"/>
<path fill="#5f0" d="M1377 1130l7 4 -7 -2 -8 -3z"/>
<path fill="#ffd500" d="M1229 1063l8 10 -7 0 -8 -10z"/>
<path fill="#6aff00" d="M1362 1125l7 4 -7 -1 -7 -4z"/>
<path fill="#ff0" d="M1281 1090l7 7 -7 0 -7 -7z"/>
<path fill="#ff8000" d="M1177 1032l9 12 -7 1 -8 -12z"/>
<path fill="#80ff00" d="M1347 1119l8 5 -8 -1 -7 -5z"/>
<path fill="#fa0" d="M1214 1053l8 10 -7 1 -8 -11z"/>
<path fill="#ffea00" d="M1266 1081l8 9 -7 0 -8 -9z"/>
<path fill="#95ff00" d="M1333 1113l7 5 -7 -1 -8 -5z"/>
<path fill="#2aff00" d="M1459 1150l7 0 -8 -2 -7 0z"/>
<path fill="#40ff00" d="M1444 1148l7 0 -8 -2 -7 0zM1429 1144l7 2 -8 -2 -7 -1z"/>
<path fill="#bfff00" d="M1318 1106l7 6 -7 -1 -8 -6z"/>
<path fill="#40ff00" d="M1414 1141l7 2 -7 -2 -8 -2z"/>
<path fill="#ffd500" d="M1251 1072l8 9 -7 0 -8 -9z"/>
<path fill="#ff9500" d="M1199 1042l8 11 -7 1 -8 -11z"/>
<path fill="#5f0" d="M1399 1136l7 3 -7 -1 -7 -3z"/>
<path fill="#d5ff00" d="M1303 1098l7 7 -7 0 -7 -7z"/>
<path fill="#5f0" d="M1385 1131l7 4 -8 -1 -7 -4z"/>
<path fill="#6aff00" d="M1370 1126l7 4 -8 -1 -7 -4z"/>
<path fill="#ffbf00" d="M1236 1062l8 10 -7 1 -8 -10z"/>
<path fill="#ff0" d="M1288 1090l8 8 -8 -1 -7 -7z"/>
<path fill="#ff6a00" d="M1184 1031l8 12 -6 1 -9 -12z"/>
<path fill="#80ff00" d="M1355 1120l7 5 -7 -1 -8 -5z"/>
<path fill="#af0" d="M1340 1113l7 6 -7 -1 -7 -5z"/>
<path fill="#ffea00" d="M1273 1081l8 9 -7 0 -8 -9z"/>
<path fill="#fa0" d="M1221 1052l8 11 -7 0 -8 -10z"/>
<path fill="#40ff00" d="M1452 1150l7 0 -8 -2 -7 0zM1437 1146l7 2 -8 -2 -7 -2z"/>
<path fill="#bfff00" d="M1325 1106l8 7 -8 -1 -7 -6z"/>
<path fill="#40ff00" d="M1422 1142l7 2 -8 -1 -7 -2z"/>
<path fill="#5f0" d="M1407 1138l7 3 -8 -2 -7 -3z"/>
<path fill="#ffd500" d="M1258 1072l8 9 -7 0 -8 -9z"/>
<path fill="#ff8000" d="M1206 1041l8 12 -7 0 -8 -11z"/>
<path fill="#6aff00" d="M1392 1133l7 3 -7 -1 -7 -4z"/>
<path fill="#eaff00" d="M1310 1099l8 7 -8 -1 -7 -7z"/>
<path fill="#80ff00" d="M1377 1127l8 4 -8 -1 -7 -4z"/>
<path fill="#ffbf00" d="M1243 1062l8 10 -7 0 -8 -10z"/>
<path fill="#ff0" d="M1295 1090l8 8 -7 0 -8 -8z"/>
<path fill="#95ff00" d="M1363 1121l7 5 -8 -1 -7 -5z"/>
<path fill="#ff6a00" d="M1191 1030l8 12 -7 1 -8 -12z"/>
<path fill="#af0" d="M1348 1114l7 6 -8 -1 -7 -6z"/>
<path fill="#ffea00" d="M1281 1081l7 9 -7 0 -8 -9z"/>
<path fill="#ff9500" d="M1228 1052l8 10 -7 1 -8 -11z"/>
<path fill="#40ff00" d="M1445 1148l7 2 -8 -2 -7 -2z"/>
<path fill="#5f0" d="M1430 1144l7 2 -8 -2 -7 -2z"/>
<path fill="#d5ff00" d="M1333 1107l7 6 -7 0 -8 -7z"/>
<path fill="#5f0" d="M1415 1139l7 3 -8 -1 -7 -3z"/>
<path fill="#ffd500" d="M1266 1072l7 9 -7 0 -8 -9z"/>
<path fill="#6aff00" d="M1400 1134l7 4 -8 -2 -7 -3z"/>
<path fill="#ff8000" d="M1213 1040l8 12 -7 1 -8 -12z"/>
<path fill="#ff0" d="M1318 1099l7 7 -7 0 -8 -7z"/>
<path fill="#80ff00" d="M1385 1128l7 5 -7 -2 -8 -4z"/>
<path fill="#fa0" d="M1251 1062l7 10 -7 0 -8 -10z"/>
<path fill="#ffea00" d="M1303 1090l7 9 -7 -1 -8 -8z"/>
<path fill="#95ff00" d="M1370 1122l7 5 -7 -1 -7 -5z"/>
<path fill="#f50" d="M1198 1029l8 12 -7 1 -8 -12z"/>
<path fill="#bfff00" d="M1355 1115l8 6 -8 -1 -7 -6z"/>
<path fill="#ffd500" d="M1288 1081l7 9 -7 0 -7 -9z"/>
<path fill="#ff9500" d="M1235 1051l8 11 -7 0 -8 -10z"/>
<path fill="#5f0" d="M1438 1146l7 2 -8 -2 -7 -2z"/>
<path fill="#d5ff00" d="M1340 1107l8 7 -8 -1 -7 -6z"/>
<path fill="#5f0" d="M1423 1141l7 3 -8 -2 -7 -3z"/>
<path fill="#6aff00" d="M1408 1135l7 4 -8 -1 -7 -4z"/>
<path fill="#ffbf00" d="M1273 1072l8 9 -8 0 -7 -9z"/>
<path fill="#ff0" d="M1325 1099l8 8 -8 -1 -7 -7z"/>
<path fill="#ff6a00" d="M1220 1040l8 12 -7 0 -8 -12z"/>
<path fill="#80ff00" d="M1393 1129l7 5 -8 -1 -7 -5z"/>
<path fill="#95ff00" d="M1378 1123l7 5 -8 -1 -7 -5z"/>
<path fill="#fa0" d="M1258 1061l8 11 -8 0 -7 -10z"/>
<path fill="#ffea00" d="M1310 1091l8 8 -8 0 -7 -9z"/>
<path fill="#f50" d="M1205 1028l8 12 -7 1 -8 -12z"/>
<path fill="#bfff00" d="M1363 1116l7 6 -7 -1 -8 -6z"/>
<path fill="#ffd500" d="M1295 1081l8 9 -8 0 -7 -9z"/>
<path fill="#ff8000" d="M1243 1050l8 12 -8 0 -8 -11z"/>
<path fill="#eaff00" d="M1348 1108l7 7 -7 -1 -8 -7z"/>
<path fill="#6aff00" d="M1431 1142l7 4 -8 -2 -7 -3z"/>
<path fill="#80ff00" d="M1416 1137l7 4 -8 -2 -7 -4z"/>
<path fill="#ffbf00" d="M1280 1071l8 10 -7 0 -8 -9z"/>
<path fill="#ff0" d="M1333 1100l7 7 -7 0 -8 -8z"/>
<path fill="#95ff00" d="M1401 1131l7 4 -8 -1 -7 -5z"/>
<path fill="#ff6a00" d="M1227 1039l8 12 -7 1 -8 -12z"/>
<path fill="#af0" d="M1386 1124l7 5 -8 -1 -7 -5z"/>
<path fill="#ffea00" d="M1318 1091l7 8 -7 0 -8 -8z"/>
<path fill="#fa0" d="M1265 1061l8 11 -7 0 -8 -11z"/>
<path fill="#d5ff00" d="M1371 1117l7 6 -8 -1 -7 -6z"/>
<path fill="#ff4000" d="M1212 1027l8 13 -7 0 -8 -12z"/>
<path fill="#ffd500" d="M1303 1081l7 10 -7 -1 -8 -9z"/>
<path fill="#ff8000" d="M1250 1050l8 11 -7 1 -8 -12z"/>
<path fill="#eaff00" d="M1355 1109l8 7 -8 -1 -7 -7z"/>
<path fill="#80ff00" d="M1423 1138l8 4 -8 -1 -7 -4z"/>
<path fill="#ffbf00" d="M1288 1071l7 10 -7 0 -8 -10z"/>
<path fill="#ffea00" d="M1340 1100l8 8 -8 -1 -7 -7z"/>
<path fill="#95ff00" d="M1408 1132l8 5 -8 -2 -7 -4z"/>
<path fill="#f50" d="M1235 1038l8 12 -8 1 -8 -12z"/>
<path fill="#af0" d="M1393 1125l8 6 -8 -2 -7 -5z"/>
<path fill="#ffea00" d="M1325 1091l8 9 -8 -1 -7 -8z"/>
<path fill="#ff9500" d="M1272 1061l8 10 -7 1 -8 -11z"/>
<path fill="#d5ff00" d="M1378 1117l8 7 -8 -1 -7 -6z"/>
<path fill="#ff4000" d="M1219 1026l8 13 -7 1 -8 -13z"/>
<path fill="#ffd500" d="M1310 1081l8 10 -8 0 -7 -10z"/>
<path fill="#ff0" d="M1363 1109l8 8 -8 -1 -8 -7z"/>
<path fill="#ff8000" d="M1257 1049l8 12 -7 0 -8 -11z"/>
<path fill="#95ff00" d="M1416 1133l7 5 -7 -1 -8 -5z"/>
<path fill="#fa0" d="M1295 1071l8 10 -8 0 -7 -10z"/>
<path fill="#ffea00" d="M1348 1101l7 8 -7 -1 -8 -8z"/>
<path fill="#f50" d="M1242 1037l8 13 -7 0 -8 -12z"/>
<path fill="#bfff00" d="M1401 1126l7 6 -7 -1 -8 -6z"/>
<path fill="#ffd500" d="M1333 1091l7 9 -7 0 -8 -9z"/>
<path fill="#ff9500" d="M1280 1060l8 11 -8 0 -8 -10z"/>
<path fill="#d5ff00" d="M1386 1118l7 7 -7 -1 -8 -7z"/>
<path fill="#ff2a00" d="M1227 1025l8 13 -8 1 -8 -13z"/>
<path fill="#ffbf00" d="M1318 1082l7 9 -7 0 -8 -10z"/>
<path fill="#ff0" d="M1371 1110l7 7 -7 0 -8 -8z"/>
<path fill="#ff6a00" d="M1265 1049l7 12 -7 0 -8 -12z"/>
<path fill="#ffea00" d="M1356 1101l7 8 -8 0 -7 -8z"/>
<path fill="#fa0" d="M1303 1071l7 10 -7 0 -8 -10z"/>
<path fill="#bfff00" d="M1409 1127l7 6 -8 -1 -7 -6z"/>
<path fill="#ff4000" d="M1249 1037l8 12 -7 1 -8 -13z"/>
<path fill="#ffd500" d="M1341 1092l7 9 -8 -1 -7 -9z"/>
<path fill="#ff8000" d="M1287 1060l8 11 -7 0 -8 -11z"/>
<path fill="#eaff00" d="M1394 1119l7 7 -8 -1 -7 -7z"/>
<path fill="#ffbf00" d="M1325 1082l8 9 -8 0 -7 -9z"/>
<path fill="#ff2a00" d="M1234 1024l8 13 -7 1 -8 -13z"/>
<path fill="#ff0" d="M1379 1111l7 7 -8 -1 -7 -7z"/>
<path fill="#ff6a00" d="M1272 1048l8 12 -8 1 -7 -12z"/>
<path fill="#ffea00" d="M1364 1102l7 8 -8 -1 -7 -8z"/>
<path fill="#ff9500" d="M1310 1071l8 11 -8 -1 -7 -10z"/>
<path fill="#ff4000" d="M1257 1036l8 13 -8 0 -8 -12z"/>
<path fill="#ffd500" d="M1348 1092l8 9 -8 0 -7 -9z"/>
<path fill="#eaff00" d="M1402 1120l7 7 -8 -1 -7 -7z"/>
<path fill="#ff8000" d="M1295 1060l8 11 -8 0 -8 -11z"/>
<path fill="#fa0" d="M1333 1082l8 10 -8 -1 -8 -9z"/>
<path fill="#ffea00" d="M1387 1112l7 7 -8 -1 -7 -7z"/>
<path fill="#ff1500" d="M1241 1023l8 14 -7 0 -8 -13z"/>
<path fill="#f50" d="M1279 1048l8 12 -7 0 -8 -12z"/>
<path fill="#ffd500" d="M1371 1102l8 9 -8 -1 -7 -8z"/>
<path fill="#ff9500" d="M1318 1071l7 11 -7 0 -8 -11z"/>
<path fill="#ff2a00" d="M1264 1035l8 13 -7 1 -8 -13z"/>
<path fill="#ffbf00" d="M1356 1092l8 10 -8 -1 -8 -9z"/>
<path fill="#ff6a00" d="M1302 1059l8 12 -7 0 -8 -11z"/>
<path fill="#ffea00" d="M1395 1112l7 8 -8 -1 -7 -7z"/>
<path fill="#fa0" d="M1341 1082l7 10 -7 0 -8 -10z"/>
<path fill="#f00" d="M1249 1022l8 14 -8 1 -8 -14z"/>
<path fill="#f50" d="M1287 1047l8 13 -8 0 -8 -12z"/>
<path fill="#ffd500" d="M1379 1103l8 9 -8 -1 -8 -9z"/>
<path fill="#ff9500" d="M1325 1071l8 11 -8 0 -7 -11z"/>
<path fill="#ffbf00" d="M1364 1093l7 9 -7 0 -8 -10z"/>
<path fill="#ff2a00" d="M1272 1034l7 14 -7 0 -8 -13z"/>
<path fill="#ff6a00" d="M1310 1059l8 12 -8 0 -8 -12z"/>
<path fill="#fa0" d="M1349 1082l7 10 -8 0 -7 -10z"/>
<path fill="#f00" d="M1256 1021l8 14 -7 1 -8 -14z"/>
<path fill="#ff4000" d="M1295 1047l7 12 -7 1 -8 -13z"/>
<path fill="#ffd500" d="M1387 1103l8 9 -8 0 -8 -9z"/>
<path fill="#ff8000" d="M1333 1071l8 11 -8 0 -8 -11z"/>
<path fill="#ffbf00" d="M1372 1093l7 10 -8 -1 -7 -9z"/>
<path fill="#ff2a00" d="M1279 1034l8 13 -8 1 -7 -14z"/>
<path fill="#ff6a00" d="M1318 1059l7 12 -7 0 -8 -12z"/>
<path fill="#ff9500" d="M1357 1082l7 11 -8 -1 -7 -10z"/>
<path fill="#f00" d="M1263 1020l9 14 -8 1 -8 -14z"/>
<path fill="#ff4000" d="M1302 1046l8 13 -8 0 -7 -12z"/>
<path fill="#ff8000" d="M1341 1071l8 11 -8 0 -8 -11z"/>
<path fill="#fa0" d="M1380 1094l7 9 -8 0 -7 -10z"/>
<path fill="#ff1500" d="M1287 1033l8 14 -8 0 -8 -13z"/>
<path fill="#f50" d="M1326 1059l7 12 -8 0 -7 -12z"/>
<path fill="#ff9500" d="M1364 1083l8 10 -8 0 -7 -11z"/>
<path fill="#f00" d="M1271 1019l8 15 -7 0 -9 -14z"/>
<path fill="#ff2a00" d="M1310 1046l8 13 -8 0 -8 -13z"/>
<path fill="#ff6a00" d="M1349 1071l8 11 -8 0 -8 -11z"/>
<path fill="#f00" d="M1294 1032l8 14 -7 1 -8 -14z"/>
<path fill="#f50" d="M1333 1058l8 13 -8 0 -7 -12z"/>
<path fill="#ff9500" d="M1372 1083l8 11 -8 -1 -8 -10z"/>
<path fill="#f00" d="M1279 1018l8 15 -8 1 -8 -15z"/>
<path fill="#ff2a00" d="M1318 1045l8 14 -8 0 -8 -13z"/>
<path fill="#ff6a00" d="M1357 1071l7 12 -7 -1 -8 -11z"/>
<path fill="#f00" d="M1302 1032l8 14 -8 0 -8 -14z"/>
<path fill="#ff4000" d="M1341 1058l8 13 -8 0 -8 -13z"/>
<path fill="#f00" d="M1286 1017l8 15 -7 1 -8 -15z"/>
<path fill="#ff2a00" d="M1326 1045l7 13 -7 1 -8 -14z"/>
<path fill="#ff6a00" d="M1365 1071l7 12 -8 0 -7 -12z"/>
<path fill="#f00" d="M1310 1031l8 14 -8 1 -8 -14z"/>
<path fill="#ff4000" d="M1349 1058l8 13 -8 0 -8 -13z"/>
<path fill="#f00" d="M1294 1016l8 16 -8 0 -8 -15z"/>
<path fill="#ff1500" d="M1334 1045l7 13 -8 0 -7 -13z"/>
<path fill="#f00" d="M1318 1030l8 15 -8 0 -8 -14z"/>
<path fill="#ff4000" d="M1357 1058l8 13 -8 0 -8 -13z"/>
<path fill="#f00" d="M1342 1044l7 14 -8 0 -7 -13zM1302 1016l8 15 -8 1 -8 -16zM1326 1030l8 15 -8 0 -8 -15zM1350 1044l7 14 -8 0 -7 -14zM1310 1015l8 15 -8 1 -8 -15zM1334 1029l8 15 -8 1 -8 -15zM1318 1014l8 16 -8 0 -8 -15zM1342 1029l8 15 -8 0 -8 -15zM1326 1013l8 16 -8 1 -8 -16zM1334 1012l8 17 -8 0 -8 -16z"/>
</g>
</g>
<g id="pe">
<polyline fill="none" stroke="#000" stroke-width="2.2" points="135.4,2043 115.7,1636.3 486.5,1582.5 754,1673.9 731.7,2098.8"/>
<line stroke="#000" stroke-width="2.2" x1="486.5" y1="1582.5" x2="483.5" y2="1961"/>
<polygon fill="#ff0" stroke="none" points="135.4,2043 353,2213 731.7,2098.8 483.5,1961"/>
<polyline fill="none" stroke="#0000e6" stroke-width="1.8" points="207.5,2027.5 240.8,2068.2 277.7,2108.8 314.6,2138.3 351.6,2164.2 399.6,2197.4"/>
<polyline fill="none" stroke="#00f0f0" stroke-width="1.8" points="248.2,2020.2 288.8,2057.1 333.1,2094 388.5,2131 455,2182.6"/>
<polyline fill="none" stroke="#33ee00" stroke-width="1.8" points="285.1,2009.1 333.1,2053.4 388.5,2094 443.9,2119.9 517.7,2162.3"/>
<polyline fill="none" stroke="#ff8000" stroke-width="1.8" points="373.7,2033.1 425.4,2057.1 480.8,2086.6 536.2,2108.8 599,2138.3"/>
<polyline fill="none" stroke="#00f0f0" stroke-width="1.8" points="403.3,1998 443.9,2020.2 499.3,2042.3 554.7,2060.8 610.1,2077.4 706.1,2082.9"/>
<polygon fill="none" stroke="#000" stroke-width="2.2" stroke-linejoin="miter" points="135.4,2043 353,2213 731.7,2098.8 483.5,1961"/>
<g stroke="none">
<path fill="#00f" d="M351 2053l20 -18 -12 -10 -20 19zM339 2044l20 -19 -12 -8 -19 18zM328 2035l19 -18 -12 -9 -18 19zM317 2027l18 -19 -11 -8 -19 19zM305 2019l19 -19 -11 -7 -19 19zM294 2012l19 -19 -11 -7 -19 19zM283 2005l19 -19 -11 -7 -18 20zM273 1999l18 -20 -11 -6 -18 20zM262 1993l18 -20 -10 -6 -18 20zM252 1987l18 -20 -10 -5 -19 20zM241 1982l19 -20 -11 -5 -18 20zM231 1977l18 -20 -10 -5 -17 21zM222 1973l17 -21 -9 -4 -18 21zM212 1969l18 -21 -10 -4 -18 21zM202 1965l18 -21 -10 -4 -17 21zM193 1961l17 -21 -9 -4 -18 22zM183 1958l18 -22 -10 -3 -17 22zM174 1955l17 -22 -9 -3 -17 22zM165 1952l17 -22 -9 -3 -17 23zM156 1950l17 -23 -9 -2 -16 23zM148 1948l16 -23 -8 -3 -17 24zM139 1946l17 -24 -9 -2 -16 24zM371 2035l19 -20 -12 -9 -19 19zM359 2025l19 -19 -12 -9 -19 20zM347 2017l19 -20 -12 -8 -19 19zM335 2008l19 -19 -11 -8 -19 19zM324 2000l19 -19 -11 -7 -19 19zM313 1993l19 -19 -11 -7 -19 19zM302 1986l19 -19 -11 -7 -19 19zM291 1979l19 -19 -11 -6 -19 19zM280 1973l19 -19 -11 -6 -18 19zM270 1967l18 -19 -10 -6 -18 20zM260 1962l18 -20 -11 -5 -18 20zM249 1957l18 -20 -10 -5 -18 20zM239 1952l18 -20 -10 -4 -17 20zM230 1948l17 -20 -10 -5 -17 21zM220 1944l17 -21 -9 -4 -18 21zM210 1940l18 -21 -10 -4 -17 21zM201 1936l17 -21 -9 -3 -18 21zM191 1933l18 -21 -10 -3 -17 21zM182 1930l17 -21 -9 -3 -17 21zM173 1927l17 -21 -9 -3 -17 22zM164 1925l17 -22 -9 -3 -16 22zM156 1922l16 -22 -8 -2 -17 22zM390 2015l19 -19 -12 -9 -19 19zM378 2006l19 -19 -12 -9 -19 19zM366 1997l19 -19 -12 -8 -19 19zM354 1989l19 -19 -11 -8 -19 19zM343 1981l19 -19 -12 -8 -18 20zM332 1974l18 -20 -11 -7 -18 20zM321 1967l18 -20 -11 -6 -18 19zM310 1960l18 -19 -11 -6 -18 19zM299 1954l18 -19 -11 -6 -18 19zM288 1948l18 -19 -10 -6 -18 19zM278 1942l18 -19 -11 -5 -18 19zM267 1937l18 -19 -10 -5 -18 19zM257 1932l18 -19 -10 -5 -18 20zM247 1928l18 -20 -10 -5 -18 20zM237 1923l18 -20 -10 -4 -17 20zM228 1919l17 -20 -10 -4 -17 20zM218 1915l17 -20 -9 -3 -17 20zM209 1912l17 -20 -9 -4 -18 21zM199 1909l18 -21 -10 -3 -17 21zM190 1906l17 -21 -9 -3 -17 21zM181 1903l17 -21 -9 -2 -17 20zM172 1900l17 -20 -9 -3 -16 21zM409 1996l19 -20 -12 -9 -19 20zM397 1987l19 -20 -12 -8 -19 19zM385 1978l19 -19 -12 -9 -19 20zM373 1970l19 -20 -12 -7 -18 19zM362 1962l18 -19 -11 -8 -19 19zM350 1954l19 -19 -12 -6 -18 18zM339 1947l18 -18 -11 -7 -18 19zM328 1941l18 -19 -11 -6 -18 19zM317 1935l18 -19 -11 -6 -18 19zM306 1929l18 -19 -10 -6 -18 19zM296 1923l18 -19 -11 -5 -18 19zM285 1918l18 -19 -10 -5 -18 19zM275 1913l18 -19 -10 -5 -18 19zM265 1908l18 -19 -11 -5 -17 19zM255 1903l17 -19 -9 -4 -18 19zM245 1899l18 -19 -10 -4 -18 19zM235 1895l18 -19 -10 -4 -17 20zM226 1892l17 -20 -9 -3 -17 19zM217 1888l17 -19 -10 -4 -17 20zM207 1885l17 -20 -9 -3 -17 20zM198 1882l17 -20 -9 -2 -17 20zM189 1880l17 -20 -9 -3 -17 20zM428 1976l19 -19 -12 -9 -19 19zM416 1967l19 -19 -13 -9 -18 20zM404 1959l18 -20 -11 -7 -19 18zM392 1950l19 -18 -12 -8 -19 19zM380 1943l19 -19 -12 -7 -18 18zM369 1935l18 -18 -11 -7 -19 19zM357 1929l19 -19 -12 -7 -18 19zM346 1922l18 -19 -11 -6 -18 19zM335 1916l18 -19 -11 -6 -18 19zM324 1910l18 -19 -10 -5 -18 18zM314 1904l18 -18 -11 -6 -18 19zM303 1899l18 -19 -11 -5 -17 19zM293 1894l17 -19 -10 -5 -17 19zM283 1889l17 -19 -10 -4 -18 18zM272 1884l18 -18 -10 -5 -17 19zM263 1880l17 -19 -10 -4 -17 19zM253 1876l17 -19 -10 -4 -17 19zM243 1872l17 -19 -9 -3 -17 19zM234 1869l17 -19 -10 -4 -17 19zM224 1865l17 -19 -9 -3 -17 19zM215 1862l17 -19 -9 -3 -17 20zM206 1860l17 -20 -10 -2 -16 19zM447 1957l19 -19 -13 -9 -18 19zM435 1948l18 -19 -12 -8 -19 18zM422 1939l19 -18 -12 -8 -18 19zM310 1875l18 -18 -10 -5 -18 18zM300 1870l18 -18 -11 -4 -17 18zM290 1866l17 -18 -10 -5 -17 18zM280 1861l17 -18 -10 -4 -17 18zM270 1857l17 -18 -10 -4 -17 18zM260 1853l17 -18 -9 -4 -17 19zM251 1850l17 -19 -10 -3 -17 18zM241 1846l17 -18 -9 -4 -17 19zM232 1843l17 -19 -10 -2 -16 18zM223 1840l16 -18 -9 -3 -17 19zM239 1822l17 -19 -9 -2 -17 18z"/>
<path fill="#0015ff" d="M411 1932l18 -19 -12 -7 -18 18zM399 1924l18 -18 -12 -7 -18 18zM387 1917l18 -18 -11 -7 -18 18zM376 1910l18 -18 -11 -6 -19 17zM364 1903l19 -17 -12 -7 -18 18zM353 1897l18 -18 -11 -5 -18 17zM342 1891l18 -17 -11 -6 -17 18zM332 1886l17 -18 -10 -5 -18 17zM321 1880l18 -17 -11 -6 -18 18zM249 1824l16 -18 -9 -3 -17 19z"/>
<path fill="#05f" d="M466 1938l18 -18 -12 -9 -19 18zM297 1843l17 -17 -10 -5 -17 18zM287 1839l17 -18 -10 -4 -17 18z"/>
<path fill="#006aff" d="M453 1929l19 -18 -12 -8 -19 18zM318 1852l17 -17 -10 -5 -18 18zM307 1848l18 -18 -11 -4 -17 17z"/>
<path fill="#0080ff" d="M441 1921l19 -18 -13 -7 -18 17zM429 1913l18 -17 -12 -8 -18 18zM339 1863l17 -18 -10 -5 -18 17zM328 1857l18 -17 -11 -5 -17 17z"/>
<path fill="#0095ff" d="M417 1906l18 -18 -11 -7 -19 18zM405 1899l19 -18 -12 -6 -18 17zM394 1892l18 -17 -11 -7 -18 18zM383 1886l18 -18 -12 -6 -18 17zM371 1879l18 -17 -11 -6 -18 18zM360 1874l18 -18 -11 -5 -18 17zM349 1868l18 -17 -11 -6 -17 18zM256 1803l16 -18 -9 -3 -16 19z"/>
<path fill="#0040ff" d="M277 1835l17 -18 -10 -4 -16 18zM268 1831l16 -18 -9 -3 -17 18z"/>
<path fill="#002aff" d="M258 1828l17 -18 -10 -4 -16 18z"/>
<path fill="#00eaff" d="M484 1920l19 -17 -12 -9 -19 17zM294 1817l17 -17 -10 -4 -17 17z"/>
<path fill="#0ff" d="M472 1911l19 -17 -13 -8 -18 17zM314 1826l18 -18 -11 -4 -17 17zM304 1821l17 -17 -10 -4 -17 17z"/>
<path fill="#00ffea" d="M460 1903l18 -17 -12 -7 -19 17zM447 1896l19 -17 -12 -8 -19 17zM346 1840l17 -17 -11 -5 -17 17zM335 1835l17 -17 -10 -5 -17 17zM325 1830l17 -17 -10 -5 -18 18z"/>
<path fill="#00ffd4" d="M435 1888l19 -17 -12 -6 -18 16zM424 1881l18 -16 -12 -7 -18 17zM412 1875l18 -17 -11 -6 -18 16zM401 1868l18 -16 -12 -6 -18 16zM389 1862l18 -16 -11 -6 -18 16zM378 1856l18 -16 -11 -6 -18 17zM367 1851l18 -17 -11 -6 -18 17zM356 1845l18 -17 -11 -5 -17 17z"/>
<path fill="#00d4ff" d="M284 1813l17 -17 -9 -4 -17 18z"/>
<path fill="#00bfff" d="M275 1810l17 -18 -10 -4 -17 18z"/>
<path fill="#0af" d="M265 1806l17 -18 -10 -3 -16 18z"/>
<path fill="#00ff95" d="M503 1903l19 -17 -13 -8 -18 16zM292 1792l16 -18 -10 -3 -16 17z"/>
<path fill="#00ff80" d="M491 1894l18 -16 -13 -8 -18 16zM301 1796l17 -18 -10 -4 -16 18z"/>
<path fill="#00ff6a" d="M478 1886l18 -16 -12 -7 -18 16zM466 1879l18 -16 -12 -8 -18 16zM332 1808l17 -16 -11 -5 -17 17zM321 1804l17 -17 -10 -4 -17 17zM311 1800l17 -17 -10 -5 -17 18z"/>
<path fill="#0f5" d="M454 1871l18 -16 -12 -6 -18 16zM442 1865l18 -16 -12 -7 -18 16zM430 1858l18 -16 -12 -6 -17 16zM419 1852l17 -16 -11 -6 -18 16zM407 1846l18 -16 -12 -6 -17 16zM396 1840l17 -16 -11 -6 -17 16zM385 1834l17 -16 -11 -6 -17 16zM374 1828l17 -16 -11 -5 -17 16zM363 1823l17 -16 -10 -5 -18 16zM352 1818l18 -16 -11 -5 -17 16zM342 1813l17 -16 -10 -5 -17 16z"/>
<path fill="#0fa" d="M282 1788l16 -17 -9 -3 -17 17z"/>
<path fill="#00ffbf" d="M272 1785l17 -17 -10 -3 -16 17z"/>
<path fill="#00ff15" d="M522 1886l18 -15 -13 -8 -18 15zM289 1768l16 -18 -9 -3 -17 18z"/>
<path fill="#0f0" d="M509 1878l18 -15 -12 -8 -19 15zM496 1870l19 -15 -13 -8 -18 16zM298 1771l17 -17 -10 -4 -16 18z"/>
<path fill="#15ff00" d="M484 1863l18 -16 -12 -7 -18 15zM472 1855l18 -15 -12 -7 -18 16zM460 1849l18 -16 -12 -6 -18 15zM448 1842l18 -15 -12 -6 -18 15zM436 1836l18 -15 -11 -7 -18 16zM338 1787l17 -16 -10 -5 -17 17zM328 1783l17 -17 -10 -4 -17 16zM318 1778l17 -16 -10 -5 -17 17zM308 1774l17 -17 -10 -3 -17 17z"/>
<path fill="#2aff00" d="M425 1830l18 -16 -12 -6 -18 16zM413 1824l18 -16 -11 -5 -18 15zM402 1818l18 -15 -11 -6 -18 15zM391 1812l18 -15 -11 -6 -18 16zM380 1807l18 -16 -11 -5 -17 16zM370 1802l17 -16 -11 -5 -17 16zM359 1797l17 -16 -10 -5 -17 16zM349 1792l17 -16 -11 -5 -17 16z"/>
<path fill="#40ff00" d="M540 1871l18 -14 -13 -9 -18 15zM527 1863l18 -15 -12 -7 -18 14z"/>
<path fill="#5f0" d="M515 1855l18 -14 -13 -8 -18 14zM502 1847l18 -14 -12 -7 -18 14zM490 1840l18 -14 -12 -7 -18 14z"/>
<path fill="#6aff00" d="M478 1833l18 -14 -12 -6 -18 14zM466 1827l18 -14 -12 -7 -18 15zM454 1821l18 -15 -12 -6 -17 14zM443 1814l17 -14 -11 -6 -18 14zM431 1808l18 -14 -12 -6 -17 15zM420 1803l17 -15 -11 -6 -17 15zM325 1757l16 -16 -10 -4 -16 17zM315 1754l16 -17 -9 -4 -17 17zM305 1750l17 -17 -10 -3 -16 17z"/>
<path fill="#80ff00" d="M409 1797l17 -15 -11 -6 -17 15zM398 1791l17 -15 -11 -5 -17 15zM387 1786l17 -15 -11 -6 -17 16zM376 1781l17 -16 -10 -5 -17 16zM366 1776l17 -16 -11 -5 -17 16zM355 1771l17 -16 -10 -5 -17 16zM345 1766l17 -16 -11 -5 -16 17zM335 1762l16 -17 -10 -4 -16 16zM558 1857l18 -14 -12 -8 -19 13zM545 1848l19 -13 -13 -8 -18 14z"/>
<path fill="#95ff00" d="M533 1841l18 -14 -13 -7 -18 13zM520 1833l18 -13 -12 -7 -18 13z"/>
<path fill="#af0" d="M508 1826l18 -13 -13 -7 -17 13zM496 1819l17 -13 -12 -7 -17 14zM484 1813l17 -14 -12 -7 -17 14z"/>
<path fill="#bfff00" d="M472 1806l17 -14 -11 -6 -18 14zM460 1800l18 -14 -12 -6 -17 14zM449 1794l17 -14 -12 -6 -17 14zM576 1843l18 -12 -13 -8 -17 12zM564 1835l17 -12 -12 -8 -18 12z"/>
<path fill="#d5ff00" d="M437 1788l17 -14 -11 -6 -17 14zM426 1782l17 -14 -11 -6 -17 14zM415 1776l17 -14 -11 -6 -17 15zM404 1771l17 -15 -11 -6 -17 15zM393 1765l17 -15 -11 -5 -16 15zM331 1737l17 -17 -10 -4 -16 17zM322 1733l16 -17 -10 -3 -16 17zM551 1827l18 -12 -13 -8 -18 13z"/>
<path fill="#eaff00" d="M383 1760l16 -15 -10 -6 -17 16zM372 1755l17 -16 -11 -5 -16 16zM362 1750l16 -16 -10 -5 -17 16zM351 1745l17 -16 -10 -5 -17 17zM341 1741l17 -17 -10 -4 -17 17zM538 1820l18 -13 -13 -7 -17 13zM526 1813l17 -13 -12 -7 -18 13zM594 1831l18 -11 -13 -9 -18 12z"/>
<path fill="#ff0" d="M513 1806l18 -13 -12 -7 -18 13zM501 1799l18 -13 -12 -7 -18 13zM489 1792l18 -13 -12 -6 -17 13zM581 1823l18 -12 -13 -8 -17 12z"/>
<path fill="#ffea00" d="M478 1786l17 -13 -12 -6 -17 13zM466 1780l17 -13 -11 -7 -18 14zM569 1815l17 -12 -12 -7 -18 11z"/>
<path fill="#ffd500" d="M454 1774l18 -14 -12 -6 -17 14zM443 1768l17 -14 -11 -6 -17 14zM556 1807l18 -11 -13 -8 -18 12z"/>
<path fill="#ffbf00" d="M432 1762l17 -14 -11 -6 -17 14zM421 1756l17 -14 -11 -6 -17 14zM543 1800l18 -12 -13 -7 -17 12zM612 1820l18 -11 -13 -8 -18 10z"/>
<path fill="#fa0" d="M410 1750l17 -14 -11 -6 -17 15zM399 1745l17 -15 -10 -6 -17 15zM389 1739l17 -15 -11 -5 -17 15zM338 1716l16 -16 -10 -4 -16 17zM531 1793l17 -12 -12 -7 -17 12zM519 1786l17 -12 -12 -7 -17 12zM599 1811l18 -10 -13 -9 -18 11z"/>
<path fill="#ff9500" d="M378 1734l17 -15 -10 -6 -17 16zM368 1729l17 -16 -11 -4 -16 15zM358 1724l16 -15 -10 -5 -16 16zM348 1720l16 -16 -10 -4 -16 16zM507 1779l17 -12 -12 -6 -17 12zM495 1773l17 -12 -12 -7 -17 13zM586 1803l18 -11 -13 -7 -17 11z"/>
<path fill="#ff8000" d="M483 1767l17 -13 -11 -7 -17 13zM574 1796l17 -11 -13 -8 -17 11zM561 1788l17 -11 -12 -7 -18 11zM630 1809l18 -10 -14 -8 -17 10z"/>
<path fill="#ff6a00" d="M472 1760l17 -13 -12 -6 -17 13zM460 1754l17 -13 -11 -7 -17 14zM548 1781l18 -11 -12 -7 -18 11zM617 1801l17 -10 -13 -9 -17 10z"/>
<path fill="#f50" d="M449 1748l17 -14 -11 -6 -17 14zM438 1742l17 -14 -11 -6 -17 14zM536 1774l18 -11 -13 -7 -17 11zM604 1792l17 -10 -13 -7 -17 10zM648 1799l17 -9 -13 -8 -18 9z"/>
<path fill="#ff4000" d="M427 1736l17 -14 -11 -6 -17 14zM416 1730l17 -14 -11 -6 -16 14zM524 1767l17 -11 -12 -7 -17 12zM512 1761l17 -12 -12 -7 -17 12zM591 1785l17 -10 -12 -8 -18 10zM578 1777l18 -10 -13 -7 -17 10zM634 1791l18 -9 -13 -9 -18 9z"/>
<path fill="#ff2a00" d="M406 1724l16 -14 -10 -6 -17 15zM395 1719l17 -15 -11 -6 -16 15zM500 1754l17 -12 -11 -7 -17 12zM566 1770l17 -10 -12 -8 -17 11zM621 1782l18 -9 -13 -8 -18 10zM665 1790l17 -8 -13 -9 -17 9z"/>
<path fill="#ff1500" d="M385 1713l16 -15 -10 -5 -17 16zM374 1709l17 -16 -10 -5 -17 16zM364 1704l17 -16 -11 -4 -16 16zM354 1700l16 -16 -10 -4 -16 16zM489 1747l17 -12 -12 -6 -17 12zM477 1741l17 -12 -11 -7 -17 12zM554 1763l17 -11 -13 -7 -17 11zM608 1775l18 -10 -13 -7 -17 9zM652 1782l17 -9 -13 -8 -17 8z"/>
<path fill="#f00" d="M466 1734l17 -12 -11 -7 -17 13zM455 1728l17 -13 -11 -6 -17 13zM444 1722l17 -13 -11 -7 -17 14zM433 1716l17 -14 -11 -6 -17 14zM422 1710l17 -14 -11 -6 -16 14zM412 1704l16 -14 -11 -6 -16 14zM401 1698l16 -14 -10 -6 -16 15zM391 1693l16 -15 -10 -5 -16 15zM381 1688l16 -15 -10 -5 -17 16zM370 1684l17 -16 -10 -4 -17 16zM541 1756l17 -11 -12 -7 -17 11zM529 1749l17 -11 -12 -7 -17 11zM517 1742l17 -11 -11 -7 -17 11zM506 1735l17 -11 -12 -7 -17 12zM494 1729l17 -12 -11 -7 -17 12zM483 1722l17 -12 -12 -7 -16 12zM472 1715l16 -12 -11 -7 -16 13zM461 1709l16 -13 -11 -6 -16 12zM450 1702l16 -12 -11 -7 -16 13zM439 1696l16 -13 -11 -6 -16 13zM428 1690l16 -13 -10 -7 -17 14zM417 1684l17 -14 -11 -6 -16 14zM407 1678l16 -14 -10 -5 -16 14zM397 1673l16 -14 -10 -5 -16 14zM387 1668l16 -14 -10 -5 -16 15zM596 1767l17 -9 -13 -8 -17 10zM583 1760l17 -10 -12 -7 -17 9zM571 1752l17 -9 -13 -8 -17 10zM558 1745l17 -10 -12 -7 -17 10zM546 1738l17 -10 -12 -7 -17 10zM534 1731l17 -10 -12 -7 -16 10zM523 1724l16 -10 -11 -8 -17 11zM511 1717l17 -11 -12 -7 -16 11zM500 1710l16 -11 -11 -7 -17 11zM488 1703l17 -11 -11 -7 -17 11zM477 1696l17 -11 -11 -7 -17 12zM466 1690l17 -12 -11 -7 -17 12zM455 1683l17 -12 -11 -7 -17 13zM444 1677l17 -13 -11 -6 -16 12zM434 1670l16 -12 -11 -7 -16 13zM423 1664l16 -13 -10 -5 -16 13zM413 1659l16 -13 -10 -6 -16 14zM403 1654l16 -14 -11 -5 -15 14zM639 1773l17 -8 -13 -8 -17 8zM626 1765l17 -8 -13 -8 -17 9zM613 1758l17 -9 -13 -8 -17 9zM600 1750l17 -9 -12 -7 -17 9zM588 1743l17 -9 -13 -8 -17 9zM575 1735l17 -9 -12 -7 -17 9zM563 1728l17 -9 -12 -7 -17 9zM551 1721l17 -9 -12 -8 -17 10zM539 1714l17 -10 -12 -7 -16 9zM528 1706l16 -9 -11 -8 -17 10zM516 1699l17 -10 -12 -7 -16 10zM505 1692l16 -10 -11 -8 -16 11zM494 1685l16 -11 -11 -7 -16 11zM483 1678l16 -11 -11 -7 -16 11zM472 1671l16 -11 -11 -7 -16 11zM461 1664l16 -11 -11 -7 -16 12zM450 1658l16 -12 -11 -7 -16 12zM439 1651l16 -12 -10 -6 -16 13zM429 1646l16 -13 -10 -6 -16 13zM419 1640l16 -13 -11 -5 -16 13zM682 1782l17 -8 -13 -9 -17 8zM669 1773l17 -8 -13 -8 -17 8zM656 1765l17 -8 -13 -8 -17 8zM643 1757l17 -8 -13 -8 -17 8zM630 1749l17 -8 -13 -8 -17 8zM617 1741l17 -8 -13 -7 -16 8zM605 1734l16 -8 -12 -8 -17 8zM592 1726l17 -8 -12 -7 -17 8zM580 1719l17 -8 -12 -8 -17 9zM568 1712l17 -9 -12 -8 -17 9zM556 1704l17 -9 -12 -7 -17 9zM544 1697l17 -9 -12 -8 -16 9zM533 1689l16 -9 -11 -8 -17 10zM521 1682l17 -10 -12 -7 -16 9zM510 1674l16 -9 -11 -8 -16 10zM499 1667l16 -10 -11 -7 -16 10zM488 1660l16 -10 -11 -8 -16 11zM477 1653l16 -11 -11 -7 -16 11zM466 1646l16 -11 -11 -7 -16 11zM455 1639l16 -11 -10 -6 -16 11zM445 1633l16 -11 -11 -6 -15 11zM435 1627l15 -11 -10 -5 -16 11zM699 1774l17 -7 -13 -9 -17 7zM686 1765l17 -7 -14 -8 -16 7zM673 1757l16 -7 -13 -8 -16 7zM660 1749l16 -7 -13 -8 -16 7zM647 1741l16 -7 -12 -8 -17 7zM634 1733l17 -7 -13 -7 -17 7zM621 1726l17 -7 -13 -8 -16 7zM609 1718l16 -7 -12 -8 -16 8zM597 1711l16 -8 -12 -7 -16 7zM585 1703l16 -7 -12 -8 -16 7zM573 1695l16 -7 -12 -8 -16 8zM561 1688l16 -8 -12 -8 -16 8zM549 1680l16 -8 -11 -8 -16 8zM538 1672l16 -8 -12 -8 -16 9zM526 1665l16 -9 -11 -7 -16 8zM515 1657l16 -8 -11 -8 -16 9zM504 1650l16 -9 -11 -8 -16 9zM493 1642l16 -9 -11 -7 -16 9zM482 1635l16 -9 -11 -7 -16 9zM471 1628l16 -9 -10 -7 -16 10zM461 1622l16 -10 -11 -6 -16 10zM450 1616l16 -10 -10 -6 -16 11zM716 1767l17 -6 -14 -9 -16 6zM703 1758l16 -6 -13 -8 -17 6zM689 1750l17 -6 -13 -8 -17 6zM676 1742l17 -6 -13 -8 -17 6zM663 1734l17 -6 -13 -8 -16 6zM651 1726l16 -6 -13 -8 -16 7zM638 1719l16 -7 -12 -7 -17 6zM625 1711l17 -6 -13 -8 -16 6zM613 1703l16 -6 -12 -8 -16 7zM601 1696l16 -7 -12 -8 -16 7zM589 1688l16 -7 -12 -7 -16 6zM577 1680l16 -6 -11 -8 -17 6zM565 1672l17 -6 -12 -9 -16 7zM554 1664l16 -7 -12 -8 -16 7zM542 1656l16 -7 -11 -8 -16 8zM531 1649l16 -8 -11 -8 -16 8zM520 1641l16 -8 -11 -7 -16 7zM509 1633l16 -7 -11 -8 -16 8zM498 1626l16 -8 -11 -7 -16 8zM487 1619l16 -8 -11 -7 -15 8zM477 1612l15 -8 -10 -6 -16 8zM466 1606l16 -8 -11 -6 -15 8zM733 1761l17 -6 -14 -8 -17 5zM719 1752l17 -5 -13 -8 -17 5zM706 1744l17 -5 -14 -8 -16 5zM693 1736l16 -5 -13 -8 -16 5zM680 1728l16 -5 -13 -8 -16 5zM667 1720l16 -5 -12 -8 -17 5zM654 1712l17 -5 -13 -7 -16 5zM642 1705l16 -5 -12 -8 -17 5zM629 1697l17 -5 -13 -8 -16 5zM617 1689l16 -5 -12 -8 -16 5zM605 1681l16 -5 -12 -8 -16 6zM593 1674l16 -6 -11 -8 -16 6zM582 1666l16 -6 -12 -8 -16 5zM570 1657l16 -5 -12 -8 -16 5zM558 1649l16 -5 -11 -8 -16 5zM547 1641l16 -5 -11 -8 -16 5zM536 1633l16 -5 -11 -8 -16 6zM525 1626l16 -6 -11 -8 -16 6zM514 1618l16 -6 -11 -8 -16 7zM503 1611l16 -7 -11 -7 -16 7zM492 1604l16 -7 -11 -6 -15 7zM482 1598l15 -7 -10 -6 -16 7z"/>
</g>
<path fill="none" stroke="#000" stroke-width="2.40" stroke-linejoin="round" d="M351 2053 339 2044 328 2035 317 2027 305 2019 294 2012 283 2005 273 1999 262 1993 252 1987 241 1982 231 1977 222 1973 212 1969 202 1965 193 1961 183 1958 174 1955 165 1952 156 1950 148 1948 139 1946 131 1944M361 2044 349 2035 337 2026 326 2018 315 2010 304 2003 293 1996 282 1989 271 1983 261 1977 251 1972 240 1967 230 1962 221 1958 211 1954 201 1950 192 1947 183 1944 174 1941 165 1938 156 1936 147 1934 139 1932M371 2035 359 2025 347 2017 335 2008 324 2000 313 1993 302 1986 291 1979 280 1973 270 1967 260 1962 249 1957 239 1952 230 1948 220 1944 210 1940 201 1936 191 1933 182 1930 173 1927 164 1925 156 1922 147 1920M380 2025 368 2016 357 2007 345 1999 334 1991 322 1983 311 1976 300 1970 290 1964 279 1958 269 1952 258 1947 248 1942 238 1938 229 1933 219 1929 209 1926 200 1922 191 1919 182 1916 173 1914 164 1911 155 1909M390 2015 378 2006 366 1997 354 1989 343 1981 332 1974 321 1967 310 1960 299 1954 288 1948 278 1942 267 1937 257 1932 247 1928 237 1923 228 1919 218 1915 209 1912 199 1909 190 1906 181 1903 172 1900 164 1898M399 2006 387 1996 375 1988 364 1979 352 1972 341 1964 330 1957 319 1950 308 1944 297 1938 287 1933 276 1927 266 1922 256 1918 246 1913 236 1909 227 1905 217 1902 208 1898 199 1895 190 1892 181 1890 172 1888M409 1996 397 1987 385 1978 373 1970 362 1962 350 1954 339 1947 328 1941 317 1935 306 1929 296 1923 285 1918 275 1913 265 1908 255 1903 245 1899 235 1895 226 1892 217 1888 207 1885 198 1882 189 1880 180 1877M418 1986 406 1977 394 1968 383 1960 371 1952 359 1945 348 1938 337 1931 326 1925 315 1919 305 1914 294 1908 284 1903 274 1898 264 1894 254 1889 244 1885 234 1882 225 1878 216 1875 207 1872 198 1869 189 1867M428 1976 416 1967 404 1959 392 1950 380 1943 369 1935 357 1929 346 1922 335 1916 324 1910 314 1904 303 1899 293 1894 283 1889 272 1884 263 1880 253 1876 243 1872 234 1869 224 1865 215 1862 206 1860 197 1857M437 1966 425 1957 413 1949 401 1941 389 1933 378 1926 367 1919 355 1913 344 1906 333 1901 323 1895 312 1890 302 1884 291 1880 281 1875 271 1871 261 1866 252 1863 242 1859 233 1856 223 1853 214 1850 205 1847M447 1957 435 1948 422 1939 411 1932 399 1924 387 1917 376 1910 364 1903 353 1897 342 1891 332 1886 321 1880 310 1875 300 1870 290 1866 280 1861 270 1857 260 1853 251 1850 241 1846 232 1843 223 1840 213 1838M456 1947 444 1938 432 1930 420 1922 408 1915 396 1908 385 1901 373 1894 362 1888 351 1882 340 1877 330 1871 319 1866 309 1861 299 1857 288 1852 279 1848 269 1844 259 1840 250 1837 240 1834 231 1831 222 1828M466 1938 453 1929 441 1921 429 1913 417 1906 405 1899 394 1892 383 1886 371 1879 360 1874 349 1868 339 1863 328 1857 318 1852 307 1848 297 1843 287 1839 277 1835 268 1831 258 1828 249 1824 239 1822 230 1819M475 1929 463 1920 450 1912 438 1904 426 1897 415 1890 403 1883 392 1877 380 1871 369 1865 358 1859 347 1854 337 1849 326 1844 316 1839 306 1834 296 1830 286 1826 276 1822 266 1819 257 1815 248 1812 238 1810M484 1920 472 1911 460 1903 447 1896 435 1888 424 1881 412 1875 401 1868 389 1862 378 1856 367 1851 356 1845 346 1840 335 1835 325 1830 314 1826 304 1821 294 1817 284 1813 275 1810 265 1806 256 1803 247 1801M494 1911 481 1903 469 1895 457 1887 445 1880 433 1873 421 1866 410 1860 398 1854 387 1848 376 1842 365 1837 354 1832 344 1826 333 1822 323 1817 313 1812 303 1808 293 1804 283 1801 274 1797 264 1794 255 1791M503 1903 491 1894 478 1886 466 1879 454 1871 442 1865 430 1858 419 1852 407 1846 396 1840 385 1834 374 1828 363 1823 352 1818 342 1813 332 1808 321 1804 311 1800 301 1796 292 1792 282 1788 272 1785 263 1782M512 1894 500 1886 487 1878 475 1870 463 1863 451 1856 439 1850 427 1844 416 1837 405 1832 394 1826 383 1820 372 1815 361 1810 350 1805 340 1800 330 1795 320 1791 310 1787 300 1783 290 1780 281 1776 271 1774M522 1886 509 1878 496 1870 484 1863 472 1855 460 1849 448 1842 436 1836 425 1830 413 1824 402 1818 391 1812 380 1807 370 1802 359 1797 349 1792 338 1787 328 1783 318 1778 308 1774 298 1771 289 1768 279 1765M531 1879 518 1870 506 1862 493 1855 481 1848 469 1841 457 1834 445 1828 434 1822 422 1816 411 1810 400 1805 389 1799 378 1794 368 1789 357 1784 347 1779 337 1774 326 1770 317 1766 307 1762 297 1759 288 1756M540 1871 527 1863 515 1855 502 1847 490 1840 478 1833 466 1827 454 1821 443 1814 431 1808 420 1803 409 1797 398 1791 387 1786 376 1781 366 1776 355 1771 345 1766 335 1762 325 1757 315 1754 305 1750 296 1747M549 1864 536 1855 524 1848 511 1840 499 1833 487 1826 475 1820 463 1813 451 1807 440 1801 428 1795 417 1789 406 1784 395 1778 385 1773 374 1768 364 1763 353 1758 343 1753 333 1749 323 1745 313 1741 304 1738M558 1857 545 1848 533 1841 520 1833 508 1826 496 1819 484 1813 472 1806 460 1800 449 1794 437 1788 426 1782 415 1776 404 1771 393 1765 383 1760 372 1755 362 1750 351 1745 341 1741 331 1737 322 1733 312 1730M567 1850 554 1842 542 1834 529 1826 517 1819 505 1812 492 1806 481 1799 469 1793 457 1787 446 1781 435 1775 423 1769 412 1763 402 1758 391 1752 380 1747 370 1742 360 1737 350 1732 340 1728 330 1725 320 1721M576 1843 564 1835 551 1827 538 1820 526 1813 513 1806 501 1799 489 1792 478 1786 466 1780 454 1774 443 1768 432 1762 421 1756 410 1750 399 1745 389 1739 378 1734 368 1729 358 1724 348 1720 338 1716 328 1713M585 1837 572 1829 560 1821 547 1813 535 1806 522 1799 510 1792 498 1786 486 1779 475 1773 463 1767 452 1761 441 1755 429 1749 419 1743 408 1737 397 1732 387 1726 376 1721 366 1716 356 1712 346 1708 336 1704M594 1831 581 1823 569 1815 556 1807 543 1800 531 1793 519 1786 507 1779 495 1773 483 1767 472 1760 460 1754 449 1748 438 1742 427 1736 416 1730 406 1724 395 1719 385 1713 374 1709 364 1704 354 1700 344 1696M603 1825 590 1817 577 1809 565 1801 552 1794 540 1787 528 1780 515 1773 504 1767 492 1760 480 1754 469 1747 458 1741 446 1735 435 1729 425 1723 414 1717 403 1711 393 1706 383 1701 372 1696 362 1692 352 1688M612 1820 599 1811 586 1803 574 1796 561 1788 548 1781 536 1774 524 1767 512 1761 500 1754 489 1747 477 1741 466 1734 455 1728 444 1722 433 1716 422 1710 412 1704 401 1698 391 1693 381 1688 370 1684 360 1680M621 1814 608 1806 595 1798 582 1790 570 1783 557 1775 545 1768 533 1761 521 1755 509 1748 497 1741 486 1735 474 1728 463 1722 452 1715 441 1709 430 1703 420 1697 409 1691 399 1686 389 1681 379 1676 369 1672M630 1809 617 1801 604 1792 591 1785 578 1777 566 1770 554 1763 541 1756 529 1749 517 1742 506 1735 494 1729 483 1722 472 1715 461 1709 450 1702 439 1696 428 1690 417 1684 407 1678 397 1673 387 1668 377 1664M639 1804 626 1796 613 1787 600 1780 587 1772 574 1765 562 1758 550 1750 538 1743 526 1737 514 1730 503 1723 491 1716 480 1709 469 1702 458 1696 447 1689 436 1683 426 1677 415 1671 405 1666 395 1661 385 1657M648 1799 634 1791 621 1782 608 1775 596 1767 583 1760 571 1752 558 1745 546 1738 534 1731 523 1724 511 1717 500 1710 488 1703 477 1696 466 1690 455 1683 444 1677 434 1670 423 1664 413 1659 403 1654 393 1649M656 1795 643 1786 630 1778 617 1770 604 1762 592 1755 579 1747 567 1740 555 1733 543 1726 531 1719 519 1712 508 1705 497 1698 485 1691 474 1684 463 1677 453 1670 442 1664 431 1658 421 1652 411 1647 401 1642M665 1790 652 1782 639 1773 626 1765 613 1758 600 1750 588 1743 575 1735 563 1728 551 1721 539 1714 528 1706 516 1699 505 1692 494 1685 483 1678 472 1671 461 1664 450 1658 439 1651 429 1646 419 1640 408 1635M674 1786 660 1777 647 1769 634 1761 621 1753 609 1746 596 1738 584 1731 572 1723 560 1716 548 1709 536 1701 525 1694 513 1687 502 1679 491 1672 480 1665 469 1658 458 1652 447 1645 437 1639 427 1634 416 1629M682 1782 669 1773 656 1765 643 1757 630 1749 617 1741 605 1734 592 1726 580 1719 568 1712 556 1704 544 1697 533 1689 521 1682 510 1674 499 1667 488 1660 477 1653 466 1646 455 1639 445 1633 435 1627 424 1622M691 1778 677 1769 664 1761 651 1753 638 1745 626 1737 613 1730 601 1722 588 1715 576 1707 564 1700 553 1692 541 1685 529 1677 518 1669 507 1662 496 1655 485 1647 474 1640 464 1634 453 1627 443 1622 432 1616M699 1774 686 1765 673 1757 660 1749 647 1741 634 1733 621 1726 609 1718 597 1711 585 1703 573 1695 561 1688 549 1680 538 1672 526 1665 515 1657 504 1650 493 1642 482 1635 471 1628 461 1622 450 1616 440 1611M708 1771 694 1762 681 1753 668 1745 655 1737 642 1730 630 1722 617 1714 605 1707 593 1699 581 1692 569 1684 557 1676 546 1668 534 1660 523 1653 512 1645 501 1638 490 1630 479 1623 469 1617 458 1611 448 1605M716 1767 703 1758 689 1750 676 1742 663 1734 651 1726 638 1719 625 1711 613 1703 601 1696 589 1688 577 1680 565 1672 554 1664 542 1656 531 1649 520 1641 509 1633 498 1626 487 1619 477 1612 466 1606 456 1600M725 1764 711 1755 698 1747 685 1739 672 1731 659 1723 646 1715 634 1708 621 1700 609 1692 597 1684 585 1677 573 1669 562 1661 550 1653 539 1645 528 1637 517 1629 506 1622 495 1615 485 1608 474 1602 464 1596M733 1761 719 1752 706 1744 693 1736 680 1728 667 1720 654 1712 642 1705 629 1697 617 1689 605 1681 593 1674 582 1666 570 1657 558 1649 547 1641 536 1633 525 1626 514 1618 503 1611 492 1604 482 1598 471 1592M741 1758 728 1749 714 1741 701 1733 688 1725 675 1717 662 1710 650 1702 638 1694 625 1687 613 1679 601 1671 590 1663 578 1655 566 1646 555 1638 544 1630 533 1622 522 1615 511 1607 500 1600 490 1594 479 1588M750 1755 736 1747 723 1739 709 1731 696 1723 683 1715 671 1707 658 1700 646 1692 633 1684 621 1676 609 1668 598 1660 586 1652 574 1644 563 1636 552 1628 541 1620 530 1612 519 1604 508 1597 497 1591 487 1585M351 2053 371 2035 390 2015 409 1996 428 1976 447 1957 466 1938 484 1920 503 1903 522 1886 540 1871 558 1857 576 1843 594 1831 612 1820 630 1809 648 1799 665 1790 682 1782 699 1774 716 1767 733 1761 750 1755M345 2048 365 2030 384 2011 403 1991 422 1972 441 1952 459 1934 478 1915 497 1898 515 1882 534 1867 552 1853 570 1839 588 1827 606 1815 623 1805 641 1795 658 1786 676 1777 693 1770 709 1763 726 1757 743 1751M339 2044 359 2025 378 2006 397 1987 416 1967 435 1948 453 1929 472 1911 491 1894 509 1878 527 1863 545 1848 564 1835 581 1823 599 1811 617 1801 634 1791 652 1782 669 1773 686 1765 703 1758 719 1752 736 1747M334 2039 353 2021 372 2002 391 1982 410 1963 428 1944 447 1925 466 1907 484 1890 503 1874 521 1859 539 1844 557 1831 575 1819 593 1807 610 1796 628 1787 645 1777 662 1769 679 1761 696 1754 713 1748 729 1743M328 2035 347 2017 366 1997 385 1978 404 1959 422 1939 441 1921 460 1903 478 1886 496 1870 515 1855 533 1841 551 1827 569 1815 586 1803 604 1792 621 1782 639 1773 656 1765 673 1757 689 1750 706 1744 723 1739M322 2031 341 2012 360 1993 379 1974 398 1954 416 1935 435 1917 454 1899 472 1882 490 1866 508 1851 526 1837 544 1823 562 1811 580 1799 597 1789 615 1779 632 1769 649 1761 666 1753 683 1746 699 1740 716 1735M317 2027 335 2008 354 1989 373 1970 392 1950 411 1932 429 1913 447 1896 466 1879 484 1863 502 1847 520 1833 538 1820 556 1807 574 1796 591 1785 608 1775 626 1765 643 1757 660 1749 676 1742 693 1736 709 1731M311 2023 330 2004 349 1985 367 1966 386 1947 405 1928 423 1909 441 1892 460 1875 478 1859 496 1844 514 1830 532 1816 550 1804 567 1792 585 1781 602 1771 619 1761 636 1753 653 1745 670 1738 686 1732 703 1727M305 2019 324 2000 343 1981 362 1962 380 1943 399 1924 417 1906 435 1888 454 1871 472 1855 490 1840 508 1826 526 1813 543 1800 561 1788 578 1777 596 1767 613 1758 630 1749 647 1741 663 1734 680 1728 696 1723M300 2016 319 1997 337 1977 356 1958 374 1939 393 1920 411 1902 430 1885 448 1868 466 1852 484 1837 502 1823 520 1809 537 1796 555 1785 572 1774 589 1763 606 1754 623 1745 640 1737 657 1730 673 1724 690 1719M294 2012 313 1993 332 1974 350 1954 369 1935 387 1917 405 1899 424 1881 442 1865 460 1849 478 1833 496 1819 513 1806 531 1793 548 1781 566 1770 583 1760 600 1750 617 1741 634 1733 651 1726 667 1720 683 1715M289 2009 307 1989 326 1970 345 1951 363 1932 381 1913 400 1895 418 1878 436 1861 454 1845 472 1830 490 1816 507 1802 525 1790 542 1778 560 1766 577 1756 594 1746 611 1738 628 1730 644 1722 661 1716 677 1711M283 2005 302 1986 321 1967 339 1947 357 1929 376 1910 394 1892 412 1875 430 1858 448 1842 466 1827 484 1813 501 1799 519 1786 536 1774 554 1763 571 1752 588 1743 605 1734 621 1726 638 1719 654 1712 671 1707M278 2002 297 1983 315 1963 333 1944 352 1925 370 1907 388 1889 406 1871 424 1855 442 1839 460 1824 478 1809 495 1796 513 1783 530 1771 547 1759 565 1749 582 1739 598 1730 615 1722 632 1715 648 1709 664 1704M273 1999 291 1979 310 1960 328 1941 346 1922 364 1903 383 1886 401 1868 419 1852 436 1836 454 1821 472 1806 489 1792 507 1779 524 1767 541 1756 558 1745 575 1735 592 1726 609 1718 625 1711 642 1705 658 1700M267 1996 286 1976 304 1957 322 1938 341 1919 359 1900 377 1882 395 1865 413 1849 431 1833 448 1817 466 1803 483 1789 501 1776 518 1764 535 1752 552 1742 569 1732 586 1723 603 1714 619 1707 636 1701 652 1696M262 1993 280 1973 299 1954 317 1935 335 1916 353 1897 371 1879 389 1862 407 1846 425 1830 443 1814 460 1800 478 1786 495 1773 512 1761 529 1749 546 1738 563 1728 580 1719 597 1711 613 1703 629 1697 646 1692M257 1990 275 1970 293 1951 312 1932 330 1913 348 1894 366 1876 384 1859 401 1843 419 1827 437 1811 454 1797 472 1783 489 1770 506 1757 523 1746 540 1735 557 1725 574 1715 591 1707 607 1699 623 1693 639 1688M252 1987 270 1967 288 1948 306 1929 324 1910 342 1891 360 1874 378 1856 396 1840 413 1824 431 1808 449 1794 466 1780 483 1767 500 1754 517 1742 534 1731 551 1721 568 1712 585 1703 601 1696 617 1689 633 1684M247 1985 265 1965 283 1945 301 1926 319 1907 337 1889 355 1871 373 1853 390 1837 408 1821 425 1805 443 1791 460 1777 477 1763 495 1751 512 1739 529 1728 545 1717 562 1708 579 1699 595 1692 611 1685 627 1680M241 1982 260 1962 278 1942 296 1923 314 1904 332 1886 349 1868 367 1851 385 1834 402 1818 420 1803 437 1788 454 1774 472 1760 489 1747 506 1735 523 1724 539 1714 556 1704 573 1695 589 1688 605 1681 621 1676M236 1980 255 1959 273 1940 290 1920 308 1901 326 1883 344 1865 362 1848 379 1831 397 1815 414 1800 432 1785 449 1771 466 1757 483 1744 500 1732 517 1721 534 1710 550 1700 567 1692 583 1684 599 1677 615 1672M231 1977 249 1957 267 1937 285 1918 303 1899 321 1880 339 1863 356 1845 374 1828 391 1812 409 1797 426 1782 443 1768 460 1754 477 1741 494 1729 511 1717 528 1706 544 1697 561 1688 577 1680 593 1674 609 1668M226 1975 244 1955 262 1935 280 1915 298 1896 316 1878 333 1860 351 1843 368 1826 386 1810 403 1794 420 1779 438 1765 455 1751 472 1738 489 1725 505 1714 522 1703 539 1693 555 1684 571 1676 587 1670 603 1664M222 1973 239 1952 257 1932 275 1913 293 1894 310 1875 328 1857 346 1840 363 1823 380 1807 398 1791 415 1776 432 1762 449 1748 466 1734 483 1722 500 1710 516 1699 533 1689 549 1680 565 1672 582 1666 598 1660M217 1971 234 1950 252 1930 270 1910 288 1891 305 1873 323 1855 340 1837 358 1821 375 1804 392 1789 409 1773 426 1759 443 1745 460 1731 477 1719 494 1707 511 1696 527 1685 543 1676 560 1668 576 1661 592 1656M212 1969 230 1948 247 1928 265 1908 283 1889 300 1870 318 1852 335 1835 352 1818 370 1802 387 1786 404 1771 421 1756 438 1742 455 1728 472 1715 488 1703 505 1692 521 1682 538 1672 554 1664 570 1657 586 1652M207 1967 225 1946 242 1925 260 1906 277 1887 295 1868 312 1850 330 1833 347 1816 364 1799 381 1783 399 1768 416 1753 432 1739 449 1725 466 1712 483 1700 499 1688 516 1678 532 1669 548 1660 564 1653 580 1648M202 1965 220 1944 237 1923 255 1903 272 1884 290 1866 307 1848 325 1830 342 1813 359 1797 376 1781 393 1765 410 1750 427 1736 444 1722 461 1709 477 1696 494 1685 510 1674 526 1665 542 1656 558 1649 574 1644M197 1963 215 1942 233 1921 250 1901 267 1882 285 1863 302 1845 319 1828 337 1811 354 1794 371 1778 388 1762 405 1747 422 1733 438 1719 455 1706 472 1693 488 1681 504 1671 521 1661 537 1652 553 1645 569 1640M193 1961 210 1940 228 1919 245 1899 263 1880 280 1861 297 1843 314 1826 332 1808 349 1792 366 1776 383 1760 399 1745 416 1730 433 1716 450 1702 466 1690 483 1678 499 1667 515 1657 531 1649 547 1641 563 1636M188 1960 205 1938 223 1917 240 1897 258 1878 275 1859 292 1841 309 1823 326 1806 343 1789 360 1773 377 1757 394 1742 411 1727 428 1713 444 1699 461 1686 477 1674 493 1663 510 1653 526 1645 542 1637 557 1632M183 1958 201 1936 218 1915 235 1895 253 1876 270 1857 287 1839 304 1821 321 1804 338 1787 355 1771 372 1755 389 1739 406 1724 422 1710 439 1696 455 1683 472 1671 488 1660 504 1650 520 1641 536 1633 552 1628M179 1956 196 1934 213 1914 231 1893 248 1874 265 1855 282 1837 299 1819 316 1802 333 1785 350 1768 367 1752 384 1737 400 1721 417 1707 433 1693 450 1680 466 1667 482 1656 498 1646 514 1637 530 1629 546 1624M174 1955 191 1933 209 1912 226 1892 243 1872 260 1853 277 1835 294 1817 311 1800 328 1783 345 1766 362 1750 378 1734 395 1719 412 1704 428 1690 444 1677 461 1664 477 1653 493 1642 509 1633 525 1626 541 1620M170 1954 187 1931 204 1910 221 1890 238 1870 255 1851 272 1833 289 1815 306 1798 323 1780 340 1764 357 1747 373 1731 390 1716 406 1701 423 1687 439 1673 455 1661 472 1649 488 1639 504 1630 519 1622 535 1616M165 1952 182 1930 199 1909 217 1888 234 1869 251 1850 268 1831 284 1813 301 1796 318 1778 335 1762 351 1745 368 1729 385 1713 401 1698 417 1684 434 1670 450 1658 466 1646 482 1635 498 1626 514 1618 530 1612M161 1951 178 1928 195 1907 212 1887 229 1867 246 1848 263 1829 280 1811 296 1794 313 1776 330 1759 346 1743 363 1727 379 1711 396 1696 412 1681 429 1667 445 1654 461 1643 477 1632 493 1622 509 1614 524 1608M156 1950 173 1927 190 1906 207 1885 224 1865 241 1846 258 1828 275 1810 292 1792 308 1774 325 1757 341 1741 358 1724 374 1709 391 1693 407 1678 423 1664 439 1651 455 1639 471 1628 487 1619 503 1611 519 1604M152 1949 169 1926 186 1904 203 1884 220 1864 236 1845 253 1826 270 1808 287 1790 303 1773 320 1755 336 1739 353 1722 369 1706 386 1691 402 1676 418 1662 434 1648 450 1636 466 1625 482 1615 498 1607 513 1601M148 1948 164 1925 181 1903 198 1882 215 1862 232 1843 249 1824 265 1806 282 1788 298 1771 315 1754 331 1737 348 1720 364 1704 381 1688 397 1673 413 1659 429 1646 445 1633 461 1622 477 1612 492 1604 508 1597M143 1947 160 1923 177 1902 194 1881 210 1861 227 1842 244 1823 260 1805 277 1787 294 1769 310 1752 327 1735 343 1718 359 1702 375 1686 392 1671 408 1656 424 1643 440 1630 456 1619 471 1609 487 1601 503 1594M139 1946 156 1922 172 1900 189 1880 206 1860 223 1840 239 1822 256 1803 272 1785 289 1768 305 1750 322 1733 338 1716 354 1700 370 1684 387 1668 403 1654 419 1640 435 1627 450 1616 466 1606 482 1598 497 1591M135 1945 151 1921 168 1899 185 1878 201 1858 218 1839 235 1820 251 1802 268 1784 284 1766 300 1749 317 1731 333 1714 349 1698 365 1682 382 1666 398 1652 414 1638 429 1625 445 1613 461 1603 477 1595 492 1588M131 1944 147 1920 164 1898 180 1877 197 1857 213 1838 230 1819 247 1801 263 1782 279 1765 296 1747 312 1730 328 1713 344 1696 360 1680 377 1664 393 1649 408 1635 424 1622 440 1611 456 1600 471 1592 487 1585"/>
</g>
<g id="pf">
<polyline fill="none" stroke="#000" stroke-width="2.2" points="1084.7,2041.2 1065.4,1644.7 1427.2,1592.5 1688.8,1683.2 1666.5,2096.7"/>
<line stroke="#000" stroke-width="2.2" x1="1427.2" y1="1592.5" x2="1427" y2="1961.5"/>
<polygon fill="#ff0" stroke="none" points="1084.7,2041.2 1295.6,2209 1666.5,2096.7 1427,1961.5"/>
<polyline fill="none" stroke="#0000e6" stroke-width="1.8" points="1125.4,2033.5 1123.6,2069.9"/>
<polyline fill="none" stroke="#00f0f0" stroke-width="1.8" points="1167.2,2022.6 1170.8,2051.7 1189,2073.5 1225.3,2095.3 1279.8,2109.8 1352.4,2120.7 1425,2124.3 1479.5,2128 1563,2128"/>
<polyline fill="none" stroke="#33ee00" stroke-width="1.8" points="1219.8,2011.7 1225.3,2029.9 1243.4,2051.7 1279.8,2073.5 1312.4,2084.4 1370.6,2089.8 1443.2,2093.5 1515.8,2089.8 1588.5,2080.8 1632.1,2075.3"/>
<polyline fill="none" stroke="#ff8000" stroke-width="1.8" points="1348.8,2039 1388.7,2044.4 1443.2,2044.4 1479.5,2037.2 1526.7,2019"/>
<polyline fill="none" stroke="#0000e6" stroke-width="1.8" points="1185.3,2118.9 1225.3,2128 1279.8,2138.9 1352.4,2146.1 1443.2,2149.8 1490.4,2151.6"/>
<polyline fill="none" stroke="#00f0f0" stroke-width="1.8" points="1406.9,1977.2 1450.5,1973.6"/>
<polygon fill="none" stroke="#000" stroke-width="2.2" stroke-linejoin="miter" points="1084.7,2041.2 1295.6,2209 1666.5,2096.7 1427,1961.5"/>
<g stroke="none">
<path fill="#00f" d="M1294 2100l19 -21 -12 -32 -18 20zM1283 2067l18 -20 -11 -28 -19 19zM1271 2038l19 -19 -12 -25 -18 17zM1260 2011l18 -17 -11 -24 -19 18zM1248 1988l19 -18 -11 -21 -19 17zM1237 1966l19 -17 -11 -19 -19 16zM1226 1946l19 -16 -11 -17 -19 16zM1215 1929l19 -16 -11 -15 -18 15zM1205 1913l18 -15 -10 -15 -19 15zM1108 1842l18 -16 -9 0 -17 16zM1100 1842l17 -16 -8 2 -18 16zM1091 1844l18 -16 -9 1 -17 18zM1083 1847l17 -18 -8 3 -17 17zM1313 2079l19 -21 -12 -31 -19 20zM1301 2047l19 -20 -12 -27 -18 19zM1290 2019l18 -19 -11 -25 -19 19zM1278 1994l19 -19 -11 -22 -19 17zM1267 1970l19 -17 -12 -20 -18 16zM1256 1949l18 -16 -11 -19 -18 16zM1245 1930l18 -16 -11 -17 -18 16zM1234 1913l18 -16 -10 -15 -19 16zM1109 1828l17 -17 -9 2 -17 16zM1100 1829l17 -16 -8 1 -17 18zM1332 2058l18 -21 -11 -30 -19 20zM1320 2027l19 -20 -12 -26 -19 19zM1308 2000l19 -19 -12 -24 -18 18zM1297 1975l18 -18 -11 -21 -18 17zM1286 1953l18 -17 -11 -20 -19 17zM1274 1933l19 -17 -11 -18 -19 16zM1263 1914l19 -16 -11 -16 -19 15zM1350 2037l19 -21 -12 -28 -18 19zM1339 2007l18 -19 -12 -25 -18 18zM1327 1981l18 -18 -11 -23 -19 17zM1315 1957l19 -17 -12 -21 -18 17zM1304 1936l18 -17 -11 -19 -18 16zM1369 2016l18 -20 -12 -26 -18 18zM1357 1988l18 -18 -11 -25 -19 18zM1345 1963l19 -18 -12 -21 -18 16zM1334 1940l18 -16 -12 -20 -18 15zM1322 1919l18 -15 -11 -19 -18 15zM1387 1996l19 -18 -12 -26 -19 18zM1375 1970l19 -18 -12 -23 -18 16zM1364 1945l18 -16 -12 -21 -18 16zM1352 1924l18 -16 -11 -19 -19 15zM1406 1978l18 -17 -12 -24 -18 15zM1394 1952l18 -15 -12 -23 -18 15zM1382 1929l18 -15 -12 -20 -18 14zM1424 1961l18 -16 -12 -23 -18 15zM1412 1937l18 -15 -12 -21 -18 13zM1442 1945l18 -14 -12 -22 -18 13zM1460 1931l18 -14 -12 -21 -18 13z"/>
<path fill="#0015ff" d="M1194 1898l19 -15 -11 -12 -18 15zM1293 1916l18 -16 -11 -17 -18 15zM1430 1922l18 -13 -12 -21 -18 13zM1478 1917l18 -12 -13 -20 -17 11z"/>
<path fill="#002aff" d="M1184 1886l18 -15 -10 -11 -18 15zM1117 1842l18 -16 -9 0 -18 16zM1223 1898l19 -16 -11 -14 -18 15zM1117 1826l17 -16 -8 1 -17 17zM1117 1813l17 -16 -9 1 -16 16zM1400 1914l18 -13 -12 -19 -18 12z"/>
<path fill="#05f" d="M1174 1875l18 -15 -10 -9 -18 14zM1164 1865l18 -14 -10 -8 -18 14zM1135 1846l18 -14 -9 -4 -18 15zM1213 1883l18 -15 -11 -12 -18 15zM1126 1826l17 -16 -9 0 -17 16zM1126 1811l16 -15 -8 1 -17 16zM1311 1900l18 -15 -11 -16 -18 14zM1418 1901l18 -13 -12 -18 -18 12z"/>
<path fill="#006aff" d="M1154 1857l18 -14 -9 -7 -18 15zM1145 1851l18 -15 -10 -4 -18 14zM1202 1871l18 -15 -10 -11 -18 15zM1135 1826l17 -15 -9 -1 -17 16zM1242 1882l18 -15 -11 -13 -18 14zM1388 1894l18 -12 -11 -18 -18 12zM1466 1896l17 -11 -12 -19 -17 11zM1513 1893l18 -12 -13 -18 -17 11z"/>
<path fill="#0040ff" d="M1126 1843l18 -15 -9 -2 -18 16zM1252 1897l19 -15 -11 -15 -18 15zM1282 1898l18 -15 -11 -16 -18 15zM1340 1904l19 -15 -12 -17 -18 13zM1370 1908l18 -14 -11 -18 -18 13zM1448 1909l18 -13 -12 -19 -18 11zM1496 1905l17 -12 -12 -19 -18 11z"/>
<path fill="#0095ff" d="M1192 1860l18 -15 -10 -9 -18 15zM1182 1851l18 -15 -10 -8 -18 15zM1153 1832l18 -15 -10 -4 -17 15zM1144 1828l17 -15 -9 -2 -17 15zM1231 1868l18 -14 -11 -12 -18 14zM1143 1810l17 -14 -9 -1 -17 15zM1406 1882l18 -12 -12 -17 -17 11zM1483 1885l18 -11 -12 -18 -18 10zM1531 1881l17 -11 -12 -17 -18 10z"/>
<path fill="#0af" d="M1172 1843l18 -15 -10 -6 -17 14zM1163 1836l17 -14 -9 -5 -18 15zM1220 1856l18 -14 -10 -11 -18 14zM1260 1867l18 -14 -11 -13 -18 14zM1142 1796l17 -15 -8 0 -17 16zM1377 1876l18 -12 -12 -17 -18 12zM1454 1877l17 -11 -12 -17 -17 10zM1501 1874l17 -11 -12 -16 -17 9z"/>
<path fill="#00d4ff" d="M1210 1845l18 -14 -10 -9 -18 14zM1200 1836l18 -14 -10 -8 -18 14zM1161 1813l18 -14 -10 -2 -17 14zM1249 1854l18 -14 -11 -12 -18 14zM1151 1781l16 -14 -9 0 -16 15zM1395 1864l17 -11 -11 -16 -18 10zM1471 1866l18 -10 -12 -16 -18 9zM1518 1863l18 -10 -13 -16 -17 10z"/>
<path fill="#00eaff" d="M1190 1828l18 -14 -10 -6 -18 14zM1180 1822l18 -14 -10 -5 -17 14zM1171 1817l17 -14 -9 -4 -18 14zM1238 1842l18 -14 -10 -10 -18 13zM1160 1796l17 -15 -9 0 -17 14zM1278 1853l18 -14 -11 -12 -18 13zM1159 1781l17 -14 -9 0 -16 14zM1307 1853l18 -12 -11 -14 -18 12zM1336 1855l18 -12 -12 -14 -17 12zM1365 1859l18 -12 -11 -15 -18 11zM1442 1859l17 -10 -11 -16 -18 10zM1489 1856l17 -9 -12 -16 -17 9zM1565 1859l18 -12 -13 -14 -17 10z"/>
<path fill="#00bfff" d="M1152 1811l17 -14 -9 -1 -17 14zM1151 1795l17 -14 -9 0 -17 15zM1289 1867l18 -14 -11 -14 -18 14zM1318 1869l18 -14 -11 -14 -18 12zM1347 1872l18 -13 -11 -16 -18 12zM1424 1870l18 -11 -12 -16 -18 10zM1548 1870l17 -11 -12 -16 -17 10z"/>
<path fill="#0080ff" d="M1134 1810l17 -15 -9 1 -16 15zM1271 1882l18 -15 -11 -14 -18 14zM1134 1797l17 -16 -9 1 -17 16zM1300 1883l18 -14 -11 -16 -18 14zM1329 1885l18 -13 -11 -17 -18 14zM1359 1889l18 -13 -12 -17 -18 13zM1436 1888l18 -11 -12 -18 -18 11z"/>
<path fill="#00ffea" d="M1228 1831l18 -13 -10 -9 -18 13zM1179 1799l17 -13 -9 -3 -18 14zM1267 1840l18 -13 -11 -12 -18 13zM1168 1781l17 -14 -9 0 -17 14zM1167 1767l17 -14 -9 -1 -17 15zM1383 1847l18 -10 -12 -15 -17 10zM1459 1849l18 -9 -12 -15 -17 8zM1506 1847l17 -10 -12 -15 -17 9zM1583 1847l17 -11 -13 -13 -17 10z"/>
<path fill="#00ffd4" d="M1218 1822l18 -13 -10 -8 -18 13zM1208 1814l18 -13 -10 -7 -18 14zM1198 1808l18 -14 -10 -5 -18 14zM1188 1803l18 -14 -10 -3 -17 13zM1256 1828l18 -13 -10 -10 -18 13zM1177 1781l17 -13 -9 -1 -17 14zM1296 1839l18 -12 -11 -12 -18 12zM1325 1841l17 -12 -11 -13 -17 11zM1354 1843l18 -11 -12 -14 -18 11zM1430 1843l18 -10 -12 -14 -18 8zM1477 1840l17 -9 -12 -15 -17 9zM1553 1843l17 -10 -12 -14 -17 9z"/>
<path fill="#0ff" d="M1169 1797l18 -14 -10 -2 -17 15zM1412 1853l18 -10 -12 -16 -17 10zM1536 1853l17 -10 -12 -15 -18 9z"/>
<path fill="#0fa" d="M1246 1818l18 -13 -11 -9 -17 13zM1187 1783l17 -13 -10 -2 -17 13zM1285 1827l18 -12 -11 -12 -18 12zM1314 1827l17 -11 -11 -13 -17 12zM1342 1829l18 -11 -11 -13 -18 11zM1372 1832l17 -10 -11 -13 -18 9zM1448 1833l17 -8 -12 -15 -17 9zM1494 1831l17 -9 -12 -14 -17 8zM1570 1833l17 -10 -13 -14 -16 10zM1600 1836l16 -11 -12 -12 -17 10z"/>
<path fill="#00ff95" d="M1236 1809l17 -13 -10 -8 -17 13zM1226 1801l17 -13 -10 -6 -17 12zM1206 1789l17 -12 -10 -4 -17 13zM1196 1786l17 -13 -9 -3 -17 13zM1274 1815l18 -12 -11 -10 -17 12zM1185 1767l17 -13 -9 -1 -17 14zM1184 1753l16 -14 -9 -1 -16 14zM1418 1827l18 -8 -12 -14 -17 8zM1465 1825l17 -9 -12 -13 -17 7zM1541 1828l17 -9 -13 -14 -17 9z"/>
<path fill="#00ff80" d="M1216 1794l17 -12 -10 -5 -17 12zM1194 1768l17 -13 -9 -1 -17 13zM1303 1815l17 -12 -10 -11 -18 11zM1389 1822l18 -9 -12 -13 -17 9zM1511 1822l17 -8 -12 -14 -17 8zM1558 1819l16 -10 -12 -12 -17 8zM1587 1823l17 -10 -13 -13 -17 9zM1616 1825l17 -11 -13 -11 -16 10z"/>
<path fill="#00ff6a" d="M1264 1805l17 -12 -10 -9 -18 12zM1204 1770l17 -13 -10 -2 -17 13zM1193 1753l17 -13 -10 -1 -16 14zM1331 1816l18 -11 -11 -12 -18 10zM1360 1818l18 -9 -11 -13 -18 9zM1436 1819l17 -9 -12 -13 -17 8zM1482 1816l17 -8 -12 -13 -17 8zM1528 1814l17 -9 -12 -12 -17 7z"/>
<path fill="#0f5" d="M1253 1796l18 -12 -10 -7 -18 11zM1243 1788l18 -11 -11 -7 -17 12zM1213 1773l18 -12 -10 -4 -17 13zM1292 1803l18 -11 -11 -9 -18 10zM1202 1754l17 -13 -9 -1 -17 13zM1378 1809l17 -9 -11 -13 -17 9zM1407 1813l17 -8 -11 -13 -18 8zM1453 1810l17 -7 -11 -13 -18 7zM1499 1808l17 -8 -12 -12 -17 7zM1574 1809l17 -9 -12 -11 -17 8zM1604 1813l16 -10 -12 -11 -17 8zM1633 1814l17 -10 -13 -10 -17 9z"/>
<path fill="#00ff40" d="M1233 1782l17 -12 -10 -5 -17 12zM1223 1777l17 -12 -9 -4 -18 12zM1281 1793l18 -10 -11 -9 -17 10zM1211 1755l17 -12 -9 -2 -17 13zM1320 1803l18 -10 -11 -10 -17 9zM1200 1739l17 -13 -9 -1 -17 13zM1349 1805l18 -9 -12 -12 -17 9zM1424 1805l17 -8 -11 -13 -17 8zM1470 1803l17 -8 -11 -13 -17 8zM1545 1805l17 -8 -12 -12 -17 8z"/>
<path fill="#00ffbf" d="M1176 1767l17 -14 -9 0 -17 14zM1401 1837l17 -10 -11 -14 -18 9zM1523 1837l18 -9 -13 -14 -17 8z"/>
<path fill="#00ff15" d="M1271 1784l17 -10 -10 -8 -17 11zM1261 1777l17 -11 -10 -7 -18 11zM1240 1765l18 -11 -10 -5 -17 12zM1231 1761l17 -12 -10 -3 -17 11zM1338 1793l17 -9 -10 -10 -18 9zM1367 1796l17 -9 -11 -11 -18 8zM1441 1797l18 -7 -12 -13 -17 7zM1487 1795l17 -7 -12 -13 -16 7zM1533 1793l17 -8 -12 -12 -17 7zM1608 1792l16 -8 -13 -10 -16 7zM1637 1794l16 -7 -13 -9 -16 6zM1666 1796l16 -6 -13 -8 -16 5z"/>
<path fill="#0f0" d="M1250 1770l18 -11 -10 -5 -18 11zM1299 1783l17 -10 -10 -9 -18 10zM1219 1741l17 -11 -10 -2 -16 12zM1413 1792l17 -8 -12 -12 -17 8zM1459 1790l17 -8 -12 -12 -17 7zM1504 1788l17 -8 -12 -11 -17 6zM1579 1789l16 -8 -12 -11 -17 7zM1653 1787l16 -5 -13 -8 -16 4z"/>
<path fill="#00ff2b" d="M1221 1757l17 -11 -10 -3 -17 12zM1310 1792l17 -9 -11 -10 -17 10zM1210 1740l16 -12 -9 -2 -17 13zM1395 1800l18 -8 -12 -12 -17 7zM1516 1800l17 -7 -12 -13 -17 8zM1562 1797l17 -8 -13 -12 -16 8zM1591 1800l17 -8 -13 -11 -16 8zM1620 1803l17 -9 -13 -10 -16 8zM1650 1804l16 -8 -13 -9 -16 7z"/>
<path fill="#2aff00" d="M1288 1774l18 -10 -11 -8 -17 10zM1238 1746l17 -11 -10 -3 -17 11zM1476 1782l16 -7 -11 -11 -17 6zM1521 1780l17 -7 -12 -11 -17 7zM1595 1781l16 -7 -12 -10 -16 6zM1640 1778l16 -4 -12 -8 -16 3z"/>
<path fill="#40ff00" d="M1278 1766l17 -10 -10 -7 -17 10zM1268 1759l17 -10 -10 -5 -17 10zM1248 1749l17 -10 -10 -4 -17 11zM1316 1773l18 -9 -11 -9 -17 9zM1226 1728l17 -12 -10 -2 -16 12zM1401 1780l17 -8 -11 -11 -17 7zM1566 1777l17 -7 -13 -10 -16 6zM1611 1774l17 -5 -13 -9 -16 4z"/>
<path fill="#5f0" d="M1258 1754l17 -10 -10 -5 -17 10zM1236 1730l16 -11 -9 -3 -17 12zM1345 1774l17 -9 -11 -9 -17 8zM1373 1776l17 -8 -11 -10 -17 7zM1447 1777l17 -7 -12 -11 -17 7zM1492 1775l17 -6 -12 -12 -16 7zM1538 1773l16 -7 -12 -10 -16 6zM1628 1769l16 -3 -13 -9 -16 3z"/>
<path fill="#15ff00" d="M1228 1743l17 -11 -9 -2 -17 11zM1327 1783l18 -9 -11 -10 -18 9zM1217 1726l16 -12 -9 -2 -16 13zM1355 1784l18 -8 -11 -11 -17 9zM1384 1787l17 -7 -11 -12 -17 8zM1430 1784l17 -7 -12 -11 -17 6zM1550 1785l16 -8 -12 -11 -16 7zM1624 1784l16 -6 -12 -9 -17 5z"/>
<path fill="#6aff00" d="M1306 1764l17 -9 -11 -8 -17 9zM1418 1772l17 -6 -11 -11 -17 6zM1464 1770l17 -6 -12 -11 -17 6zM1583 1770l16 -6 -12 -9 -17 5z"/>
<path fill="#80ff00" d="M1295 1756l17 -9 -10 -7 -17 9zM1245 1732l17 -11 -10 -2 -16 11zM1334 1764l17 -8 -11 -9 -17 8zM1390 1768l17 -7 -11 -10 -17 7zM1509 1769l17 -7 -12 -11 -17 6zM1554 1766l16 -6 -12 -10 -16 6zM1599 1764l16 -4 -12 -9 -16 4zM1615 1760l16 -3 -13 -9 -15 3z"/>
<path fill="#95ff00" d="M1285 1749l17 -9 -10 -6 -17 10zM1265 1739l17 -10 -10 -4 -17 10zM1255 1735l17 -10 -10 -4 -17 11zM1233 1714l17 -12 -10 -2 -16 12zM1362 1765l17 -7 -11 -10 -17 8zM1435 1766l17 -7 -11 -11 -17 7zM1481 1764l16 -7 -11 -11 -17 7z"/>
<path fill="#af0" d="M1275 1744l17 -10 -10 -5 -17 10zM1323 1755l17 -8 -10 -8 -18 8zM1243 1716l16 -11 -9 -3 -17 12zM1407 1761l17 -6 -11 -11 -17 7zM1526 1762l16 -6 -12 -11 -16 6zM1570 1760l17 -5 -12 -10 -17 5zM1587 1755l16 -4 -13 -10 -15 4zM1603 1751l15 -3 -12 -8 -16 1z"/>
<path fill="#d5ff00" d="M1312 1747l18 -8 -11 -7 -17 8zM1262 1721l17 -10 -10 -3 -17 11zM1424 1755l17 -7 -11 -10 -17 6zM1558 1750l17 -5 -13 -10 -16 5z"/>
<path fill="#eaff00" d="M1302 1740l17 -8 -10 -7 -17 9zM1292 1734l17 -9 -10 -5 -17 9zM1282 1729l17 -9 -10 -5 -17 10zM1272 1725l17 -10 -10 -4 -17 10zM1340 1747l17 -8 -11 -8 -16 8zM1368 1748l17 -7 -11 -9 -17 7zM1396 1751l17 -7 -11 -10 -17 7zM1469 1753l17 -7 -12 -10 -16 6zM1514 1751l16 -6 -12 -10 -16 5zM1575 1745l15 -4 -12 -9 -16 3zM1590 1741l16 -1 -12 -9 -16 1z"/>
<path fill="#bfff00" d="M1252 1719l17 -11 -10 -3 -16 11zM1351 1756l17 -8 -11 -9 -17 8zM1379 1758l17 -7 -11 -10 -17 7zM1452 1759l17 -6 -11 -11 -17 6zM1497 1757l17 -6 -12 -11 -16 6zM1542 1756l16 -6 -12 -10 -16 5z"/>
<path fill="#ff0" d="M1330 1739l16 -8 -10 -7 -17 8zM1250 1702l16 -11 -9 -3 -17 12zM1441 1748l17 -6 -12 -10 -16 6zM1486 1746l16 -6 -11 -10 -17 6zM1530 1745l16 -5 -11 -10 -17 5z"/>
<path fill="#ffea00" d="M1319 1732l17 -8 -10 -7 -17 8zM1309 1725l17 -8 -11 -6 -16 9zM1279 1711l16 -9 -10 -4 -16 10zM1269 1708l16 -10 -9 -3 -17 10zM1259 1705l17 -10 -10 -4 -16 11zM1357 1739l17 -7 -11 -8 -17 7zM1385 1741l17 -7 -11 -9 -17 7zM1413 1744l17 -6 -12 -10 -16 6zM1430 1738l16 -6 -11 -10 -17 6zM1458 1742l16 -6 -11 -10 -17 6zM1502 1740l16 -5 -11 -10 -16 5zM1546 1740l16 -5 -11 -9 -16 4zM1562 1735l16 -3 -12 -9 -15 3zM1578 1732l16 -1 -12 -9 -16 1z"/>
<path fill="#ffd500" d="M1299 1720l16 -9 -10 -5 -16 9zM1289 1715l16 -9 -10 -4 -16 9zM1346 1731l17 -7 -10 -8 -17 8zM1336 1724l17 -8 -11 -6 -16 7zM1374 1732l17 -7 -11 -8 -17 7zM1402 1734l16 -6 -11 -9 -16 6zM1446 1732l17 -6 -12 -10 -16 6zM1474 1736l17 -6 -12 -10 -16 6zM1491 1730l16 -5 -12 -10 -16 5zM1518 1735l17 -5 -12 -10 -16 5zM1535 1730l16 -4 -12 -10 -16 4zM1551 1726l15 -3 -11 -9 -16 2zM1566 1723l16 -1 -12 -9 -15 1z"/>
<path fill="#ffbf00" d="M1326 1717l16 -7 -10 -7 -17 8zM1315 1711l17 -8 -10 -5 -17 8zM1305 1706l17 -8 -10 -5 -17 9zM1295 1702l17 -9 -10 -4 -17 9zM1285 1698l17 -9 -10 -5 -16 11zM1276 1695l16 -11 -10 -4 -16 11zM1266 1691l16 -11 -9 -4 -16 12zM1363 1724l17 -7 -11 -8 -16 7zM1391 1725l16 -6 -10 -8 -17 6zM1418 1728l17 -6 -11 -9 -17 6zM1463 1726l16 -6 -11 -9 -17 5zM1507 1725l16 -5 -12 -9 -16 4zM1523 1720l16 -4 -12 -9 -16 4zM1555 1714l15 -1 -11 -8 -16 0z"/>
<path fill="#fa0" d="M1353 1716l16 -7 -10 -7 -17 8zM1342 1710l17 -8 -11 -6 -16 7zM1380 1717l17 -6 -11 -8 -17 6zM1407 1719l17 -6 -11 -9 -16 7zM1435 1722l16 -6 -11 -9 -16 6zM1479 1720l16 -5 -11 -9 -16 5zM1495 1715l16 -4 -11 -9 -16 4zM1539 1716l16 -2 -12 -9 -16 2zM1543 1705l16 0 -12 -9 -15 0z"/>
<path fill="#ff9500" d="M1332 1703l16 -7 -10 -6 -16 8zM1322 1698l16 -8 -10 -5 -16 8zM1312 1693l16 -8 -10 -5 -16 9zM1302 1689l16 -9 -10 -5 -16 9zM1292 1684l16 -9 -10 -5 -16 10zM1369 1709l17 -6 -11 -8 -16 7zM1397 1711l16 -7 -11 -8 -16 7zM1424 1713l16 -6 -11 -8 -16 5zM1451 1716l17 -5 -11 -9 -17 5zM1468 1711l16 -5 -11 -9 -16 5zM1511 1711l16 -4 -11 -9 -16 4zM1527 1707l16 -2 -11 -9 -16 2z"/>
<path fill="#ff8000" d="M1282 1680l16 -10 -9 -4 -16 10zM1359 1702l16 -7 -10 -6 -17 7zM1348 1696l17 -7 -11 -7 -16 8zM1386 1703l16 -7 -10 -7 -17 6zM1413 1704l16 -5 -10 -9 -17 6zM1440 1707l17 -5 -11 -9 -17 6zM1484 1706l16 -4 -11 -9 -16 4zM1500 1702l16 -4 -11 -9 -16 4zM1516 1698l16 -2 -12 -9 -15 2zM1532 1696l15 0 -11 -9 -16 0z"/>
<path fill="#ff6a00" d="M1338 1690l16 -8 -10 -6 -16 9zM1328 1685l16 -9 -10 -5 -16 9zM1375 1695l17 -6 -11 -7 -16 7zM1429 1699l17 -6 -11 -8 -16 5zM1457 1702l16 -5 -11 -9 -16 5zM1473 1697l16 -4 -11 -9 -16 4zM1520 1687l16 0 -12 -9 -15 1z"/>
<path fill="#f50" d="M1318 1680l16 -9 -10 -5 -16 9zM1308 1675l16 -9 -10 -6 -16 10zM1298 1670l16 -10 -9 -5 -16 11zM1365 1689l16 -7 -10 -7 -17 7zM1402 1696l17 -6 -11 -7 -16 6zM1446 1693l16 -5 -11 -8 -16 5zM1489 1693l16 -4 -12 -8 -15 3zM1505 1689l15 -2 -11 -8 -16 2z"/>
<path fill="#ff4000" d="M1354 1682l17 -7 -11 -6 -16 7zM1392 1689l16 -6 -11 -8 -16 7zM1419 1690l16 -5 -11 -8 -16 6zM1462 1688l16 -4 -11 -8 -16 4zM1478 1684l15 -3 -11 -9 -15 4zM1509 1679l15 -1 -11 -8 -15 0z"/>
<path fill="#ff2a00" d="M1344 1676l16 -7 -10 -6 -16 8zM1334 1671l16 -8 -10 -6 -16 9zM1381 1682l16 -7 -10 -7 -16 7zM1408 1683l16 -6 -11 -8 -16 6zM1435 1685l16 -5 -11 -8 -16 5zM1493 1681l16 -2 -11 -9 -16 2z"/>
<path fill="#ff1500" d="M1324 1666l16 -9 -10 -6 -16 9zM1314 1660l16 -9 -10 -6 -15 10zM1371 1675l16 -7 -11 -6 -16 7zM1360 1669l16 -7 -10 -7 -16 8zM1350 1663l16 -8 -10 -6 -16 8zM1397 1675l16 -6 -10 -7 -16 6zM1387 1668l16 -6 -11 -7 -16 7zM1424 1677l16 -5 -11 -8 -16 5zM1451 1680l16 -4 -11 -9 -16 5zM1440 1672l16 -5 -11 -8 -16 5zM1467 1676l15 -4 -11 -8 -15 3zM1482 1672l16 -2 -11 -8 -16 2zM1498 1670l15 0 -11 -9 -15 1z"/>
<path fill="#f00" d="M1340 1657l16 -8 -10 -7 -16 9zM1330 1651l16 -9 -10 -6 -16 9zM1376 1662l16 -7 -10 -7 -16 7zM1366 1655l16 -7 -10 -7 -16 8zM1356 1649l16 -8 -10 -7 -16 8zM1346 1642l16 -8 -10 -7 -16 9zM1413 1669l16 -5 -10 -8 -16 6zM1403 1662l16 -6 -11 -7 -16 6zM1392 1655l16 -6 -10 -8 -16 7zM1382 1648l16 -7 -10 -7 -16 7zM1372 1641l16 -7 -11 -7 -15 7zM1362 1634l15 -7 -10 -8 -15 8zM1429 1664l16 -5 -11 -8 -15 5zM1419 1656l15 -5 -10 -8 -16 6zM1408 1649l16 -6 -11 -7 -15 5zM1398 1641l15 -5 -10 -8 -15 6zM1388 1634l15 -6 -10 -8 -16 7zM1377 1627l16 -7 -10 -8 -16 7zM1456 1667l15 -3 -10 -9 -16 4zM1445 1659l16 -4 -11 -8 -16 4zM1434 1651l16 -4 -11 -8 -15 4zM1424 1643l15 -4 -10 -8 -16 5zM1413 1636l16 -5 -10 -8 -16 5zM1403 1628l16 -5 -11 -9 -15 6zM1393 1620l15 -6 -10 -8 -15 6zM1471 1664l16 -2 -11 -9 -15 2zM1461 1655l15 -2 -11 -8 -15 2zM1450 1647l15 -2 -10 -9 -16 3zM1439 1639l16 -3 -11 -9 -15 4zM1429 1631l15 -4 -10 -8 -15 4zM1419 1623l15 -4 -10 -9 -16 4zM1408 1614l16 -4 -10 -9 -16 5zM1487 1662l15 -1 -11 -9 -15 1zM1476 1653l15 -1 -10 -9 -16 2zM1465 1645l16 -2 -11 -8 -15 1zM1455 1636l15 -1 -10 -9 -16 1zM1444 1627l16 -1 -11 -10 -15 3zM1434 1619l15 -3 -10 -9 -15 3zM1424 1610l15 -3 -10 -9 -15 3z"/>
</g>
<path fill="none" stroke="#000" stroke-width="2.40" stroke-linejoin="round" d="M1294 2100 1283 2067 1271 2038 1260 2011 1248 1988 1237 1966 1226 1946 1215 1929 1205 1913 1194 1898 1184 1886 1174 1875 1164 1865 1154 1857 1145 1851 1135 1846 1126 1843 1117 1842 1108 1842 1100 1842 1091 1844 1083 1847 1075 1849M1304 2090 1292 2057 1280 2028 1269 2003 1258 1979 1247 1958 1236 1939 1225 1921 1214 1905 1204 1891 1193 1878 1183 1867 1173 1858 1163 1850 1154 1844 1144 1839 1135 1836 1126 1834 1117 1834 1109 1834 1100 1836 1092 1838 1084 1840M1313 2079 1301 2047 1290 2019 1278 1994 1267 1970 1256 1949 1245 1930 1234 1913 1223 1898 1213 1883 1202 1871 1192 1860 1182 1851 1172 1843 1163 1836 1153 1832 1144 1828 1135 1826 1126 1826 1117 1826 1109 1828 1100 1829 1092 1832M1322 2068 1311 2037 1299 2010 1288 1984 1276 1962 1265 1941 1254 1922 1243 1905 1232 1890 1222 1876 1211 1864 1201 1853 1191 1843 1181 1835 1171 1829 1162 1824 1153 1821 1143 1819 1134 1818 1126 1818 1117 1819 1109 1821 1100 1823M1332 2058 1320 2027 1308 2000 1297 1975 1286 1953 1274 1933 1263 1914 1252 1897 1242 1882 1231 1868 1220 1856 1210 1845 1200 1836 1190 1828 1180 1822 1171 1817 1161 1813 1152 1811 1143 1810 1134 1810 1126 1811 1117 1813 1109 1814M1341 2047 1329 2017 1318 1990 1306 1966 1295 1944 1283 1924 1272 1906 1261 1890 1251 1875 1240 1861 1229 1849 1219 1838 1209 1829 1199 1821 1189 1815 1180 1810 1170 1806 1161 1804 1152 1803 1143 1803 1134 1803 1125 1805 1117 1806M1350 2037 1339 2007 1327 1981 1315 1957 1304 1936 1293 1916 1282 1898 1271 1882 1260 1867 1249 1854 1238 1842 1228 1831 1218 1822 1208 1814 1198 1808 1188 1803 1179 1799 1169 1797 1160 1796 1151 1795 1142 1796 1134 1797 1125 1798M1360 2026 1348 1997 1336 1972 1325 1948 1313 1927 1302 1908 1291 1891 1280 1874 1269 1860 1258 1847 1247 1835 1237 1824 1227 1815 1217 1807 1207 1801 1197 1796 1187 1792 1178 1790 1169 1788 1160 1788 1151 1788 1142 1789 1134 1790M1369 2016 1357 1988 1345 1963 1334 1940 1322 1919 1311 1900 1300 1883 1289 1867 1278 1853 1267 1840 1256 1828 1246 1818 1236 1809 1226 1801 1216 1794 1206 1789 1196 1786 1187 1783 1177 1781 1168 1781 1159 1781 1151 1781 1142 1782M1378 2006 1366 1979 1355 1954 1343 1932 1331 1911 1320 1893 1309 1876 1298 1860 1287 1846 1276 1833 1265 1822 1255 1811 1244 1802 1234 1795 1224 1788 1214 1783 1205 1779 1195 1776 1186 1775 1177 1774 1168 1774 1159 1774 1150 1774M1387 1996 1375 1970 1364 1945 1352 1924 1340 1904 1329 1885 1318 1869 1307 1853 1296 1839 1285 1827 1274 1815 1264 1805 1253 1796 1243 1788 1233 1782 1223 1777 1213 1773 1204 1770 1194 1768 1185 1767 1176 1767 1167 1767 1158 1767M1396 1987 1385 1961 1373 1937 1361 1916 1350 1896 1338 1878 1327 1862 1316 1847 1305 1833 1294 1820 1283 1809 1273 1799 1262 1790 1252 1782 1242 1776 1232 1771 1222 1767 1212 1764 1203 1761 1194 1760 1185 1760 1176 1759 1167 1759M1406 1978 1394 1952 1382 1929 1370 1908 1359 1889 1347 1872 1336 1855 1325 1841 1314 1827 1303 1815 1292 1803 1281 1793 1271 1784 1261 1777 1250 1770 1240 1765 1231 1761 1221 1757 1211 1755 1202 1754 1193 1753 1184 1753 1175 1752M1415 1969 1403 1944 1391 1922 1379 1901 1368 1882 1356 1865 1345 1849 1334 1835 1323 1821 1312 1809 1301 1798 1290 1788 1280 1779 1269 1771 1259 1765 1249 1759 1239 1755 1229 1752 1220 1749 1211 1747 1201 1746 1192 1746 1183 1745M1424 1961 1412 1937 1400 1914 1388 1894 1377 1876 1365 1859 1354 1843 1342 1829 1331 1816 1320 1803 1310 1792 1299 1783 1288 1774 1278 1766 1268 1759 1258 1754 1248 1749 1238 1746 1228 1743 1219 1741 1210 1740 1200 1739 1191 1738M1433 1953 1421 1929 1409 1908 1397 1888 1386 1870 1374 1853 1363 1838 1351 1823 1340 1810 1329 1798 1318 1787 1308 1778 1297 1769 1287 1761 1276 1754 1266 1749 1256 1744 1246 1740 1237 1738 1227 1735 1218 1734 1209 1733 1200 1731M1442 1945 1430 1922 1418 1901 1406 1882 1395 1864 1383 1847 1372 1832 1360 1818 1349 1805 1338 1793 1327 1783 1316 1773 1306 1764 1295 1756 1285 1749 1275 1744 1265 1739 1255 1735 1245 1732 1236 1730 1226 1728 1217 1726 1208 1725M1451 1938 1439 1915 1427 1895 1415 1876 1403 1858 1392 1842 1380 1827 1369 1813 1358 1801 1347 1789 1336 1778 1325 1768 1314 1759 1304 1752 1294 1745 1283 1739 1273 1734 1263 1730 1254 1727 1244 1724 1235 1722 1225 1720 1216 1718M1460 1931 1448 1909 1436 1888 1424 1870 1412 1853 1401 1837 1389 1822 1378 1809 1367 1796 1355 1784 1345 1774 1334 1764 1323 1755 1312 1747 1302 1740 1292 1734 1282 1729 1272 1725 1262 1721 1252 1719 1243 1716 1233 1714 1224 1712M1469 1924 1457 1902 1445 1883 1433 1864 1421 1848 1410 1832 1398 1818 1387 1804 1375 1792 1364 1780 1353 1769 1342 1760 1332 1751 1321 1743 1311 1736 1300 1730 1290 1724 1280 1720 1270 1716 1261 1713 1251 1711 1242 1708 1232 1706M1478 1917 1466 1896 1454 1877 1442 1859 1430 1843 1418 1827 1407 1813 1395 1800 1384 1787 1373 1776 1362 1765 1351 1756 1340 1747 1330 1739 1319 1732 1309 1725 1299 1720 1289 1715 1279 1711 1269 1708 1259 1705 1250 1702 1240 1700M1487 1911 1475 1891 1463 1872 1451 1854 1439 1838 1427 1823 1415 1809 1404 1796 1393 1783 1381 1772 1370 1761 1359 1752 1349 1743 1338 1735 1328 1728 1317 1721 1307 1716 1297 1711 1287 1707 1277 1703 1267 1700 1258 1697 1249 1694M1496 1905 1483 1885 1471 1866 1459 1849 1448 1833 1436 1819 1424 1805 1413 1792 1401 1780 1390 1768 1379 1758 1368 1748 1357 1739 1346 1731 1336 1724 1326 1717 1315 1711 1305 1706 1295 1702 1285 1698 1276 1695 1266 1691 1257 1688M1505 1899 1492 1879 1480 1861 1468 1845 1456 1829 1444 1814 1433 1801 1421 1788 1410 1776 1399 1765 1387 1754 1376 1744 1366 1736 1355 1727 1344 1720 1334 1713 1324 1707 1313 1702 1303 1697 1294 1693 1284 1689 1274 1686 1265 1682M1513 1893 1501 1874 1489 1856 1477 1840 1465 1825 1453 1810 1441 1797 1430 1784 1418 1772 1407 1761 1396 1751 1385 1741 1374 1732 1363 1724 1353 1716 1342 1710 1332 1703 1322 1698 1312 1693 1302 1689 1292 1684 1282 1680 1273 1676M1522 1887 1510 1869 1498 1851 1485 1836 1474 1821 1462 1806 1450 1793 1438 1781 1427 1769 1416 1758 1404 1747 1393 1738 1382 1729 1372 1720 1361 1713 1351 1706 1340 1700 1330 1694 1320 1689 1310 1684 1300 1680 1290 1675 1281 1671M1531 1881 1518 1863 1506 1847 1494 1831 1482 1816 1470 1803 1459 1790 1447 1777 1435 1766 1424 1755 1413 1744 1402 1734 1391 1725 1380 1717 1369 1709 1359 1702 1348 1696 1338 1690 1328 1685 1318 1680 1308 1675 1298 1670 1289 1666M1540 1876 1527 1858 1515 1842 1503 1827 1491 1812 1479 1799 1467 1786 1455 1774 1444 1762 1433 1751 1421 1741 1410 1731 1399 1722 1388 1714 1378 1706 1367 1699 1357 1692 1346 1686 1336 1680 1326 1675 1316 1670 1306 1665 1297 1660M1548 1870 1536 1853 1523 1837 1511 1822 1499 1808 1487 1795 1476 1782 1464 1770 1452 1759 1441 1748 1430 1738 1418 1728 1407 1719 1397 1711 1386 1703 1375 1695 1365 1689 1354 1682 1344 1676 1334 1671 1324 1666 1314 1660 1305 1655M1557 1864 1544 1848 1532 1833 1520 1818 1508 1804 1496 1791 1484 1779 1472 1767 1461 1756 1449 1745 1438 1735 1427 1725 1416 1716 1405 1708 1394 1700 1383 1692 1373 1685 1363 1679 1352 1673 1342 1667 1332 1661 1322 1656 1313 1650M1565 1859 1553 1843 1541 1828 1528 1814 1516 1800 1504 1788 1492 1775 1481 1764 1469 1753 1458 1742 1446 1732 1435 1722 1424 1713 1413 1704 1402 1696 1392 1689 1381 1682 1371 1675 1360 1669 1350 1663 1340 1657 1330 1651 1320 1645M1574 1853 1561 1838 1549 1823 1537 1810 1525 1797 1513 1784 1501 1772 1489 1761 1477 1749 1466 1739 1455 1729 1443 1719 1432 1710 1421 1702 1410 1693 1400 1686 1389 1678 1379 1672 1368 1665 1358 1659 1348 1653 1338 1647 1328 1640M1583 1847 1570 1833 1558 1819 1545 1805 1533 1793 1521 1780 1509 1769 1497 1757 1486 1746 1474 1736 1463 1726 1451 1716 1440 1707 1429 1699 1419 1690 1408 1683 1397 1675 1387 1668 1376 1662 1366 1655 1356 1649 1346 1642 1336 1636M1591 1842 1578 1828 1566 1814 1554 1801 1541 1789 1529 1777 1517 1765 1506 1754 1494 1743 1482 1733 1471 1723 1460 1714 1449 1705 1437 1696 1427 1688 1416 1680 1405 1672 1395 1665 1384 1658 1374 1651 1364 1645 1354 1638 1344 1631M1600 1836 1587 1823 1574 1809 1562 1797 1550 1785 1538 1773 1526 1762 1514 1751 1502 1740 1491 1730 1479 1720 1468 1711 1457 1702 1446 1693 1435 1685 1424 1677 1413 1669 1403 1662 1392 1655 1382 1648 1372 1641 1362 1634 1352 1627M1608 1831 1595 1817 1583 1805 1570 1793 1558 1781 1546 1770 1534 1759 1522 1748 1510 1738 1499 1728 1487 1718 1476 1708 1465 1699 1454 1691 1443 1682 1432 1674 1421 1666 1411 1659 1400 1652 1390 1644 1380 1637 1370 1630 1360 1623M1616 1825 1604 1813 1591 1800 1579 1789 1566 1777 1554 1766 1542 1756 1530 1745 1518 1735 1507 1725 1495 1715 1484 1706 1473 1697 1462 1688 1451 1680 1440 1672 1429 1664 1419 1656 1408 1649 1398 1641 1388 1634 1377 1627 1367 1619M1625 1820 1612 1808 1599 1796 1587 1785 1575 1774 1562 1763 1550 1753 1538 1742 1527 1732 1515 1723 1503 1713 1492 1704 1481 1695 1470 1686 1459 1678 1448 1669 1437 1661 1426 1654 1416 1646 1406 1638 1395 1631 1385 1623 1375 1615M1633 1814 1620 1803 1608 1792 1595 1781 1583 1770 1570 1760 1558 1750 1546 1740 1535 1730 1523 1720 1511 1711 1500 1702 1489 1693 1478 1684 1467 1676 1456 1667 1445 1659 1434 1651 1424 1643 1413 1636 1403 1628 1393 1620 1383 1612M1642 1809 1629 1798 1616 1788 1603 1778 1591 1767 1579 1757 1566 1747 1554 1737 1543 1728 1531 1718 1519 1709 1508 1700 1497 1691 1485 1682 1474 1674 1464 1665 1453 1657 1442 1649 1432 1641 1421 1633 1411 1625 1401 1617 1391 1609M1650 1804 1637 1794 1624 1784 1611 1774 1599 1764 1587 1755 1575 1745 1562 1735 1551 1726 1539 1716 1527 1707 1516 1698 1505 1689 1493 1681 1482 1672 1471 1664 1461 1655 1450 1647 1439 1639 1429 1631 1419 1623 1408 1614 1398 1606M1658 1800 1645 1790 1632 1781 1620 1771 1607 1762 1595 1752 1583 1743 1570 1734 1559 1724 1547 1715 1535 1706 1524 1697 1512 1688 1501 1680 1490 1671 1479 1662 1468 1654 1458 1646 1447 1637 1437 1629 1426 1621 1416 1612 1406 1603M1666 1796 1653 1787 1640 1778 1628 1769 1615 1760 1603 1751 1590 1741 1578 1732 1566 1723 1555 1714 1543 1705 1532 1696 1520 1687 1509 1679 1498 1670 1487 1662 1476 1653 1465 1645 1455 1636 1444 1627 1434 1619 1424 1610 1414 1601M1674 1793 1661 1784 1648 1776 1636 1767 1623 1758 1611 1749 1598 1740 1586 1731 1574 1722 1563 1713 1551 1705 1539 1696 1528 1687 1517 1678 1506 1670 1495 1661 1484 1652 1473 1644 1462 1635 1452 1626 1442 1617 1431 1608 1421 1599M1682 1790 1669 1782 1656 1774 1644 1766 1631 1757 1618 1748 1606 1740 1594 1731 1582 1722 1570 1713 1559 1705 1547 1696 1536 1687 1524 1678 1513 1670 1502 1661 1491 1652 1481 1643 1470 1635 1460 1626 1449 1616 1439 1607 1429 1598M1294 2100 1313 2079 1332 2058 1350 2037 1369 2016 1387 1996 1406 1978 1424 1961 1442 1945 1460 1931 1478 1917 1496 1905 1513 1893 1531 1881 1548 1870 1565 1859 1583 1847 1600 1836 1616 1825 1633 1814 1650 1804 1666 1796 1682 1790M1288 2083 1307 2063 1326 2042 1344 2021 1363 2002 1381 1983 1400 1965 1418 1949 1436 1933 1454 1920 1472 1907 1490 1895 1507 1883 1525 1872 1542 1861 1559 1851 1576 1840 1593 1829 1610 1819 1627 1809 1643 1799 1660 1792 1676 1786M1283 2067 1301 2047 1320 2027 1339 2007 1357 1988 1375 1970 1394 1952 1412 1937 1430 1922 1448 1909 1466 1896 1483 1885 1501 1874 1518 1863 1536 1853 1553 1843 1570 1833 1587 1823 1604 1813 1620 1803 1637 1794 1653 1787 1669 1782M1277 2052 1296 2033 1314 2013 1333 1994 1351 1975 1370 1957 1388 1941 1406 1925 1424 1911 1442 1898 1460 1886 1477 1875 1495 1865 1512 1855 1530 1845 1547 1835 1564 1826 1581 1816 1597 1806 1614 1797 1630 1789 1647 1783 1663 1778M1271 2038 1290 2019 1308 2000 1327 1981 1345 1963 1364 1945 1382 1929 1400 1914 1418 1901 1436 1888 1454 1877 1471 1866 1489 1856 1506 1847 1523 1837 1541 1828 1558 1819 1574 1809 1591 1800 1608 1792 1624 1784 1640 1778 1656 1774M1265 2024 1284 2006 1303 1987 1321 1969 1340 1951 1358 1934 1376 1919 1394 1904 1412 1891 1430 1879 1448 1868 1465 1858 1483 1848 1500 1839 1517 1830 1534 1821 1551 1812 1568 1803 1585 1795 1601 1787 1618 1779 1634 1773 1650 1770M1260 2011 1278 1994 1297 1975 1315 1957 1334 1940 1352 1924 1370 1908 1388 1894 1406 1882 1424 1870 1442 1859 1459 1849 1477 1840 1494 1831 1511 1822 1528 1814 1545 1805 1562 1797 1579 1789 1595 1781 1611 1774 1628 1769 1644 1766M1254 1999 1273 1982 1291 1964 1310 1946 1328 1929 1346 1913 1364 1898 1382 1885 1400 1872 1418 1861 1436 1851 1453 1841 1471 1832 1488 1824 1505 1815 1522 1807 1539 1799 1556 1791 1572 1783 1589 1776 1605 1769 1621 1764 1637 1761M1248 1988 1267 1970 1286 1953 1304 1936 1322 1919 1340 1904 1359 1889 1377 1876 1395 1864 1412 1853 1430 1843 1448 1833 1465 1825 1482 1816 1499 1808 1516 1800 1533 1793 1550 1785 1566 1777 1583 1770 1599 1764 1615 1760 1631 1757M1243 1976 1261 1960 1280 1943 1298 1926 1317 1909 1335 1894 1353 1880 1371 1867 1389 1855 1407 1845 1424 1835 1442 1826 1459 1817 1476 1809 1493 1802 1510 1794 1527 1786 1544 1779 1560 1772 1577 1765 1593 1759 1609 1755 1625 1753M1237 1966 1256 1949 1274 1933 1293 1916 1311 1900 1329 1885 1347 1872 1365 1859 1383 1847 1401 1837 1418 1827 1436 1819 1453 1810 1470 1803 1487 1795 1504 1788 1521 1780 1538 1773 1554 1766 1570 1760 1587 1755 1603 1751 1618 1748M1232 1956 1250 1940 1269 1923 1287 1907 1305 1891 1323 1877 1341 1863 1359 1851 1377 1840 1395 1829 1413 1820 1430 1812 1447 1804 1464 1796 1481 1789 1498 1781 1515 1774 1532 1768 1548 1761 1564 1755 1581 1750 1597 1746 1612 1744M1226 1946 1245 1930 1263 1914 1282 1898 1300 1883 1318 1869 1336 1855 1354 1843 1372 1832 1389 1822 1407 1813 1424 1805 1441 1797 1459 1790 1476 1782 1492 1775 1509 1769 1526 1762 1542 1756 1558 1750 1575 1745 1590 1741 1606 1740M1221 1937 1239 1922 1258 1906 1276 1890 1294 1875 1312 1861 1330 1848 1348 1836 1366 1825 1383 1815 1401 1806 1418 1798 1436 1791 1453 1783 1470 1776 1486 1770 1503 1763 1520 1756 1536 1750 1552 1745 1568 1740 1584 1737 1600 1735M1215 1929 1234 1913 1252 1897 1271 1882 1289 1867 1307 1853 1325 1841 1342 1829 1360 1818 1378 1809 1395 1800 1413 1792 1430 1784 1447 1777 1464 1770 1481 1764 1497 1757 1514 1751 1530 1745 1546 1740 1562 1735 1578 1732 1594 1731M1210 1920 1229 1905 1247 1890 1265 1874 1283 1860 1301 1846 1319 1834 1337 1822 1355 1812 1372 1802 1390 1794 1407 1786 1424 1778 1441 1771 1458 1765 1475 1758 1491 1752 1508 1746 1524 1740 1540 1735 1557 1731 1572 1728 1588 1727M1205 1913 1223 1898 1242 1882 1260 1867 1278 1853 1296 1839 1314 1827 1331 1816 1349 1805 1367 1796 1384 1787 1401 1780 1418 1772 1435 1766 1452 1759 1469 1753 1486 1746 1502 1740 1518 1735 1535 1730 1551 1726 1566 1723 1582 1722M1200 1905 1218 1890 1236 1875 1254 1860 1272 1846 1290 1833 1308 1821 1326 1809 1344 1799 1361 1790 1378 1782 1396 1774 1413 1767 1430 1760 1447 1753 1463 1747 1480 1741 1496 1735 1513 1730 1529 1725 1545 1721 1561 1719 1576 1718M1194 1898 1213 1883 1231 1868 1249 1854 1267 1840 1285 1827 1303 1815 1320 1803 1338 1793 1355 1784 1373 1776 1390 1768 1407 1761 1424 1755 1441 1748 1458 1742 1474 1736 1491 1730 1507 1725 1523 1720 1539 1716 1555 1714 1570 1713M1189 1892 1207 1877 1226 1862 1244 1848 1262 1834 1280 1821 1297 1809 1315 1798 1333 1788 1350 1779 1367 1771 1384 1763 1402 1756 1418 1749 1435 1743 1452 1737 1468 1731 1485 1725 1501 1720 1517 1716 1533 1712 1549 1710 1564 1709M1184 1886 1202 1871 1220 1856 1238 1842 1256 1828 1274 1815 1292 1803 1310 1792 1327 1783 1345 1774 1362 1765 1379 1758 1396 1751 1413 1744 1430 1738 1446 1732 1463 1726 1479 1720 1495 1715 1511 1711 1527 1707 1543 1705 1559 1705M1179 1880 1197 1865 1215 1851 1233 1836 1251 1823 1269 1810 1287 1798 1304 1787 1322 1778 1339 1769 1356 1760 1373 1753 1390 1746 1407 1739 1424 1733 1441 1727 1457 1721 1473 1716 1490 1711 1506 1706 1522 1703 1537 1701 1553 1700M1174 1875 1192 1860 1210 1845 1228 1831 1246 1818 1264 1805 1281 1793 1299 1783 1316 1773 1334 1764 1351 1756 1368 1748 1385 1741 1402 1734 1418 1728 1435 1722 1451 1716 1468 1711 1484 1706 1500 1702 1516 1698 1532 1696 1547 1696M1169 1870 1187 1855 1205 1841 1223 1826 1241 1813 1258 1800 1276 1789 1294 1778 1311 1768 1328 1759 1346 1751 1363 1743 1379 1736 1396 1730 1413 1724 1430 1718 1446 1712 1462 1706 1478 1702 1494 1697 1510 1694 1526 1692 1541 1692M1164 1865 1182 1851 1200 1836 1218 1822 1236 1809 1253 1796 1271 1784 1288 1774 1306 1764 1323 1755 1340 1747 1357 1739 1374 1732 1391 1725 1407 1719 1424 1713 1440 1707 1457 1702 1473 1697 1489 1693 1505 1689 1520 1687 1536 1687M1159 1861 1177 1846 1195 1832 1213 1818 1231 1805 1248 1792 1266 1780 1283 1770 1300 1760 1318 1751 1335 1743 1352 1735 1369 1728 1385 1721 1402 1715 1419 1709 1435 1703 1451 1698 1467 1693 1483 1688 1499 1685 1515 1683 1530 1683M1154 1857 1172 1843 1190 1828 1208 1814 1226 1801 1243 1788 1261 1777 1278 1766 1295 1756 1312 1747 1330 1739 1346 1731 1363 1724 1380 1717 1397 1711 1413 1704 1429 1699 1446 1693 1462 1688 1478 1684 1493 1681 1509 1679 1524 1678M1149 1854 1167 1839 1185 1825 1203 1811 1221 1798 1238 1785 1255 1773 1273 1763 1290 1753 1307 1744 1324 1735 1341 1727 1358 1720 1375 1713 1391 1707 1408 1700 1424 1695 1440 1689 1456 1684 1472 1680 1488 1676 1503 1674 1519 1674M1145 1851 1163 1836 1180 1822 1198 1808 1216 1794 1233 1782 1250 1770 1268 1759 1285 1749 1302 1740 1319 1732 1336 1724 1353 1716 1369 1709 1386 1703 1402 1696 1419 1690 1435 1685 1451 1680 1467 1676 1482 1672 1498 1670 1513 1670M1140 1849 1158 1834 1175 1819 1193 1805 1211 1792 1228 1779 1245 1767 1263 1756 1280 1746 1297 1737 1314 1728 1331 1720 1347 1713 1364 1706 1381 1699 1397 1693 1413 1687 1429 1681 1445 1676 1461 1671 1477 1668 1492 1666 1508 1665M1135 1846 1153 1832 1171 1817 1188 1803 1206 1789 1223 1777 1240 1765 1258 1754 1275 1744 1292 1734 1309 1725 1326 1717 1342 1710 1359 1702 1375 1695 1392 1689 1408 1683 1424 1677 1440 1672 1456 1667 1471 1664 1487 1662 1502 1661M1131 1845 1148 1830 1166 1815 1184 1801 1201 1787 1218 1775 1236 1763 1253 1751 1270 1741 1287 1732 1304 1723 1320 1714 1337 1706 1354 1699 1370 1692 1386 1685 1402 1679 1419 1673 1434 1668 1450 1663 1466 1660 1481 1657 1497 1657M1126 1843 1144 1828 1161 1813 1179 1799 1196 1786 1213 1773 1231 1761 1248 1749 1265 1739 1282 1729 1299 1720 1315 1711 1332 1703 1348 1696 1365 1689 1381 1682 1397 1675 1413 1669 1429 1664 1445 1659 1461 1655 1476 1653 1491 1652M1122 1842 1139 1827 1157 1812 1174 1798 1191 1784 1209 1771 1226 1759 1243 1747 1260 1737 1277 1727 1294 1718 1310 1709 1327 1701 1343 1693 1360 1685 1376 1678 1392 1672 1408 1666 1424 1660 1440 1655 1455 1651 1471 1649 1486 1648M1117 1842 1135 1826 1152 1811 1169 1797 1187 1783 1204 1770 1221 1757 1238 1746 1255 1735 1272 1725 1289 1715 1305 1706 1322 1698 1338 1690 1354 1682 1371 1675 1387 1668 1403 1662 1419 1656 1434 1651 1450 1647 1465 1645 1481 1643M1113 1842 1130 1826 1148 1811 1165 1796 1182 1782 1199 1769 1216 1756 1233 1744 1250 1733 1267 1723 1284 1713 1300 1704 1317 1695 1333 1687 1349 1679 1365 1672 1382 1665 1397 1658 1413 1652 1429 1647 1445 1643 1460 1640 1475 1639M1108 1842 1126 1826 1143 1810 1160 1796 1177 1781 1194 1768 1211 1755 1228 1743 1245 1732 1262 1721 1279 1711 1295 1702 1312 1693 1328 1685 1344 1676 1360 1669 1376 1662 1392 1655 1408 1649 1424 1643 1439 1639 1455 1636 1470 1635M1104 1842 1121 1826 1139 1810 1156 1795 1173 1781 1190 1767 1207 1754 1224 1742 1240 1731 1257 1720 1274 1710 1290 1700 1307 1691 1323 1682 1339 1674 1355 1666 1371 1658 1387 1651 1403 1645 1419 1639 1434 1635 1449 1632 1465 1630M1100 1842 1117 1826 1134 1810 1151 1795 1168 1781 1185 1767 1202 1754 1219 1741 1236 1730 1252 1719 1269 1708 1285 1698 1302 1689 1318 1680 1334 1671 1350 1663 1366 1655 1382 1648 1398 1641 1413 1636 1429 1631 1444 1627 1460 1626M1096 1843 1113 1827 1130 1811 1147 1795 1164 1781 1181 1767 1198 1753 1214 1741 1231 1729 1248 1717 1264 1707 1280 1696 1297 1686 1313 1677 1329 1668 1345 1660 1361 1652 1377 1644 1393 1638 1408 1632 1424 1627 1439 1623 1454 1621M1091 1844 1109 1828 1126 1811 1142 1796 1159 1781 1176 1767 1193 1753 1210 1740 1226 1728 1243 1716 1259 1705 1276 1695 1292 1684 1308 1675 1324 1666 1340 1657 1356 1649 1372 1641 1388 1634 1403 1628 1419 1623 1434 1619 1449 1616M1087 1845 1104 1828 1121 1812 1138 1796 1155 1781 1172 1766 1188 1753 1205 1740 1222 1727 1238 1715 1255 1704 1271 1693 1287 1682 1303 1672 1319 1663 1335 1654 1351 1645 1367 1638 1382 1630 1398 1624 1413 1618 1429 1614 1444 1612M1083 1847 1100 1829 1117 1813 1134 1797 1151 1781 1167 1767 1184 1753 1200 1739 1217 1726 1233 1714 1250 1702 1266 1691 1282 1680 1298 1670 1314 1660 1330 1651 1346 1642 1362 1634 1377 1627 1393 1620 1408 1614 1424 1610 1439 1607M1079 1848 1096 1830 1113 1814 1130 1797 1146 1782 1163 1767 1179 1752 1196 1739 1212 1726 1229 1713 1245 1701 1261 1690 1277 1678 1294 1668 1309 1658 1325 1648 1341 1639 1357 1631 1372 1623 1388 1616 1403 1610 1419 1605 1434 1602M1075 1849 1092 1832 1109 1814 1125 1798 1142 1782 1158 1767 1175 1752 1191 1738 1208 1725 1224 1712 1240 1700 1257 1688 1273 1676 1289 1666 1305 1655 1320 1645 1336 1636 1352 1627 1367 1619 1383 1612 1398 1606 1414 1601 1429 1598"/>
</g>
<rect x="268.6" y="1318.8" width="2.5" height="2.5" fill="#333"/>
<rect x="1060.1" y="2159.3" width="2.5" height="2.5" fill="#333"/>
<rect x="1157.3" y="2159.3" width="2.5" height="2.5" fill="#333"/>
<rect x="1147.8" y="2185.8" width="2.5" height="2.5" fill="#333"/>
<g id="txt">
<text class="ts" transform="translate(90.0 86.6) scale(0.849 1)" font-size="24.5">4.4</text>
<text class="ts" transform="translate(69.0 162.7) scale(0.849 1)" font-size="24.9">3.125</text>
<text class="ts" transform="translate(86.7 235.8) scale(0.880 1)" font-size="23.9">1.85</text>
<text class="ts" transform="translate(78.0 312.1) scale(0.889 1)" font-size="23.8">0.575</text>
<text class="ts" transform="translate(95.6 382.0) scale(0.918 1)" font-size="23.8">-0.7</text>
<text class="ts" transform="translate(58.9 359.7) rotate(-90) scale(0.798 1)" font-size="45.9">absorbance</text>
<text class="ts" transform="translate(95.0 475.8) scale(0.880 1)" font-size="23.9">4.00</text>
<text class="ts" transform="translate(157.0 513.8) scale(0.973 1)" font-size="21.1">3.25</text>
<text class="ts" transform="translate(215.0 551.8) scale(0.935 1)" font-size="22.5">2.50</text>
<text class="ts" transform="translate(278.0 589.8) scale(0.877 1)" font-size="22.9">1.75</text>
<text class="ts" transform="translate(338.0 627.8) scale(0.890 1)" font-size="22.5">1.00</text>
<text class="ts" transform="translate(399.0 627.8) scale(0.935 1)" font-size="22.5">0.16</text>
<text class="ts" transform="translate(484.6 594.8) scale(1.061 1)" font-size="19.7">0.44</text>
<text class="ts" transform="translate(567.4 565.8) scale(0.926 1)" font-size="22.5">0.72</text>
<text class="ts" transform="translate(650.0 536.8) scale(0.890 1)" font-size="22.5">1.00</text>
<text class="ts" transform="translate(734.5 504.8) scale(0.828 1)" font-size="22.5">1.28</text>
<text class="ts" transform="translate(113.0 596.6) scale(0.912 1)" font-size="40.8">Dextrin</text>
<text class="tr" transform="translate(133.5 647.3) scale(0.967 1)" font-size="45.1">(g%)</text>
<text class="ts" transform="translate(518.0 624.9) scale(0.980 1)" font-size="38.5">Casein hydrolysate</text>
<text class="tr" transform="translate(605.0 680.3) scale(0.965 1)" font-size="45.1">(g%)</text>
<text class="ts" transform="translate(35.0 717.6) scale(0.884 1)" font-size="36.4">a</text>
<text class="ts" transform="translate(1013.2 75.0) scale(0.833 1)" font-size="25.7">4.7</text>
<text class="ts" transform="translate(993.1 147.8) scale(0.854 1)" font-size="24.8">3.825</text>
<text class="ts" transform="translate(1007.5 221.0) scale(0.846 1)" font-size="24.9">2.95</text>
<text class="ts" transform="translate(998.7 293.3) scale(0.849 1)" font-size="24.9">2.075</text>
<text class="ts" transform="translate(1025.2 364.1) scale(0.827 1)" font-size="25.1">1.2</text>
<text class="ts" transform="translate(981.4 343.3) rotate(-90) scale(0.856 1)" font-size="42.6">absorbance</text>
<text class="ts" transform="translate(1019.0 454.4) scale(0.871 1)" font-size="24.8">8.00</text>
<text class="ts" transform="translate(1063.6 495.0) scale(0.829 1)" font-size="25.1">7.50</text>
<text class="ts" transform="translate(1109.0 535.7) scale(0.831 1)" font-size="25.4">7.00</text>
<text class="ts" transform="translate(1152.6 576.4) scale(0.869 1)" font-size="24.8">6.50</text>
<text class="ts" transform="translate(1200.9 618.3) scale(0.802 1)" font-size="25.1">6.00</text>
<text class="ts" transform="translate(1264.4 618.3) scale(0.808 1)" font-size="25.1">0.16</text>
<text class="ts" transform="translate(1358.3 592.7) scale(0.845 1)" font-size="23.8">0.44</text>
<text class="ts" transform="translate(1450.6 567.5) scale(0.883 1)" font-size="23.5">0.72</text>
<text class="ts" transform="translate(1545.6 543.8) scale(0.842 1)" font-size="23.9">1.00</text>
<text class="ts" transform="translate(1635.0 517.2) scale(0.965 1)" font-size="21.7">1.28</text>
<text class="ts" transform="translate(992.2 573.1) scale(0.918 1)" font-size="40.7">Intial pH</text>
<text class="ts" transform="translate(1384.9 634.7) scale(0.951 1)" font-size="39.7">Casein hydrolysate</text>
<text class="tr" transform="translate(1485.5 686.5) scale(0.994 1)" font-size="44.0">(ģ %)</text>
<text class="ts" transform="translate(1049.6 699.6) scale(0.932 1)" font-size="36.7">b</text>
<text class="ts" transform="translate(118.7 843.4) scale(0.869 1)" font-size="22.7">3.5</text>
<text class="ts" transform="translate(123.6 914.9) scale(0.892 1)" font-size="22.7">2.9</text>
<text class="ts" transform="translate(126.8 984.0) scale(0.892 1)" font-size="22.7">2.3</text>
<text class="ts" transform="translate(130.0 1053.3) scale(0.817 1)" font-size="23.3">1.7</text>
<text class="ts" transform="translate(133.7 1122.3) scale(0.788 1)" font-size="22.2">1.1</text>
<text class="ts" transform="translate(87.8 1097.5) rotate(-90) scale(0.911 1)" font-size="37.1">absorbance</text>
<text class="ts" transform="translate(104.5 1208.5) scale(0.848 1)" font-size="23.5">280.00</text>
<text class="ts" transform="translate(160.4 1244.1) scale(0.841 1)" font-size="23.2">224.00</text>
<text class="ts" transform="translate(217.6 1279.8) scale(0.886 1)" font-size="21.5">168.00</text>
<text class="ts" transform="translate(278.7 1321.8) scale(0.801 1)" font-size="23.4">112.00</text>
<text class="ts" transform="translate(339.7 1354.8) scale(0.867 1)" font-size="23.4">56.00</text>
<text class="ts" transform="translate(412.0 1354.8) scale(0.842 1)" font-size="23.4">0.16</text>
<text class="ts" transform="translate(490.0 1322.8) scale(0.888 1)" font-size="21.5">0.44</text>
<text class="ts" transform="translate(569.7 1296.6) scale(0.804 1)" font-size="23.0">0.72</text>
<text class="ts" transform="translate(649.2 1268.3) scale(0.859 1)" font-size="21.5">1.00</text>
<text class="ts" transform="translate(728.7 1237.8) scale(0.833 1)" font-size="21.5">1.28</text>
<text class="ts" transform="translate(90.5 1345.6) scale(0.958 1)" font-size="38.1">inoculum size</text>
<text class="tr" transform="translate(93.0 1389.3) scale(0.839 1)" font-size="40.7">(CFU ×10⁶/ml)</text>
<text class="ts" transform="translate(520.6 1354.6) scale(0.957 1)" font-size="37.4">Casein hydrolysate</text>
<text class="tr" transform="translate(603.6 1398.1) scale(1.010 1)" font-size="40.4">(g%)</text>
<text class="ts" transform="translate(36.9 1485.0) scale(0.824 1)" font-size="38.4">c</text>
<text class="ts" transform="translate(1010.7 876.8) scale(0.938 1)" font-size="22.3">3.9</text>
<text class="ts" transform="translate(992.2 948.0) scale(0.899 1)" font-size="22.3">3.325</text>
<text class="ts" transform="translate(1005.4 1019.2) scale(0.915 1)" font-size="22.3">2.75</text>
<text class="ts" transform="translate(997.5 1087.8) scale(0.893 1)" font-size="22.4">2.175</text>
<text class="ts" transform="translate(1025.3 1154.4) scale(0.788 1)" font-size="24.4">1.6</text>
<text class="ts" transform="translate(983.8 1132.7) rotate(-90) scale(0.735 1)" font-size="46.7">absorbance</text>
<text class="ts" transform="translate(1005.3 1240.8) scale(0.873 1)" font-size="22.5">35.00</text>
<text class="ts" transform="translate(1070.6 1274.3) scale(0.872 1)" font-size="22.5">32.50</text>
<text class="ts" transform="translate(1135.8 1307.6) scale(0.801 1)" font-size="24.5">30.00</text>
<text class="ts" transform="translate(1187.8 1347.3) scale(1.042 1)" font-size="23.9">27:50</text>
<text class="ts" transform="translate(1266.3 1372.8) scale(0.831 1)" font-size="24.4">25.00</text>
<text class="ts" transform="translate(1338.2 1372.8) scale(0.787 1)" font-size="24.4">0.16</text>
<text class="ts" transform="translate(1409.7 1339.3) scale(0.728 1)" font-size="22.7">0.44</text>
<text class="ts" transform="translate(1478.0 1309.8) scale(0.785 1)" font-size="24.5">0.72</text>
<text class="ts" transform="translate(1547.5 1276.4) scale(0.850 1)" font-size="22.7">1.00</text>
<text class="ts" transform="translate(1615.7 1247.0) scale(0.925 1)" font-size="20.8">1.28</text>
<text class="ts" transform="translate(1008.0 1391.0) scale(0.910 1)" font-size="38.0">temperature</text>
<text class="tr" transform="translate(1057.2 1437.2) scale(1.009 1)" font-size="42.5">(ºC)</text>
<text class="ts" transform="translate(1439.0 1357.1) scale(0.929 1)" font-size="37.4">Casein hydrolysate</text>
<text class="tr" transform="translate(1532.8 1409.2) scale(0.940 1)" font-size="42.6">(g%)</text>
<text class="ts" transform="translate(985.3 1479.7) scale(1.086 1)" font-size="33.2">d</text>
<text class="ts" transform="translate(73.9 1661.5) scale(0.845 1)" font-size="26.1">4.9</text>
<text class="ts" transform="translate(51.4 1737.8) scale(0.867 1)" font-size="25.9">3.275</text>
<text class="ts" transform="translate(68.3 1819.0) scale(0.806 1)" font-size="27.2">1.65</text>
<text class="ts" transform="translate(57.9 1896.2) scale(0.825 1)" font-size="27.2">0.025</text>
<text class="ts" transform="translate(77.2 1970.9) scale(0.860 1)" font-size="27.0">-1.6</text>
<text class="ts" transform="translate(42.1 1947.1) rotate(-90) scale(0.843 1)" font-size="46.0">absorbance</text>
<text class="ts" transform="translate(80.0 2066.3) scale(0.918 1)" font-size="24.6">8.00</text>
<text class="ts" transform="translate(133.2 2110.1) scale(0.838 1)" font-size="26.2">7.50</text>
<text class="ts" transform="translate(187.8 2152.7) scale(0.864 1)" font-size="26.2">7.00</text>
<text class="ts" transform="translate(241.0 2194.0) scale(0.864 1)" font-size="26.2">6.50</text>
<text class="ts" transform="translate(297.0 2236.7) scale(0.834 1)" font-size="26.3">6.00</text>
<text class="ts" transform="translate(366.3 2236.7) scale(0.806 1)" font-size="26.3">1.00</text>
<text class="ts" transform="translate(459.6 2208.9) scale(0.825 1)" font-size="26.0">1.75</text>
<text class="ts" transform="translate(553.5 2177.5) scale(0.889 1)" font-size="25.6">2.50</text>
<text class="ts" transform="translate(647.4 2150.2) scale(0.860 1)" font-size="25.8">3.25</text>
<text class="ts" transform="translate(742.6 2122.7) scale(0.891 1)" font-size="25.6">4.00</text>
<text class="ts" transform="translate(65.3 2193.3) scale(0.910 1)" font-size="42.7">Intial pH</text>
<text class="ts" transform="translate(597.8 2246.6) scale(0.919 1)" font-size="42.6">Dextrin</text>
<text class="tr" transform="translate(611.0 2295.2) scale(0.935 1)" font-size="48.8">(g%)</text>
<text class="ts" transform="translate(50.0 2353.6) scale(0.764 1)" font-size="43.6">e</text>
<text class="ts" transform="translate(1023.9 1668.5) scale(1.022 1)" font-size="22.3">3.9</text>
<text class="ts" transform="translate(1002.8 1744.8) scale(0.852 1)" font-size="25.9">2.225</text>
<text class="ts" transform="translate(1016.0 1823.9) scale(0.884 1)" font-size="26.1">0.55</text>
<text class="ts" transform="translate(997.5 1900.3) scale(0.897 1)" font-size="25.9">-1.125</text>
<text class="ts" transform="translate(1026.6 1971.7) scale(0.909 1)" font-size="26.3">-2.8</text>
<text class="ts" transform="translate(991.9 1948.0) rotate(-90) scale(1.157 1)" font-size="32.2">absorbance</text>
<text class="ts" transform="translate(1005.3 2064.9) scale(0.893 1)" font-size="24.4">280.00</text>
<text class="ts" transform="translate(1057.3 2107.6) scale(0.888 1)" font-size="24.5">224.00</text>
<text class="ts" transform="translate(1113.2 2150.2) scale(0.871 1)" font-size="24.5">168.00</text>
<text class="ts" transform="translate(1158.5 2188.8) scale(0.859 1)" font-size="24.4">112.00</text>
<text class="ts" transform="translate(1230.4 2230.1) scale(0.873 1)" font-size="24.4">56.00</text>
<text class="ts" transform="translate(1309.0 2230.1) scale(0.869 1)" font-size="24.4">1.00</text>
<text class="ts" transform="translate(1400.8 2203.4) scale(0.815 1)" font-size="24.7">1.75</text>
<text class="ts" transform="translate(1494.0 2173.9) scale(0.835 1)" font-size="26.3">2.50</text>
<text class="ts" transform="translate(1585.0 2145.9) scale(0.874 1)" font-size="24.4">3.25</text>
<text class="ts" transform="translate(1678.6 2119.2) scale(0.898 1)" font-size="24.5">4.00</text>
<text class="ts" transform="translate(955.3 2219.1) scale(0.914 1)" font-size="42.9">inoculum size</text>
<text class="tr" transform="translate(955.3 2262.9) scale(0.863 1)" font-size="43.5">(CFU ×10⁶/ml)</text>
<text class="ts" transform="translate(1536.8 2240.7) scale(0.919 1)" font-size="41.8">Dextrin</text>
<text class="tr" transform="translate(1554.2 2288.6) scale(0.950 1)" font-size="47.1">(g%)</text>
<text class="ts" transform="translate(960.6 2356.6) scale(1.411 1)" font-size="40.0">f</text>
</g>
</svg>
</body></html>
